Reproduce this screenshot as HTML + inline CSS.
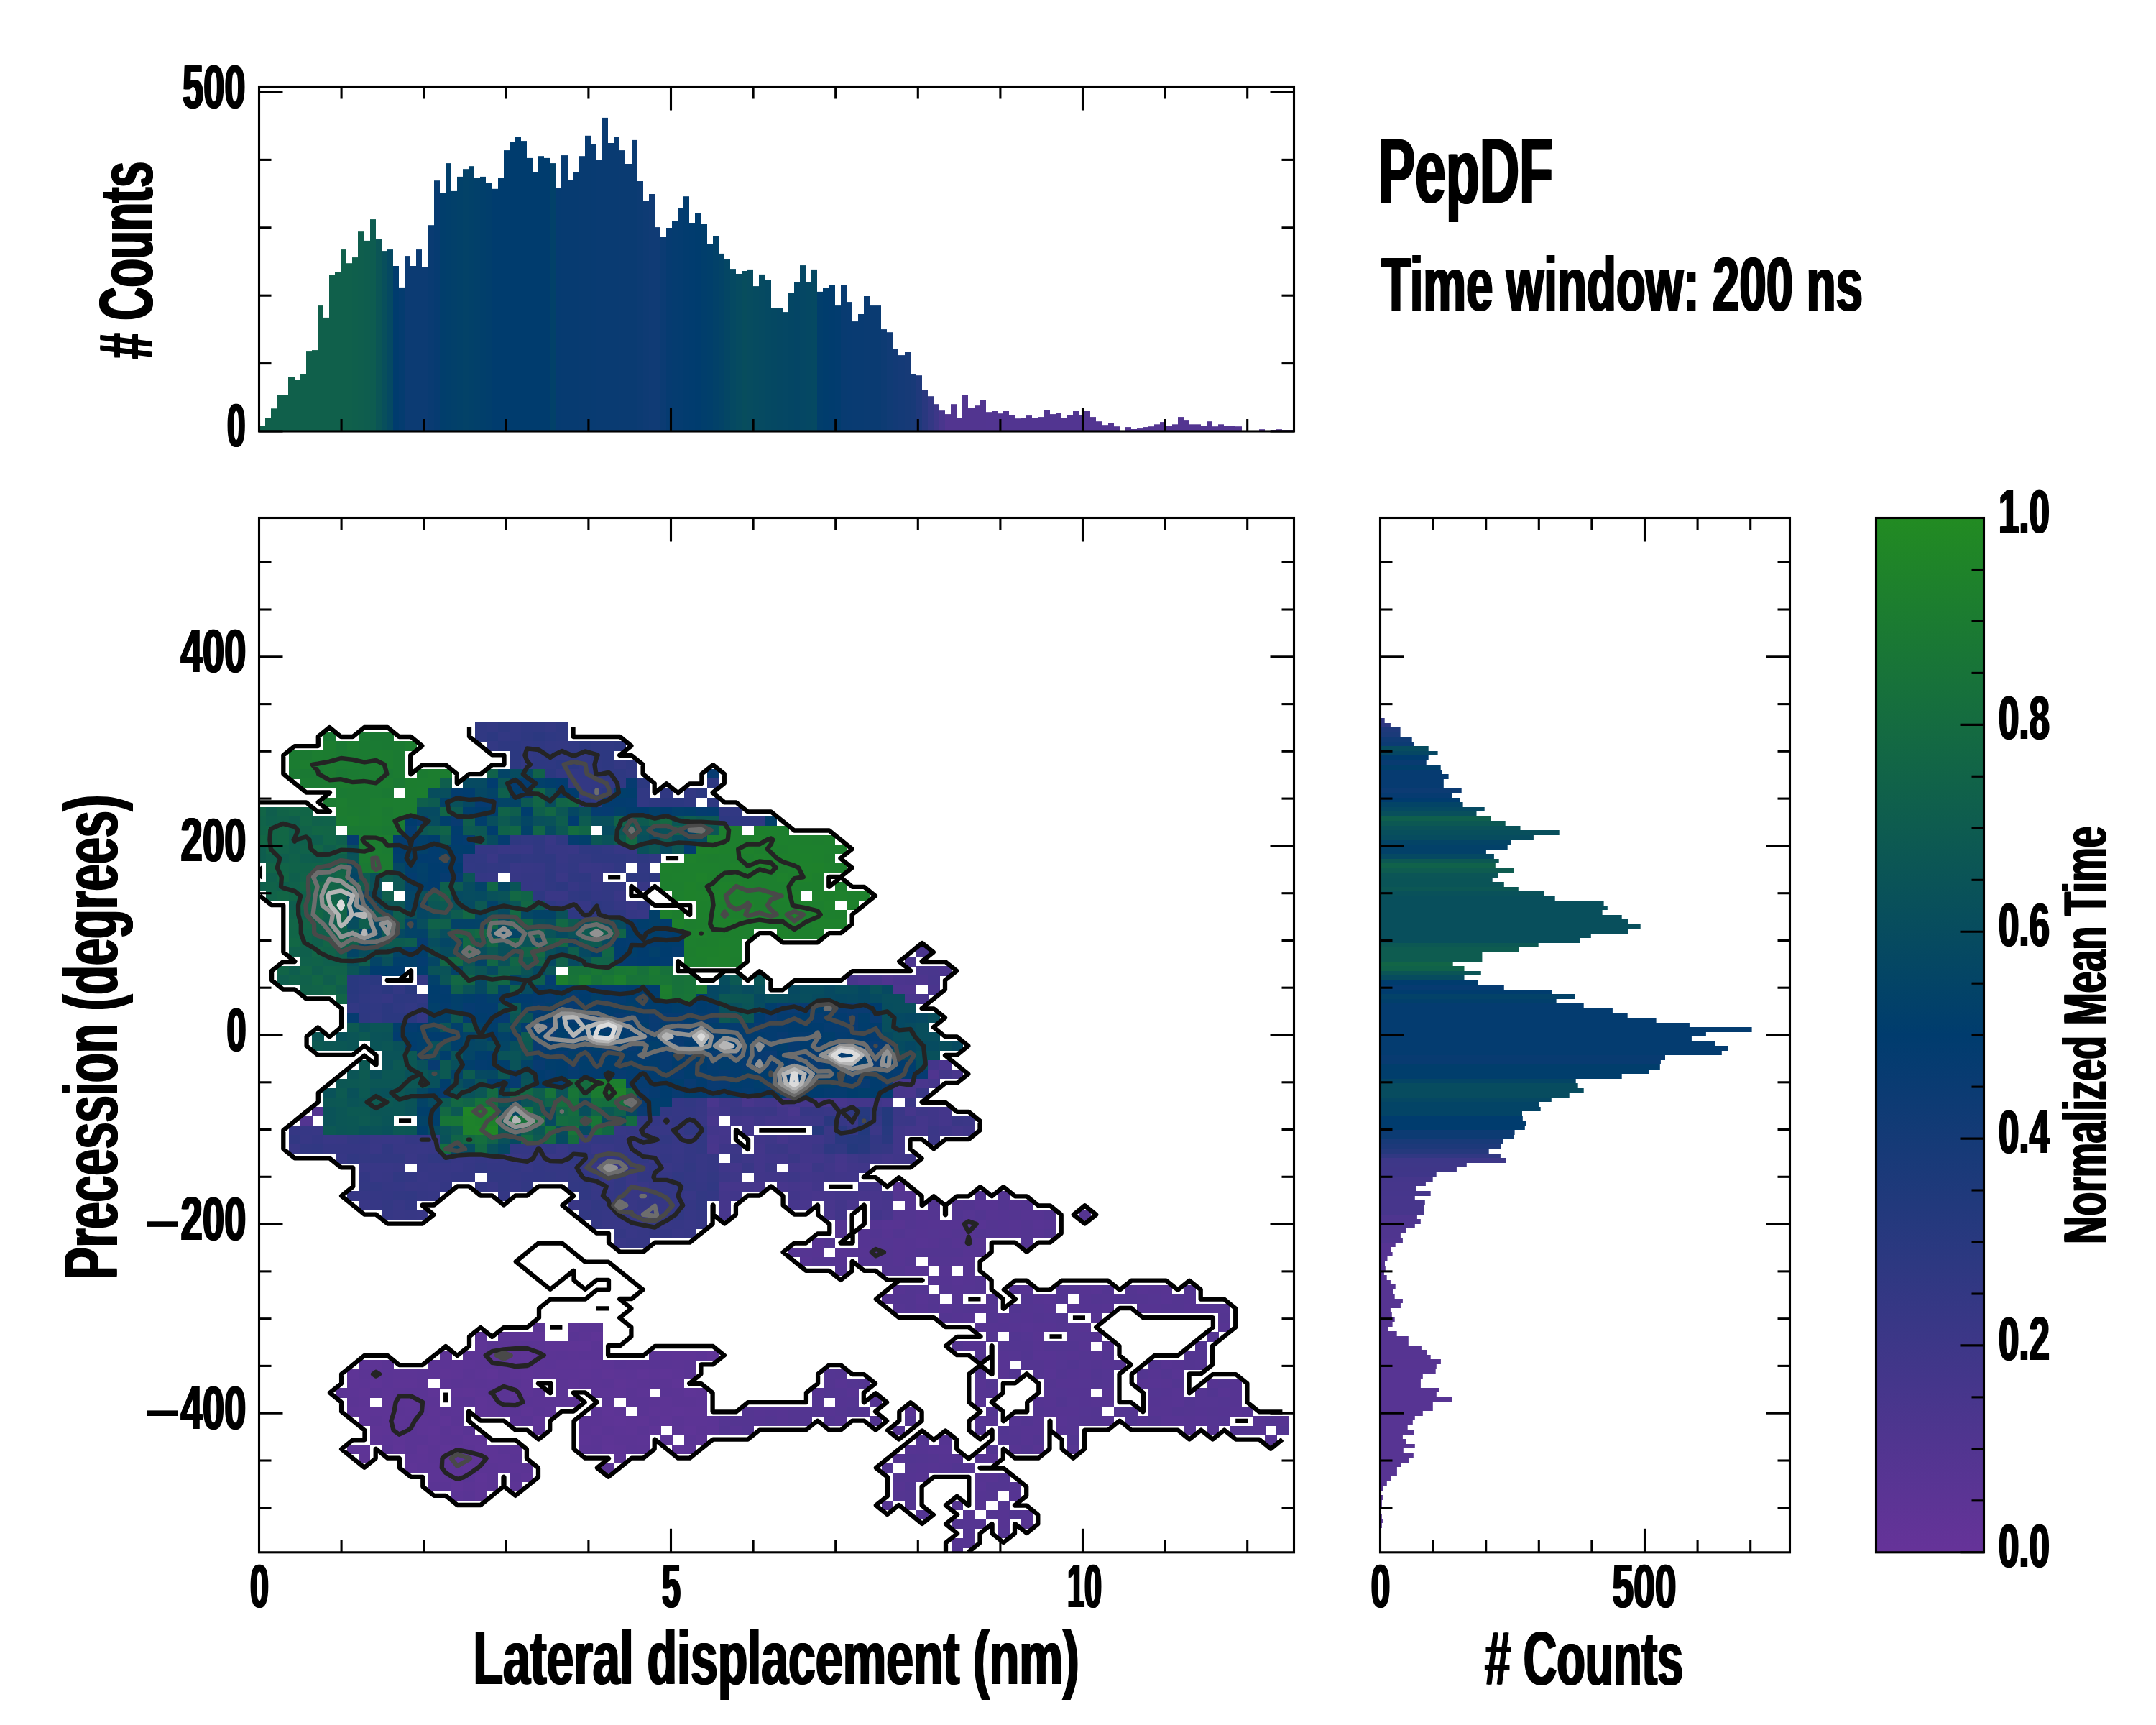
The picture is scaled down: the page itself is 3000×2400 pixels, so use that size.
<!DOCTYPE html><html><head><meta charset="utf-8"><title>PepDF</title><style>html,body{margin:0;padding:0;background:#fff}svg{display:block}text{font-family:"Liberation Sans",sans-serif;fill:#000}</style></head><body><svg width="3000" height="2400" viewBox="0 0 3000 2400"><rect width="3000" height="2400" fill="#fff"/><rect x="361" y="592.0" width="8" height="8.0" fill="#10604b"/>
<rect x="369" y="581.0" width="8" height="19.0" fill="#10604b"/>
<rect x="377" y="568.3" width="8" height="31.7" fill="#10604b"/>
<rect x="385" y="549.1" width="8" height="50.9" fill="#10604b"/>
<rect x="393" y="550.0" width="8" height="50.0" fill="#10604b"/>
<rect x="401" y="524.2" width="9" height="75.8" fill="#10604b"/>
<rect x="410" y="528.0" width="8" height="72.0" fill="#10604b"/>
<rect x="418" y="521.0" width="8" height="79.0" fill="#10604b"/>
<rect x="426" y="489.1" width="8" height="110.9" fill="#10604b"/>
<rect x="434" y="487.1" width="8" height="112.9" fill="#10604b"/>
<rect x="442" y="425.1" width="8" height="174.9" fill="#10604b"/>
<rect x="450" y="441.9" width="8" height="158.1" fill="#10604b"/>
<rect x="458" y="383.0" width="8" height="217.0" fill="#10604b"/>
<rect x="466" y="378.1" width="8" height="221.9" fill="#10604b"/>
<rect x="474" y="347.1" width="8" height="252.9" fill="#10604b"/>
<rect x="482" y="366.2" width="8" height="233.8" fill="#10604b"/>
<rect x="490" y="358.1" width="8" height="241.9" fill="#0f5f4c"/>
<rect x="498" y="322.2" width="9" height="277.8" fill="#0f5e4d"/>
<rect x="507" y="334.9" width="8" height="265.1" fill="#0e5d4e"/>
<rect x="515" y="305.1" width="8" height="294.9" fill="#0e5c50"/>
<rect x="523" y="332.9" width="8" height="267.1" fill="#0b5556"/>
<rect x="531" y="349.1" width="8" height="250.9" fill="#084f5c"/>
<rect x="539" y="347.1" width="8" height="252.9" fill="#054962"/>
<rect x="547" y="370.0" width="8" height="230.0" fill="#003c6e"/>
<rect x="555" y="399.9" width="8" height="200.1" fill="#043c70"/>
<rect x="563" y="356.1" width="8" height="243.9" fill="#0c3b73"/>
<rect x="571" y="370.0" width="8" height="230.0" fill="#0c3b73"/>
<rect x="579" y="347.1" width="8" height="252.9" fill="#0c3b73"/>
<rect x="587" y="371.2" width="8" height="228.8" fill="#0c3b73"/>
<rect x="595" y="313.2" width="9" height="286.8" fill="#093b72"/>
<rect x="604" y="251.2" width="8" height="348.8" fill="#063b71"/>
<rect x="612" y="268.8" width="8" height="331.2" fill="#013e6c"/>
<rect x="620" y="227.1" width="8" height="372.9" fill="#013f6b"/>
<rect x="628" y="265.9" width="8" height="334.1" fill="#02406a"/>
<rect x="636" y="245.9" width="8" height="354.1" fill="#024169"/>
<rect x="644" y="235.2" width="8" height="364.8" fill="#034268"/>
<rect x="652" y="231.2" width="8" height="368.8" fill="#024169"/>
<rect x="660" y="248.0" width="8" height="352.0" fill="#02406a"/>
<rect x="668" y="245.9" width="8" height="354.1" fill="#013f6b"/>
<rect x="676" y="254.1" width="8" height="345.9" fill="#013e6c"/>
<rect x="684" y="262.8" width="9" height="337.2" fill="#003c6e"/>
<rect x="693" y="248.0" width="8" height="352.0" fill="#003c6e"/>
<rect x="701" y="209.1" width="8" height="390.9" fill="#003c6e"/>
<rect x="709" y="197.0" width="8" height="403.0" fill="#003c6e"/>
<rect x="717" y="190.9" width="8" height="409.1" fill="#003c6e"/>
<rect x="725" y="196.1" width="8" height="403.9" fill="#003c6e"/>
<rect x="733" y="219.9" width="8" height="380.1" fill="#003c6e"/>
<rect x="741" y="239.9" width="8" height="360.1" fill="#003c6e"/>
<rect x="749" y="217.2" width="8" height="382.8" fill="#003c6e"/>
<rect x="757" y="219.9" width="8" height="380.1" fill="#003c6e"/>
<rect x="765" y="227.1" width="8" height="372.9" fill="#024169"/>
<rect x="773" y="261.9" width="8" height="338.1" fill="#063b71"/>
<rect x="781" y="216.1" width="9" height="383.9" fill="#073b71"/>
<rect x="790" y="250.0" width="8" height="350.0" fill="#073b71"/>
<rect x="798" y="239.0" width="8" height="361.0" fill="#073b71"/>
<rect x="806" y="217.2" width="8" height="382.8" fill="#083b71"/>
<rect x="814" y="188.8" width="8" height="411.2" fill="#083b71"/>
<rect x="822" y="201.0" width="8" height="399.0" fill="#083b72"/>
<rect x="830" y="223.0" width="8" height="377.0" fill="#093b72"/>
<rect x="838" y="163.9" width="8" height="436.1" fill="#093b72"/>
<rect x="846" y="199.0" width="8" height="401.0" fill="#093b72"/>
<rect x="854" y="190.0" width="8" height="410.0" fill="#093b72"/>
<rect x="862" y="209.1" width="8" height="390.9" fill="#0a3b72"/>
<rect x="870" y="228.0" width="9" height="372.0" fill="#0a3b72"/>
<rect x="879" y="194.9" width="8" height="405.1" fill="#0a3b72"/>
<rect x="887" y="252.0" width="8" height="348.0" fill="#0c3b73"/>
<rect x="895" y="279.9" width="8" height="320.1" fill="#0e3b74"/>
<rect x="903" y="270.0" width="8" height="330.0" fill="#103b75"/>
<rect x="911" y="316.1" width="8" height="283.9" fill="#103b75"/>
<rect x="919" y="330.0" width="8" height="270.0" fill="#0b3b73"/>
<rect x="927" y="317.0" width="8" height="283.0" fill="#063b71"/>
<rect x="935" y="307.1" width="8" height="292.9" fill="#053c70"/>
<rect x="943" y="289.1" width="8" height="310.9" fill="#043c70"/>
<rect x="951" y="273.2" width="8" height="326.8" fill="#023c6f"/>
<rect x="959" y="310.0" width="8" height="290.0" fill="#013c6f"/>
<rect x="967" y="297.0" width="9" height="303.0" fill="#003c6e"/>
<rect x="976" y="312.0" width="8" height="288.0" fill="#013e6c"/>
<rect x="984" y="339.0" width="8" height="261.0" fill="#013f6b"/>
<rect x="992" y="328.0" width="8" height="272.0" fill="#024169"/>
<rect x="1000" y="352.9" width="8" height="247.1" fill="#034367"/>
<rect x="1008" y="361.0" width="8" height="239.0" fill="#044664"/>
<rect x="1016" y="374.1" width="8" height="225.9" fill="#054962"/>
<rect x="1024" y="381.0" width="8" height="219.0" fill="#064b60"/>
<rect x="1032" y="377.0" width="8" height="223.0" fill="#074d5d"/>
<rect x="1040" y="374.9" width="8" height="225.1" fill="#074c5f"/>
<rect x="1048" y="398.1" width="8" height="201.9" fill="#064b60"/>
<rect x="1056" y="381.9" width="8" height="218.1" fill="#064a61"/>
<rect x="1064" y="390.0" width="9" height="210.0" fill="#054962"/>
<rect x="1073" y="428.0" width="8" height="172.0" fill="#054862"/>
<rect x="1081" y="428.0" width="8" height="172.0" fill="#054763"/>
<rect x="1089" y="434.1" width="8" height="165.9" fill="#054764"/>
<rect x="1097" y="407.1" width="8" height="192.9" fill="#044664"/>
<rect x="1105" y="392.0" width="8" height="208.0" fill="#044565"/>
<rect x="1113" y="369.1" width="8" height="230.9" fill="#054764"/>
<rect x="1121" y="392.0" width="8" height="208.0" fill="#054863"/>
<rect x="1129" y="374.9" width="8" height="225.1" fill="#054962"/>
<rect x="1137" y="405.9" width="8" height="194.1" fill="#013e6c"/>
<rect x="1145" y="401.0" width="8" height="199.0" fill="#003d6d"/>
<rect x="1153" y="396.1" width="9" height="203.9" fill="#013c6e"/>
<rect x="1162" y="425.1" width="8" height="174.9" fill="#023c6f"/>
<rect x="1170" y="396.1" width="8" height="203.9" fill="#083b71"/>
<rect x="1178" y="420.1" width="8" height="179.9" fill="#083b72"/>
<rect x="1186" y="447.1" width="8" height="152.9" fill="#093b72"/>
<rect x="1194" y="437.0" width="8" height="163.0" fill="#093b72"/>
<rect x="1202" y="412.0" width="8" height="188.0" fill="#0a3b72"/>
<rect x="1210" y="425.1" width="8" height="174.9" fill="#0a3b72"/>
<rect x="1218" y="425.1" width="8" height="174.9" fill="#0a3b72"/>
<rect x="1226" y="458.1" width="8" height="141.9" fill="#0d3b73"/>
<rect x="1234" y="462.2" width="8" height="137.8" fill="#103b75"/>
<rect x="1242" y="485.9" width="8" height="114.1" fill="#123a76"/>
<rect x="1250" y="494.1" width="9" height="105.9" fill="#143a77"/>
<rect x="1259" y="490.0" width="8" height="110.0" fill="#163a77"/>
<rect x="1267" y="521.0" width="8" height="79.0" fill="#183a78"/>
<rect x="1275" y="522.2" width="8" height="77.8" fill="#1f397b"/>
<rect x="1283" y="543.0" width="8" height="57.0" fill="#29387f"/>
<rect x="1291" y="551.2" width="8" height="48.8" fill="#333884"/>
<rect x="1299" y="562.2" width="8" height="37.8" fill="#3d3788"/>
<rect x="1307" y="571.2" width="8" height="28.8" fill="#49368d"/>
<rect x="1315" y="576.1" width="8" height="23.9" fill="#523590"/>
<rect x="1323" y="562.2" width="8" height="37.8" fill="#523590"/>
<rect x="1331" y="581.0" width="8" height="19.0" fill="#523590"/>
<rect x="1339" y="550.0" width="8" height="50.0" fill="#523590"/>
<rect x="1347" y="568.0" width="9" height="32.0" fill="#523590"/>
<rect x="1356" y="564.2" width="8" height="35.8" fill="#523590"/>
<rect x="1364" y="556.1" width="8" height="43.9" fill="#523590"/>
<rect x="1372" y="573.2" width="8" height="26.8" fill="#523591"/>
<rect x="1380" y="572.0" width="8" height="28.0" fill="#523591"/>
<rect x="1388" y="575.2" width="8" height="24.8" fill="#523591"/>
<rect x="1396" y="572.0" width="8" height="28.0" fill="#523591"/>
<rect x="1404" y="577.0" width="8" height="23.0" fill="#523591"/>
<rect x="1412" y="582.2" width="8" height="17.8" fill="#523591"/>
<rect x="1420" y="581.0" width="8" height="19.0" fill="#523591"/>
<rect x="1428" y="578.1" width="8" height="21.9" fill="#523591"/>
<rect x="1436" y="581.0" width="9" height="19.0" fill="#523591"/>
<rect x="1445" y="580.1" width="8" height="19.9" fill="#523591"/>
<rect x="1453" y="570.0" width="8" height="30.0" fill="#523591"/>
<rect x="1461" y="576.1" width="8" height="23.9" fill="#523591"/>
<rect x="1469" y="574.1" width="8" height="25.9" fill="#523591"/>
<rect x="1477" y="581.0" width="8" height="19.0" fill="#523591"/>
<rect x="1485" y="577.0" width="8" height="23.0" fill="#523591"/>
<rect x="1493" y="572.0" width="8" height="28.0" fill="#523591"/>
<rect x="1501" y="577.0" width="8" height="23.0" fill="#523591"/>
<rect x="1509" y="572.0" width="8" height="28.0" fill="#523591"/>
<rect x="1517" y="580.1" width="8" height="19.9" fill="#523591"/>
<rect x="1525" y="586.2" width="8" height="13.8" fill="#523591"/>
<rect x="1533" y="591.2" width="9" height="8.8" fill="#533591"/>
<rect x="1542" y="588.3" width="8" height="11.7" fill="#533591"/>
<rect x="1550" y="593.2" width="8" height="6.8" fill="#533591"/>
<rect x="1566" y="594.1" width="8" height="5.9" fill="#533591"/>
<rect x="1574" y="597.0" width="8" height="3.0" fill="#533591"/>
<rect x="1582" y="596.1" width="8" height="3.9" fill="#533591"/>
<rect x="1590" y="594.1" width="8" height="5.9" fill="#533591"/>
<rect x="1598" y="593.2" width="8" height="6.8" fill="#533591"/>
<rect x="1606" y="590.3" width="8" height="9.7" fill="#533591"/>
<rect x="1614" y="587.1" width="8" height="12.9" fill="#533591"/>
<rect x="1622" y="592.0" width="9" height="8.0" fill="#533591"/>
<rect x="1631" y="590.3" width="8" height="9.7" fill="#533591"/>
<rect x="1639" y="580.1" width="8" height="19.9" fill="#533591"/>
<rect x="1647" y="585.1" width="8" height="14.9" fill="#533591"/>
<rect x="1655" y="590.3" width="8" height="9.7" fill="#533591"/>
<rect x="1663" y="590.3" width="8" height="9.7" fill="#533591"/>
<rect x="1671" y="592.0" width="8" height="8.0" fill="#533591"/>
<rect x="1679" y="586.2" width="8" height="13.8" fill="#533591"/>
<rect x="1687" y="593.2" width="8" height="6.8" fill="#533591"/>
<rect x="1695" y="590.3" width="8" height="9.7" fill="#533591"/>
<rect x="1703" y="592.6" width="8" height="7.4" fill="#533591"/>
<rect x="1711" y="592.0" width="8" height="8.0" fill="#533591"/>
<rect x="1719" y="593.2" width="9" height="6.8" fill="#533591"/>
<rect x="1744" y="599.3" width="8" height="0.7" fill="#533591"/>
<rect x="1752" y="597.2" width="8" height="2.8" fill="#533591"/>
<rect x="1760" y="599.0" width="8" height="1.0" fill="#543591"/>
<rect x="1768" y="598.1" width="8" height="1.9" fill="#543591"/>
<rect x="1776" y="597.2" width="8" height="2.8" fill="#543591"/>
<rect x="1784" y="598.1" width="8" height="1.9" fill="#543591"/>
<rect x="1792" y="598.1" width="8" height="1.9" fill="#543591"/>
<rect x="1921" y="999" width="5.7" height="7" fill="#333884"/>
<rect x="1921" y="1006" width="13.9" height="6" fill="#2f3882"/>
<rect x="1921" y="1012" width="27.6" height="7" fill="#1f397b"/>
<rect x="1921" y="1019" width="27.6" height="6" fill="#1b3a79"/>
<rect x="1921" y="1025" width="43.7" height="7" fill="#103b75"/>
<rect x="1921" y="1032" width="46.7" height="6" fill="#0c3b73"/>
<rect x="1921" y="1038" width="66.7" height="7" fill="#074c5f"/>
<rect x="1921" y="1045" width="79.6" height="6" fill="#054763"/>
<rect x="1921" y="1051" width="66.7" height="7" fill="#003c6e"/>
<rect x="1921" y="1058" width="63.7" height="6" fill="#083b71"/>
<rect x="1921" y="1064" width="83.7" height="7" fill="#013f6b"/>
<rect x="1921" y="1071" width="85.3" height="6" fill="#063b71"/>
<rect x="1921" y="1077" width="94.6" height="7" fill="#063b71"/>
<rect x="1921" y="1084" width="87.8" height="6" fill="#063b71"/>
<rect x="1921" y="1090" width="87.8" height="7" fill="#063b71"/>
<rect x="1921" y="1097" width="112.7" height="6" fill="#0c3b73"/>
<rect x="1921" y="1103" width="99.6" height="7" fill="#063b71"/>
<rect x="1921" y="1110" width="110.5" height="6" fill="#003c6e"/>
<rect x="1921" y="1116" width="114.6" height="7" fill="#034466"/>
<rect x="1921" y="1123" width="144.7" height="6" fill="#054962"/>
<rect x="1921" y="1129" width="133.5" height="7" fill="#084f5c"/>
<rect x="1921" y="1136" width="153.8" height="6" fill="#0f5f4d"/>
<rect x="1921" y="1142" width="173.7" height="7" fill="#0c5853"/>
<rect x="1921" y="1149" width="194.5" height="6" fill="#0a5259"/>
<rect x="1921" y="1155" width="248.7" height="7" fill="#084f5c"/>
<rect x="1921" y="1162" width="212.9" height="7" fill="#074c5f"/>
<rect x="1921" y="1169" width="181.7" height="6" fill="#034466"/>
<rect x="1921" y="1175" width="176.7" height="7" fill="#024169"/>
<rect x="1921" y="1182" width="146.9" height="6" fill="#024169"/>
<rect x="1921" y="1188" width="157.9" height="7" fill="#054962"/>
<rect x="1921" y="1195" width="164.7" height="6" fill="#0c5853"/>
<rect x="1921" y="1201" width="159.8" height="7" fill="#10624a"/>
<rect x="1921" y="1208" width="185.8" height="6" fill="#0e5c50"/>
<rect x="1921" y="1214" width="163.6" height="7" fill="#0b5556"/>
<rect x="1921" y="1221" width="155.7" height="6" fill="#0a5457"/>
<rect x="1921" y="1227" width="171.8" height="7" fill="#0a5457"/>
<rect x="1921" y="1234" width="191.8" height="6" fill="#0c5754"/>
<rect x="1921" y="1240" width="227.6" height="7" fill="#09515a"/>
<rect x="1921" y="1247" width="242.7" height="6" fill="#084f5c"/>
<rect x="1921" y="1253" width="310.6" height="7" fill="#084f5c"/>
<rect x="1921" y="1260" width="315.8" height="6" fill="#084f5c"/>
<rect x="1921" y="1266" width="308.6" height="7" fill="#084f5c"/>
<rect x="1921" y="1273" width="335.7" height="6" fill="#084f5c"/>
<rect x="1921" y="1279" width="344.8" height="7" fill="#084f5c"/>
<rect x="1921" y="1286" width="361.7" height="6" fill="#084f5c"/>
<rect x="1921" y="1292" width="344.8" height="7" fill="#084f5c"/>
<rect x="1921" y="1299" width="292.8" height="6" fill="#084f5c"/>
<rect x="1921" y="1305" width="277.7" height="7" fill="#084f5c"/>
<rect x="1921" y="1312" width="219.7" height="6" fill="#0c5853"/>
<rect x="1921" y="1318" width="192.6" height="7" fill="#0e5c50"/>
<rect x="1921" y="1325" width="141.4" height="6" fill="#0e5c50"/>
<rect x="1921" y="1331" width="141.4" height="7" fill="#0e5c50"/>
<rect x="1921" y="1338" width="100.7" height="6" fill="#126546"/>
<rect x="1921" y="1344" width="116.5" height="7" fill="#10624a"/>
<rect x="1921" y="1351" width="139.8" height="6" fill="#0b5556"/>
<rect x="1921" y="1357" width="116.5" height="7" fill="#074c5f"/>
<rect x="1921" y="1364" width="135.7" height="6" fill="#003c6e"/>
<rect x="1921" y="1370" width="171.8" height="7" fill="#063b71"/>
<rect x="1921" y="1377" width="238.6" height="6" fill="#003c6e"/>
<rect x="1921" y="1383" width="270.9" height="7" fill="#034268"/>
<rect x="1921" y="1390" width="244.6" height="6" fill="#013f6b"/>
<rect x="1921" y="1396" width="282.7" height="7" fill="#043c70"/>
<rect x="1921" y="1403" width="322.9" height="7" fill="#043c70"/>
<rect x="1921" y="1410" width="343.7" height="6" fill="#043c70"/>
<rect x="1921" y="1416" width="383.6" height="7" fill="#043c70"/>
<rect x="1921" y="1423" width="429.9" height="6" fill="#043c70"/>
<rect x="1921" y="1429" width="516.6" height="7" fill="#043c70"/>
<rect x="1921" y="1436" width="452.9" height="6" fill="#043c70"/>
<rect x="1921" y="1442" width="432.9" height="7" fill="#043c70"/>
<rect x="1921" y="1449" width="465.7" height="6" fill="#043c70"/>
<rect x="1921" y="1455" width="483.0" height="7" fill="#043c70"/>
<rect x="1921" y="1462" width="474.8" height="6" fill="#043c70"/>
<rect x="1921" y="1468" width="396.0" height="7" fill="#083b71"/>
<rect x="1921" y="1475" width="389.9" height="6" fill="#083b71"/>
<rect x="1921" y="1481" width="388.8" height="7" fill="#013e6c"/>
<rect x="1921" y="1488" width="373.8" height="6" fill="#013e6c"/>
<rect x="1921" y="1494" width="335.7" height="7" fill="#013e6c"/>
<rect x="1921" y="1501" width="271.7" height="6" fill="#044565"/>
<rect x="1921" y="1507" width="274.7" height="7" fill="#074c5f"/>
<rect x="1921" y="1514" width="282.7" height="6" fill="#074c5f"/>
<rect x="1921" y="1520" width="262.7" height="7" fill="#074c5f"/>
<rect x="1921" y="1527" width="237.8" height="6" fill="#054763"/>
<rect x="1921" y="1533" width="220.0" height="7" fill="#034466"/>
<rect x="1921" y="1540" width="222.7" height="6" fill="#034466"/>
<rect x="1921" y="1546" width="197.0" height="7" fill="#034466"/>
<rect x="1921" y="1553" width="197.8" height="6" fill="#003c6e"/>
<rect x="1921" y="1559" width="202.7" height="7" fill="#003c6e"/>
<rect x="1921" y="1566" width="200.8" height="6" fill="#003c6e"/>
<rect x="1921" y="1572" width="186.6" height="7" fill="#0c3b73"/>
<rect x="1921" y="1579" width="185.8" height="6" fill="#0c3b73"/>
<rect x="1921" y="1585" width="170.7" height="7" fill="#183a78"/>
<rect x="1921" y="1592" width="167.7" height="6" fill="#1d397a"/>
<rect x="1921" y="1598" width="150.7" height="7" fill="#25397d"/>
<rect x="1921" y="1605" width="166.9" height="6" fill="#313883"/>
<rect x="1921" y="1611" width="174.8" height="7" fill="#3d3788"/>
<rect x="1921" y="1618" width="119.8" height="6" fill="#3e3788"/>
<rect x="1921" y="1624" width="105.9" height="7" fill="#3f3688"/>
<rect x="1921" y="1631" width="77.7" height="6" fill="#3f3689"/>
<rect x="1921" y="1637" width="72.7" height="7" fill="#45368b"/>
<rect x="1921" y="1644" width="62.9" height="6" fill="#46368b"/>
<rect x="1921" y="1650" width="49.8" height="7" fill="#46368b"/>
<rect x="1921" y="1657" width="69.7" height="7" fill="#46368c"/>
<rect x="1921" y="1664" width="47.8" height="6" fill="#47368c"/>
<rect x="1921" y="1670" width="61.8" height="7" fill="#47368c"/>
<rect x="1921" y="1677" width="60.7" height="6" fill="#47368c"/>
<rect x="1921" y="1683" width="60.7" height="7" fill="#47368c"/>
<rect x="1921" y="1690" width="50.9" height="6" fill="#4e358f"/>
<rect x="1921" y="1696" width="55.8" height="7" fill="#4e358f"/>
<rect x="1921" y="1703" width="47.8" height="6" fill="#4e358f"/>
<rect x="1921" y="1709" width="35.8" height="7" fill="#4f358f"/>
<rect x="1921" y="1716" width="27.9" height="6" fill="#4f358f"/>
<rect x="1921" y="1722" width="30.9" height="7" fill="#503590"/>
<rect x="1921" y="1729" width="20.7" height="6" fill="#563492"/>
<rect x="1921" y="1735" width="14.7" height="7" fill="#563492"/>
<rect x="1921" y="1742" width="16.6" height="6" fill="#563492"/>
<rect x="1921" y="1748" width="9.5" height="7" fill="#563492"/>
<rect x="1921" y="1755" width="6.0" height="6" fill="#563492"/>
<rect x="1921" y="1761" width="6.8" height="7" fill="#563492"/>
<rect x="1921" y="1768" width="4.9" height="6" fill="#563492"/>
<rect x="1921" y="1774" width="8.7" height="7" fill="#563492"/>
<rect x="1921" y="1781" width="13.9" height="6" fill="#563492"/>
<rect x="1921" y="1787" width="20.7" height="7" fill="#563492"/>
<rect x="1921" y="1794" width="17.7" height="6" fill="#563492"/>
<rect x="1921" y="1800" width="19.7" height="7" fill="#563492"/>
<rect x="1921" y="1807" width="30.9" height="6" fill="#563492"/>
<rect x="1921" y="1813" width="27.9" height="7" fill="#563492"/>
<rect x="1921" y="1820" width="13.9" height="6" fill="#563492"/>
<rect x="1921" y="1826" width="15.8" height="7" fill="#563492"/>
<rect x="1921" y="1833" width="19.7" height="6" fill="#563492"/>
<rect x="1921" y="1839" width="16.6" height="7" fill="#563492"/>
<rect x="1921" y="1846" width="10.9" height="6" fill="#563492"/>
<rect x="1921" y="1852" width="22.7" height="7" fill="#563492"/>
<rect x="1921" y="1859" width="38.8" height="6" fill="#563492"/>
<rect x="1921" y="1865" width="38.8" height="7" fill="#563492"/>
<rect x="1921" y="1872" width="56.9" height="6" fill="#563492"/>
<rect x="1921" y="1878" width="64.8" height="7" fill="#563492"/>
<rect x="1921" y="1885" width="69.7" height="6" fill="#563492"/>
<rect x="1921" y="1891" width="83.9" height="7" fill="#573492"/>
<rect x="1921" y="1898" width="77.8" height="7" fill="#573492"/>
<rect x="1921" y="1905" width="76.7" height="6" fill="#573493"/>
<rect x="1921" y="1911" width="58.8" height="7" fill="#573493"/>
<rect x="1921" y="1918" width="55.9" height="6" fill="#573493"/>
<rect x="1921" y="1924" width="55.9" height="7" fill="#573493"/>
<rect x="1921" y="1931" width="81.9" height="6" fill="#573493"/>
<rect x="1921" y="1937" width="77.8" height="7" fill="#573493"/>
<rect x="1921" y="1944" width="99.0" height="6" fill="#573493"/>
<rect x="1921" y="1950" width="72.8" height="7" fill="#573493"/>
<rect x="1921" y="1957" width="72.8" height="6" fill="#573493"/>
<rect x="1921" y="1963" width="58.8" height="7" fill="#573493"/>
<rect x="1921" y="1970" width="47.8" height="6" fill="#573493"/>
<rect x="1921" y="1976" width="44.8" height="7" fill="#573493"/>
<rect x="1921" y="1983" width="37.7" height="6" fill="#573493"/>
<rect x="1921" y="1989" width="46.8" height="7" fill="#573493"/>
<rect x="1921" y="1996" width="30.9" height="6" fill="#573493"/>
<rect x="1921" y="2002" width="35.9" height="7" fill="#573493"/>
<rect x="1921" y="2009" width="47.8" height="6" fill="#573493"/>
<rect x="1921" y="2015" width="31.8" height="7" fill="#573493"/>
<rect x="1921" y="2022" width="45.8" height="6" fill="#573493"/>
<rect x="1921" y="2028" width="39.8" height="7" fill="#573493"/>
<rect x="1921" y="2035" width="28.8" height="6" fill="#573493"/>
<rect x="1921" y="2041" width="22.9" height="7" fill="#573493"/>
<rect x="1921" y="2048" width="22.9" height="6" fill="#573493"/>
<rect x="1921" y="2054" width="14.8" height="7" fill="#573493"/>
<rect x="1921" y="2061" width="8.8" height="6" fill="#573493"/>
<rect x="1921" y="2067" width="3.9" height="7" fill="#573493"/>
<rect x="1921" y="2080" width="2.9" height="7" fill="#583493"/>
<rect x="1921" y="2087" width="1.8" height="6" fill="#583493"/>
<rect x="1921" y="2093" width="1.8" height="7" fill="#583493"/>
<rect x="1921" y="2106" width="1.8" height="7" fill="#583493"/>
<rect x="1921" y="2113" width="2.9" height="6" fill="#583493"/>
<rect x="1921" y="2119" width="1.8" height="7" fill="#583493"/>
<clipPath id="mc"><rect x="360.5" y="720.5" width="1440.0" height="1439.3000000000002"/></clipPath>
<g clip-path="url(#mc)">
<g shape-rendering="crispEdges">
<rect x="660.59" y="1005.1" width="16.57" height="13.40" fill="#303882"/>
<rect x="676.76" y="1005.1" width="16.57" height="13.40" fill="#323883"/>
<rect x="692.93" y="1005.1" width="16.57" height="13.40" fill="#2e3881"/>
<rect x="709.10" y="1005.1" width="16.57" height="13.40" fill="#323883"/>
<rect x="725.27" y="1005.1" width="16.57" height="13.40" fill="#2f3882"/>
<rect x="741.44" y="1005.1" width="16.57" height="13.40" fill="#303882"/>
<rect x="757.61" y="1005.1" width="16.57" height="13.40" fill="#333883"/>
<rect x="773.78" y="1005.1" width="16.57" height="13.40" fill="#2f3882"/>
<rect x="450.38" y="1018.1" width="16.57" height="13.50" fill="#1a7933"/>
<rect x="498.89" y="1018.1" width="16.57" height="13.50" fill="#1b7b32"/>
<rect x="515.06" y="1018.1" width="16.57" height="13.50" fill="#1a7933"/>
<rect x="531.23" y="1018.1" width="16.57" height="13.50" fill="#1a7933"/>
<rect x="660.59" y="1018.1" width="16.57" height="13.50" fill="#303882"/>
<rect x="676.76" y="1018.1" width="16.57" height="13.50" fill="#2c3881"/>
<rect x="692.93" y="1018.1" width="16.57" height="13.50" fill="#323883"/>
<rect x="709.10" y="1018.1" width="16.57" height="13.50" fill="#313883"/>
<rect x="725.27" y="1018.1" width="16.57" height="13.50" fill="#2e3881"/>
<rect x="741.44" y="1018.1" width="16.57" height="13.50" fill="#2b3880"/>
<rect x="757.61" y="1018.1" width="16.57" height="13.50" fill="#2e3882"/>
<rect x="773.78" y="1018.1" width="16.57" height="13.50" fill="#303882"/>
<rect x="450.38" y="1031.2" width="16.57" height="13.40" fill="#1c7d2f"/>
<rect x="466.55" y="1031.2" width="16.57" height="13.40" fill="#1a7933"/>
<rect x="482.72" y="1031.2" width="16.57" height="13.40" fill="#1c7d30"/>
<rect x="498.89" y="1031.2" width="16.57" height="13.40" fill="#1b7a32"/>
<rect x="515.06" y="1031.2" width="16.57" height="13.40" fill="#1a7a33"/>
<rect x="531.23" y="1031.2" width="16.57" height="13.40" fill="#1a7933"/>
<rect x="547.40" y="1031.2" width="16.57" height="13.40" fill="#1b7a32"/>
<rect x="563.57" y="1031.2" width="16.57" height="13.40" fill="#1c7d30"/>
<rect x="676.76" y="1031.2" width="16.57" height="13.40" fill="#323883"/>
<rect x="692.93" y="1031.2" width="16.57" height="13.40" fill="#2e3881"/>
<rect x="709.10" y="1031.2" width="16.57" height="13.40" fill="#2e3881"/>
<rect x="725.27" y="1031.2" width="16.57" height="13.40" fill="#303882"/>
<rect x="741.44" y="1031.2" width="16.57" height="13.40" fill="#2f3882"/>
<rect x="757.61" y="1031.2" width="16.57" height="13.40" fill="#323883"/>
<rect x="773.78" y="1031.2" width="16.57" height="13.40" fill="#333883"/>
<rect x="789.95" y="1031.2" width="16.57" height="13.40" fill="#313883"/>
<rect x="806.12" y="1031.2" width="16.57" height="13.40" fill="#2d3881"/>
<rect x="822.29" y="1031.2" width="16.57" height="13.40" fill="#303882"/>
<rect x="838.46" y="1031.2" width="16.57" height="13.40" fill="#303882"/>
<rect x="854.63" y="1031.2" width="16.57" height="13.40" fill="#2e3881"/>
<rect x="401.87" y="1044.2" width="16.57" height="13.50" fill="#1b7b31"/>
<rect x="418.04" y="1044.2" width="16.57" height="13.50" fill="#1b7a32"/>
<rect x="434.21" y="1044.2" width="16.57" height="13.50" fill="#1c7d30"/>
<rect x="450.38" y="1044.2" width="16.57" height="13.50" fill="#1c7c30"/>
<rect x="466.55" y="1044.2" width="16.57" height="13.50" fill="#1b7a32"/>
<rect x="482.72" y="1044.2" width="16.57" height="13.50" fill="#1b7c31"/>
<rect x="498.89" y="1044.2" width="16.57" height="13.50" fill="#1b7b31"/>
<rect x="515.06" y="1044.2" width="16.57" height="13.50" fill="#1c7d2f"/>
<rect x="531.23" y="1044.2" width="16.57" height="13.50" fill="#1c7c30"/>
<rect x="547.40" y="1044.2" width="16.57" height="13.50" fill="#1b7a32"/>
<rect x="709.10" y="1044.2" width="16.57" height="13.50" fill="#2b3880"/>
<rect x="725.27" y="1044.2" width="16.57" height="13.50" fill="#323883"/>
<rect x="741.44" y="1044.2" width="16.57" height="13.50" fill="#303882"/>
<rect x="757.61" y="1044.2" width="16.57" height="13.50" fill="#2d3881"/>
<rect x="773.78" y="1044.2" width="16.57" height="13.50" fill="#323883"/>
<rect x="789.95" y="1044.2" width="16.57" height="13.50" fill="#2f3882"/>
<rect x="806.12" y="1044.2" width="16.57" height="13.50" fill="#333883"/>
<rect x="822.29" y="1044.2" width="16.57" height="13.50" fill="#2e3881"/>
<rect x="838.46" y="1044.2" width="16.57" height="13.50" fill="#2d3881"/>
<rect x="401.87" y="1057.3" width="16.57" height="13.40" fill="#1b7c31"/>
<rect x="418.04" y="1057.3" width="16.57" height="13.40" fill="#1c7d2f"/>
<rect x="434.21" y="1057.3" width="16.57" height="13.40" fill="#1b7a32"/>
<rect x="450.38" y="1057.3" width="16.57" height="13.40" fill="#1c7c30"/>
<rect x="466.55" y="1057.3" width="16.57" height="13.40" fill="#1b7c31"/>
<rect x="482.72" y="1057.3" width="16.57" height="13.40" fill="#1b7c31"/>
<rect x="498.89" y="1057.3" width="16.57" height="13.40" fill="#1b7b31"/>
<rect x="515.06" y="1057.3" width="16.57" height="13.40" fill="#1c7d30"/>
<rect x="531.23" y="1057.3" width="16.57" height="13.40" fill="#1c7d2f"/>
<rect x="547.40" y="1057.3" width="16.57" height="13.40" fill="#1b7b31"/>
<rect x="709.10" y="1057.3" width="16.57" height="13.40" fill="#2e3881"/>
<rect x="725.27" y="1057.3" width="16.57" height="13.40" fill="#333883"/>
<rect x="741.44" y="1057.3" width="16.57" height="13.40" fill="#2d3881"/>
<rect x="757.61" y="1057.3" width="16.57" height="13.40" fill="#2e3881"/>
<rect x="773.78" y="1057.3" width="16.57" height="13.40" fill="#2b3880"/>
<rect x="789.95" y="1057.3" width="16.57" height="13.40" fill="#2c3881"/>
<rect x="806.12" y="1057.3" width="16.57" height="13.40" fill="#313883"/>
<rect x="822.29" y="1057.3" width="16.57" height="13.40" fill="#303882"/>
<rect x="838.46" y="1057.3" width="16.57" height="13.40" fill="#2e3881"/>
<rect x="854.63" y="1057.3" width="16.57" height="13.40" fill="#333883"/>
<rect x="870.80" y="1057.3" width="16.57" height="13.40" fill="#2f3882"/>
<rect x="401.87" y="1070.3" width="16.57" height="13.50" fill="#1b7a33"/>
<rect x="418.04" y="1070.3" width="16.57" height="13.50" fill="#1a7933"/>
<rect x="434.21" y="1070.3" width="16.57" height="13.50" fill="#1a7933"/>
<rect x="450.38" y="1070.3" width="16.57" height="13.50" fill="#1c7c30"/>
<rect x="466.55" y="1070.3" width="16.57" height="13.50" fill="#1a7933"/>
<rect x="482.72" y="1070.3" width="16.57" height="13.50" fill="#1b7a32"/>
<rect x="498.89" y="1070.3" width="16.57" height="13.50" fill="#1b7b32"/>
<rect x="515.06" y="1070.3" width="16.57" height="13.50" fill="#1c7d30"/>
<rect x="531.23" y="1070.3" width="16.57" height="13.50" fill="#1a7933"/>
<rect x="547.40" y="1070.3" width="16.57" height="13.50" fill="#1b7b31"/>
<rect x="579.74" y="1070.3" width="16.57" height="13.50" fill="#1b7b31"/>
<rect x="595.91" y="1070.3" width="16.57" height="13.50" fill="#1c7d2f"/>
<rect x="612.08" y="1070.3" width="16.57" height="13.50" fill="#1c7d30"/>
<rect x="676.76" y="1070.3" width="16.57" height="13.50" fill="#10614a"/>
<rect x="692.93" y="1070.3" width="16.57" height="13.50" fill="#034467"/>
<rect x="709.10" y="1070.3" width="16.57" height="13.50" fill="#064b60"/>
<rect x="725.27" y="1070.3" width="16.57" height="13.50" fill="#054863"/>
<rect x="741.44" y="1070.3" width="16.57" height="13.50" fill="#116249"/>
<rect x="757.61" y="1070.3" width="16.57" height="13.50" fill="#2b3880"/>
<rect x="773.78" y="1070.3" width="16.57" height="13.50" fill="#323883"/>
<rect x="789.95" y="1070.3" width="16.57" height="13.50" fill="#323883"/>
<rect x="806.12" y="1070.3" width="16.57" height="13.50" fill="#313883"/>
<rect x="822.29" y="1070.3" width="16.57" height="13.50" fill="#313883"/>
<rect x="838.46" y="1070.3" width="16.57" height="13.50" fill="#2f3882"/>
<rect x="854.63" y="1070.3" width="16.57" height="13.50" fill="#2e3881"/>
<rect x="870.80" y="1070.3" width="16.57" height="13.50" fill="#313883"/>
<rect x="983.99" y="1070.3" width="16.57" height="13.50" fill="#063b71"/>
<rect x="418.04" y="1083.4" width="16.57" height="13.40" fill="#1b7b32"/>
<rect x="434.21" y="1083.4" width="16.57" height="13.40" fill="#1b7b32"/>
<rect x="450.38" y="1083.4" width="16.57" height="13.40" fill="#1b7c31"/>
<rect x="466.55" y="1083.4" width="16.57" height="13.40" fill="#1c7d2f"/>
<rect x="482.72" y="1083.4" width="16.57" height="13.40" fill="#1c7c30"/>
<rect x="498.89" y="1083.4" width="16.57" height="13.40" fill="#1b7b31"/>
<rect x="515.06" y="1083.4" width="16.57" height="13.40" fill="#1b7c31"/>
<rect x="531.23" y="1083.4" width="16.57" height="13.40" fill="#1c7c30"/>
<rect x="547.40" y="1083.4" width="16.57" height="13.40" fill="#1a7933"/>
<rect x="563.57" y="1083.4" width="16.57" height="13.40" fill="#1c7d2f"/>
<rect x="579.74" y="1083.4" width="16.57" height="13.40" fill="#1c7d30"/>
<rect x="595.91" y="1083.4" width="16.57" height="13.40" fill="#1c7d2f"/>
<rect x="612.08" y="1083.4" width="16.57" height="13.40" fill="#0f5e4d"/>
<rect x="644.42" y="1083.4" width="16.57" height="13.40" fill="#064a61"/>
<rect x="660.59" y="1083.4" width="16.57" height="13.40" fill="#064a61"/>
<rect x="676.76" y="1083.4" width="16.57" height="13.40" fill="#013c6f"/>
<rect x="692.93" y="1083.4" width="16.57" height="13.40" fill="#0b5655"/>
<rect x="709.10" y="1083.4" width="16.57" height="13.40" fill="#043c70"/>
<rect x="725.27" y="1083.4" width="16.57" height="13.40" fill="#043c70"/>
<rect x="741.44" y="1083.4" width="16.57" height="13.40" fill="#02406a"/>
<rect x="757.61" y="1083.4" width="16.57" height="13.40" fill="#013e6c"/>
<rect x="773.78" y="1083.4" width="16.57" height="13.40" fill="#023c6f"/>
<rect x="789.95" y="1083.4" width="16.57" height="13.40" fill="#333883"/>
<rect x="806.12" y="1083.4" width="16.57" height="13.40" fill="#333883"/>
<rect x="822.29" y="1083.4" width="16.57" height="13.40" fill="#323883"/>
<rect x="838.46" y="1083.4" width="16.57" height="13.40" fill="#323883"/>
<rect x="854.63" y="1083.4" width="16.57" height="13.40" fill="#303882"/>
<rect x="870.80" y="1083.4" width="16.57" height="13.40" fill="#063b70"/>
<rect x="886.97" y="1083.4" width="16.57" height="13.40" fill="#2c3880"/>
<rect x="983.99" y="1083.4" width="16.57" height="13.40" fill="#2e3881"/>
<rect x="466.55" y="1096.4" width="16.57" height="13.50" fill="#1a7a33"/>
<rect x="482.72" y="1096.4" width="16.57" height="13.50" fill="#1b7a32"/>
<rect x="498.89" y="1096.4" width="16.57" height="13.50" fill="#1b7a32"/>
<rect x="515.06" y="1096.4" width="16.57" height="13.50" fill="#1b7b32"/>
<rect x="531.23" y="1096.4" width="16.57" height="13.50" fill="#1a7933"/>
<rect x="563.57" y="1096.4" width="16.57" height="13.50" fill="#1c7d30"/>
<rect x="579.74" y="1096.4" width="16.57" height="13.50" fill="#1c7e2f"/>
<rect x="595.91" y="1096.4" width="16.57" height="13.50" fill="#074d5d"/>
<rect x="612.08" y="1096.4" width="16.57" height="13.50" fill="#084e5d"/>
<rect x="628.25" y="1096.4" width="16.57" height="13.50" fill="#033c6f"/>
<rect x="644.42" y="1096.4" width="16.57" height="13.50" fill="#013c6f"/>
<rect x="660.59" y="1096.4" width="16.57" height="13.50" fill="#054763"/>
<rect x="676.76" y="1096.4" width="16.57" height="13.50" fill="#034367"/>
<rect x="692.93" y="1096.4" width="16.57" height="13.50" fill="#0f604c"/>
<rect x="709.10" y="1096.4" width="16.57" height="13.50" fill="#013e6c"/>
<rect x="725.27" y="1096.4" width="16.57" height="13.50" fill="#073b71"/>
<rect x="741.44" y="1096.4" width="16.57" height="13.50" fill="#126646"/>
<rect x="757.61" y="1096.4" width="16.57" height="13.50" fill="#09505a"/>
<rect x="773.78" y="1096.4" width="16.57" height="13.50" fill="#003d6d"/>
<rect x="789.95" y="1096.4" width="16.57" height="13.50" fill="#003c6e"/>
<rect x="806.12" y="1096.4" width="16.57" height="13.50" fill="#333883"/>
<rect x="822.29" y="1096.4" width="16.57" height="13.50" fill="#2f3882"/>
<rect x="838.46" y="1096.4" width="16.57" height="13.50" fill="#2b3880"/>
<rect x="854.63" y="1096.4" width="16.57" height="13.50" fill="#013f6b"/>
<rect x="870.80" y="1096.4" width="16.57" height="13.50" fill="#013e6c"/>
<rect x="886.97" y="1096.4" width="16.57" height="13.50" fill="#313883"/>
<rect x="919.31" y="1096.4" width="16.57" height="13.50" fill="#303882"/>
<rect x="951.65" y="1096.4" width="16.57" height="13.50" fill="#323883"/>
<rect x="967.82" y="1096.4" width="16.57" height="13.50" fill="#2d3881"/>
<rect x="450.38" y="1109.5" width="16.57" height="13.40" fill="#1b7b31"/>
<rect x="466.55" y="1109.5" width="16.57" height="13.40" fill="#1c7d30"/>
<rect x="482.72" y="1109.5" width="16.57" height="13.40" fill="#1b7a32"/>
<rect x="498.89" y="1109.5" width="16.57" height="13.40" fill="#1b7a32"/>
<rect x="515.06" y="1109.5" width="16.57" height="13.40" fill="#1c7d30"/>
<rect x="531.23" y="1109.5" width="16.57" height="13.40" fill="#1c7d2f"/>
<rect x="547.40" y="1109.5" width="16.57" height="13.40" fill="#1c7d30"/>
<rect x="563.57" y="1109.5" width="16.57" height="13.40" fill="#1c7d30"/>
<rect x="579.74" y="1109.5" width="16.57" height="13.40" fill="#0f5f4c"/>
<rect x="595.91" y="1109.5" width="16.57" height="13.40" fill="#0d5b50"/>
<rect x="612.08" y="1109.5" width="16.57" height="13.40" fill="#024169"/>
<rect x="628.25" y="1109.5" width="16.57" height="13.40" fill="#09505b"/>
<rect x="644.42" y="1109.5" width="16.57" height="13.40" fill="#054863"/>
<rect x="660.59" y="1109.5" width="16.57" height="13.40" fill="#063b71"/>
<rect x="676.76" y="1109.5" width="16.57" height="13.40" fill="#063b71"/>
<rect x="692.93" y="1109.5" width="16.57" height="13.40" fill="#034466"/>
<rect x="709.10" y="1109.5" width="16.57" height="13.40" fill="#034367"/>
<rect x="725.27" y="1109.5" width="16.57" height="13.40" fill="#0c5952"/>
<rect x="741.44" y="1109.5" width="16.57" height="13.40" fill="#126646"/>
<rect x="757.61" y="1109.5" width="16.57" height="13.40" fill="#074c5e"/>
<rect x="773.78" y="1109.5" width="16.57" height="13.40" fill="#126547"/>
<rect x="789.95" y="1109.5" width="16.57" height="13.40" fill="#136844"/>
<rect x="806.12" y="1109.5" width="16.57" height="13.40" fill="#2b3880"/>
<rect x="822.29" y="1109.5" width="16.57" height="13.40" fill="#303882"/>
<rect x="838.46" y="1109.5" width="16.57" height="13.40" fill="#033c6f"/>
<rect x="854.63" y="1109.5" width="16.57" height="13.40" fill="#033c6f"/>
<rect x="870.80" y="1109.5" width="16.57" height="13.40" fill="#043c70"/>
<rect x="886.97" y="1109.5" width="16.57" height="13.40" fill="#313883"/>
<rect x="903.14" y="1109.5" width="16.57" height="13.40" fill="#2e3881"/>
<rect x="919.31" y="1109.5" width="16.57" height="13.40" fill="#2c3880"/>
<rect x="935.48" y="1109.5" width="16.57" height="13.40" fill="#2c3881"/>
<rect x="951.65" y="1109.5" width="16.57" height="13.40" fill="#2f3882"/>
<rect x="983.99" y="1109.5" width="16.57" height="13.40" fill="#2e3881"/>
<rect x="353.36" y="1122.5" width="16.57" height="13.40" fill="#126547"/>
<rect x="369.53" y="1122.5" width="16.57" height="13.40" fill="#0f5e4d"/>
<rect x="385.70" y="1122.5" width="16.57" height="13.40" fill="#116348"/>
<rect x="401.87" y="1122.5" width="16.57" height="13.40" fill="#126646"/>
<rect x="418.04" y="1122.5" width="16.57" height="13.40" fill="#116547"/>
<rect x="466.55" y="1122.5" width="16.57" height="13.40" fill="#1c7c30"/>
<rect x="482.72" y="1122.5" width="16.57" height="13.40" fill="#1b7b31"/>
<rect x="498.89" y="1122.5" width="16.57" height="13.40" fill="#1b7a33"/>
<rect x="515.06" y="1122.5" width="16.57" height="13.40" fill="#1c7d30"/>
<rect x="531.23" y="1122.5" width="16.57" height="13.40" fill="#1b7a32"/>
<rect x="547.40" y="1122.5" width="16.57" height="13.40" fill="#1c7d30"/>
<rect x="563.57" y="1122.5" width="16.57" height="13.40" fill="#1c7d2f"/>
<rect x="579.74" y="1122.5" width="16.57" height="13.40" fill="#064a61"/>
<rect x="595.91" y="1122.5" width="16.57" height="13.40" fill="#064a61"/>
<rect x="612.08" y="1122.5" width="16.57" height="13.40" fill="#126646"/>
<rect x="628.25" y="1122.5" width="16.57" height="13.40" fill="#0d5a51"/>
<rect x="644.42" y="1122.5" width="16.57" height="13.40" fill="#013e6c"/>
<rect x="660.59" y="1122.5" width="16.57" height="13.40" fill="#003c6e"/>
<rect x="676.76" y="1122.5" width="16.57" height="13.40" fill="#013d6d"/>
<rect x="692.93" y="1122.5" width="16.57" height="13.40" fill="#116348"/>
<rect x="709.10" y="1122.5" width="16.57" height="13.40" fill="#0f5e4d"/>
<rect x="725.27" y="1122.5" width="16.57" height="13.40" fill="#003d6d"/>
<rect x="741.44" y="1122.5" width="16.57" height="13.40" fill="#0f5f4c"/>
<rect x="757.61" y="1122.5" width="16.57" height="13.40" fill="#136744"/>
<rect x="773.78" y="1122.5" width="16.57" height="13.40" fill="#0c5754"/>
<rect x="789.95" y="1122.5" width="16.57" height="13.40" fill="#054763"/>
<rect x="806.12" y="1122.5" width="16.57" height="13.40" fill="#095159"/>
<rect x="822.29" y="1122.5" width="16.57" height="13.40" fill="#053c70"/>
<rect x="838.46" y="1122.5" width="16.57" height="13.40" fill="#063b71"/>
<rect x="854.63" y="1122.5" width="16.57" height="13.40" fill="#02406a"/>
<rect x="870.80" y="1122.5" width="16.57" height="13.40" fill="#013d6d"/>
<rect x="886.97" y="1122.5" width="16.57" height="13.40" fill="#003c6e"/>
<rect x="903.14" y="1122.5" width="16.57" height="13.40" fill="#02406a"/>
<rect x="919.31" y="1122.5" width="16.57" height="13.40" fill="#013c6e"/>
<rect x="935.48" y="1122.5" width="16.57" height="13.40" fill="#02406b"/>
<rect x="951.65" y="1122.5" width="16.57" height="13.40" fill="#013f6b"/>
<rect x="967.82" y="1122.5" width="16.57" height="13.40" fill="#043c6f"/>
<rect x="983.99" y="1122.5" width="16.57" height="13.40" fill="#033c6f"/>
<rect x="1000.16" y="1122.5" width="16.57" height="13.40" fill="#313882"/>
<rect x="1016.33" y="1122.5" width="16.57" height="13.40" fill="#313883"/>
<rect x="353.36" y="1135.5" width="16.57" height="13.50" fill="#116349"/>
<rect x="369.53" y="1135.5" width="16.57" height="13.50" fill="#0f604c"/>
<rect x="385.70" y="1135.5" width="16.57" height="13.50" fill="#10614a"/>
<rect x="401.87" y="1135.5" width="16.57" height="13.50" fill="#0f5e4d"/>
<rect x="418.04" y="1135.5" width="16.57" height="13.50" fill="#126646"/>
<rect x="434.21" y="1135.5" width="16.57" height="13.50" fill="#10614b"/>
<rect x="450.38" y="1135.5" width="16.57" height="13.50" fill="#10624a"/>
<rect x="466.55" y="1135.5" width="16.57" height="13.50" fill="#1b7c31"/>
<rect x="482.72" y="1135.5" width="16.57" height="13.50" fill="#1c7d2f"/>
<rect x="498.89" y="1135.5" width="16.57" height="13.50" fill="#1b7b32"/>
<rect x="515.06" y="1135.5" width="16.57" height="13.50" fill="#1c7d2f"/>
<rect x="531.23" y="1135.5" width="16.57" height="13.50" fill="#1b7b31"/>
<rect x="547.40" y="1135.5" width="16.57" height="13.50" fill="#1b7b31"/>
<rect x="563.57" y="1135.5" width="16.57" height="13.50" fill="#003c6e"/>
<rect x="579.74" y="1135.5" width="16.57" height="13.50" fill="#073b71"/>
<rect x="595.91" y="1135.5" width="16.57" height="13.50" fill="#074c5f"/>
<rect x="612.08" y="1135.5" width="16.57" height="13.50" fill="#013f6b"/>
<rect x="628.25" y="1135.5" width="16.57" height="13.50" fill="#083b71"/>
<rect x="644.42" y="1135.5" width="16.57" height="13.50" fill="#0f5e4d"/>
<rect x="660.59" y="1135.5" width="16.57" height="13.50" fill="#013e6c"/>
<rect x="676.76" y="1135.5" width="16.57" height="13.50" fill="#084e5d"/>
<rect x="692.93" y="1135.5" width="16.57" height="13.50" fill="#0d5a51"/>
<rect x="709.10" y="1135.5" width="16.57" height="13.50" fill="#095259"/>
<rect x="725.27" y="1135.5" width="16.57" height="13.50" fill="#044664"/>
<rect x="741.44" y="1135.5" width="16.57" height="13.50" fill="#09505b"/>
<rect x="757.61" y="1135.5" width="16.57" height="13.50" fill="#095259"/>
<rect x="773.78" y="1135.5" width="16.57" height="13.50" fill="#0e5d4e"/>
<rect x="789.95" y="1135.5" width="16.57" height="13.50" fill="#013c6f"/>
<rect x="806.12" y="1135.5" width="16.57" height="13.50" fill="#0d5b50"/>
<rect x="822.29" y="1135.5" width="16.57" height="13.50" fill="#084e5d"/>
<rect x="838.46" y="1135.5" width="16.57" height="13.50" fill="#084f5b"/>
<rect x="854.63" y="1135.5" width="16.57" height="13.50" fill="#116448"/>
<rect x="870.80" y="1135.5" width="16.57" height="13.50" fill="#0c5952"/>
<rect x="886.97" y="1135.5" width="16.57" height="13.50" fill="#0d5b50"/>
<rect x="903.14" y="1135.5" width="16.57" height="13.50" fill="#116348"/>
<rect x="919.31" y="1135.5" width="16.57" height="13.50" fill="#146942"/>
<rect x="935.48" y="1135.5" width="16.57" height="13.50" fill="#0b5655"/>
<rect x="951.65" y="1135.5" width="16.57" height="13.50" fill="#0e5d4e"/>
<rect x="967.82" y="1135.5" width="16.57" height="13.50" fill="#0c5952"/>
<rect x="983.99" y="1135.5" width="16.57" height="13.50" fill="#0c5952"/>
<rect x="1000.16" y="1135.5" width="16.57" height="13.50" fill="#2d3881"/>
<rect x="1016.33" y="1135.5" width="16.57" height="13.50" fill="#2f3882"/>
<rect x="1032.50" y="1135.5" width="16.57" height="13.50" fill="#2f3882"/>
<rect x="1048.67" y="1135.5" width="16.57" height="13.50" fill="#2f3882"/>
<rect x="1064.84" y="1135.5" width="16.57" height="13.50" fill="#02406a"/>
<rect x="353.36" y="1148.6" width="16.57" height="13.40" fill="#116448"/>
<rect x="369.53" y="1148.6" width="16.57" height="13.40" fill="#126546"/>
<rect x="385.70" y="1148.6" width="16.57" height="13.40" fill="#126645"/>
<rect x="401.87" y="1148.6" width="16.57" height="13.40" fill="#0f604c"/>
<rect x="418.04" y="1148.6" width="16.57" height="13.40" fill="#116249"/>
<rect x="434.21" y="1148.6" width="16.57" height="13.40" fill="#126645"/>
<rect x="450.38" y="1148.6" width="16.57" height="13.40" fill="#126546"/>
<rect x="482.72" y="1148.6" width="16.57" height="13.40" fill="#1a7933"/>
<rect x="498.89" y="1148.6" width="16.57" height="13.40" fill="#1a7933"/>
<rect x="515.06" y="1148.6" width="16.57" height="13.40" fill="#1b7b31"/>
<rect x="531.23" y="1148.6" width="16.57" height="13.40" fill="#1a7933"/>
<rect x="547.40" y="1148.6" width="16.57" height="13.40" fill="#1b7a32"/>
<rect x="563.57" y="1148.6" width="16.57" height="13.40" fill="#053c70"/>
<rect x="579.74" y="1148.6" width="16.57" height="13.40" fill="#0c5854"/>
<rect x="595.91" y="1148.6" width="16.57" height="13.40" fill="#0e5d4e"/>
<rect x="612.08" y="1148.6" width="16.57" height="13.40" fill="#116348"/>
<rect x="628.25" y="1148.6" width="16.57" height="13.40" fill="#013d6d"/>
<rect x="644.42" y="1148.6" width="16.57" height="13.40" fill="#0d5a51"/>
<rect x="660.59" y="1148.6" width="16.57" height="13.40" fill="#0c5754"/>
<rect x="676.76" y="1148.6" width="16.57" height="13.40" fill="#003d6d"/>
<rect x="692.93" y="1148.6" width="16.57" height="13.40" fill="#106249"/>
<rect x="709.10" y="1148.6" width="16.57" height="13.40" fill="#126745"/>
<rect x="725.27" y="1148.6" width="16.57" height="13.40" fill="#024169"/>
<rect x="741.44" y="1148.6" width="16.57" height="13.40" fill="#126646"/>
<rect x="757.61" y="1148.6" width="16.57" height="13.40" fill="#064a61"/>
<rect x="773.78" y="1148.6" width="16.57" height="13.40" fill="#0c5853"/>
<rect x="789.95" y="1148.6" width="16.57" height="13.40" fill="#156d3f"/>
<rect x="806.12" y="1148.6" width="16.57" height="13.40" fill="#126646"/>
<rect x="838.46" y="1148.6" width="16.57" height="13.40" fill="#064b60"/>
<rect x="854.63" y="1148.6" width="16.57" height="13.40" fill="#0b5655"/>
<rect x="870.80" y="1148.6" width="16.57" height="13.40" fill="#0d5952"/>
<rect x="886.97" y="1148.6" width="16.57" height="13.40" fill="#095259"/>
<rect x="903.14" y="1148.6" width="16.57" height="13.40" fill="#074c5f"/>
<rect x="919.31" y="1148.6" width="16.57" height="13.40" fill="#09515a"/>
<rect x="935.48" y="1148.6" width="16.57" height="13.40" fill="#10624a"/>
<rect x="951.65" y="1148.6" width="16.57" height="13.40" fill="#044566"/>
<rect x="967.82" y="1148.6" width="16.57" height="13.40" fill="#0d5b51"/>
<rect x="983.99" y="1148.6" width="16.57" height="13.40" fill="#0b5655"/>
<rect x="1000.16" y="1148.6" width="16.57" height="13.40" fill="#1d7e2e"/>
<rect x="1016.33" y="1148.6" width="16.57" height="13.40" fill="#1d7f2d"/>
<rect x="1048.67" y="1148.6" width="16.57" height="13.40" fill="#1d802c"/>
<rect x="1064.84" y="1148.6" width="16.57" height="13.40" fill="#1d802d"/>
<rect x="1081.01" y="1148.6" width="16.57" height="13.40" fill="#1d7f2e"/>
<rect x="353.36" y="1161.6" width="16.57" height="13.50" fill="#126745"/>
<rect x="369.53" y="1161.6" width="16.57" height="13.50" fill="#116547"/>
<rect x="385.70" y="1161.6" width="16.57" height="13.50" fill="#126645"/>
<rect x="401.87" y="1161.6" width="16.57" height="13.50" fill="#0f5e4d"/>
<rect x="418.04" y="1161.6" width="16.57" height="13.50" fill="#0f604c"/>
<rect x="434.21" y="1161.6" width="16.57" height="13.50" fill="#0e5e4e"/>
<rect x="450.38" y="1161.6" width="16.57" height="13.50" fill="#116547"/>
<rect x="466.55" y="1161.6" width="16.57" height="13.50" fill="#0f604c"/>
<rect x="482.72" y="1161.6" width="16.57" height="13.50" fill="#053c70"/>
<rect x="498.89" y="1161.6" width="16.57" height="13.50" fill="#1b7b32"/>
<rect x="515.06" y="1161.6" width="16.57" height="13.50" fill="#1c7d2f"/>
<rect x="531.23" y="1161.6" width="16.57" height="13.50" fill="#1c7d30"/>
<rect x="547.40" y="1161.6" width="16.57" height="13.50" fill="#033c6f"/>
<rect x="563.57" y="1161.6" width="16.57" height="13.50" fill="#043c70"/>
<rect x="579.74" y="1161.6" width="16.57" height="13.50" fill="#02406a"/>
<rect x="595.91" y="1161.6" width="16.57" height="13.50" fill="#003d6d"/>
<rect x="612.08" y="1161.6" width="16.57" height="13.50" fill="#0d5952"/>
<rect x="628.25" y="1161.6" width="16.57" height="13.50" fill="#023c6f"/>
<rect x="644.42" y="1161.6" width="16.57" height="13.50" fill="#043c70"/>
<rect x="660.59" y="1161.6" width="16.57" height="13.50" fill="#0c5853"/>
<rect x="676.76" y="1161.6" width="16.57" height="13.50" fill="#074b5f"/>
<rect x="692.93" y="1161.6" width="16.57" height="13.50" fill="#053c70"/>
<rect x="709.10" y="1161.6" width="16.57" height="13.50" fill="#2e3881"/>
<rect x="725.27" y="1161.6" width="16.57" height="13.50" fill="#313883"/>
<rect x="741.44" y="1161.6" width="16.57" height="13.50" fill="#2f3882"/>
<rect x="757.61" y="1161.6" width="16.57" height="13.50" fill="#383786"/>
<rect x="773.78" y="1161.6" width="16.57" height="13.50" fill="#2f3882"/>
<rect x="789.95" y="1161.6" width="16.57" height="13.50" fill="#053c70"/>
<rect x="806.12" y="1161.6" width="16.57" height="13.50" fill="#013f6b"/>
<rect x="822.29" y="1161.6" width="16.57" height="13.50" fill="#0b5754"/>
<rect x="838.46" y="1161.6" width="16.57" height="13.50" fill="#095259"/>
<rect x="854.63" y="1161.6" width="16.57" height="13.50" fill="#0d5b51"/>
<rect x="870.80" y="1161.6" width="16.57" height="13.50" fill="#146a42"/>
<rect x="886.97" y="1161.6" width="16.57" height="13.50" fill="#084f5c"/>
<rect x="903.14" y="1161.6" width="16.57" height="13.50" fill="#064961"/>
<rect x="919.31" y="1161.6" width="16.57" height="13.50" fill="#0d5a52"/>
<rect x="935.48" y="1161.6" width="16.57" height="13.50" fill="#084e5d"/>
<rect x="951.65" y="1161.6" width="16.57" height="13.50" fill="#054862"/>
<rect x="967.82" y="1161.6" width="16.57" height="13.50" fill="#064b60"/>
<rect x="983.99" y="1161.6" width="16.57" height="13.50" fill="#1d7f2e"/>
<rect x="1000.16" y="1161.6" width="16.57" height="13.50" fill="#1d7f2e"/>
<rect x="1016.33" y="1161.6" width="16.57" height="13.50" fill="#1d7f2d"/>
<rect x="1032.50" y="1161.6" width="16.57" height="13.50" fill="#1d7f2d"/>
<rect x="1048.67" y="1161.6" width="16.57" height="13.50" fill="#1e812c"/>
<rect x="1064.84" y="1161.6" width="16.57" height="13.50" fill="#1d7f2d"/>
<rect x="1081.01" y="1161.6" width="16.57" height="13.50" fill="#1d802d"/>
<rect x="1097.18" y="1161.6" width="16.57" height="13.50" fill="#1d7f2e"/>
<rect x="1113.35" y="1161.6" width="16.57" height="13.50" fill="#1d7f2d"/>
<rect x="1129.52" y="1161.6" width="16.57" height="13.50" fill="#1d7e2e"/>
<rect x="1145.69" y="1161.6" width="16.57" height="13.50" fill="#1d7f2d"/>
<rect x="353.36" y="1174.7" width="16.57" height="13.40" fill="#0e5d4e"/>
<rect x="369.53" y="1174.7" width="16.57" height="13.40" fill="#116447"/>
<rect x="385.70" y="1174.7" width="16.57" height="13.40" fill="#116249"/>
<rect x="401.87" y="1174.7" width="16.57" height="13.40" fill="#0f5f4c"/>
<rect x="418.04" y="1174.7" width="16.57" height="13.40" fill="#10624a"/>
<rect x="434.21" y="1174.7" width="16.57" height="13.40" fill="#126646"/>
<rect x="450.38" y="1174.7" width="16.57" height="13.40" fill="#0f5e4d"/>
<rect x="466.55" y="1174.7" width="16.57" height="13.40" fill="#126547"/>
<rect x="482.72" y="1174.7" width="16.57" height="13.40" fill="#084e5c"/>
<rect x="498.89" y="1174.7" width="16.57" height="13.40" fill="#1b7b31"/>
<rect x="515.06" y="1174.7" width="16.57" height="13.40" fill="#1c7d30"/>
<rect x="531.23" y="1174.7" width="16.57" height="13.40" fill="#1b7b32"/>
<rect x="547.40" y="1174.7" width="16.57" height="13.40" fill="#003c6e"/>
<rect x="563.57" y="1174.7" width="16.57" height="13.40" fill="#013e6c"/>
<rect x="579.74" y="1174.7" width="16.57" height="13.40" fill="#02416a"/>
<rect x="595.91" y="1174.7" width="16.57" height="13.40" fill="#023c6f"/>
<rect x="612.08" y="1174.7" width="16.57" height="13.40" fill="#013f6b"/>
<rect x="628.25" y="1174.7" width="16.57" height="13.40" fill="#013e6c"/>
<rect x="644.42" y="1174.7" width="16.57" height="13.40" fill="#013d6d"/>
<rect x="660.59" y="1174.7" width="16.57" height="13.40" fill="#343784"/>
<rect x="676.76" y="1174.7" width="16.57" height="13.40" fill="#353784"/>
<rect x="692.93" y="1174.7" width="16.57" height="13.40" fill="#383786"/>
<rect x="709.10" y="1174.7" width="16.57" height="13.40" fill="#383785"/>
<rect x="725.27" y="1174.7" width="16.57" height="13.40" fill="#383786"/>
<rect x="741.44" y="1174.7" width="16.57" height="13.40" fill="#303882"/>
<rect x="757.61" y="1174.7" width="16.57" height="13.40" fill="#363785"/>
<rect x="773.78" y="1174.7" width="16.57" height="13.40" fill="#373785"/>
<rect x="789.95" y="1174.7" width="16.57" height="13.40" fill="#383786"/>
<rect x="806.12" y="1174.7" width="16.57" height="13.40" fill="#2f3882"/>
<rect x="822.29" y="1174.7" width="16.57" height="13.40" fill="#2e3882"/>
<rect x="838.46" y="1174.7" width="16.57" height="13.40" fill="#313883"/>
<rect x="854.63" y="1174.7" width="16.57" height="13.40" fill="#363785"/>
<rect x="870.80" y="1174.7" width="16.57" height="13.40" fill="#363785"/>
<rect x="886.97" y="1174.7" width="16.57" height="13.40" fill="#09505b"/>
<rect x="903.14" y="1174.7" width="16.57" height="13.40" fill="#0c5754"/>
<rect x="919.31" y="1174.7" width="16.57" height="13.40" fill="#064a60"/>
<rect x="935.48" y="1174.7" width="16.57" height="13.40" fill="#0b5655"/>
<rect x="951.65" y="1174.7" width="16.57" height="13.40" fill="#033c6f"/>
<rect x="967.82" y="1174.7" width="16.57" height="13.40" fill="#1e812b"/>
<rect x="983.99" y="1174.7" width="16.57" height="13.40" fill="#1e812b"/>
<rect x="1000.16" y="1174.7" width="16.57" height="13.40" fill="#1d802c"/>
<rect x="1016.33" y="1174.7" width="16.57" height="13.40" fill="#1d7f2d"/>
<rect x="1032.50" y="1174.7" width="16.57" height="13.40" fill="#1e812b"/>
<rect x="1048.67" y="1174.7" width="16.57" height="13.40" fill="#1d7f2d"/>
<rect x="1064.84" y="1174.7" width="16.57" height="13.40" fill="#1d7f2d"/>
<rect x="1081.01" y="1174.7" width="16.57" height="13.40" fill="#1d7e2e"/>
<rect x="1097.18" y="1174.7" width="16.57" height="13.40" fill="#1d802d"/>
<rect x="1113.35" y="1174.7" width="16.57" height="13.40" fill="#1d802d"/>
<rect x="1129.52" y="1174.7" width="16.57" height="13.40" fill="#1d802d"/>
<rect x="1145.69" y="1174.7" width="16.57" height="13.40" fill="#1d7f2e"/>
<rect x="1161.86" y="1174.7" width="16.57" height="13.40" fill="#1d802d"/>
<rect x="353.36" y="1187.7" width="16.57" height="13.50" fill="#0e5d4e"/>
<rect x="369.53" y="1187.7" width="16.57" height="13.50" fill="#0f604c"/>
<rect x="385.70" y="1187.7" width="16.57" height="13.50" fill="#0f5e4d"/>
<rect x="401.87" y="1187.7" width="16.57" height="13.50" fill="#10614a"/>
<rect x="418.04" y="1187.7" width="16.57" height="13.50" fill="#0e5e4e"/>
<rect x="434.21" y="1187.7" width="16.57" height="13.50" fill="#0e5d4e"/>
<rect x="450.38" y="1187.7" width="16.57" height="13.50" fill="#10604b"/>
<rect x="466.55" y="1187.7" width="16.57" height="13.50" fill="#0f5f4c"/>
<rect x="482.72" y="1187.7" width="16.57" height="13.50" fill="#0a5358"/>
<rect x="498.89" y="1187.7" width="16.57" height="13.50" fill="#1b7b31"/>
<rect x="515.06" y="1187.7" width="16.57" height="13.50" fill="#1c7c30"/>
<rect x="531.23" y="1187.7" width="16.57" height="13.50" fill="#1c7c30"/>
<rect x="547.40" y="1187.7" width="16.57" height="13.50" fill="#013e6c"/>
<rect x="563.57" y="1187.7" width="16.57" height="13.50" fill="#02406b"/>
<rect x="579.74" y="1187.7" width="16.57" height="13.50" fill="#013c6f"/>
<rect x="595.91" y="1187.7" width="16.57" height="13.50" fill="#023c6f"/>
<rect x="612.08" y="1187.7" width="16.57" height="13.50" fill="#02416a"/>
<rect x="628.25" y="1187.7" width="16.57" height="13.50" fill="#043c70"/>
<rect x="644.42" y="1187.7" width="16.57" height="13.50" fill="#303882"/>
<rect x="660.59" y="1187.7" width="16.57" height="13.50" fill="#313883"/>
<rect x="676.76" y="1187.7" width="16.57" height="13.50" fill="#393786"/>
<rect x="692.93" y="1187.7" width="16.57" height="13.50" fill="#2f3882"/>
<rect x="709.10" y="1187.7" width="16.57" height="13.50" fill="#2e3881"/>
<rect x="725.27" y="1187.7" width="16.57" height="13.50" fill="#313883"/>
<rect x="741.44" y="1187.7" width="16.57" height="13.50" fill="#303882"/>
<rect x="757.61" y="1187.7" width="16.57" height="13.50" fill="#2f3882"/>
<rect x="773.78" y="1187.7" width="16.57" height="13.50" fill="#373785"/>
<rect x="789.95" y="1187.7" width="16.57" height="13.50" fill="#333883"/>
<rect x="806.12" y="1187.7" width="16.57" height="13.50" fill="#333883"/>
<rect x="822.29" y="1187.7" width="16.57" height="13.50" fill="#2f3882"/>
<rect x="838.46" y="1187.7" width="16.57" height="13.50" fill="#2f3882"/>
<rect x="854.63" y="1187.7" width="16.57" height="13.50" fill="#2f3882"/>
<rect x="870.80" y="1187.7" width="16.57" height="13.50" fill="#323883"/>
<rect x="886.97" y="1187.7" width="16.57" height="13.50" fill="#2e3881"/>
<rect x="903.14" y="1187.7" width="16.57" height="13.50" fill="#313883"/>
<rect x="951.65" y="1187.7" width="16.57" height="13.50" fill="#1e812c"/>
<rect x="967.82" y="1187.7" width="16.57" height="13.50" fill="#1d7f2d"/>
<rect x="983.99" y="1187.7" width="16.57" height="13.50" fill="#1d7e2e"/>
<rect x="1000.16" y="1187.7" width="16.57" height="13.50" fill="#1d7f2e"/>
<rect x="1016.33" y="1187.7" width="16.57" height="13.50" fill="#1d7f2d"/>
<rect x="1032.50" y="1187.7" width="16.57" height="13.50" fill="#1d7f2e"/>
<rect x="1048.67" y="1187.7" width="16.57" height="13.50" fill="#1e812c"/>
<rect x="1064.84" y="1187.7" width="16.57" height="13.50" fill="#1d802c"/>
<rect x="1081.01" y="1187.7" width="16.57" height="13.50" fill="#1d802c"/>
<rect x="1097.18" y="1187.7" width="16.57" height="13.50" fill="#1d802c"/>
<rect x="1113.35" y="1187.7" width="16.57" height="13.50" fill="#1d812c"/>
<rect x="1129.52" y="1187.7" width="16.57" height="13.50" fill="#1d802d"/>
<rect x="1145.69" y="1187.7" width="16.57" height="13.50" fill="#1d7e2e"/>
<rect x="369.53" y="1200.8" width="16.57" height="13.40" fill="#126547"/>
<rect x="385.70" y="1200.8" width="16.57" height="13.40" fill="#116447"/>
<rect x="401.87" y="1200.8" width="16.57" height="13.40" fill="#106249"/>
<rect x="418.04" y="1200.8" width="16.57" height="13.40" fill="#106249"/>
<rect x="434.21" y="1200.8" width="16.57" height="13.40" fill="#116348"/>
<rect x="450.38" y="1200.8" width="16.57" height="13.40" fill="#0f5e4d"/>
<rect x="466.55" y="1200.8" width="16.57" height="13.40" fill="#116447"/>
<rect x="482.72" y="1200.8" width="16.57" height="13.40" fill="#054962"/>
<rect x="498.89" y="1200.8" width="16.57" height="13.40" fill="#1a7933"/>
<rect x="515.06" y="1200.8" width="16.57" height="13.40" fill="#1b7a32"/>
<rect x="531.23" y="1200.8" width="16.57" height="13.40" fill="#1c7c30"/>
<rect x="547.40" y="1200.8" width="16.57" height="13.40" fill="#054763"/>
<rect x="563.57" y="1200.8" width="16.57" height="13.40" fill="#013e6c"/>
<rect x="579.74" y="1200.8" width="16.57" height="13.40" fill="#02416a"/>
<rect x="595.91" y="1200.8" width="16.57" height="13.40" fill="#003c6e"/>
<rect x="612.08" y="1200.8" width="16.57" height="13.40" fill="#013c6f"/>
<rect x="628.25" y="1200.8" width="16.57" height="13.40" fill="#003c6e"/>
<rect x="644.42" y="1200.8" width="16.57" height="13.40" fill="#313883"/>
<rect x="660.59" y="1200.8" width="16.57" height="13.40" fill="#303882"/>
<rect x="676.76" y="1200.8" width="16.57" height="13.40" fill="#323883"/>
<rect x="692.93" y="1200.8" width="16.57" height="13.40" fill="#313883"/>
<rect x="709.10" y="1200.8" width="16.57" height="13.40" fill="#383786"/>
<rect x="725.27" y="1200.8" width="16.57" height="13.40" fill="#373785"/>
<rect x="741.44" y="1200.8" width="16.57" height="13.40" fill="#363785"/>
<rect x="757.61" y="1200.8" width="16.57" height="13.40" fill="#303882"/>
<rect x="773.78" y="1200.8" width="16.57" height="13.40" fill="#353785"/>
<rect x="789.95" y="1200.8" width="16.57" height="13.40" fill="#323883"/>
<rect x="806.12" y="1200.8" width="16.57" height="13.40" fill="#393786"/>
<rect x="822.29" y="1200.8" width="16.57" height="13.40" fill="#383786"/>
<rect x="838.46" y="1200.8" width="16.57" height="13.40" fill="#363785"/>
<rect x="854.63" y="1200.8" width="16.57" height="13.40" fill="#313883"/>
<rect x="886.97" y="1200.8" width="16.57" height="13.40" fill="#313883"/>
<rect x="919.31" y="1200.8" width="16.57" height="13.40" fill="#1d802c"/>
<rect x="935.48" y="1200.8" width="16.57" height="13.40" fill="#1d7f2d"/>
<rect x="951.65" y="1200.8" width="16.57" height="13.40" fill="#1d802d"/>
<rect x="967.82" y="1200.8" width="16.57" height="13.40" fill="#1d802d"/>
<rect x="983.99" y="1200.8" width="16.57" height="13.40" fill="#1d802d"/>
<rect x="1000.16" y="1200.8" width="16.57" height="13.40" fill="#1d7f2e"/>
<rect x="1016.33" y="1200.8" width="16.57" height="13.40" fill="#1e812b"/>
<rect x="1032.50" y="1200.8" width="16.57" height="13.40" fill="#1d7f2e"/>
<rect x="1048.67" y="1200.8" width="16.57" height="13.40" fill="#1e812b"/>
<rect x="1064.84" y="1200.8" width="16.57" height="13.40" fill="#1e812b"/>
<rect x="1081.01" y="1200.8" width="16.57" height="13.40" fill="#1d7e2e"/>
<rect x="1097.18" y="1200.8" width="16.57" height="13.40" fill="#1d802d"/>
<rect x="1113.35" y="1200.8" width="16.57" height="13.40" fill="#1e812c"/>
<rect x="1129.52" y="1200.8" width="16.57" height="13.40" fill="#1e812b"/>
<rect x="1145.69" y="1200.8" width="16.57" height="13.40" fill="#1d802d"/>
<rect x="1161.86" y="1200.8" width="16.57" height="13.40" fill="#1d7f2d"/>
<rect x="369.53" y="1213.8" width="16.57" height="13.50" fill="#0f5f4c"/>
<rect x="385.70" y="1213.8" width="16.57" height="13.50" fill="#126645"/>
<rect x="401.87" y="1213.8" width="16.57" height="13.50" fill="#0f5f4c"/>
<rect x="418.04" y="1213.8" width="16.57" height="13.50" fill="#116349"/>
<rect x="434.21" y="1213.8" width="16.57" height="13.50" fill="#0f5f4d"/>
<rect x="450.38" y="1213.8" width="16.57" height="13.50" fill="#106249"/>
<rect x="466.55" y="1213.8" width="16.57" height="13.50" fill="#126645"/>
<rect x="482.72" y="1213.8" width="16.57" height="13.50" fill="#044565"/>
<rect x="498.89" y="1213.8" width="16.57" height="13.50" fill="#0d5b51"/>
<rect x="515.06" y="1213.8" width="16.57" height="13.50" fill="#09515a"/>
<rect x="531.23" y="1213.8" width="16.57" height="13.50" fill="#0e5d4e"/>
<rect x="547.40" y="1213.8" width="16.57" height="13.50" fill="#0c5754"/>
<rect x="563.57" y="1213.8" width="16.57" height="13.50" fill="#033c6f"/>
<rect x="579.74" y="1213.8" width="16.57" height="13.50" fill="#02406a"/>
<rect x="595.91" y="1213.8" width="16.57" height="13.50" fill="#003c6e"/>
<rect x="612.08" y="1213.8" width="16.57" height="13.50" fill="#063b70"/>
<rect x="628.25" y="1213.8" width="16.57" height="13.50" fill="#063b71"/>
<rect x="644.42" y="1213.8" width="16.57" height="13.50" fill="#0b5556"/>
<rect x="660.59" y="1213.8" width="16.57" height="13.50" fill="#343784"/>
<rect x="676.76" y="1213.8" width="16.57" height="13.50" fill="#353785"/>
<rect x="709.10" y="1213.8" width="16.57" height="13.50" fill="#373785"/>
<rect x="725.27" y="1213.8" width="16.57" height="13.50" fill="#353784"/>
<rect x="741.44" y="1213.8" width="16.57" height="13.50" fill="#353784"/>
<rect x="757.61" y="1213.8" width="16.57" height="13.50" fill="#2f3882"/>
<rect x="773.78" y="1213.8" width="16.57" height="13.50" fill="#393786"/>
<rect x="789.95" y="1213.8" width="16.57" height="13.50" fill="#303882"/>
<rect x="806.12" y="1213.8" width="16.57" height="13.50" fill="#2f3882"/>
<rect x="822.29" y="1213.8" width="16.57" height="13.50" fill="#383785"/>
<rect x="870.80" y="1213.8" width="16.57" height="13.50" fill="#2e3881"/>
<rect x="886.97" y="1213.8" width="16.57" height="13.50" fill="#303882"/>
<rect x="903.14" y="1213.8" width="16.57" height="13.50" fill="#2e3881"/>
<rect x="919.31" y="1213.8" width="16.57" height="13.50" fill="#1d7f2d"/>
<rect x="935.48" y="1213.8" width="16.57" height="13.50" fill="#1d802d"/>
<rect x="951.65" y="1213.8" width="16.57" height="13.50" fill="#1d802d"/>
<rect x="967.82" y="1213.8" width="16.57" height="13.50" fill="#1e822b"/>
<rect x="983.99" y="1213.8" width="16.57" height="13.50" fill="#1d802c"/>
<rect x="1000.16" y="1213.8" width="16.57" height="13.50" fill="#1d7f2d"/>
<rect x="1016.33" y="1213.8" width="16.57" height="13.50" fill="#1d802d"/>
<rect x="1032.50" y="1213.8" width="16.57" height="13.50" fill="#1d7f2d"/>
<rect x="1048.67" y="1213.8" width="16.57" height="13.50" fill="#1d7f2e"/>
<rect x="1064.84" y="1213.8" width="16.57" height="13.50" fill="#1d7f2e"/>
<rect x="1081.01" y="1213.8" width="16.57" height="13.50" fill="#1e812c"/>
<rect x="1097.18" y="1213.8" width="16.57" height="13.50" fill="#1d7f2d"/>
<rect x="1113.35" y="1213.8" width="16.57" height="13.50" fill="#1e812b"/>
<rect x="1129.52" y="1213.8" width="16.57" height="13.50" fill="#1d7f2d"/>
<rect x="353.36" y="1226.9" width="16.57" height="13.40" fill="#0f604c"/>
<rect x="369.53" y="1226.9" width="16.57" height="13.40" fill="#106249"/>
<rect x="385.70" y="1226.9" width="16.57" height="13.40" fill="#0f5f4c"/>
<rect x="401.87" y="1226.9" width="16.57" height="13.40" fill="#10614b"/>
<rect x="418.04" y="1226.9" width="16.57" height="13.40" fill="#126645"/>
<rect x="434.21" y="1226.9" width="16.57" height="13.40" fill="#126646"/>
<rect x="450.38" y="1226.9" width="16.57" height="13.40" fill="#126547"/>
<rect x="466.55" y="1226.9" width="16.57" height="13.40" fill="#116348"/>
<rect x="482.72" y="1226.9" width="16.57" height="13.40" fill="#0e5e4e"/>
<rect x="498.89" y="1226.9" width="16.57" height="13.40" fill="#0f5e4d"/>
<rect x="515.06" y="1226.9" width="16.57" height="13.40" fill="#0a5259"/>
<rect x="547.40" y="1226.9" width="16.57" height="13.40" fill="#0c5754"/>
<rect x="563.57" y="1226.9" width="16.57" height="13.40" fill="#034268"/>
<rect x="579.74" y="1226.9" width="16.57" height="13.40" fill="#013e6c"/>
<rect x="595.91" y="1226.9" width="16.57" height="13.40" fill="#013c6e"/>
<rect x="612.08" y="1226.9" width="16.57" height="13.40" fill="#0f604c"/>
<rect x="628.25" y="1226.9" width="16.57" height="13.40" fill="#0d5b50"/>
<rect x="644.42" y="1226.9" width="16.57" height="13.40" fill="#074c5e"/>
<rect x="660.59" y="1226.9" width="16.57" height="13.40" fill="#034368"/>
<rect x="676.76" y="1226.9" width="16.57" height="13.40" fill="#126745"/>
<rect x="692.93" y="1226.9" width="16.57" height="13.40" fill="#044664"/>
<rect x="709.10" y="1226.9" width="16.57" height="13.40" fill="#0a5457"/>
<rect x="725.27" y="1226.9" width="16.57" height="13.40" fill="#353784"/>
<rect x="741.44" y="1226.9" width="16.57" height="13.40" fill="#353785"/>
<rect x="757.61" y="1226.9" width="16.57" height="13.40" fill="#303882"/>
<rect x="773.78" y="1226.9" width="16.57" height="13.40" fill="#2d3881"/>
<rect x="789.95" y="1226.9" width="16.57" height="13.40" fill="#363785"/>
<rect x="806.12" y="1226.9" width="16.57" height="13.40" fill="#313883"/>
<rect x="822.29" y="1226.9" width="16.57" height="13.40" fill="#353785"/>
<rect x="838.46" y="1226.9" width="16.57" height="13.40" fill="#323883"/>
<rect x="854.63" y="1226.9" width="16.57" height="13.40" fill="#343784"/>
<rect x="886.97" y="1226.9" width="16.57" height="13.40" fill="#373785"/>
<rect x="919.31" y="1226.9" width="16.57" height="13.40" fill="#1d7f2e"/>
<rect x="935.48" y="1226.9" width="16.57" height="13.40" fill="#1d7f2e"/>
<rect x="951.65" y="1226.9" width="16.57" height="13.40" fill="#1e812b"/>
<rect x="967.82" y="1226.9" width="16.57" height="13.40" fill="#1d802d"/>
<rect x="983.99" y="1226.9" width="16.57" height="13.40" fill="#1d7f2d"/>
<rect x="1000.16" y="1226.9" width="16.57" height="13.40" fill="#1e812b"/>
<rect x="1016.33" y="1226.9" width="16.57" height="13.40" fill="#1e822b"/>
<rect x="1032.50" y="1226.9" width="16.57" height="13.40" fill="#1d802d"/>
<rect x="1048.67" y="1226.9" width="16.57" height="13.40" fill="#1d7f2e"/>
<rect x="1064.84" y="1226.9" width="16.57" height="13.40" fill="#1d7f2e"/>
<rect x="1081.01" y="1226.9" width="16.57" height="13.40" fill="#1d7f2e"/>
<rect x="1097.18" y="1226.9" width="16.57" height="13.40" fill="#1d7f2d"/>
<rect x="1113.35" y="1226.9" width="16.57" height="13.40" fill="#1d7f2e"/>
<rect x="1129.52" y="1226.9" width="16.57" height="13.40" fill="#1d7f2d"/>
<rect x="1161.86" y="1226.9" width="16.57" height="13.40" fill="#1d7f2d"/>
<rect x="369.53" y="1239.9" width="16.57" height="13.40" fill="#116349"/>
<rect x="385.70" y="1239.9" width="16.57" height="13.40" fill="#126646"/>
<rect x="401.87" y="1239.9" width="16.57" height="13.40" fill="#116447"/>
<rect x="418.04" y="1239.9" width="16.57" height="13.40" fill="#10614a"/>
<rect x="434.21" y="1239.9" width="16.57" height="13.40" fill="#10614a"/>
<rect x="450.38" y="1239.9" width="16.57" height="13.40" fill="#106249"/>
<rect x="466.55" y="1239.9" width="16.57" height="13.40" fill="#10614b"/>
<rect x="482.72" y="1239.9" width="16.57" height="13.40" fill="#074b5f"/>
<rect x="498.89" y="1239.9" width="16.57" height="13.40" fill="#034368"/>
<rect x="515.06" y="1239.9" width="16.57" height="13.40" fill="#064a61"/>
<rect x="531.23" y="1239.9" width="16.57" height="13.40" fill="#0f5f4c"/>
<rect x="563.57" y="1239.9" width="16.57" height="13.40" fill="#044566"/>
<rect x="579.74" y="1239.9" width="16.57" height="13.40" fill="#09515a"/>
<rect x="595.91" y="1239.9" width="16.57" height="13.40" fill="#0d5b51"/>
<rect x="612.08" y="1239.9" width="16.57" height="13.40" fill="#116447"/>
<rect x="628.25" y="1239.9" width="16.57" height="13.40" fill="#064a61"/>
<rect x="644.42" y="1239.9" width="16.57" height="13.40" fill="#074c5f"/>
<rect x="660.59" y="1239.9" width="16.57" height="13.40" fill="#064b60"/>
<rect x="676.76" y="1239.9" width="16.57" height="13.40" fill="#09515a"/>
<rect x="692.93" y="1239.9" width="16.57" height="13.40" fill="#0a5358"/>
<rect x="709.10" y="1239.9" width="16.57" height="13.40" fill="#136844"/>
<rect x="725.27" y="1239.9" width="16.57" height="13.40" fill="#116448"/>
<rect x="741.44" y="1239.9" width="16.57" height="13.40" fill="#2e3882"/>
<rect x="757.61" y="1239.9" width="16.57" height="13.40" fill="#393786"/>
<rect x="773.78" y="1239.9" width="16.57" height="13.40" fill="#393786"/>
<rect x="789.95" y="1239.9" width="16.57" height="13.40" fill="#303882"/>
<rect x="806.12" y="1239.9" width="16.57" height="13.40" fill="#2e3881"/>
<rect x="822.29" y="1239.9" width="16.57" height="13.40" fill="#333784"/>
<rect x="838.46" y="1239.9" width="16.57" height="13.40" fill="#323883"/>
<rect x="854.63" y="1239.9" width="16.57" height="13.40" fill="#393786"/>
<rect x="935.48" y="1239.9" width="16.57" height="13.40" fill="#1d802d"/>
<rect x="951.65" y="1239.9" width="16.57" height="13.40" fill="#1e812b"/>
<rect x="967.82" y="1239.9" width="16.57" height="13.40" fill="#1e812c"/>
<rect x="983.99" y="1239.9" width="16.57" height="13.40" fill="#1e812c"/>
<rect x="1000.16" y="1239.9" width="16.57" height="13.40" fill="#1e812b"/>
<rect x="1016.33" y="1239.9" width="16.57" height="13.40" fill="#1d7f2d"/>
<rect x="1032.50" y="1239.9" width="16.57" height="13.40" fill="#1d7f2e"/>
<rect x="1048.67" y="1239.9" width="16.57" height="13.40" fill="#1d7f2e"/>
<rect x="1064.84" y="1239.9" width="16.57" height="13.40" fill="#1d802d"/>
<rect x="1081.01" y="1239.9" width="16.57" height="13.40" fill="#1d812c"/>
<rect x="1097.18" y="1239.9" width="16.57" height="13.40" fill="#1e812b"/>
<rect x="1129.52" y="1239.9" width="16.57" height="13.40" fill="#1e812c"/>
<rect x="1145.69" y="1239.9" width="16.57" height="13.40" fill="#1d802c"/>
<rect x="1161.86" y="1239.9" width="16.57" height="13.40" fill="#1e812c"/>
<rect x="1178.03" y="1239.9" width="16.57" height="13.40" fill="#1d802d"/>
<rect x="1194.20" y="1239.9" width="16.57" height="13.40" fill="#1d802c"/>
<rect x="401.87" y="1252.9" width="16.57" height="13.50" fill="#0e5e4e"/>
<rect x="418.04" y="1252.9" width="16.57" height="13.50" fill="#116547"/>
<rect x="434.21" y="1252.9" width="16.57" height="13.50" fill="#0f5f4c"/>
<rect x="450.38" y="1252.9" width="16.57" height="13.50" fill="#126646"/>
<rect x="466.55" y="1252.9" width="16.57" height="13.50" fill="#116348"/>
<rect x="482.72" y="1252.9" width="16.57" height="13.50" fill="#064a60"/>
<rect x="498.89" y="1252.9" width="16.57" height="13.50" fill="#044566"/>
<rect x="515.06" y="1252.9" width="16.57" height="13.50" fill="#054962"/>
<rect x="531.23" y="1252.9" width="16.57" height="13.50" fill="#0b5556"/>
<rect x="547.40" y="1252.9" width="16.57" height="13.50" fill="#0c5754"/>
<rect x="563.57" y="1252.9" width="16.57" height="13.50" fill="#044466"/>
<rect x="579.74" y="1252.9" width="16.57" height="13.50" fill="#034367"/>
<rect x="595.91" y="1252.9" width="16.57" height="13.50" fill="#0b5655"/>
<rect x="612.08" y="1252.9" width="16.57" height="13.50" fill="#0c5952"/>
<rect x="628.25" y="1252.9" width="16.57" height="13.50" fill="#09515a"/>
<rect x="644.42" y="1252.9" width="16.57" height="13.50" fill="#064a61"/>
<rect x="660.59" y="1252.9" width="16.57" height="13.50" fill="#0d5952"/>
<rect x="676.76" y="1252.9" width="16.57" height="13.50" fill="#024169"/>
<rect x="692.93" y="1252.9" width="16.57" height="13.50" fill="#074d5e"/>
<rect x="709.10" y="1252.9" width="16.57" height="13.50" fill="#0a5457"/>
<rect x="725.27" y="1252.9" width="16.57" height="13.50" fill="#136844"/>
<rect x="741.44" y="1252.9" width="16.57" height="13.50" fill="#0d5b50"/>
<rect x="757.61" y="1252.9" width="16.57" height="13.50" fill="#2e3882"/>
<rect x="773.78" y="1252.9" width="16.57" height="13.50" fill="#333784"/>
<rect x="789.95" y="1252.9" width="16.57" height="13.50" fill="#363785"/>
<rect x="806.12" y="1252.9" width="16.57" height="13.50" fill="#363785"/>
<rect x="822.29" y="1252.9" width="16.57" height="13.50" fill="#2d3881"/>
<rect x="838.46" y="1252.9" width="16.57" height="13.50" fill="#303882"/>
<rect x="854.63" y="1252.9" width="16.57" height="13.50" fill="#353784"/>
<rect x="870.80" y="1252.9" width="16.57" height="13.50" fill="#393786"/>
<rect x="886.97" y="1252.9" width="16.57" height="13.50" fill="#333784"/>
<rect x="967.82" y="1252.9" width="16.57" height="13.50" fill="#1d802c"/>
<rect x="983.99" y="1252.9" width="16.57" height="13.50" fill="#1d802d"/>
<rect x="1000.16" y="1252.9" width="16.57" height="13.50" fill="#1d7f2d"/>
<rect x="1016.33" y="1252.9" width="16.57" height="13.50" fill="#1d802c"/>
<rect x="1032.50" y="1252.9" width="16.57" height="13.50" fill="#1e812b"/>
<rect x="1048.67" y="1252.9" width="16.57" height="13.50" fill="#1d7f2d"/>
<rect x="1064.84" y="1252.9" width="16.57" height="13.50" fill="#1d7e2e"/>
<rect x="1081.01" y="1252.9" width="16.57" height="13.50" fill="#1d7f2d"/>
<rect x="1097.18" y="1252.9" width="16.57" height="13.50" fill="#1d802d"/>
<rect x="1113.35" y="1252.9" width="16.57" height="13.50" fill="#1d812c"/>
<rect x="1129.52" y="1252.9" width="16.57" height="13.50" fill="#1d7f2e"/>
<rect x="1145.69" y="1252.9" width="16.57" height="13.50" fill="#1e812c"/>
<rect x="1178.03" y="1252.9" width="16.57" height="13.50" fill="#1e812c"/>
<rect x="401.87" y="1266.0" width="16.57" height="13.40" fill="#106249"/>
<rect x="418.04" y="1266.0" width="16.57" height="13.40" fill="#0f5f4c"/>
<rect x="434.21" y="1266.0" width="16.57" height="13.40" fill="#126645"/>
<rect x="450.38" y="1266.0" width="16.57" height="13.40" fill="#10604b"/>
<rect x="466.55" y="1266.0" width="16.57" height="13.40" fill="#126547"/>
<rect x="482.72" y="1266.0" width="16.57" height="13.40" fill="#054862"/>
<rect x="498.89" y="1266.0" width="16.57" height="13.40" fill="#054863"/>
<rect x="515.06" y="1266.0" width="16.57" height="13.40" fill="#0c5952"/>
<rect x="531.23" y="1266.0" width="16.57" height="13.40" fill="#064a60"/>
<rect x="547.40" y="1266.0" width="16.57" height="13.40" fill="#0f5f4d"/>
<rect x="563.57" y="1266.0" width="16.57" height="13.40" fill="#09505a"/>
<rect x="579.74" y="1266.0" width="16.57" height="13.40" fill="#054764"/>
<rect x="595.91" y="1266.0" width="16.57" height="13.40" fill="#064a61"/>
<rect x="612.08" y="1266.0" width="16.57" height="13.40" fill="#095259"/>
<rect x="628.25" y="1266.0" width="16.57" height="13.40" fill="#0e5c4f"/>
<rect x="644.42" y="1266.0" width="16.57" height="13.40" fill="#136844"/>
<rect x="660.59" y="1266.0" width="16.57" height="13.40" fill="#054764"/>
<rect x="676.76" y="1266.0" width="16.57" height="13.40" fill="#09515a"/>
<rect x="692.93" y="1266.0" width="16.57" height="13.40" fill="#064961"/>
<rect x="709.10" y="1266.0" width="16.57" height="13.40" fill="#136943"/>
<rect x="725.27" y="1266.0" width="16.57" height="13.40" fill="#054764"/>
<rect x="741.44" y="1266.0" width="16.57" height="13.40" fill="#034367"/>
<rect x="757.61" y="1266.0" width="16.57" height="13.40" fill="#034367"/>
<rect x="773.78" y="1266.0" width="16.57" height="13.40" fill="#09515a"/>
<rect x="789.95" y="1266.0" width="16.57" height="13.40" fill="#2e3881"/>
<rect x="806.12" y="1266.0" width="16.57" height="13.40" fill="#2e3882"/>
<rect x="822.29" y="1266.0" width="16.57" height="13.40" fill="#303882"/>
<rect x="838.46" y="1266.0" width="16.57" height="13.40" fill="#2d3881"/>
<rect x="854.63" y="1266.0" width="16.57" height="13.40" fill="#2e3881"/>
<rect x="870.80" y="1266.0" width="16.57" height="13.40" fill="#353784"/>
<rect x="886.97" y="1266.0" width="16.57" height="13.40" fill="#373785"/>
<rect x="903.14" y="1266.0" width="16.57" height="13.40" fill="#02406a"/>
<rect x="919.31" y="1266.0" width="16.57" height="13.40" fill="#1e812c"/>
<rect x="935.48" y="1266.0" width="16.57" height="13.40" fill="#1d7e2e"/>
<rect x="967.82" y="1266.0" width="16.57" height="13.40" fill="#1d802c"/>
<rect x="983.99" y="1266.0" width="16.57" height="13.40" fill="#1d802d"/>
<rect x="1000.16" y="1266.0" width="16.57" height="13.40" fill="#1d802d"/>
<rect x="1016.33" y="1266.0" width="16.57" height="13.40" fill="#1d7f2d"/>
<rect x="1032.50" y="1266.0" width="16.57" height="13.40" fill="#1d7f2e"/>
<rect x="1048.67" y="1266.0" width="16.57" height="13.40" fill="#1d7e2e"/>
<rect x="1064.84" y="1266.0" width="16.57" height="13.40" fill="#1d7f2d"/>
<rect x="1081.01" y="1266.0" width="16.57" height="13.40" fill="#1d7f2d"/>
<rect x="1097.18" y="1266.0" width="16.57" height="13.40" fill="#1e812b"/>
<rect x="1113.35" y="1266.0" width="16.57" height="13.40" fill="#1d7f2e"/>
<rect x="1129.52" y="1266.0" width="16.57" height="13.40" fill="#1e812b"/>
<rect x="1145.69" y="1266.0" width="16.57" height="13.40" fill="#1d7f2e"/>
<rect x="1161.86" y="1266.0" width="16.57" height="13.40" fill="#1d7f2d"/>
<rect x="401.87" y="1279.0" width="16.57" height="13.50" fill="#126547"/>
<rect x="418.04" y="1279.0" width="16.57" height="13.50" fill="#126547"/>
<rect x="434.21" y="1279.0" width="16.57" height="13.50" fill="#10614a"/>
<rect x="450.38" y="1279.0" width="16.57" height="13.50" fill="#0e5e4e"/>
<rect x="466.55" y="1279.0" width="16.57" height="13.50" fill="#10624a"/>
<rect x="482.72" y="1279.0" width="16.57" height="13.50" fill="#074d5e"/>
<rect x="498.89" y="1279.0" width="16.57" height="13.50" fill="#0f5e4d"/>
<rect x="515.06" y="1279.0" width="16.57" height="13.50" fill="#054764"/>
<rect x="531.23" y="1279.0" width="16.57" height="13.50" fill="#074c5e"/>
<rect x="547.40" y="1279.0" width="16.57" height="13.50" fill="#0e5d4e"/>
<rect x="563.57" y="1279.0" width="16.57" height="13.50" fill="#024269"/>
<rect x="579.74" y="1279.0" width="16.57" height="13.50" fill="#084e5d"/>
<rect x="595.91" y="1279.0" width="16.57" height="13.50" fill="#106249"/>
<rect x="612.08" y="1279.0" width="16.57" height="13.50" fill="#10604b"/>
<rect x="628.25" y="1279.0" width="16.57" height="13.50" fill="#034268"/>
<rect x="644.42" y="1279.0" width="16.57" height="13.50" fill="#034268"/>
<rect x="660.59" y="1279.0" width="16.57" height="13.50" fill="#034367"/>
<rect x="676.76" y="1279.0" width="16.57" height="13.50" fill="#126745"/>
<rect x="692.93" y="1279.0" width="16.57" height="13.50" fill="#074b5f"/>
<rect x="709.10" y="1279.0" width="16.57" height="13.50" fill="#0f5f4c"/>
<rect x="725.27" y="1279.0" width="16.57" height="13.50" fill="#126646"/>
<rect x="741.44" y="1279.0" width="16.57" height="13.50" fill="#084f5c"/>
<rect x="757.61" y="1279.0" width="16.57" height="13.50" fill="#074c5f"/>
<rect x="773.78" y="1279.0" width="16.57" height="13.50" fill="#136844"/>
<rect x="789.95" y="1279.0" width="16.57" height="13.50" fill="#0d5a51"/>
<rect x="806.12" y="1279.0" width="16.57" height="13.50" fill="#074c5f"/>
<rect x="822.29" y="1279.0" width="16.57" height="13.50" fill="#0f5e4d"/>
<rect x="838.46" y="1279.0" width="16.57" height="13.50" fill="#084e5d"/>
<rect x="854.63" y="1279.0" width="16.57" height="13.50" fill="#074c5f"/>
<rect x="870.80" y="1279.0" width="16.57" height="13.50" fill="#063b71"/>
<rect x="886.97" y="1279.0" width="16.57" height="13.50" fill="#013e6c"/>
<rect x="903.14" y="1279.0" width="16.57" height="13.50" fill="#02406a"/>
<rect x="919.31" y="1279.0" width="16.57" height="13.50" fill="#013d6d"/>
<rect x="935.48" y="1279.0" width="16.57" height="13.50" fill="#1e812b"/>
<rect x="951.65" y="1279.0" width="16.57" height="13.50" fill="#1d7e2e"/>
<rect x="967.82" y="1279.0" width="16.57" height="13.50" fill="#1d7f2d"/>
<rect x="983.99" y="1279.0" width="16.57" height="13.50" fill="#1d802d"/>
<rect x="1000.16" y="1279.0" width="16.57" height="13.50" fill="#1e812b"/>
<rect x="1016.33" y="1279.0" width="16.57" height="13.50" fill="#1e812b"/>
<rect x="1032.50" y="1279.0" width="16.57" height="13.50" fill="#1d802d"/>
<rect x="1048.67" y="1279.0" width="16.57" height="13.50" fill="#1d7f2d"/>
<rect x="1064.84" y="1279.0" width="16.57" height="13.50" fill="#1d802d"/>
<rect x="1081.01" y="1279.0" width="16.57" height="13.50" fill="#1d802d"/>
<rect x="1097.18" y="1279.0" width="16.57" height="13.50" fill="#1e812b"/>
<rect x="1113.35" y="1279.0" width="16.57" height="13.50" fill="#1d7f2e"/>
<rect x="1129.52" y="1279.0" width="16.57" height="13.50" fill="#1e812c"/>
<rect x="1145.69" y="1279.0" width="16.57" height="13.50" fill="#1e812c"/>
<rect x="1161.86" y="1279.0" width="16.57" height="13.50" fill="#1e812c"/>
<rect x="401.87" y="1292.1" width="16.57" height="13.40" fill="#116547"/>
<rect x="418.04" y="1292.1" width="16.57" height="13.40" fill="#116349"/>
<rect x="434.21" y="1292.1" width="16.57" height="13.40" fill="#10604b"/>
<rect x="450.38" y="1292.1" width="16.57" height="13.40" fill="#10604b"/>
<rect x="466.55" y="1292.1" width="16.57" height="13.40" fill="#10614b"/>
<rect x="482.72" y="1292.1" width="16.57" height="13.40" fill="#0d5952"/>
<rect x="498.89" y="1292.1" width="16.57" height="13.40" fill="#034367"/>
<rect x="515.06" y="1292.1" width="16.57" height="13.40" fill="#054763"/>
<rect x="531.23" y="1292.1" width="16.57" height="13.40" fill="#0c5953"/>
<rect x="547.40" y="1292.1" width="16.57" height="13.40" fill="#054962"/>
<rect x="563.57" y="1292.1" width="16.57" height="13.40" fill="#034367"/>
<rect x="579.74" y="1292.1" width="16.57" height="13.40" fill="#034268"/>
<rect x="595.91" y="1292.1" width="16.57" height="13.40" fill="#0c5754"/>
<rect x="612.08" y="1292.1" width="16.57" height="13.40" fill="#084e5d"/>
<rect x="628.25" y="1292.1" width="16.57" height="13.40" fill="#136943"/>
<rect x="644.42" y="1292.1" width="16.57" height="13.40" fill="#126547"/>
<rect x="660.59" y="1292.1" width="16.57" height="13.40" fill="#146942"/>
<rect x="676.76" y="1292.1" width="16.57" height="13.40" fill="#074c5f"/>
<rect x="692.93" y="1292.1" width="16.57" height="13.40" fill="#044466"/>
<rect x="709.10" y="1292.1" width="16.57" height="13.40" fill="#044566"/>
<rect x="725.27" y="1292.1" width="16.57" height="13.40" fill="#0b5556"/>
<rect x="741.44" y="1292.1" width="16.57" height="13.40" fill="#0f5e4d"/>
<rect x="757.61" y="1292.1" width="16.57" height="13.40" fill="#0a5358"/>
<rect x="773.78" y="1292.1" width="16.57" height="13.40" fill="#064a60"/>
<rect x="789.95" y="1292.1" width="16.57" height="13.40" fill="#095259"/>
<rect x="806.12" y="1292.1" width="16.57" height="13.40" fill="#0d5a51"/>
<rect x="822.29" y="1292.1" width="16.57" height="13.40" fill="#0e5c4f"/>
<rect x="838.46" y="1292.1" width="16.57" height="13.40" fill="#0f5f4c"/>
<rect x="854.63" y="1292.1" width="16.57" height="13.40" fill="#116448"/>
<rect x="870.80" y="1292.1" width="16.57" height="13.40" fill="#013e6d"/>
<rect x="886.97" y="1292.1" width="16.57" height="13.40" fill="#053c70"/>
<rect x="903.14" y="1292.1" width="16.57" height="13.40" fill="#013f6b"/>
<rect x="919.31" y="1292.1" width="16.57" height="13.40" fill="#033c6f"/>
<rect x="935.48" y="1292.1" width="16.57" height="13.40" fill="#003d6d"/>
<rect x="951.65" y="1292.1" width="16.57" height="13.40" fill="#1d802d"/>
<rect x="967.82" y="1292.1" width="16.57" height="13.40" fill="#1e812c"/>
<rect x="983.99" y="1292.1" width="16.57" height="13.40" fill="#1d7f2e"/>
<rect x="1000.16" y="1292.1" width="16.57" height="13.40" fill="#1d7f2d"/>
<rect x="1016.33" y="1292.1" width="16.57" height="13.40" fill="#1d7f2d"/>
<rect x="1032.50" y="1292.1" width="16.57" height="13.40" fill="#1d7f2e"/>
<rect x="1081.01" y="1292.1" width="16.57" height="13.40" fill="#1e812b"/>
<rect x="1097.18" y="1292.1" width="16.57" height="13.40" fill="#1d802c"/>
<rect x="1113.35" y="1292.1" width="16.57" height="13.40" fill="#1d7f2d"/>
<rect x="1129.52" y="1292.1" width="16.57" height="13.40" fill="#1d802d"/>
<rect x="401.87" y="1305.1" width="16.57" height="13.50" fill="#126745"/>
<rect x="418.04" y="1305.1" width="16.57" height="13.50" fill="#106249"/>
<rect x="434.21" y="1305.1" width="16.57" height="13.50" fill="#0f5f4c"/>
<rect x="450.38" y="1305.1" width="16.57" height="13.50" fill="#126547"/>
<rect x="466.55" y="1305.1" width="16.57" height="13.50" fill="#116348"/>
<rect x="482.72" y="1305.1" width="16.57" height="13.50" fill="#10604b"/>
<rect x="498.89" y="1305.1" width="16.57" height="13.50" fill="#034466"/>
<rect x="515.06" y="1305.1" width="16.57" height="13.50" fill="#08505b"/>
<rect x="531.23" y="1305.1" width="16.57" height="13.50" fill="#0d5b51"/>
<rect x="547.40" y="1305.1" width="16.57" height="13.50" fill="#0d5b50"/>
<rect x="563.57" y="1305.1" width="16.57" height="13.50" fill="#0e5e4e"/>
<rect x="579.74" y="1305.1" width="16.57" height="13.50" fill="#063c70"/>
<rect x="595.91" y="1305.1" width="16.57" height="13.50" fill="#074d5e"/>
<rect x="612.08" y="1305.1" width="16.57" height="13.50" fill="#044665"/>
<rect x="628.25" y="1305.1" width="16.57" height="13.50" fill="#054962"/>
<rect x="644.42" y="1305.1" width="16.57" height="13.50" fill="#136943"/>
<rect x="660.59" y="1305.1" width="16.57" height="13.50" fill="#0c5952"/>
<rect x="676.76" y="1305.1" width="16.57" height="13.50" fill="#126745"/>
<rect x="692.93" y="1305.1" width="16.57" height="13.50" fill="#09505b"/>
<rect x="709.10" y="1305.1" width="16.57" height="13.50" fill="#116447"/>
<rect x="725.27" y="1305.1" width="16.57" height="13.50" fill="#0a5358"/>
<rect x="741.44" y="1305.1" width="16.57" height="13.50" fill="#074b5f"/>
<rect x="757.61" y="1305.1" width="16.57" height="13.50" fill="#10614b"/>
<rect x="773.78" y="1305.1" width="16.57" height="13.50" fill="#136844"/>
<rect x="789.95" y="1305.1" width="16.57" height="13.50" fill="#044565"/>
<rect x="806.12" y="1305.1" width="16.57" height="13.50" fill="#0d5952"/>
<rect x="822.29" y="1305.1" width="16.57" height="13.50" fill="#0d5a51"/>
<rect x="838.46" y="1305.1" width="16.57" height="13.50" fill="#064a61"/>
<rect x="854.63" y="1305.1" width="16.57" height="13.50" fill="#023c6f"/>
<rect x="870.80" y="1305.1" width="16.57" height="13.50" fill="#043c70"/>
<rect x="886.97" y="1305.1" width="16.57" height="13.50" fill="#043c70"/>
<rect x="903.14" y="1305.1" width="16.57" height="13.50" fill="#033c6f"/>
<rect x="919.31" y="1305.1" width="16.57" height="13.50" fill="#003d6d"/>
<rect x="935.48" y="1305.1" width="16.57" height="13.50" fill="#013d6d"/>
<rect x="951.65" y="1305.1" width="16.57" height="13.50" fill="#1d7f2e"/>
<rect x="967.82" y="1305.1" width="16.57" height="13.50" fill="#1d7e2e"/>
<rect x="983.99" y="1305.1" width="16.57" height="13.50" fill="#1d7f2d"/>
<rect x="1000.16" y="1305.1" width="16.57" height="13.50" fill="#1d812c"/>
<rect x="1016.33" y="1305.1" width="16.57" height="13.50" fill="#1d7f2e"/>
<rect x="401.87" y="1318.2" width="16.57" height="13.40" fill="#10604b"/>
<rect x="418.04" y="1318.2" width="16.57" height="13.40" fill="#0f5f4c"/>
<rect x="434.21" y="1318.2" width="16.57" height="13.40" fill="#126547"/>
<rect x="450.38" y="1318.2" width="16.57" height="13.40" fill="#116249"/>
<rect x="466.55" y="1318.2" width="16.57" height="13.40" fill="#0f5e4e"/>
<rect x="482.72" y="1318.2" width="16.57" height="13.40" fill="#034466"/>
<rect x="498.89" y="1318.2" width="16.57" height="13.40" fill="#074d5d"/>
<rect x="515.06" y="1318.2" width="16.57" height="13.40" fill="#0a5259"/>
<rect x="531.23" y="1318.2" width="16.57" height="13.40" fill="#0b5556"/>
<rect x="547.40" y="1318.2" width="16.57" height="13.40" fill="#034467"/>
<rect x="563.57" y="1318.2" width="16.57" height="13.40" fill="#043c70"/>
<rect x="579.74" y="1318.2" width="16.57" height="13.40" fill="#013e6c"/>
<rect x="595.91" y="1318.2" width="16.57" height="13.40" fill="#095259"/>
<rect x="612.08" y="1318.2" width="16.57" height="13.40" fill="#074c5e"/>
<rect x="628.25" y="1318.2" width="16.57" height="13.40" fill="#074d5d"/>
<rect x="644.42" y="1318.2" width="16.57" height="13.40" fill="#136844"/>
<rect x="660.59" y="1318.2" width="16.57" height="13.40" fill="#084e5d"/>
<rect x="676.76" y="1318.2" width="16.57" height="13.40" fill="#0c5853"/>
<rect x="692.93" y="1318.2" width="16.57" height="13.40" fill="#084f5b"/>
<rect x="709.10" y="1318.2" width="16.57" height="13.40" fill="#095259"/>
<rect x="725.27" y="1318.2" width="16.57" height="13.40" fill="#116447"/>
<rect x="741.44" y="1318.2" width="16.57" height="13.40" fill="#146a42"/>
<rect x="757.61" y="1318.2" width="16.57" height="13.40" fill="#08505b"/>
<rect x="773.78" y="1318.2" width="16.57" height="13.40" fill="#064962"/>
<rect x="789.95" y="1318.2" width="16.57" height="13.40" fill="#0f5f4d"/>
<rect x="806.12" y="1318.2" width="16.57" height="13.40" fill="#064961"/>
<rect x="822.29" y="1318.2" width="16.57" height="13.40" fill="#024169"/>
<rect x="838.46" y="1318.2" width="16.57" height="13.40" fill="#126646"/>
<rect x="854.63" y="1318.2" width="16.57" height="13.40" fill="#013c6e"/>
<rect x="870.80" y="1318.2" width="16.57" height="13.40" fill="#013f6b"/>
<rect x="886.97" y="1318.2" width="16.57" height="13.40" fill="#013c6e"/>
<rect x="903.14" y="1318.2" width="16.57" height="13.40" fill="#02406b"/>
<rect x="919.31" y="1318.2" width="16.57" height="13.40" fill="#003c6e"/>
<rect x="935.48" y="1318.2" width="16.57" height="13.40" fill="#043c70"/>
<rect x="951.65" y="1318.2" width="16.57" height="13.40" fill="#1d7e2e"/>
<rect x="967.82" y="1318.2" width="16.57" height="13.40" fill="#1d802c"/>
<rect x="983.99" y="1318.2" width="16.57" height="13.40" fill="#1d802c"/>
<rect x="1000.16" y="1318.2" width="16.57" height="13.40" fill="#1e812b"/>
<rect x="1016.33" y="1318.2" width="16.57" height="13.40" fill="#1d7f2e"/>
<rect x="1275.05" y="1318.2" width="16.57" height="13.40" fill="#4a358d"/>
<rect x="418.04" y="1331.2" width="16.57" height="13.50" fill="#10614b"/>
<rect x="434.21" y="1331.2" width="16.57" height="13.50" fill="#106249"/>
<rect x="450.38" y="1331.2" width="16.57" height="13.50" fill="#0f5f4d"/>
<rect x="466.55" y="1331.2" width="16.57" height="13.50" fill="#0f604b"/>
<rect x="482.72" y="1331.2" width="16.57" height="13.50" fill="#09515a"/>
<rect x="498.89" y="1331.2" width="16.57" height="13.50" fill="#0f5e4d"/>
<rect x="515.06" y="1331.2" width="16.57" height="13.50" fill="#044466"/>
<rect x="531.23" y="1331.2" width="16.57" height="13.50" fill="#09505b"/>
<rect x="547.40" y="1331.2" width="16.57" height="13.50" fill="#013f6b"/>
<rect x="563.57" y="1331.2" width="16.57" height="13.50" fill="#02406a"/>
<rect x="579.74" y="1331.2" width="16.57" height="13.50" fill="#043c70"/>
<rect x="595.91" y="1331.2" width="16.57" height="13.50" fill="#044664"/>
<rect x="612.08" y="1331.2" width="16.57" height="13.50" fill="#136744"/>
<rect x="628.25" y="1331.2" width="16.57" height="13.50" fill="#136943"/>
<rect x="644.42" y="1331.2" width="16.57" height="13.50" fill="#0b5556"/>
<rect x="660.59" y="1331.2" width="16.57" height="13.50" fill="#034367"/>
<rect x="676.76" y="1331.2" width="16.57" height="13.50" fill="#126745"/>
<rect x="692.93" y="1331.2" width="16.57" height="13.50" fill="#09515a"/>
<rect x="709.10" y="1331.2" width="16.57" height="13.50" fill="#126646"/>
<rect x="725.27" y="1331.2" width="16.57" height="13.50" fill="#0d5a51"/>
<rect x="741.44" y="1331.2" width="16.57" height="13.50" fill="#116349"/>
<rect x="757.61" y="1331.2" width="16.57" height="13.50" fill="#054763"/>
<rect x="773.78" y="1331.2" width="16.57" height="13.50" fill="#10614a"/>
<rect x="789.95" y="1331.2" width="16.57" height="13.50" fill="#064a61"/>
<rect x="806.12" y="1331.2" width="16.57" height="13.50" fill="#095159"/>
<rect x="822.29" y="1331.2" width="16.57" height="13.50" fill="#116448"/>
<rect x="838.46" y="1331.2" width="16.57" height="13.50" fill="#116349"/>
<rect x="854.63" y="1331.2" width="16.57" height="13.50" fill="#043c70"/>
<rect x="870.80" y="1331.2" width="16.57" height="13.50" fill="#033c6f"/>
<rect x="886.97" y="1331.2" width="16.57" height="13.50" fill="#013c6f"/>
<rect x="903.14" y="1331.2" width="16.57" height="13.50" fill="#003c6e"/>
<rect x="919.31" y="1331.2" width="16.57" height="13.50" fill="#013c6f"/>
<rect x="951.65" y="1331.2" width="16.57" height="13.50" fill="#1d7f2e"/>
<rect x="967.82" y="1331.2" width="16.57" height="13.50" fill="#1d7f2d"/>
<rect x="983.99" y="1331.2" width="16.57" height="13.50" fill="#1e812c"/>
<rect x="1000.16" y="1331.2" width="16.57" height="13.50" fill="#1e812b"/>
<rect x="1016.33" y="1331.2" width="16.57" height="13.50" fill="#1d7e2e"/>
<rect x="1258.88" y="1331.2" width="16.57" height="13.50" fill="#4b358e"/>
<rect x="385.70" y="1344.3" width="16.57" height="13.40" fill="#116447"/>
<rect x="401.87" y="1344.3" width="16.57" height="13.40" fill="#0e5e4e"/>
<rect x="418.04" y="1344.3" width="16.57" height="13.40" fill="#126546"/>
<rect x="434.21" y="1344.3" width="16.57" height="13.40" fill="#0f5e4d"/>
<rect x="450.38" y="1344.3" width="16.57" height="13.40" fill="#116349"/>
<rect x="466.55" y="1344.3" width="16.57" height="13.40" fill="#116249"/>
<rect x="482.72" y="1344.3" width="16.57" height="13.40" fill="#0b5556"/>
<rect x="498.89" y="1344.3" width="16.57" height="13.40" fill="#064a60"/>
<rect x="515.06" y="1344.3" width="16.57" height="13.40" fill="#013c6e"/>
<rect x="531.23" y="1344.3" width="16.57" height="13.40" fill="#003d6d"/>
<rect x="547.40" y="1344.3" width="16.57" height="13.40" fill="#013c6e"/>
<rect x="579.74" y="1344.3" width="16.57" height="13.40" fill="#013e6d"/>
<rect x="595.91" y="1344.3" width="16.57" height="13.40" fill="#0a5358"/>
<rect x="612.08" y="1344.3" width="16.57" height="13.40" fill="#0a5358"/>
<rect x="628.25" y="1344.3" width="16.57" height="13.40" fill="#024269"/>
<rect x="644.42" y="1344.3" width="16.57" height="13.40" fill="#0d5a51"/>
<rect x="660.59" y="1344.3" width="16.57" height="13.40" fill="#0b5556"/>
<rect x="676.76" y="1344.3" width="16.57" height="13.40" fill="#064a60"/>
<rect x="692.93" y="1344.3" width="16.57" height="13.40" fill="#10604b"/>
<rect x="709.10" y="1344.3" width="16.57" height="13.40" fill="#10614b"/>
<rect x="725.27" y="1344.3" width="16.57" height="13.40" fill="#0a5457"/>
<rect x="741.44" y="1344.3" width="16.57" height="13.40" fill="#054862"/>
<rect x="757.61" y="1344.3" width="16.57" height="13.40" fill="#0a5457"/>
<rect x="789.95" y="1344.3" width="16.57" height="13.40" fill="#17723a"/>
<rect x="806.12" y="1344.3" width="16.57" height="13.40" fill="#17723a"/>
<rect x="822.29" y="1344.3" width="16.57" height="13.40" fill="#197735"/>
<rect x="838.46" y="1344.3" width="16.57" height="13.40" fill="#17723a"/>
<rect x="854.63" y="1344.3" width="16.57" height="13.40" fill="#197735"/>
<rect x="870.80" y="1344.3" width="16.57" height="13.40" fill="#1a7834"/>
<rect x="886.97" y="1344.3" width="16.57" height="13.40" fill="#17713b"/>
<rect x="903.14" y="1344.3" width="16.57" height="13.40" fill="#1b7a32"/>
<rect x="919.31" y="1344.3" width="16.57" height="13.40" fill="#17713b"/>
<rect x="1275.05" y="1344.3" width="16.57" height="13.40" fill="#4a368d"/>
<rect x="1291.22" y="1344.3" width="16.57" height="13.40" fill="#49368d"/>
<rect x="1307.39" y="1344.3" width="16.57" height="13.40" fill="#4b358e"/>
<rect x="385.70" y="1357.3" width="16.57" height="13.40" fill="#0f5e4e"/>
<rect x="401.87" y="1357.3" width="16.57" height="13.40" fill="#106249"/>
<rect x="418.04" y="1357.3" width="16.57" height="13.40" fill="#10614b"/>
<rect x="434.21" y="1357.3" width="16.57" height="13.40" fill="#126645"/>
<rect x="450.38" y="1357.3" width="16.57" height="13.40" fill="#0f5e4d"/>
<rect x="466.55" y="1357.3" width="16.57" height="13.40" fill="#126546"/>
<rect x="482.72" y="1357.3" width="16.57" height="13.40" fill="#29387f"/>
<rect x="498.89" y="1357.3" width="16.57" height="13.40" fill="#2c3881"/>
<rect x="515.06" y="1357.3" width="16.57" height="13.40" fill="#2b3880"/>
<rect x="579.74" y="1357.3" width="16.57" height="13.40" fill="#333883"/>
<rect x="595.91" y="1357.3" width="16.57" height="13.40" fill="#02416a"/>
<rect x="612.08" y="1357.3" width="16.57" height="13.40" fill="#0b5556"/>
<rect x="628.25" y="1357.3" width="16.57" height="13.40" fill="#136844"/>
<rect x="644.42" y="1357.3" width="16.57" height="13.40" fill="#126645"/>
<rect x="660.59" y="1357.3" width="16.57" height="13.40" fill="#054863"/>
<rect x="676.76" y="1357.3" width="16.57" height="13.40" fill="#10614a"/>
<rect x="692.93" y="1357.3" width="16.57" height="13.40" fill="#126745"/>
<rect x="709.10" y="1357.3" width="16.57" height="13.40" fill="#034367"/>
<rect x="725.27" y="1357.3" width="16.57" height="13.40" fill="#084f5c"/>
<rect x="741.44" y="1357.3" width="16.57" height="13.40" fill="#0f604c"/>
<rect x="757.61" y="1357.3" width="16.57" height="13.40" fill="#043c70"/>
<rect x="773.78" y="1357.3" width="16.57" height="13.40" fill="#1d7e2e"/>
<rect x="789.95" y="1357.3" width="16.57" height="13.40" fill="#187438"/>
<rect x="806.12" y="1357.3" width="16.57" height="13.40" fill="#1c7d2f"/>
<rect x="822.29" y="1357.3" width="16.57" height="13.40" fill="#17723a"/>
<rect x="838.46" y="1357.3" width="16.57" height="13.40" fill="#1a7834"/>
<rect x="854.63" y="1357.3" width="16.57" height="13.40" fill="#1d7f2e"/>
<rect x="870.80" y="1357.3" width="16.57" height="13.40" fill="#187339"/>
<rect x="886.97" y="1357.3" width="16.57" height="13.40" fill="#187438"/>
<rect x="903.14" y="1357.3" width="16.57" height="13.40" fill="#1a7834"/>
<rect x="919.31" y="1357.3" width="16.57" height="13.40" fill="#197537"/>
<rect x="935.48" y="1357.3" width="16.57" height="13.40" fill="#17713b"/>
<rect x="951.65" y="1357.3" width="16.57" height="13.40" fill="#187339"/>
<rect x="1000.16" y="1357.3" width="16.57" height="13.40" fill="#074d5e"/>
<rect x="1016.33" y="1357.3" width="16.57" height="13.40" fill="#0c5952"/>
<rect x="1048.67" y="1357.3" width="16.57" height="13.40" fill="#0b5556"/>
<rect x="1178.03" y="1357.3" width="16.57" height="13.40" fill="#48368c"/>
<rect x="1194.20" y="1357.3" width="16.57" height="13.40" fill="#4e358f"/>
<rect x="1210.37" y="1357.3" width="16.57" height="13.40" fill="#49368d"/>
<rect x="1226.54" y="1357.3" width="16.57" height="13.40" fill="#4f358f"/>
<rect x="1242.71" y="1357.3" width="16.57" height="13.40" fill="#4b358e"/>
<rect x="1258.88" y="1357.3" width="16.57" height="13.40" fill="#4a358d"/>
<rect x="1275.05" y="1357.3" width="16.57" height="13.40" fill="#4d358e"/>
<rect x="1291.22" y="1357.3" width="16.57" height="13.40" fill="#48368d"/>
<rect x="418.04" y="1370.3" width="16.57" height="13.50" fill="#116249"/>
<rect x="434.21" y="1370.3" width="16.57" height="13.50" fill="#116349"/>
<rect x="450.38" y="1370.3" width="16.57" height="13.50" fill="#126646"/>
<rect x="466.55" y="1370.3" width="16.57" height="13.50" fill="#0f5e4d"/>
<rect x="482.72" y="1370.3" width="16.57" height="13.50" fill="#29387f"/>
<rect x="498.89" y="1370.3" width="16.57" height="13.50" fill="#2d3881"/>
<rect x="515.06" y="1370.3" width="16.57" height="13.50" fill="#303882"/>
<rect x="531.23" y="1370.3" width="16.57" height="13.50" fill="#2b3880"/>
<rect x="547.40" y="1370.3" width="16.57" height="13.50" fill="#323883"/>
<rect x="563.57" y="1370.3" width="16.57" height="13.50" fill="#29387f"/>
<rect x="595.91" y="1370.3" width="16.57" height="13.50" fill="#003d6d"/>
<rect x="612.08" y="1370.3" width="16.57" height="13.50" fill="#023c6f"/>
<rect x="628.25" y="1370.3" width="16.57" height="13.50" fill="#10604b"/>
<rect x="644.42" y="1370.3" width="16.57" height="13.50" fill="#0a5358"/>
<rect x="660.59" y="1370.3" width="16.57" height="13.50" fill="#054862"/>
<rect x="676.76" y="1370.3" width="16.57" height="13.50" fill="#0f5f4c"/>
<rect x="692.93" y="1370.3" width="16.57" height="13.50" fill="#034368"/>
<rect x="709.10" y="1370.3" width="16.57" height="13.50" fill="#116249"/>
<rect x="725.27" y="1370.3" width="16.57" height="13.50" fill="#074b5f"/>
<rect x="741.44" y="1370.3" width="16.57" height="13.50" fill="#013d6d"/>
<rect x="757.61" y="1370.3" width="16.57" height="13.50" fill="#02416a"/>
<rect x="773.78" y="1370.3" width="16.57" height="13.50" fill="#003d6d"/>
<rect x="789.95" y="1370.3" width="16.57" height="13.50" fill="#013e6d"/>
<rect x="806.12" y="1370.3" width="16.57" height="13.50" fill="#023c6f"/>
<rect x="822.29" y="1370.3" width="16.57" height="13.50" fill="#063b71"/>
<rect x="838.46" y="1370.3" width="16.57" height="13.50" fill="#063b70"/>
<rect x="854.63" y="1370.3" width="16.57" height="13.50" fill="#043c70"/>
<rect x="870.80" y="1370.3" width="16.57" height="13.50" fill="#003d6d"/>
<rect x="886.97" y="1370.3" width="16.57" height="13.50" fill="#013c6e"/>
<rect x="903.14" y="1370.3" width="16.57" height="13.50" fill="#003c6e"/>
<rect x="919.31" y="1370.3" width="16.57" height="13.50" fill="#1d7e2e"/>
<rect x="935.48" y="1370.3" width="16.57" height="13.50" fill="#17723a"/>
<rect x="951.65" y="1370.3" width="16.57" height="13.50" fill="#187438"/>
<rect x="967.82" y="1370.3" width="16.57" height="13.50" fill="#1b7a32"/>
<rect x="983.99" y="1370.3" width="16.57" height="13.50" fill="#054763"/>
<rect x="1000.16" y="1370.3" width="16.57" height="13.50" fill="#064a60"/>
<rect x="1016.33" y="1370.3" width="16.57" height="13.50" fill="#09505b"/>
<rect x="1032.50" y="1370.3" width="16.57" height="13.50" fill="#074c5f"/>
<rect x="1048.67" y="1370.3" width="16.57" height="13.50" fill="#09505b"/>
<rect x="1097.18" y="1370.3" width="16.57" height="13.50" fill="#064961"/>
<rect x="1113.35" y="1370.3" width="16.57" height="13.50" fill="#074d5e"/>
<rect x="1129.52" y="1370.3" width="16.57" height="13.50" fill="#074d5e"/>
<rect x="1145.69" y="1370.3" width="16.57" height="13.50" fill="#064961"/>
<rect x="1161.86" y="1370.3" width="16.57" height="13.50" fill="#074d5e"/>
<rect x="1178.03" y="1370.3" width="16.57" height="13.50" fill="#074c5f"/>
<rect x="1194.20" y="1370.3" width="16.57" height="13.50" fill="#054862"/>
<rect x="1210.37" y="1370.3" width="16.57" height="13.50" fill="#09505b"/>
<rect x="1226.54" y="1370.3" width="16.57" height="13.50" fill="#064961"/>
<rect x="1242.71" y="1370.3" width="16.57" height="13.50" fill="#4e358f"/>
<rect x="1258.88" y="1370.3" width="16.57" height="13.50" fill="#4f358f"/>
<rect x="1291.22" y="1370.3" width="16.57" height="13.50" fill="#4a358d"/>
<rect x="466.55" y="1383.4" width="16.57" height="13.40" fill="#126546"/>
<rect x="482.72" y="1383.4" width="16.57" height="13.40" fill="#2b3880"/>
<rect x="498.89" y="1383.4" width="16.57" height="13.40" fill="#303882"/>
<rect x="515.06" y="1383.4" width="16.57" height="13.40" fill="#323883"/>
<rect x="531.23" y="1383.4" width="16.57" height="13.40" fill="#353784"/>
<rect x="547.40" y="1383.4" width="16.57" height="13.40" fill="#2d3881"/>
<rect x="563.57" y="1383.4" width="16.57" height="13.40" fill="#2e3881"/>
<rect x="579.74" y="1383.4" width="16.57" height="13.40" fill="#313883"/>
<rect x="595.91" y="1383.4" width="16.57" height="13.40" fill="#013d6d"/>
<rect x="612.08" y="1383.4" width="16.57" height="13.40" fill="#013c6e"/>
<rect x="628.25" y="1383.4" width="16.57" height="13.40" fill="#02406a"/>
<rect x="644.42" y="1383.4" width="16.57" height="13.40" fill="#013e6c"/>
<rect x="660.59" y="1383.4" width="16.57" height="13.40" fill="#033c6f"/>
<rect x="676.76" y="1383.4" width="16.57" height="13.40" fill="#02406a"/>
<rect x="692.93" y="1383.4" width="16.57" height="13.40" fill="#063c70"/>
<rect x="709.10" y="1383.4" width="16.57" height="13.40" fill="#003c6e"/>
<rect x="725.27" y="1383.4" width="16.57" height="13.40" fill="#013c6e"/>
<rect x="741.44" y="1383.4" width="16.57" height="13.40" fill="#033c6f"/>
<rect x="757.61" y="1383.4" width="16.57" height="13.40" fill="#053c70"/>
<rect x="773.78" y="1383.4" width="16.57" height="13.40" fill="#013f6b"/>
<rect x="789.95" y="1383.4" width="16.57" height="13.40" fill="#063b71"/>
<rect x="806.12" y="1383.4" width="16.57" height="13.40" fill="#003c6e"/>
<rect x="822.29" y="1383.4" width="16.57" height="13.40" fill="#02406a"/>
<rect x="838.46" y="1383.4" width="16.57" height="13.40" fill="#043c70"/>
<rect x="854.63" y="1383.4" width="16.57" height="13.40" fill="#043c70"/>
<rect x="870.80" y="1383.4" width="16.57" height="13.40" fill="#003d6d"/>
<rect x="886.97" y="1383.4" width="16.57" height="13.40" fill="#003c6e"/>
<rect x="903.14" y="1383.4" width="16.57" height="13.40" fill="#013d6d"/>
<rect x="919.31" y="1383.4" width="16.57" height="13.40" fill="#1c7d2f"/>
<rect x="935.48" y="1383.4" width="16.57" height="13.40" fill="#187339"/>
<rect x="951.65" y="1383.4" width="16.57" height="13.40" fill="#197537"/>
<rect x="967.82" y="1383.4" width="16.57" height="13.40" fill="#023c6f"/>
<rect x="983.99" y="1383.4" width="16.57" height="13.40" fill="#054863"/>
<rect x="1000.16" y="1383.4" width="16.57" height="13.40" fill="#0c5853"/>
<rect x="1016.33" y="1383.4" width="16.57" height="13.40" fill="#0b5754"/>
<rect x="1032.50" y="1383.4" width="16.57" height="13.40" fill="#0b5655"/>
<rect x="1048.67" y="1383.4" width="16.57" height="13.40" fill="#064a60"/>
<rect x="1064.84" y="1383.4" width="16.57" height="13.40" fill="#084f5c"/>
<rect x="1081.01" y="1383.4" width="16.57" height="13.40" fill="#084e5d"/>
<rect x="1097.18" y="1383.4" width="16.57" height="13.40" fill="#074b5f"/>
<rect x="1113.35" y="1383.4" width="16.57" height="13.40" fill="#084e5d"/>
<rect x="1129.52" y="1383.4" width="16.57" height="13.40" fill="#074b5f"/>
<rect x="1145.69" y="1383.4" width="16.57" height="13.40" fill="#064961"/>
<rect x="1161.86" y="1383.4" width="16.57" height="13.40" fill="#054862"/>
<rect x="1178.03" y="1383.4" width="16.57" height="13.40" fill="#064961"/>
<rect x="1194.20" y="1383.4" width="16.57" height="13.40" fill="#054763"/>
<rect x="1210.37" y="1383.4" width="16.57" height="13.40" fill="#064a60"/>
<rect x="1226.54" y="1383.4" width="16.57" height="13.40" fill="#084e5d"/>
<rect x="1242.71" y="1383.4" width="16.57" height="13.40" fill="#084e5d"/>
<rect x="1258.88" y="1383.4" width="16.57" height="13.40" fill="#49368d"/>
<rect x="1275.05" y="1383.4" width="16.57" height="13.40" fill="#4a358d"/>
<rect x="482.72" y="1396.4" width="16.57" height="13.50" fill="#323883"/>
<rect x="498.89" y="1396.4" width="16.57" height="13.50" fill="#2e3882"/>
<rect x="515.06" y="1396.4" width="16.57" height="13.50" fill="#303882"/>
<rect x="531.23" y="1396.4" width="16.57" height="13.50" fill="#2b3880"/>
<rect x="547.40" y="1396.4" width="16.57" height="13.50" fill="#2f3882"/>
<rect x="563.57" y="1396.4" width="16.57" height="13.50" fill="#323883"/>
<rect x="579.74" y="1396.4" width="16.57" height="13.50" fill="#2d3881"/>
<rect x="595.91" y="1396.4" width="16.57" height="13.50" fill="#02406a"/>
<rect x="612.08" y="1396.4" width="16.57" height="13.50" fill="#033c6f"/>
<rect x="628.25" y="1396.4" width="16.57" height="13.50" fill="#02406b"/>
<rect x="644.42" y="1396.4" width="16.57" height="13.50" fill="#063b71"/>
<rect x="660.59" y="1396.4" width="16.57" height="13.50" fill="#033c6f"/>
<rect x="676.76" y="1396.4" width="16.57" height="13.50" fill="#033c6f"/>
<rect x="692.93" y="1396.4" width="16.57" height="13.50" fill="#095259"/>
<rect x="709.10" y="1396.4" width="16.57" height="13.50" fill="#0d5a52"/>
<rect x="725.27" y="1396.4" width="16.57" height="13.50" fill="#013e6c"/>
<rect x="741.44" y="1396.4" width="16.57" height="13.50" fill="#063c70"/>
<rect x="757.61" y="1396.4" width="16.57" height="13.50" fill="#013e6c"/>
<rect x="773.78" y="1396.4" width="16.57" height="13.50" fill="#063c70"/>
<rect x="789.95" y="1396.4" width="16.57" height="13.50" fill="#073b71"/>
<rect x="806.12" y="1396.4" width="16.57" height="13.50" fill="#013e6c"/>
<rect x="822.29" y="1396.4" width="16.57" height="13.50" fill="#013c6f"/>
<rect x="838.46" y="1396.4" width="16.57" height="13.50" fill="#003c6e"/>
<rect x="854.63" y="1396.4" width="16.57" height="13.50" fill="#013c6e"/>
<rect x="870.80" y="1396.4" width="16.57" height="13.50" fill="#013f6b"/>
<rect x="886.97" y="1396.4" width="16.57" height="13.50" fill="#033c6f"/>
<rect x="903.14" y="1396.4" width="16.57" height="13.50" fill="#013d6d"/>
<rect x="919.31" y="1396.4" width="16.57" height="13.50" fill="#003c6e"/>
<rect x="935.48" y="1396.4" width="16.57" height="13.50" fill="#013e6c"/>
<rect x="951.65" y="1396.4" width="16.57" height="13.50" fill="#043c70"/>
<rect x="967.82" y="1396.4" width="16.57" height="13.50" fill="#003c6e"/>
<rect x="983.99" y="1396.4" width="16.57" height="13.50" fill="#023c6f"/>
<rect x="1000.16" y="1396.4" width="16.57" height="13.50" fill="#084f5c"/>
<rect x="1016.33" y="1396.4" width="16.57" height="13.50" fill="#084e5d"/>
<rect x="1032.50" y="1396.4" width="16.57" height="13.50" fill="#0a5457"/>
<rect x="1048.67" y="1396.4" width="16.57" height="13.50" fill="#074b5f"/>
<rect x="1064.84" y="1396.4" width="16.57" height="13.50" fill="#013e6c"/>
<rect x="1081.01" y="1396.4" width="16.57" height="13.50" fill="#083b71"/>
<rect x="1097.18" y="1396.4" width="16.57" height="13.50" fill="#0a3b72"/>
<rect x="1113.35" y="1396.4" width="16.57" height="13.50" fill="#093b72"/>
<rect x="1129.52" y="1396.4" width="16.57" height="13.50" fill="#013e6c"/>
<rect x="1145.69" y="1396.4" width="16.57" height="13.50" fill="#053c70"/>
<rect x="1161.86" y="1396.4" width="16.57" height="13.50" fill="#083b71"/>
<rect x="1178.03" y="1396.4" width="16.57" height="13.50" fill="#0a3b72"/>
<rect x="1194.20" y="1396.4" width="16.57" height="13.50" fill="#0a3b72"/>
<rect x="1210.37" y="1396.4" width="16.57" height="13.50" fill="#003c6e"/>
<rect x="1226.54" y="1396.4" width="16.57" height="13.50" fill="#074d5e"/>
<rect x="1242.71" y="1396.4" width="16.57" height="13.50" fill="#084e5d"/>
<rect x="1258.88" y="1396.4" width="16.57" height="13.50" fill="#084e5d"/>
<rect x="482.72" y="1409.5" width="16.57" height="13.40" fill="#053c70"/>
<rect x="498.89" y="1409.5" width="16.57" height="13.40" fill="#2e3881"/>
<rect x="515.06" y="1409.5" width="16.57" height="13.40" fill="#313882"/>
<rect x="531.23" y="1409.5" width="16.57" height="13.40" fill="#2b3880"/>
<rect x="547.40" y="1409.5" width="16.57" height="13.40" fill="#2b3880"/>
<rect x="563.57" y="1409.5" width="16.57" height="13.40" fill="#2a3880"/>
<rect x="579.74" y="1409.5" width="16.57" height="13.40" fill="#343784"/>
<rect x="595.91" y="1409.5" width="16.57" height="13.40" fill="#023f6b"/>
<rect x="612.08" y="1409.5" width="16.57" height="13.40" fill="#02406a"/>
<rect x="628.25" y="1409.5" width="16.57" height="13.40" fill="#0d5952"/>
<rect x="644.42" y="1409.5" width="16.57" height="13.40" fill="#033c6f"/>
<rect x="660.59" y="1409.5" width="16.57" height="13.40" fill="#013d6d"/>
<rect x="676.76" y="1409.5" width="16.57" height="13.40" fill="#033c6f"/>
<rect x="692.93" y="1409.5" width="16.57" height="13.40" fill="#063b71"/>
<rect x="709.10" y="1409.5" width="16.57" height="13.40" fill="#0b5655"/>
<rect x="725.27" y="1409.5" width="16.57" height="13.40" fill="#0b5456"/>
<rect x="741.44" y="1409.5" width="16.57" height="13.40" fill="#013c6e"/>
<rect x="757.61" y="1409.5" width="16.57" height="13.40" fill="#013d6d"/>
<rect x="773.78" y="1409.5" width="16.57" height="13.40" fill="#013c6e"/>
<rect x="789.95" y="1409.5" width="16.57" height="13.40" fill="#063b71"/>
<rect x="806.12" y="1409.5" width="16.57" height="13.40" fill="#093b72"/>
<rect x="822.29" y="1409.5" width="16.57" height="13.40" fill="#093b72"/>
<rect x="838.46" y="1409.5" width="16.57" height="13.40" fill="#003c6e"/>
<rect x="854.63" y="1409.5" width="16.57" height="13.40" fill="#073b71"/>
<rect x="870.80" y="1409.5" width="16.57" height="13.40" fill="#063c70"/>
<rect x="886.97" y="1409.5" width="16.57" height="13.40" fill="#043c70"/>
<rect x="903.14" y="1409.5" width="16.57" height="13.40" fill="#0a3b72"/>
<rect x="919.31" y="1409.5" width="16.57" height="13.40" fill="#073b71"/>
<rect x="935.48" y="1409.5" width="16.57" height="13.40" fill="#063b71"/>
<rect x="951.65" y="1409.5" width="16.57" height="13.40" fill="#003c6e"/>
<rect x="967.82" y="1409.5" width="16.57" height="13.40" fill="#053c70"/>
<rect x="983.99" y="1409.5" width="16.57" height="13.40" fill="#063c70"/>
<rect x="1000.16" y="1409.5" width="16.57" height="13.40" fill="#0d5952"/>
<rect x="1016.33" y="1409.5" width="16.57" height="13.40" fill="#0a5259"/>
<rect x="1032.50" y="1409.5" width="16.57" height="13.40" fill="#0c5853"/>
<rect x="1048.67" y="1409.5" width="16.57" height="13.40" fill="#013c6f"/>
<rect x="1064.84" y="1409.5" width="16.57" height="13.40" fill="#0a3b72"/>
<rect x="1081.01" y="1409.5" width="16.57" height="13.40" fill="#043c70"/>
<rect x="1097.18" y="1409.5" width="16.57" height="13.40" fill="#043c70"/>
<rect x="1113.35" y="1409.5" width="16.57" height="13.40" fill="#003d6d"/>
<rect x="1129.52" y="1409.5" width="16.57" height="13.40" fill="#053c70"/>
<rect x="1145.69" y="1409.5" width="16.57" height="13.40" fill="#003c6e"/>
<rect x="1161.86" y="1409.5" width="16.57" height="13.40" fill="#033c6f"/>
<rect x="1178.03" y="1409.5" width="16.57" height="13.40" fill="#073b71"/>
<rect x="1194.20" y="1409.5" width="16.57" height="13.40" fill="#013e6c"/>
<rect x="1210.37" y="1409.5" width="16.57" height="13.40" fill="#093b72"/>
<rect x="1226.54" y="1409.5" width="16.57" height="13.40" fill="#084f5c"/>
<rect x="1242.71" y="1409.5" width="16.57" height="13.40" fill="#054962"/>
<rect x="1258.88" y="1409.5" width="16.57" height="13.40" fill="#054763"/>
<rect x="1275.05" y="1409.5" width="16.57" height="13.40" fill="#064962"/>
<rect x="1291.22" y="1409.5" width="16.57" height="13.40" fill="#084e5c"/>
<rect x="482.72" y="1422.5" width="16.57" height="13.50" fill="#0d5a51"/>
<rect x="498.89" y="1422.5" width="16.57" height="13.50" fill="#09515a"/>
<rect x="515.06" y="1422.5" width="16.57" height="13.50" fill="#0b5556"/>
<rect x="531.23" y="1422.5" width="16.57" height="13.50" fill="#0b5556"/>
<rect x="547.40" y="1422.5" width="16.57" height="13.50" fill="#013f6b"/>
<rect x="563.57" y="1422.5" width="16.57" height="13.50" fill="#043c70"/>
<rect x="579.74" y="1422.5" width="16.57" height="13.50" fill="#003c6e"/>
<rect x="595.91" y="1422.5" width="16.57" height="13.50" fill="#034367"/>
<rect x="612.08" y="1422.5" width="16.57" height="13.50" fill="#0b5556"/>
<rect x="628.25" y="1422.5" width="16.57" height="13.50" fill="#02406b"/>
<rect x="644.42" y="1422.5" width="16.57" height="13.50" fill="#0d5952"/>
<rect x="660.59" y="1422.5" width="16.57" height="13.50" fill="#02406a"/>
<rect x="676.76" y="1422.5" width="16.57" height="13.50" fill="#013e6c"/>
<rect x="692.93" y="1422.5" width="16.57" height="13.50" fill="#09505b"/>
<rect x="709.10" y="1422.5" width="16.57" height="13.50" fill="#054962"/>
<rect x="725.27" y="1422.5" width="16.57" height="13.50" fill="#033c6f"/>
<rect x="741.44" y="1422.5" width="16.57" height="13.50" fill="#013c6e"/>
<rect x="757.61" y="1422.5" width="16.57" height="13.50" fill="#093b72"/>
<rect x="773.78" y="1422.5" width="16.57" height="13.50" fill="#003d6d"/>
<rect x="789.95" y="1422.5" width="16.57" height="13.50" fill="#003c6e"/>
<rect x="806.12" y="1422.5" width="16.57" height="13.50" fill="#003d6d"/>
<rect x="822.29" y="1422.5" width="16.57" height="13.50" fill="#013c6f"/>
<rect x="838.46" y="1422.5" width="16.57" height="13.50" fill="#053c70"/>
<rect x="854.63" y="1422.5" width="16.57" height="13.50" fill="#043c70"/>
<rect x="870.80" y="1422.5" width="16.57" height="13.50" fill="#053c70"/>
<rect x="886.97" y="1422.5" width="16.57" height="13.50" fill="#013e6c"/>
<rect x="903.14" y="1422.5" width="16.57" height="13.50" fill="#093b72"/>
<rect x="919.31" y="1422.5" width="16.57" height="13.50" fill="#013e6c"/>
<rect x="935.48" y="1422.5" width="16.57" height="13.50" fill="#0a3b72"/>
<rect x="951.65" y="1422.5" width="16.57" height="13.50" fill="#073b71"/>
<rect x="967.82" y="1422.5" width="16.57" height="13.50" fill="#063b71"/>
<rect x="983.99" y="1422.5" width="16.57" height="13.50" fill="#013e6c"/>
<rect x="1000.16" y="1422.5" width="16.57" height="13.50" fill="#033c6f"/>
<rect x="1016.33" y="1422.5" width="16.57" height="13.50" fill="#053c70"/>
<rect x="1032.50" y="1422.5" width="16.57" height="13.50" fill="#013e6c"/>
<rect x="1048.67" y="1422.5" width="16.57" height="13.50" fill="#073b71"/>
<rect x="1064.84" y="1422.5" width="16.57" height="13.50" fill="#043c70"/>
<rect x="1081.01" y="1422.5" width="16.57" height="13.50" fill="#033c6f"/>
<rect x="1097.18" y="1422.5" width="16.57" height="13.50" fill="#003c6e"/>
<rect x="1113.35" y="1422.5" width="16.57" height="13.50" fill="#003c6e"/>
<rect x="1129.52" y="1422.5" width="16.57" height="13.50" fill="#013c6e"/>
<rect x="1145.69" y="1422.5" width="16.57" height="13.50" fill="#053c70"/>
<rect x="1161.86" y="1422.5" width="16.57" height="13.50" fill="#063c70"/>
<rect x="1178.03" y="1422.5" width="16.57" height="13.50" fill="#083b71"/>
<rect x="1194.20" y="1422.5" width="16.57" height="13.50" fill="#013d6d"/>
<rect x="1210.37" y="1422.5" width="16.57" height="13.50" fill="#013c6e"/>
<rect x="1226.54" y="1422.5" width="16.57" height="13.50" fill="#084e5d"/>
<rect x="1242.71" y="1422.5" width="16.57" height="13.50" fill="#054962"/>
<rect x="1258.88" y="1422.5" width="16.57" height="13.50" fill="#074b5f"/>
<rect x="1275.05" y="1422.5" width="16.57" height="13.50" fill="#084e5c"/>
<rect x="434.21" y="1435.6" width="16.57" height="13.40" fill="#0b5655"/>
<rect x="466.55" y="1435.6" width="16.57" height="13.40" fill="#095259"/>
<rect x="482.72" y="1435.6" width="16.57" height="13.40" fill="#0b5556"/>
<rect x="498.89" y="1435.6" width="16.57" height="13.40" fill="#0c5952"/>
<rect x="515.06" y="1435.6" width="16.57" height="13.40" fill="#0a5358"/>
<rect x="531.23" y="1435.6" width="16.57" height="13.40" fill="#0a5258"/>
<rect x="547.40" y="1435.6" width="16.57" height="13.40" fill="#023c6f"/>
<rect x="563.57" y="1435.6" width="16.57" height="13.40" fill="#013e6c"/>
<rect x="579.74" y="1435.6" width="16.57" height="13.40" fill="#013f6b"/>
<rect x="595.91" y="1435.6" width="16.57" height="13.40" fill="#013c6e"/>
<rect x="612.08" y="1435.6" width="16.57" height="13.40" fill="#013c6e"/>
<rect x="628.25" y="1435.6" width="16.57" height="13.40" fill="#013f6b"/>
<rect x="644.42" y="1435.6" width="16.57" height="13.40" fill="#034268"/>
<rect x="660.59" y="1435.6" width="16.57" height="13.40" fill="#064961"/>
<rect x="676.76" y="1435.6" width="16.57" height="13.40" fill="#003c6e"/>
<rect x="692.93" y="1435.6" width="16.57" height="13.40" fill="#034268"/>
<rect x="709.10" y="1435.6" width="16.57" height="13.40" fill="#003d6d"/>
<rect x="725.27" y="1435.6" width="16.57" height="13.40" fill="#0d5b51"/>
<rect x="741.44" y="1435.6" width="16.57" height="13.40" fill="#003c6e"/>
<rect x="757.61" y="1435.6" width="16.57" height="13.40" fill="#093b72"/>
<rect x="773.78" y="1435.6" width="16.57" height="13.40" fill="#013f6b"/>
<rect x="789.95" y="1435.6" width="16.57" height="13.40" fill="#093b72"/>
<rect x="806.12" y="1435.6" width="16.57" height="13.40" fill="#053c70"/>
<rect x="822.29" y="1435.6" width="16.57" height="13.40" fill="#013f6b"/>
<rect x="838.46" y="1435.6" width="16.57" height="13.40" fill="#003d6d"/>
<rect x="854.63" y="1435.6" width="16.57" height="13.40" fill="#003c6e"/>
<rect x="870.80" y="1435.6" width="16.57" height="13.40" fill="#043c70"/>
<rect x="886.97" y="1435.6" width="16.57" height="13.40" fill="#073b71"/>
<rect x="903.14" y="1435.6" width="16.57" height="13.40" fill="#013c6e"/>
<rect x="919.31" y="1435.6" width="16.57" height="13.40" fill="#093b72"/>
<rect x="935.48" y="1435.6" width="16.57" height="13.40" fill="#073b71"/>
<rect x="951.65" y="1435.6" width="16.57" height="13.40" fill="#053c70"/>
<rect x="967.82" y="1435.6" width="16.57" height="13.40" fill="#0a3b72"/>
<rect x="983.99" y="1435.6" width="16.57" height="13.40" fill="#053c70"/>
<rect x="1000.16" y="1435.6" width="16.57" height="13.40" fill="#003d6d"/>
<rect x="1016.33" y="1435.6" width="16.57" height="13.40" fill="#003c6e"/>
<rect x="1032.50" y="1435.6" width="16.57" height="13.40" fill="#033c6f"/>
<rect x="1048.67" y="1435.6" width="16.57" height="13.40" fill="#013c6e"/>
<rect x="1064.84" y="1435.6" width="16.57" height="13.40" fill="#043c70"/>
<rect x="1081.01" y="1435.6" width="16.57" height="13.40" fill="#083b71"/>
<rect x="1097.18" y="1435.6" width="16.57" height="13.40" fill="#023c6f"/>
<rect x="1113.35" y="1435.6" width="16.57" height="13.40" fill="#043c70"/>
<rect x="1129.52" y="1435.6" width="16.57" height="13.40" fill="#003c6e"/>
<rect x="1145.69" y="1435.6" width="16.57" height="13.40" fill="#013e6c"/>
<rect x="1161.86" y="1435.6" width="16.57" height="13.40" fill="#043c70"/>
<rect x="1178.03" y="1435.6" width="16.57" height="13.40" fill="#023c6f"/>
<rect x="1194.20" y="1435.6" width="16.57" height="13.40" fill="#003c6e"/>
<rect x="1210.37" y="1435.6" width="16.57" height="13.40" fill="#043c70"/>
<rect x="1226.54" y="1435.6" width="16.57" height="13.40" fill="#064961"/>
<rect x="1242.71" y="1435.6" width="16.57" height="13.40" fill="#084e5d"/>
<rect x="1258.88" y="1435.6" width="16.57" height="13.40" fill="#084f5b"/>
<rect x="1275.05" y="1435.6" width="16.57" height="13.40" fill="#084e5c"/>
<rect x="1291.22" y="1435.6" width="16.57" height="13.40" fill="#084e5d"/>
<rect x="434.21" y="1448.6" width="16.57" height="13.50" fill="#0c5952"/>
<rect x="450.38" y="1448.6" width="16.57" height="13.50" fill="#0c5754"/>
<rect x="466.55" y="1448.6" width="16.57" height="13.50" fill="#0b5754"/>
<rect x="482.72" y="1448.6" width="16.57" height="13.50" fill="#0b5556"/>
<rect x="515.06" y="1448.6" width="16.57" height="13.50" fill="#0a5457"/>
<rect x="531.23" y="1448.6" width="16.57" height="13.50" fill="#0b5655"/>
<rect x="547.40" y="1448.6" width="16.57" height="13.50" fill="#095159"/>
<rect x="563.57" y="1448.6" width="16.57" height="13.50" fill="#013c6e"/>
<rect x="579.74" y="1448.6" width="16.57" height="13.50" fill="#013f6b"/>
<rect x="595.91" y="1448.6" width="16.57" height="13.50" fill="#09515a"/>
<rect x="612.08" y="1448.6" width="16.57" height="13.50" fill="#084e5d"/>
<rect x="628.25" y="1448.6" width="16.57" height="13.50" fill="#013f6b"/>
<rect x="644.42" y="1448.6" width="16.57" height="13.50" fill="#044665"/>
<rect x="660.59" y="1448.6" width="16.57" height="13.50" fill="#054763"/>
<rect x="676.76" y="1448.6" width="16.57" height="13.50" fill="#074d5d"/>
<rect x="692.93" y="1448.6" width="16.57" height="13.50" fill="#044565"/>
<rect x="709.10" y="1448.6" width="16.57" height="13.50" fill="#084f5b"/>
<rect x="725.27" y="1448.6" width="16.57" height="13.50" fill="#0c5952"/>
<rect x="741.44" y="1448.6" width="16.57" height="13.50" fill="#083b71"/>
<rect x="757.61" y="1448.6" width="16.57" height="13.50" fill="#013c6e"/>
<rect x="773.78" y="1448.6" width="16.57" height="13.50" fill="#003d6d"/>
<rect x="789.95" y="1448.6" width="16.57" height="13.50" fill="#053c70"/>
<rect x="806.12" y="1448.6" width="16.57" height="13.50" fill="#033c6f"/>
<rect x="822.29" y="1448.6" width="16.57" height="13.50" fill="#013f6b"/>
<rect x="838.46" y="1448.6" width="16.57" height="13.50" fill="#0a3b72"/>
<rect x="854.63" y="1448.6" width="16.57" height="13.50" fill="#023c6f"/>
<rect x="870.80" y="1448.6" width="16.57" height="13.50" fill="#083b71"/>
<rect x="886.97" y="1448.6" width="16.57" height="13.50" fill="#003d6d"/>
<rect x="903.14" y="1448.6" width="16.57" height="13.50" fill="#013f6c"/>
<rect x="919.31" y="1448.6" width="16.57" height="13.50" fill="#033c6f"/>
<rect x="935.48" y="1448.6" width="16.57" height="13.50" fill="#093b72"/>
<rect x="951.65" y="1448.6" width="16.57" height="13.50" fill="#023c6f"/>
<rect x="967.82" y="1448.6" width="16.57" height="13.50" fill="#023c6f"/>
<rect x="983.99" y="1448.6" width="16.57" height="13.50" fill="#003c6e"/>
<rect x="1000.16" y="1448.6" width="16.57" height="13.50" fill="#033c6f"/>
<rect x="1016.33" y="1448.6" width="16.57" height="13.50" fill="#013c6e"/>
<rect x="1032.50" y="1448.6" width="16.57" height="13.50" fill="#013d6d"/>
<rect x="1048.67" y="1448.6" width="16.57" height="13.50" fill="#033c6f"/>
<rect x="1064.84" y="1448.6" width="16.57" height="13.50" fill="#043c70"/>
<rect x="1081.01" y="1448.6" width="16.57" height="13.50" fill="#013f6c"/>
<rect x="1097.18" y="1448.6" width="16.57" height="13.50" fill="#073b71"/>
<rect x="1113.35" y="1448.6" width="16.57" height="13.50" fill="#003c6e"/>
<rect x="1129.52" y="1448.6" width="16.57" height="13.50" fill="#053c70"/>
<rect x="1145.69" y="1448.6" width="16.57" height="13.50" fill="#003d6d"/>
<rect x="1161.86" y="1448.6" width="16.57" height="13.50" fill="#083b72"/>
<rect x="1178.03" y="1448.6" width="16.57" height="13.50" fill="#013f6b"/>
<rect x="1194.20" y="1448.6" width="16.57" height="13.50" fill="#053c70"/>
<rect x="1210.37" y="1448.6" width="16.57" height="13.50" fill="#093b72"/>
<rect x="1226.54" y="1448.6" width="16.57" height="13.50" fill="#063b71"/>
<rect x="1242.71" y="1448.6" width="16.57" height="13.50" fill="#064b60"/>
<rect x="1258.88" y="1448.6" width="16.57" height="13.50" fill="#054763"/>
<rect x="1275.05" y="1448.6" width="16.57" height="13.50" fill="#064b60"/>
<rect x="1291.22" y="1448.6" width="16.57" height="13.50" fill="#064b60"/>
<rect x="1307.39" y="1448.6" width="16.57" height="13.50" fill="#084e5d"/>
<rect x="1323.56" y="1448.6" width="16.57" height="13.50" fill="#064a60"/>
<rect x="531.23" y="1461.7" width="16.57" height="13.40" fill="#0a5358"/>
<rect x="547.40" y="1461.7" width="16.57" height="13.40" fill="#0a5358"/>
<rect x="563.57" y="1461.7" width="16.57" height="13.40" fill="#0c5853"/>
<rect x="579.74" y="1461.7" width="16.57" height="13.40" fill="#02406a"/>
<rect x="595.91" y="1461.7" width="16.57" height="13.40" fill="#064a61"/>
<rect x="612.08" y="1461.7" width="16.57" height="13.40" fill="#013e6c"/>
<rect x="628.25" y="1461.7" width="16.57" height="13.40" fill="#0a5457"/>
<rect x="644.42" y="1461.7" width="16.57" height="13.40" fill="#044566"/>
<rect x="660.59" y="1461.7" width="16.57" height="13.40" fill="#013e6c"/>
<rect x="676.76" y="1461.7" width="16.57" height="13.40" fill="#023c6f"/>
<rect x="692.93" y="1461.7" width="16.57" height="13.40" fill="#0a5358"/>
<rect x="709.10" y="1461.7" width="16.57" height="13.40" fill="#0a5457"/>
<rect x="725.27" y="1461.7" width="16.57" height="13.40" fill="#084e5d"/>
<rect x="741.44" y="1461.7" width="16.57" height="13.40" fill="#043c6f"/>
<rect x="757.61" y="1461.7" width="16.57" height="13.40" fill="#023c6f"/>
<rect x="773.78" y="1461.7" width="16.57" height="13.40" fill="#073b71"/>
<rect x="789.95" y="1461.7" width="16.57" height="13.40" fill="#013f6b"/>
<rect x="806.12" y="1461.7" width="16.57" height="13.40" fill="#053c70"/>
<rect x="822.29" y="1461.7" width="16.57" height="13.40" fill="#013c6e"/>
<rect x="838.46" y="1461.7" width="16.57" height="13.40" fill="#003d6d"/>
<rect x="854.63" y="1461.7" width="16.57" height="13.40" fill="#003d6d"/>
<rect x="870.80" y="1461.7" width="16.57" height="13.40" fill="#043c6f"/>
<rect x="886.97" y="1461.7" width="16.57" height="13.40" fill="#063b71"/>
<rect x="903.14" y="1461.7" width="16.57" height="13.40" fill="#023c6f"/>
<rect x="919.31" y="1461.7" width="16.57" height="13.40" fill="#083b72"/>
<rect x="935.48" y="1461.7" width="16.57" height="13.40" fill="#013d6d"/>
<rect x="951.65" y="1461.7" width="16.57" height="13.40" fill="#053c70"/>
<rect x="967.82" y="1461.7" width="16.57" height="13.40" fill="#013e6d"/>
<rect x="983.99" y="1461.7" width="16.57" height="13.40" fill="#063b71"/>
<rect x="1000.16" y="1461.7" width="16.57" height="13.40" fill="#053c70"/>
<rect x="1016.33" y="1461.7" width="16.57" height="13.40" fill="#073b71"/>
<rect x="1032.50" y="1461.7" width="16.57" height="13.40" fill="#043c70"/>
<rect x="1048.67" y="1461.7" width="16.57" height="13.40" fill="#083b71"/>
<rect x="1064.84" y="1461.7" width="16.57" height="13.40" fill="#0a3b72"/>
<rect x="1081.01" y="1461.7" width="16.57" height="13.40" fill="#003c6e"/>
<rect x="1097.18" y="1461.7" width="16.57" height="13.40" fill="#063b71"/>
<rect x="1113.35" y="1461.7" width="16.57" height="13.40" fill="#073b71"/>
<rect x="1129.52" y="1461.7" width="16.57" height="13.40" fill="#063b70"/>
<rect x="1145.69" y="1461.7" width="16.57" height="13.40" fill="#033c6f"/>
<rect x="1161.86" y="1461.7" width="16.57" height="13.40" fill="#043c70"/>
<rect x="1178.03" y="1461.7" width="16.57" height="13.40" fill="#013c6e"/>
<rect x="1194.20" y="1461.7" width="16.57" height="13.40" fill="#013c6e"/>
<rect x="1210.37" y="1461.7" width="16.57" height="13.40" fill="#053c70"/>
<rect x="1226.54" y="1461.7" width="16.57" height="13.40" fill="#013e6c"/>
<rect x="1242.71" y="1461.7" width="16.57" height="13.40" fill="#084f5c"/>
<rect x="1258.88" y="1461.7" width="16.57" height="13.40" fill="#054863"/>
<rect x="1275.05" y="1461.7" width="16.57" height="13.40" fill="#084f5c"/>
<rect x="1291.22" y="1461.7" width="16.57" height="13.40" fill="#08505b"/>
<rect x="498.89" y="1474.7" width="16.57" height="13.50" fill="#0c5853"/>
<rect x="531.23" y="1474.7" width="16.57" height="13.50" fill="#095259"/>
<rect x="547.40" y="1474.7" width="16.57" height="13.50" fill="#0c5853"/>
<rect x="563.57" y="1474.7" width="16.57" height="13.50" fill="#0b5754"/>
<rect x="579.74" y="1474.7" width="16.57" height="13.50" fill="#09515a"/>
<rect x="595.91" y="1474.7" width="16.57" height="13.50" fill="#083b71"/>
<rect x="612.08" y="1474.7" width="16.57" height="13.50" fill="#0d5a51"/>
<rect x="628.25" y="1474.7" width="16.57" height="13.50" fill="#084f5c"/>
<rect x="644.42" y="1474.7" width="16.57" height="13.50" fill="#013f6b"/>
<rect x="660.59" y="1474.7" width="16.57" height="13.50" fill="#033c6f"/>
<rect x="676.76" y="1474.7" width="16.57" height="13.50" fill="#013c6e"/>
<rect x="692.93" y="1474.7" width="16.57" height="13.50" fill="#013f6c"/>
<rect x="709.10" y="1474.7" width="16.57" height="13.50" fill="#0a5358"/>
<rect x="725.27" y="1474.7" width="16.57" height="13.50" fill="#034367"/>
<rect x="741.44" y="1474.7" width="16.57" height="13.50" fill="#083b71"/>
<rect x="757.61" y="1474.7" width="16.57" height="13.50" fill="#013e6c"/>
<rect x="773.78" y="1474.7" width="16.57" height="13.50" fill="#003d6d"/>
<rect x="789.95" y="1474.7" width="16.57" height="13.50" fill="#083b71"/>
<rect x="806.12" y="1474.7" width="16.57" height="13.50" fill="#013e6c"/>
<rect x="822.29" y="1474.7" width="16.57" height="13.50" fill="#023c6f"/>
<rect x="838.46" y="1474.7" width="16.57" height="13.50" fill="#003d6d"/>
<rect x="854.63" y="1474.7" width="16.57" height="13.50" fill="#013c6e"/>
<rect x="870.80" y="1474.7" width="16.57" height="13.50" fill="#013e6c"/>
<rect x="886.97" y="1474.7" width="16.57" height="13.50" fill="#003d6d"/>
<rect x="903.14" y="1474.7" width="16.57" height="13.50" fill="#013d6d"/>
<rect x="919.31" y="1474.7" width="16.57" height="13.50" fill="#073b71"/>
<rect x="935.48" y="1474.7" width="16.57" height="13.50" fill="#003c6e"/>
<rect x="951.65" y="1474.7" width="16.57" height="13.50" fill="#033c6f"/>
<rect x="967.82" y="1474.7" width="16.57" height="13.50" fill="#003c6e"/>
<rect x="983.99" y="1474.7" width="16.57" height="13.50" fill="#043c70"/>
<rect x="1000.16" y="1474.7" width="16.57" height="13.50" fill="#013e6c"/>
<rect x="1016.33" y="1474.7" width="16.57" height="13.50" fill="#023c6f"/>
<rect x="1032.50" y="1474.7" width="16.57" height="13.50" fill="#063b71"/>
<rect x="1048.67" y="1474.7" width="16.57" height="13.50" fill="#073b71"/>
<rect x="1064.84" y="1474.7" width="16.57" height="13.50" fill="#083b71"/>
<rect x="1081.01" y="1474.7" width="16.57" height="13.50" fill="#033c6f"/>
<rect x="1097.18" y="1474.7" width="16.57" height="13.50" fill="#093b72"/>
<rect x="1113.35" y="1474.7" width="16.57" height="13.50" fill="#043c6f"/>
<rect x="1129.52" y="1474.7" width="16.57" height="13.50" fill="#083b71"/>
<rect x="1145.69" y="1474.7" width="16.57" height="13.50" fill="#033c6f"/>
<rect x="1161.86" y="1474.7" width="16.57" height="13.50" fill="#033c6f"/>
<rect x="1178.03" y="1474.7" width="16.57" height="13.50" fill="#023c6f"/>
<rect x="1194.20" y="1474.7" width="16.57" height="13.50" fill="#013e6c"/>
<rect x="1210.37" y="1474.7" width="16.57" height="13.50" fill="#0a3b72"/>
<rect x="1226.54" y="1474.7" width="16.57" height="13.50" fill="#013d6d"/>
<rect x="1242.71" y="1474.7" width="16.57" height="13.50" fill="#003c6e"/>
<rect x="1258.88" y="1474.7" width="16.57" height="13.50" fill="#003d6d"/>
<rect x="1275.05" y="1474.7" width="16.57" height="13.50" fill="#074d5d"/>
<rect x="1291.22" y="1474.7" width="16.57" height="13.50" fill="#44368b"/>
<rect x="1307.39" y="1474.7" width="16.57" height="13.50" fill="#4b358e"/>
<rect x="482.72" y="1487.8" width="16.57" height="13.40" fill="#0b5556"/>
<rect x="498.89" y="1487.8" width="16.57" height="13.40" fill="#0d5a51"/>
<rect x="515.06" y="1487.8" width="16.57" height="13.40" fill="#09515a"/>
<rect x="531.23" y="1487.8" width="16.57" height="13.40" fill="#0b5754"/>
<rect x="547.40" y="1487.8" width="16.57" height="13.40" fill="#0b5754"/>
<rect x="563.57" y="1487.8" width="16.57" height="13.40" fill="#09515a"/>
<rect x="579.74" y="1487.8" width="16.57" height="13.40" fill="#0b5655"/>
<rect x="595.91" y="1487.8" width="16.57" height="13.40" fill="#08505b"/>
<rect x="612.08" y="1487.8" width="16.57" height="13.40" fill="#0c5952"/>
<rect x="628.25" y="1487.8" width="16.57" height="13.40" fill="#034268"/>
<rect x="644.42" y="1487.8" width="16.57" height="13.40" fill="#0d5b50"/>
<rect x="660.59" y="1487.8" width="16.57" height="13.40" fill="#064961"/>
<rect x="676.76" y="1487.8" width="16.57" height="13.40" fill="#054862"/>
<rect x="692.93" y="1487.8" width="16.57" height="13.40" fill="#0c5853"/>
<rect x="709.10" y="1487.8" width="16.57" height="13.40" fill="#073b71"/>
<rect x="725.27" y="1487.8" width="16.57" height="13.40" fill="#09515a"/>
<rect x="741.44" y="1487.8" width="16.57" height="13.40" fill="#013c6f"/>
<rect x="757.61" y="1487.8" width="16.57" height="13.40" fill="#053c70"/>
<rect x="773.78" y="1487.8" width="16.57" height="13.40" fill="#013e6c"/>
<rect x="789.95" y="1487.8" width="16.57" height="13.40" fill="#053c70"/>
<rect x="806.12" y="1487.8" width="16.57" height="13.40" fill="#033c6f"/>
<rect x="822.29" y="1487.8" width="16.57" height="13.40" fill="#033c6f"/>
<rect x="838.46" y="1487.8" width="16.57" height="13.40" fill="#003d6d"/>
<rect x="854.63" y="1487.8" width="16.57" height="13.40" fill="#073b71"/>
<rect x="870.80" y="1487.8" width="16.57" height="13.40" fill="#043c70"/>
<rect x="886.97" y="1487.8" width="16.57" height="13.40" fill="#043c70"/>
<rect x="903.14" y="1487.8" width="16.57" height="13.40" fill="#023c6f"/>
<rect x="919.31" y="1487.8" width="16.57" height="13.40" fill="#013d6d"/>
<rect x="935.48" y="1487.8" width="16.57" height="13.40" fill="#063b71"/>
<rect x="951.65" y="1487.8" width="16.57" height="13.40" fill="#013d6d"/>
<rect x="967.82" y="1487.8" width="16.57" height="13.40" fill="#043c70"/>
<rect x="983.99" y="1487.8" width="16.57" height="13.40" fill="#033c6f"/>
<rect x="1000.16" y="1487.8" width="16.57" height="13.40" fill="#063b71"/>
<rect x="1016.33" y="1487.8" width="16.57" height="13.40" fill="#033c6f"/>
<rect x="1032.50" y="1487.8" width="16.57" height="13.40" fill="#013f6b"/>
<rect x="1048.67" y="1487.8" width="16.57" height="13.40" fill="#013c6e"/>
<rect x="1064.84" y="1487.8" width="16.57" height="13.40" fill="#003d6d"/>
<rect x="1081.01" y="1487.8" width="16.57" height="13.40" fill="#053c70"/>
<rect x="1097.18" y="1487.8" width="16.57" height="13.40" fill="#063b70"/>
<rect x="1113.35" y="1487.8" width="16.57" height="13.40" fill="#063b70"/>
<rect x="1129.52" y="1487.8" width="16.57" height="13.40" fill="#023c6f"/>
<rect x="1145.69" y="1487.8" width="16.57" height="13.40" fill="#013c6e"/>
<rect x="1161.86" y="1487.8" width="16.57" height="13.40" fill="#003d6d"/>
<rect x="1178.03" y="1487.8" width="16.57" height="13.40" fill="#0a3b72"/>
<rect x="1194.20" y="1487.8" width="16.57" height="13.40" fill="#003c6e"/>
<rect x="1210.37" y="1487.8" width="16.57" height="13.40" fill="#013e6c"/>
<rect x="1226.54" y="1487.8" width="16.57" height="13.40" fill="#023c6f"/>
<rect x="1242.71" y="1487.8" width="16.57" height="13.40" fill="#063c70"/>
<rect x="1258.88" y="1487.8" width="16.57" height="13.40" fill="#023c6f"/>
<rect x="1275.05" y="1487.8" width="16.57" height="13.40" fill="#063b71"/>
<rect x="1291.22" y="1487.8" width="16.57" height="13.40" fill="#4f358f"/>
<rect x="1307.39" y="1487.8" width="16.57" height="13.40" fill="#43368a"/>
<rect x="1323.56" y="1487.8" width="16.57" height="13.40" fill="#48368c"/>
<rect x="466.55" y="1500.8" width="16.57" height="13.40" fill="#0c5754"/>
<rect x="482.72" y="1500.8" width="16.57" height="13.40" fill="#0c5853"/>
<rect x="498.89" y="1500.8" width="16.57" height="13.40" fill="#0d5952"/>
<rect x="515.06" y="1500.8" width="16.57" height="13.40" fill="#0b5655"/>
<rect x="531.23" y="1500.8" width="16.57" height="13.40" fill="#0b5655"/>
<rect x="547.40" y="1500.8" width="16.57" height="13.40" fill="#0b5655"/>
<rect x="563.57" y="1500.8" width="16.57" height="13.40" fill="#0c5754"/>
<rect x="579.74" y="1500.8" width="16.57" height="13.40" fill="#0b5655"/>
<rect x="595.91" y="1500.8" width="16.57" height="13.40" fill="#08505b"/>
<rect x="612.08" y="1500.8" width="16.57" height="13.40" fill="#013e6c"/>
<rect x="628.25" y="1500.8" width="16.57" height="13.40" fill="#084f5c"/>
<rect x="644.42" y="1500.8" width="16.57" height="13.40" fill="#054763"/>
<rect x="660.59" y="1500.8" width="16.57" height="13.40" fill="#0a5358"/>
<rect x="676.76" y="1500.8" width="16.57" height="13.40" fill="#033c6f"/>
<rect x="692.93" y="1500.8" width="16.57" height="13.40" fill="#003d6d"/>
<rect x="709.10" y="1500.8" width="16.57" height="13.40" fill="#063b71"/>
<rect x="725.27" y="1500.8" width="16.57" height="13.40" fill="#0a5358"/>
<rect x="741.44" y="1500.8" width="16.57" height="13.40" fill="#013e6c"/>
<rect x="757.61" y="1500.8" width="16.57" height="13.40" fill="#013c6e"/>
<rect x="773.78" y="1500.8" width="16.57" height="13.40" fill="#053c70"/>
<rect x="789.95" y="1500.8" width="16.57" height="13.40" fill="#166e3e"/>
<rect x="806.12" y="1500.8" width="16.57" height="13.40" fill="#156c3f"/>
<rect x="822.29" y="1500.8" width="16.57" height="13.40" fill="#1e822a"/>
<rect x="838.46" y="1500.8" width="16.57" height="13.40" fill="#1d7e2e"/>
<rect x="854.63" y="1500.8" width="16.57" height="13.40" fill="#1d7f2e"/>
<rect x="870.80" y="1500.8" width="16.57" height="13.40" fill="#043c70"/>
<rect x="886.97" y="1500.8" width="16.57" height="13.40" fill="#063c70"/>
<rect x="903.14" y="1500.8" width="16.57" height="13.40" fill="#043c70"/>
<rect x="919.31" y="1500.8" width="16.57" height="13.40" fill="#013c6e"/>
<rect x="935.48" y="1500.8" width="16.57" height="13.40" fill="#013e6c"/>
<rect x="951.65" y="1500.8" width="16.57" height="13.40" fill="#093b72"/>
<rect x="967.82" y="1500.8" width="16.57" height="13.40" fill="#023c6f"/>
<rect x="983.99" y="1500.8" width="16.57" height="13.40" fill="#0a3b72"/>
<rect x="1000.16" y="1500.8" width="16.57" height="13.40" fill="#093b72"/>
<rect x="1016.33" y="1500.8" width="16.57" height="13.40" fill="#003d6d"/>
<rect x="1032.50" y="1500.8" width="16.57" height="13.40" fill="#023c6f"/>
<rect x="1048.67" y="1500.8" width="16.57" height="13.40" fill="#013e6c"/>
<rect x="1064.84" y="1500.8" width="16.57" height="13.40" fill="#043c70"/>
<rect x="1081.01" y="1500.8" width="16.57" height="13.40" fill="#0a3b72"/>
<rect x="1097.18" y="1500.8" width="16.57" height="13.40" fill="#053c70"/>
<rect x="1113.35" y="1500.8" width="16.57" height="13.40" fill="#023c6f"/>
<rect x="1129.52" y="1500.8" width="16.57" height="13.40" fill="#013e6c"/>
<rect x="1145.69" y="1500.8" width="16.57" height="13.40" fill="#013f6b"/>
<rect x="1161.86" y="1500.8" width="16.57" height="13.40" fill="#033c6f"/>
<rect x="1178.03" y="1500.8" width="16.57" height="13.40" fill="#043c70"/>
<rect x="1194.20" y="1500.8" width="16.57" height="13.40" fill="#093b72"/>
<rect x="1210.37" y="1500.8" width="16.57" height="13.40" fill="#013c6e"/>
<rect x="1226.54" y="1500.8" width="16.57" height="13.40" fill="#073b71"/>
<rect x="1242.71" y="1500.8" width="16.57" height="13.40" fill="#48368c"/>
<rect x="1258.88" y="1500.8" width="16.57" height="13.40" fill="#49368d"/>
<rect x="1275.05" y="1500.8" width="16.57" height="13.40" fill="#49368d"/>
<rect x="1291.22" y="1500.8" width="16.57" height="13.40" fill="#46368c"/>
<rect x="450.38" y="1513.8" width="16.57" height="13.50" fill="#095259"/>
<rect x="466.55" y="1513.8" width="16.57" height="13.50" fill="#0d5a51"/>
<rect x="482.72" y="1513.8" width="16.57" height="13.50" fill="#095159"/>
<rect x="498.89" y="1513.8" width="16.57" height="13.50" fill="#0c5952"/>
<rect x="515.06" y="1513.8" width="16.57" height="13.50" fill="#095259"/>
<rect x="531.23" y="1513.8" width="16.57" height="13.50" fill="#09515a"/>
<rect x="547.40" y="1513.8" width="16.57" height="13.50" fill="#0c5754"/>
<rect x="563.57" y="1513.8" width="16.57" height="13.50" fill="#0a5358"/>
<rect x="579.74" y="1513.8" width="16.57" height="13.50" fill="#054863"/>
<rect x="595.91" y="1513.8" width="16.57" height="13.50" fill="#013f6b"/>
<rect x="612.08" y="1513.8" width="16.57" height="13.50" fill="#063b70"/>
<rect x="628.25" y="1513.8" width="16.57" height="13.50" fill="#0a5358"/>
<rect x="644.42" y="1513.8" width="16.57" height="13.50" fill="#09515a"/>
<rect x="660.59" y="1513.8" width="16.57" height="13.50" fill="#0b5655"/>
<rect x="676.76" y="1513.8" width="16.57" height="13.50" fill="#146a42"/>
<rect x="692.93" y="1513.8" width="16.57" height="13.50" fill="#064b60"/>
<rect x="709.10" y="1513.8" width="16.57" height="13.50" fill="#126547"/>
<rect x="725.27" y="1513.8" width="16.57" height="13.50" fill="#136943"/>
<rect x="741.44" y="1513.8" width="16.57" height="13.50" fill="#0e5d4e"/>
<rect x="757.61" y="1513.8" width="16.57" height="13.50" fill="#187339"/>
<rect x="773.78" y="1513.8" width="16.57" height="13.50" fill="#0a5358"/>
<rect x="789.95" y="1513.8" width="16.57" height="13.50" fill="#187537"/>
<rect x="806.12" y="1513.8" width="16.57" height="13.50" fill="#136943"/>
<rect x="822.29" y="1513.8" width="16.57" height="13.50" fill="#1b7b31"/>
<rect x="838.46" y="1513.8" width="16.57" height="13.50" fill="#1b7b31"/>
<rect x="854.63" y="1513.8" width="16.57" height="13.50" fill="#1f8329"/>
<rect x="870.80" y="1513.8" width="16.57" height="13.50" fill="#156e3e"/>
<rect x="886.97" y="1513.8" width="16.57" height="13.50" fill="#093b72"/>
<rect x="903.14" y="1513.8" width="16.57" height="13.50" fill="#063b70"/>
<rect x="919.31" y="1513.8" width="16.57" height="13.50" fill="#003c6e"/>
<rect x="935.48" y="1513.8" width="16.57" height="13.50" fill="#083b71"/>
<rect x="951.65" y="1513.8" width="16.57" height="13.50" fill="#013e6c"/>
<rect x="967.82" y="1513.8" width="16.57" height="13.50" fill="#033c6f"/>
<rect x="983.99" y="1513.8" width="16.57" height="13.50" fill="#093b72"/>
<rect x="1000.16" y="1513.8" width="16.57" height="13.50" fill="#053c70"/>
<rect x="1016.33" y="1513.8" width="16.57" height="13.50" fill="#023c6f"/>
<rect x="1032.50" y="1513.8" width="16.57" height="13.50" fill="#043c70"/>
<rect x="1048.67" y="1513.8" width="16.57" height="13.50" fill="#013c6e"/>
<rect x="1064.84" y="1513.8" width="16.57" height="13.50" fill="#083b71"/>
<rect x="1081.01" y="1513.8" width="16.57" height="13.50" fill="#003d6d"/>
<rect x="1097.18" y="1513.8" width="16.57" height="13.50" fill="#053c70"/>
<rect x="1113.35" y="1513.8" width="16.57" height="13.50" fill="#013c6e"/>
<rect x="1129.52" y="1513.8" width="16.57" height="13.50" fill="#013c6f"/>
<rect x="1145.69" y="1513.8" width="16.57" height="13.50" fill="#043c70"/>
<rect x="1161.86" y="1513.8" width="16.57" height="13.50" fill="#053c70"/>
<rect x="1178.03" y="1513.8" width="16.57" height="13.50" fill="#003d6d"/>
<rect x="1194.20" y="1513.8" width="16.57" height="13.50" fill="#013f6c"/>
<rect x="1210.37" y="1513.8" width="16.57" height="13.50" fill="#003d6d"/>
<rect x="1226.54" y="1513.8" width="16.57" height="13.50" fill="#023c6f"/>
<rect x="1242.71" y="1513.8" width="16.57" height="13.50" fill="#47368c"/>
<rect x="1258.88" y="1513.8" width="16.57" height="13.50" fill="#49368d"/>
<rect x="1275.05" y="1513.8" width="16.57" height="13.50" fill="#393786"/>
<rect x="450.38" y="1526.9" width="16.57" height="13.40" fill="#0c5754"/>
<rect x="466.55" y="1526.9" width="16.57" height="13.40" fill="#0c5853"/>
<rect x="482.72" y="1526.9" width="16.57" height="13.40" fill="#0a5457"/>
<rect x="498.89" y="1526.9" width="16.57" height="13.40" fill="#0b5655"/>
<rect x="515.06" y="1526.9" width="16.57" height="13.40" fill="#0d5a51"/>
<rect x="531.23" y="1526.9" width="16.57" height="13.40" fill="#0c5853"/>
<rect x="547.40" y="1526.9" width="16.57" height="13.40" fill="#0b5655"/>
<rect x="563.57" y="1526.9" width="16.57" height="13.40" fill="#0a5357"/>
<rect x="579.74" y="1526.9" width="16.57" height="13.40" fill="#034367"/>
<rect x="595.91" y="1526.9" width="16.57" height="13.40" fill="#064a61"/>
<rect x="612.08" y="1526.9" width="16.57" height="13.40" fill="#0c5952"/>
<rect x="628.25" y="1526.9" width="16.57" height="13.40" fill="#136844"/>
<rect x="644.42" y="1526.9" width="16.57" height="13.40" fill="#116448"/>
<rect x="660.59" y="1526.9" width="16.57" height="13.40" fill="#17723a"/>
<rect x="676.76" y="1526.9" width="16.57" height="13.40" fill="#156d3f"/>
<rect x="692.93" y="1526.9" width="16.57" height="13.40" fill="#0b5456"/>
<rect x="709.10" y="1526.9" width="16.57" height="13.40" fill="#054763"/>
<rect x="725.27" y="1526.9" width="16.57" height="13.40" fill="#0a5457"/>
<rect x="741.44" y="1526.9" width="16.57" height="13.40" fill="#0d5b50"/>
<rect x="757.61" y="1526.9" width="16.57" height="13.40" fill="#116349"/>
<rect x="773.78" y="1526.9" width="16.57" height="13.40" fill="#156e3e"/>
<rect x="789.95" y="1526.9" width="16.57" height="13.40" fill="#17713b"/>
<rect x="806.12" y="1526.9" width="16.57" height="13.40" fill="#064961"/>
<rect x="822.29" y="1526.9" width="16.57" height="13.40" fill="#166f3d"/>
<rect x="838.46" y="1526.9" width="16.57" height="13.40" fill="#156e3e"/>
<rect x="854.63" y="1526.9" width="16.57" height="13.40" fill="#16703c"/>
<rect x="870.80" y="1526.9" width="16.57" height="13.40" fill="#106249"/>
<rect x="886.97" y="1526.9" width="16.57" height="13.40" fill="#063b71"/>
<rect x="903.14" y="1526.9" width="16.57" height="13.40" fill="#013e6d"/>
<rect x="919.31" y="1526.9" width="16.57" height="13.40" fill="#003d6d"/>
<rect x="935.48" y="1526.9" width="16.57" height="13.40" fill="#343784"/>
<rect x="951.65" y="1526.9" width="16.57" height="13.40" fill="#323883"/>
<rect x="967.82" y="1526.9" width="16.57" height="13.40" fill="#363785"/>
<rect x="983.99" y="1526.9" width="16.57" height="13.40" fill="#49368d"/>
<rect x="1000.16" y="1526.9" width="16.57" height="13.40" fill="#3f3688"/>
<rect x="1016.33" y="1526.9" width="16.57" height="13.40" fill="#3c3787"/>
<rect x="1032.50" y="1526.9" width="16.57" height="13.40" fill="#48368c"/>
<rect x="1048.67" y="1526.9" width="16.57" height="13.40" fill="#43368a"/>
<rect x="1064.84" y="1526.9" width="16.57" height="13.40" fill="#42368a"/>
<rect x="1081.01" y="1526.9" width="16.57" height="13.40" fill="#48368c"/>
<rect x="1097.18" y="1526.9" width="16.57" height="13.40" fill="#44368b"/>
<rect x="1113.35" y="1526.9" width="16.57" height="13.40" fill="#44368b"/>
<rect x="1129.52" y="1526.9" width="16.57" height="13.40" fill="#46368b"/>
<rect x="1145.69" y="1526.9" width="16.57" height="13.40" fill="#48368c"/>
<rect x="1161.86" y="1526.9" width="16.57" height="13.40" fill="#47368c"/>
<rect x="1178.03" y="1526.9" width="16.57" height="13.40" fill="#43368a"/>
<rect x="1194.20" y="1526.9" width="16.57" height="13.40" fill="#43368a"/>
<rect x="1210.37" y="1526.9" width="16.57" height="13.40" fill="#403689"/>
<rect x="1226.54" y="1526.9" width="16.57" height="13.40" fill="#44368b"/>
<rect x="1258.88" y="1526.9" width="16.57" height="13.40" fill="#3b3787"/>
<rect x="434.21" y="1539.9" width="16.57" height="13.50" fill="#533591"/>
<rect x="450.38" y="1539.9" width="16.57" height="13.50" fill="#0a5358"/>
<rect x="466.55" y="1539.9" width="16.57" height="13.50" fill="#0b5655"/>
<rect x="482.72" y="1539.9" width="16.57" height="13.50" fill="#0c5952"/>
<rect x="498.89" y="1539.9" width="16.57" height="13.50" fill="#0c5952"/>
<rect x="515.06" y="1539.9" width="16.57" height="13.50" fill="#0b5555"/>
<rect x="531.23" y="1539.9" width="16.57" height="13.50" fill="#0b5556"/>
<rect x="547.40" y="1539.9" width="16.57" height="13.50" fill="#0b5655"/>
<rect x="563.57" y="1539.9" width="16.57" height="13.50" fill="#0a5259"/>
<rect x="579.74" y="1539.9" width="16.57" height="13.50" fill="#013f6b"/>
<rect x="595.91" y="1539.9" width="16.57" height="13.50" fill="#013f6b"/>
<rect x="612.08" y="1539.9" width="16.57" height="13.50" fill="#136843"/>
<rect x="628.25" y="1539.9" width="16.57" height="13.50" fill="#0c5853"/>
<rect x="644.42" y="1539.9" width="16.57" height="13.50" fill="#208527"/>
<rect x="660.59" y="1539.9" width="16.57" height="13.50" fill="#1f8429"/>
<rect x="676.76" y="1539.9" width="16.57" height="13.50" fill="#1f8528"/>
<rect x="692.93" y="1539.9" width="16.57" height="13.50" fill="#084e5d"/>
<rect x="709.10" y="1539.9" width="16.57" height="13.50" fill="#064961"/>
<rect x="725.27" y="1539.9" width="16.57" height="13.50" fill="#197636"/>
<rect x="741.44" y="1539.9" width="16.57" height="13.50" fill="#0c5952"/>
<rect x="757.61" y="1539.9" width="16.57" height="13.50" fill="#074c5f"/>
<rect x="773.78" y="1539.9" width="16.57" height="13.50" fill="#126547"/>
<rect x="789.95" y="1539.9" width="16.57" height="13.50" fill="#156c3f"/>
<rect x="806.12" y="1539.9" width="16.57" height="13.50" fill="#084e5c"/>
<rect x="822.29" y="1539.9" width="16.57" height="13.50" fill="#116348"/>
<rect x="838.46" y="1539.9" width="16.57" height="13.50" fill="#0c5754"/>
<rect x="854.63" y="1539.9" width="16.57" height="13.50" fill="#0f604c"/>
<rect x="870.80" y="1539.9" width="16.57" height="13.50" fill="#054862"/>
<rect x="886.97" y="1539.9" width="16.57" height="13.50" fill="#0a3b72"/>
<rect x="903.14" y="1539.9" width="16.57" height="13.50" fill="#013f6b"/>
<rect x="919.31" y="1539.9" width="16.57" height="13.50" fill="#323883"/>
<rect x="935.48" y="1539.9" width="16.57" height="13.50" fill="#353784"/>
<rect x="951.65" y="1539.9" width="16.57" height="13.50" fill="#343784"/>
<rect x="967.82" y="1539.9" width="16.57" height="13.50" fill="#373785"/>
<rect x="983.99" y="1539.9" width="16.57" height="13.50" fill="#43368a"/>
<rect x="1000.16" y="1539.9" width="16.57" height="13.50" fill="#403689"/>
<rect x="1016.33" y="1539.9" width="16.57" height="13.50" fill="#3a3786"/>
<rect x="1032.50" y="1539.9" width="16.57" height="13.50" fill="#3c3787"/>
<rect x="1048.67" y="1539.9" width="16.57" height="13.50" fill="#3b3787"/>
<rect x="1064.84" y="1539.9" width="16.57" height="13.50" fill="#3a3786"/>
<rect x="1081.01" y="1539.9" width="16.57" height="13.50" fill="#42368a"/>
<rect x="1097.18" y="1539.9" width="16.57" height="13.50" fill="#49368d"/>
<rect x="1113.35" y="1539.9" width="16.57" height="13.50" fill="#363785"/>
<rect x="1129.52" y="1539.9" width="16.57" height="13.50" fill="#373785"/>
<rect x="1145.69" y="1539.9" width="16.57" height="13.50" fill="#393786"/>
<rect x="1161.86" y="1539.9" width="16.57" height="13.50" fill="#3a3786"/>
<rect x="1178.03" y="1539.9" width="16.57" height="13.50" fill="#2e3881"/>
<rect x="1194.20" y="1539.9" width="16.57" height="13.50" fill="#26397e"/>
<rect x="1210.37" y="1539.9" width="16.57" height="13.50" fill="#303882"/>
<rect x="1226.54" y="1539.9" width="16.57" height="13.50" fill="#24397d"/>
<rect x="1242.71" y="1539.9" width="16.57" height="13.50" fill="#3a3787"/>
<rect x="1258.88" y="1539.9" width="16.57" height="13.50" fill="#45368b"/>
<rect x="1275.05" y="1539.9" width="16.57" height="13.50" fill="#3e3788"/>
<rect x="1291.22" y="1539.9" width="16.57" height="13.50" fill="#403689"/>
<rect x="1307.39" y="1539.9" width="16.57" height="13.50" fill="#44368b"/>
<rect x="418.04" y="1553.0" width="16.57" height="13.40" fill="#523591"/>
<rect x="450.38" y="1553.0" width="16.57" height="13.40" fill="#0a5358"/>
<rect x="466.55" y="1553.0" width="16.57" height="13.40" fill="#0b5655"/>
<rect x="482.72" y="1553.0" width="16.57" height="13.40" fill="#0b5754"/>
<rect x="498.89" y="1553.0" width="16.57" height="13.40" fill="#0d5a52"/>
<rect x="515.06" y="1553.0" width="16.57" height="13.40" fill="#0c5754"/>
<rect x="531.23" y="1553.0" width="16.57" height="13.40" fill="#0a5457"/>
<rect x="579.74" y="1553.0" width="16.57" height="13.40" fill="#034367"/>
<rect x="595.91" y="1553.0" width="16.57" height="13.40" fill="#013f6c"/>
<rect x="612.08" y="1553.0" width="16.57" height="13.40" fill="#187537"/>
<rect x="628.25" y="1553.0" width="16.57" height="13.40" fill="#197636"/>
<rect x="644.42" y="1553.0" width="16.57" height="13.40" fill="#1e822b"/>
<rect x="660.59" y="1553.0" width="16.57" height="13.40" fill="#1d802c"/>
<rect x="676.76" y="1553.0" width="16.57" height="13.40" fill="#1e822a"/>
<rect x="692.93" y="1553.0" width="16.57" height="13.40" fill="#0c5853"/>
<rect x="709.10" y="1553.0" width="16.57" height="13.40" fill="#17723a"/>
<rect x="725.27" y="1553.0" width="16.57" height="13.40" fill="#17723a"/>
<rect x="741.44" y="1553.0" width="16.57" height="13.40" fill="#166f3d"/>
<rect x="757.61" y="1553.0" width="16.57" height="13.40" fill="#064961"/>
<rect x="773.78" y="1553.0" width="16.57" height="13.40" fill="#156c40"/>
<rect x="789.95" y="1553.0" width="16.57" height="13.40" fill="#136943"/>
<rect x="806.12" y="1553.0" width="16.57" height="13.40" fill="#126646"/>
<rect x="822.29" y="1553.0" width="16.57" height="13.40" fill="#197636"/>
<rect x="838.46" y="1553.0" width="16.57" height="13.40" fill="#064a61"/>
<rect x="854.63" y="1553.0" width="16.57" height="13.40" fill="#084e5d"/>
<rect x="870.80" y="1553.0" width="16.57" height="13.40" fill="#146b41"/>
<rect x="886.97" y="1553.0" width="16.57" height="13.40" fill="#313883"/>
<rect x="903.14" y="1553.0" width="16.57" height="13.40" fill="#343784"/>
<rect x="919.31" y="1553.0" width="16.57" height="13.40" fill="#373785"/>
<rect x="935.48" y="1553.0" width="16.57" height="13.40" fill="#343784"/>
<rect x="951.65" y="1553.0" width="16.57" height="13.40" fill="#333883"/>
<rect x="967.82" y="1553.0" width="16.57" height="13.40" fill="#383786"/>
<rect x="983.99" y="1553.0" width="16.57" height="13.40" fill="#47368c"/>
<rect x="1016.33" y="1553.0" width="16.57" height="13.40" fill="#42368a"/>
<rect x="1032.50" y="1553.0" width="16.57" height="13.40" fill="#44368b"/>
<rect x="1048.67" y="1553.0" width="16.57" height="13.40" fill="#3f3689"/>
<rect x="1064.84" y="1553.0" width="16.57" height="13.40" fill="#43368a"/>
<rect x="1081.01" y="1553.0" width="16.57" height="13.40" fill="#42368a"/>
<rect x="1097.18" y="1553.0" width="16.57" height="13.40" fill="#44368b"/>
<rect x="1113.35" y="1553.0" width="16.57" height="13.40" fill="#3d3788"/>
<rect x="1129.52" y="1553.0" width="16.57" height="13.40" fill="#3b3787"/>
<rect x="1145.69" y="1553.0" width="16.57" height="13.40" fill="#2a3880"/>
<rect x="1161.86" y="1553.0" width="16.57" height="13.40" fill="#363785"/>
<rect x="1178.03" y="1553.0" width="16.57" height="13.40" fill="#3a3787"/>
<rect x="1194.20" y="1553.0" width="16.57" height="13.40" fill="#24397d"/>
<rect x="1210.37" y="1553.0" width="16.57" height="13.40" fill="#363785"/>
<rect x="1226.54" y="1553.0" width="16.57" height="13.40" fill="#24397d"/>
<rect x="1242.71" y="1553.0" width="16.57" height="13.40" fill="#3b3787"/>
<rect x="1258.88" y="1553.0" width="16.57" height="13.40" fill="#3a3787"/>
<rect x="1275.05" y="1553.0" width="16.57" height="13.40" fill="#44368b"/>
<rect x="1291.22" y="1553.0" width="16.57" height="13.40" fill="#403689"/>
<rect x="1307.39" y="1553.0" width="16.57" height="13.40" fill="#44368b"/>
<rect x="1323.56" y="1553.0" width="16.57" height="13.40" fill="#3a3786"/>
<rect x="1339.73" y="1553.0" width="16.57" height="13.40" fill="#3b3787"/>
<rect x="401.87" y="1566.0" width="16.57" height="13.50" fill="#353784"/>
<rect x="418.04" y="1566.0" width="16.57" height="13.50" fill="#363785"/>
<rect x="434.21" y="1566.0" width="16.57" height="13.50" fill="#373785"/>
<rect x="450.38" y="1566.0" width="16.57" height="13.50" fill="#0c5853"/>
<rect x="466.55" y="1566.0" width="16.57" height="13.50" fill="#0b5556"/>
<rect x="482.72" y="1566.0" width="16.57" height="13.50" fill="#0b5655"/>
<rect x="498.89" y="1566.0" width="16.57" height="13.50" fill="#095259"/>
<rect x="515.06" y="1566.0" width="16.57" height="13.50" fill="#0a5358"/>
<rect x="531.23" y="1566.0" width="16.57" height="13.50" fill="#09515a"/>
<rect x="547.40" y="1566.0" width="16.57" height="13.50" fill="#0c5754"/>
<rect x="563.57" y="1566.0" width="16.57" height="13.50" fill="#0b5655"/>
<rect x="579.74" y="1566.0" width="16.57" height="13.50" fill="#013e6c"/>
<rect x="595.91" y="1566.0" width="16.57" height="13.50" fill="#064a61"/>
<rect x="612.08" y="1566.0" width="16.57" height="13.50" fill="#0a5457"/>
<rect x="628.25" y="1566.0" width="16.57" height="13.50" fill="#0d5b51"/>
<rect x="644.42" y="1566.0" width="16.57" height="13.50" fill="#1e812b"/>
<rect x="660.59" y="1566.0" width="16.57" height="13.50" fill="#1e832a"/>
<rect x="676.76" y="1566.0" width="16.57" height="13.50" fill="#218825"/>
<rect x="692.93" y="1566.0" width="16.57" height="13.50" fill="#0c5754"/>
<rect x="709.10" y="1566.0" width="16.57" height="13.50" fill="#084f5c"/>
<rect x="725.27" y="1566.0" width="16.57" height="13.50" fill="#0f5e4d"/>
<rect x="741.44" y="1566.0" width="16.57" height="13.50" fill="#0b5655"/>
<rect x="757.61" y="1566.0" width="16.57" height="13.50" fill="#17723a"/>
<rect x="773.78" y="1566.0" width="16.57" height="13.50" fill="#074c5e"/>
<rect x="789.95" y="1566.0" width="16.57" height="13.50" fill="#197537"/>
<rect x="806.12" y="1566.0" width="16.57" height="13.50" fill="#064a61"/>
<rect x="822.29" y="1566.0" width="16.57" height="13.50" fill="#17713b"/>
<rect x="838.46" y="1566.0" width="16.57" height="13.50" fill="#126745"/>
<rect x="854.63" y="1566.0" width="16.57" height="13.50" fill="#373785"/>
<rect x="870.80" y="1566.0" width="16.57" height="13.50" fill="#353784"/>
<rect x="886.97" y="1566.0" width="16.57" height="13.50" fill="#373785"/>
<rect x="903.14" y="1566.0" width="16.57" height="13.50" fill="#373785"/>
<rect x="919.31" y="1566.0" width="16.57" height="13.50" fill="#373785"/>
<rect x="935.48" y="1566.0" width="16.57" height="13.50" fill="#363785"/>
<rect x="951.65" y="1566.0" width="16.57" height="13.50" fill="#313883"/>
<rect x="967.82" y="1566.0" width="16.57" height="13.50" fill="#313883"/>
<rect x="983.99" y="1566.0" width="16.57" height="13.50" fill="#42368a"/>
<rect x="1000.16" y="1566.0" width="16.57" height="13.50" fill="#44368b"/>
<rect x="1032.50" y="1566.0" width="16.57" height="13.50" fill="#42368a"/>
<rect x="1129.52" y="1566.0" width="16.57" height="13.50" fill="#25397e"/>
<rect x="1145.69" y="1566.0" width="16.57" height="13.50" fill="#3a3786"/>
<rect x="1161.86" y="1566.0" width="16.57" height="13.50" fill="#29387f"/>
<rect x="1178.03" y="1566.0" width="16.57" height="13.50" fill="#343784"/>
<rect x="1194.20" y="1566.0" width="16.57" height="13.50" fill="#23397d"/>
<rect x="1210.37" y="1566.0" width="16.57" height="13.50" fill="#3b3787"/>
<rect x="1226.54" y="1566.0" width="16.57" height="13.50" fill="#27397f"/>
<rect x="1242.71" y="1566.0" width="16.57" height="13.50" fill="#413689"/>
<rect x="1258.88" y="1566.0" width="16.57" height="13.50" fill="#44368b"/>
<rect x="1275.05" y="1566.0" width="16.57" height="13.50" fill="#45368b"/>
<rect x="1291.22" y="1566.0" width="16.57" height="13.50" fill="#3b3787"/>
<rect x="1307.39" y="1566.0" width="16.57" height="13.50" fill="#3f3689"/>
<rect x="1323.56" y="1566.0" width="16.57" height="13.50" fill="#43368a"/>
<rect x="1339.73" y="1566.0" width="16.57" height="13.50" fill="#403689"/>
<rect x="401.87" y="1579.1" width="16.57" height="13.40" fill="#323883"/>
<rect x="418.04" y="1579.1" width="16.57" height="13.40" fill="#373785"/>
<rect x="434.21" y="1579.1" width="16.57" height="13.40" fill="#343784"/>
<rect x="450.38" y="1579.1" width="16.57" height="13.40" fill="#383786"/>
<rect x="466.55" y="1579.1" width="16.57" height="13.40" fill="#383785"/>
<rect x="482.72" y="1579.1" width="16.57" height="13.40" fill="#333883"/>
<rect x="498.89" y="1579.1" width="16.57" height="13.40" fill="#333784"/>
<rect x="515.06" y="1579.1" width="16.57" height="13.40" fill="#383785"/>
<rect x="531.23" y="1579.1" width="16.57" height="13.40" fill="#383786"/>
<rect x="547.40" y="1579.1" width="16.57" height="13.40" fill="#383786"/>
<rect x="563.57" y="1579.1" width="16.57" height="13.40" fill="#343784"/>
<rect x="579.74" y="1579.1" width="16.57" height="13.40" fill="#353784"/>
<rect x="595.91" y="1579.1" width="16.57" height="13.40" fill="#373785"/>
<rect x="612.08" y="1579.1" width="16.57" height="13.40" fill="#09515a"/>
<rect x="628.25" y="1579.1" width="16.57" height="13.40" fill="#116447"/>
<rect x="644.42" y="1579.1" width="16.57" height="13.40" fill="#136943"/>
<rect x="660.59" y="1579.1" width="16.57" height="13.40" fill="#156e3e"/>
<rect x="676.76" y="1579.1" width="16.57" height="13.40" fill="#116349"/>
<rect x="692.93" y="1579.1" width="16.57" height="13.40" fill="#09515a"/>
<rect x="709.10" y="1579.1" width="16.57" height="13.40" fill="#064a60"/>
<rect x="725.27" y="1579.1" width="16.57" height="13.40" fill="#146a42"/>
<rect x="741.44" y="1579.1" width="16.57" height="13.40" fill="#0d5a51"/>
<rect x="757.61" y="1579.1" width="16.57" height="13.40" fill="#136942"/>
<rect x="773.78" y="1579.1" width="16.57" height="13.40" fill="#064a61"/>
<rect x="789.95" y="1579.1" width="16.57" height="13.40" fill="#156d3e"/>
<rect x="806.12" y="1579.1" width="16.57" height="13.40" fill="#363785"/>
<rect x="822.29" y="1579.1" width="16.57" height="13.40" fill="#323883"/>
<rect x="838.46" y="1579.1" width="16.57" height="13.40" fill="#323883"/>
<rect x="854.63" y="1579.1" width="16.57" height="13.40" fill="#353784"/>
<rect x="870.80" y="1579.1" width="16.57" height="13.40" fill="#393786"/>
<rect x="886.97" y="1579.1" width="16.57" height="13.40" fill="#323883"/>
<rect x="903.14" y="1579.1" width="16.57" height="13.40" fill="#353784"/>
<rect x="919.31" y="1579.1" width="16.57" height="13.40" fill="#323883"/>
<rect x="935.48" y="1579.1" width="16.57" height="13.40" fill="#373785"/>
<rect x="951.65" y="1579.1" width="16.57" height="13.40" fill="#383785"/>
<rect x="967.82" y="1579.1" width="16.57" height="13.40" fill="#323883"/>
<rect x="983.99" y="1579.1" width="16.57" height="13.40" fill="#46368c"/>
<rect x="1000.16" y="1579.1" width="16.57" height="13.40" fill="#43368a"/>
<rect x="1048.67" y="1579.1" width="16.57" height="13.40" fill="#413689"/>
<rect x="1064.84" y="1579.1" width="16.57" height="13.40" fill="#3e3788"/>
<rect x="1081.01" y="1579.1" width="16.57" height="13.40" fill="#45368b"/>
<rect x="1097.18" y="1579.1" width="16.57" height="13.40" fill="#3f3689"/>
<rect x="1113.35" y="1579.1" width="16.57" height="13.40" fill="#403689"/>
<rect x="1129.52" y="1579.1" width="16.57" height="13.40" fill="#3f3689"/>
<rect x="1145.69" y="1579.1" width="16.57" height="13.40" fill="#383786"/>
<rect x="1161.86" y="1579.1" width="16.57" height="13.40" fill="#2a3880"/>
<rect x="1178.03" y="1579.1" width="16.57" height="13.40" fill="#27397f"/>
<rect x="1194.20" y="1579.1" width="16.57" height="13.40" fill="#26397e"/>
<rect x="1210.37" y="1579.1" width="16.57" height="13.40" fill="#333784"/>
<rect x="1226.54" y="1579.1" width="16.57" height="13.40" fill="#2a3880"/>
<rect x="1242.71" y="1579.1" width="16.57" height="13.40" fill="#413689"/>
<rect x="1291.22" y="1579.1" width="16.57" height="13.40" fill="#3c3787"/>
<rect x="401.87" y="1592.1" width="16.57" height="13.50" fill="#393786"/>
<rect x="418.04" y="1592.1" width="16.57" height="13.50" fill="#323883"/>
<rect x="434.21" y="1592.1" width="16.57" height="13.50" fill="#313883"/>
<rect x="450.38" y="1592.1" width="16.57" height="13.50" fill="#353784"/>
<rect x="466.55" y="1592.1" width="16.57" height="13.50" fill="#353784"/>
<rect x="482.72" y="1592.1" width="16.57" height="13.50" fill="#353784"/>
<rect x="498.89" y="1592.1" width="16.57" height="13.50" fill="#353784"/>
<rect x="515.06" y="1592.1" width="16.57" height="13.50" fill="#393786"/>
<rect x="531.23" y="1592.1" width="16.57" height="13.50" fill="#313883"/>
<rect x="547.40" y="1592.1" width="16.57" height="13.50" fill="#373785"/>
<rect x="563.57" y="1592.1" width="16.57" height="13.50" fill="#383785"/>
<rect x="579.74" y="1592.1" width="16.57" height="13.50" fill="#383786"/>
<rect x="595.91" y="1592.1" width="16.57" height="13.50" fill="#373785"/>
<rect x="612.08" y="1592.1" width="16.57" height="13.50" fill="#156e3e"/>
<rect x="628.25" y="1592.1" width="16.57" height="13.50" fill="#054862"/>
<rect x="644.42" y="1592.1" width="16.57" height="13.50" fill="#074c5f"/>
<rect x="660.59" y="1592.1" width="16.57" height="13.50" fill="#136843"/>
<rect x="676.76" y="1592.1" width="16.57" height="13.50" fill="#09505a"/>
<rect x="692.93" y="1592.1" width="16.57" height="13.50" fill="#054863"/>
<rect x="709.10" y="1592.1" width="16.57" height="13.50" fill="#343784"/>
<rect x="725.27" y="1592.1" width="16.57" height="13.50" fill="#343784"/>
<rect x="741.44" y="1592.1" width="16.57" height="13.50" fill="#353784"/>
<rect x="757.61" y="1592.1" width="16.57" height="13.50" fill="#333784"/>
<rect x="773.78" y="1592.1" width="16.57" height="13.50" fill="#383786"/>
<rect x="789.95" y="1592.1" width="16.57" height="13.50" fill="#323883"/>
<rect x="806.12" y="1592.1" width="16.57" height="13.50" fill="#333784"/>
<rect x="822.29" y="1592.1" width="16.57" height="13.50" fill="#393786"/>
<rect x="838.46" y="1592.1" width="16.57" height="13.50" fill="#383786"/>
<rect x="854.63" y="1592.1" width="16.57" height="13.50" fill="#353784"/>
<rect x="870.80" y="1592.1" width="16.57" height="13.50" fill="#353784"/>
<rect x="886.97" y="1592.1" width="16.57" height="13.50" fill="#373785"/>
<rect x="903.14" y="1592.1" width="16.57" height="13.50" fill="#383786"/>
<rect x="919.31" y="1592.1" width="16.57" height="13.50" fill="#363785"/>
<rect x="935.48" y="1592.1" width="16.57" height="13.50" fill="#383786"/>
<rect x="951.65" y="1592.1" width="16.57" height="13.50" fill="#343784"/>
<rect x="967.82" y="1592.1" width="16.57" height="13.50" fill="#323883"/>
<rect x="983.99" y="1592.1" width="16.57" height="13.50" fill="#48368c"/>
<rect x="1000.16" y="1592.1" width="16.57" height="13.50" fill="#3e3688"/>
<rect x="1016.33" y="1592.1" width="16.57" height="13.50" fill="#3c3787"/>
<rect x="1048.67" y="1592.1" width="16.57" height="13.50" fill="#43368a"/>
<rect x="1064.84" y="1592.1" width="16.57" height="13.50" fill="#3b3787"/>
<rect x="1081.01" y="1592.1" width="16.57" height="13.50" fill="#3a3786"/>
<rect x="1097.18" y="1592.1" width="16.57" height="13.50" fill="#413689"/>
<rect x="1113.35" y="1592.1" width="16.57" height="13.50" fill="#403689"/>
<rect x="1129.52" y="1592.1" width="16.57" height="13.50" fill="#3b3787"/>
<rect x="1145.69" y="1592.1" width="16.57" height="13.50" fill="#2e3882"/>
<rect x="1161.86" y="1592.1" width="16.57" height="13.50" fill="#313883"/>
<rect x="1178.03" y="1592.1" width="16.57" height="13.50" fill="#24397d"/>
<rect x="1194.20" y="1592.1" width="16.57" height="13.50" fill="#28387f"/>
<rect x="1210.37" y="1592.1" width="16.57" height="13.50" fill="#333883"/>
<rect x="1226.54" y="1592.1" width="16.57" height="13.50" fill="#353784"/>
<rect x="1242.71" y="1592.1" width="16.57" height="13.50" fill="#41368a"/>
<rect x="466.55" y="1605.2" width="16.57" height="13.40" fill="#363785"/>
<rect x="482.72" y="1605.2" width="16.57" height="13.40" fill="#313883"/>
<rect x="498.89" y="1605.2" width="16.57" height="13.40" fill="#333883"/>
<rect x="515.06" y="1605.2" width="16.57" height="13.40" fill="#323883"/>
<rect x="531.23" y="1605.2" width="16.57" height="13.40" fill="#323883"/>
<rect x="547.40" y="1605.2" width="16.57" height="13.40" fill="#323883"/>
<rect x="563.57" y="1605.2" width="16.57" height="13.40" fill="#393786"/>
<rect x="579.74" y="1605.2" width="16.57" height="13.40" fill="#353784"/>
<rect x="595.91" y="1605.2" width="16.57" height="13.40" fill="#313883"/>
<rect x="612.08" y="1605.2" width="16.57" height="13.40" fill="#313883"/>
<rect x="628.25" y="1605.2" width="16.57" height="13.40" fill="#373785"/>
<rect x="644.42" y="1605.2" width="16.57" height="13.40" fill="#363785"/>
<rect x="660.59" y="1605.2" width="16.57" height="13.40" fill="#343784"/>
<rect x="676.76" y="1605.2" width="16.57" height="13.40" fill="#363785"/>
<rect x="692.93" y="1605.2" width="16.57" height="13.40" fill="#353784"/>
<rect x="709.10" y="1605.2" width="16.57" height="13.40" fill="#393786"/>
<rect x="725.27" y="1605.2" width="16.57" height="13.40" fill="#363785"/>
<rect x="741.44" y="1605.2" width="16.57" height="13.40" fill="#353784"/>
<rect x="757.61" y="1605.2" width="16.57" height="13.40" fill="#393786"/>
<rect x="773.78" y="1605.2" width="16.57" height="13.40" fill="#383786"/>
<rect x="789.95" y="1605.2" width="16.57" height="13.40" fill="#313883"/>
<rect x="806.12" y="1605.2" width="16.57" height="13.40" fill="#333883"/>
<rect x="822.29" y="1605.2" width="16.57" height="13.40" fill="#313883"/>
<rect x="838.46" y="1605.2" width="16.57" height="13.40" fill="#343784"/>
<rect x="854.63" y="1605.2" width="16.57" height="13.40" fill="#333883"/>
<rect x="870.80" y="1605.2" width="16.57" height="13.40" fill="#323883"/>
<rect x="886.97" y="1605.2" width="16.57" height="13.40" fill="#323883"/>
<rect x="903.14" y="1605.2" width="16.57" height="13.40" fill="#393786"/>
<rect x="919.31" y="1605.2" width="16.57" height="13.40" fill="#343784"/>
<rect x="935.48" y="1605.2" width="16.57" height="13.40" fill="#373785"/>
<rect x="951.65" y="1605.2" width="16.57" height="13.40" fill="#343784"/>
<rect x="967.82" y="1605.2" width="16.57" height="13.40" fill="#373785"/>
<rect x="983.99" y="1605.2" width="16.57" height="13.40" fill="#353784"/>
<rect x="1016.33" y="1605.2" width="16.57" height="13.40" fill="#3a3786"/>
<rect x="1032.50" y="1605.2" width="16.57" height="13.40" fill="#3e3788"/>
<rect x="1048.67" y="1605.2" width="16.57" height="13.40" fill="#42368a"/>
<rect x="1064.84" y="1605.2" width="16.57" height="13.40" fill="#3f3689"/>
<rect x="1081.01" y="1605.2" width="16.57" height="13.40" fill="#403689"/>
<rect x="1097.18" y="1605.2" width="16.57" height="13.40" fill="#3a3786"/>
<rect x="1113.35" y="1605.2" width="16.57" height="13.40" fill="#42368a"/>
<rect x="1129.52" y="1605.2" width="16.57" height="13.40" fill="#42368a"/>
<rect x="1145.69" y="1605.2" width="16.57" height="13.40" fill="#3d3788"/>
<rect x="1161.86" y="1605.2" width="16.57" height="13.40" fill="#44368b"/>
<rect x="1178.03" y="1605.2" width="16.57" height="13.40" fill="#3e3788"/>
<rect x="1194.20" y="1605.2" width="16.57" height="13.40" fill="#3a3786"/>
<rect x="1210.37" y="1605.2" width="16.57" height="13.40" fill="#3f3689"/>
<rect x="1226.54" y="1605.2" width="16.57" height="13.40" fill="#42368a"/>
<rect x="1242.71" y="1605.2" width="16.57" height="13.40" fill="#403689"/>
<rect x="1258.88" y="1605.2" width="16.57" height="13.40" fill="#3f3688"/>
<rect x="498.89" y="1618.2" width="16.57" height="13.40" fill="#383786"/>
<rect x="515.06" y="1618.2" width="16.57" height="13.40" fill="#383786"/>
<rect x="531.23" y="1618.2" width="16.57" height="13.40" fill="#383786"/>
<rect x="547.40" y="1618.2" width="16.57" height="13.40" fill="#373785"/>
<rect x="579.74" y="1618.2" width="16.57" height="13.40" fill="#363785"/>
<rect x="595.91" y="1618.2" width="16.57" height="13.40" fill="#373785"/>
<rect x="612.08" y="1618.2" width="16.57" height="13.40" fill="#373785"/>
<rect x="628.25" y="1618.2" width="16.57" height="13.40" fill="#383786"/>
<rect x="644.42" y="1618.2" width="16.57" height="13.40" fill="#353784"/>
<rect x="660.59" y="1618.2" width="16.57" height="13.40" fill="#323883"/>
<rect x="676.76" y="1618.2" width="16.57" height="13.40" fill="#343784"/>
<rect x="692.93" y="1618.2" width="16.57" height="13.40" fill="#343784"/>
<rect x="709.10" y="1618.2" width="16.57" height="13.40" fill="#343784"/>
<rect x="725.27" y="1618.2" width="16.57" height="13.40" fill="#373785"/>
<rect x="741.44" y="1618.2" width="16.57" height="13.40" fill="#333784"/>
<rect x="757.61" y="1618.2" width="16.57" height="13.40" fill="#353784"/>
<rect x="773.78" y="1618.2" width="16.57" height="13.40" fill="#353784"/>
<rect x="789.95" y="1618.2" width="16.57" height="13.40" fill="#343784"/>
<rect x="806.12" y="1618.2" width="16.57" height="13.40" fill="#353784"/>
<rect x="822.29" y="1618.2" width="16.57" height="13.40" fill="#373785"/>
<rect x="838.46" y="1618.2" width="16.57" height="13.40" fill="#373785"/>
<rect x="854.63" y="1618.2" width="16.57" height="13.40" fill="#373785"/>
<rect x="870.80" y="1618.2" width="16.57" height="13.40" fill="#353784"/>
<rect x="886.97" y="1618.2" width="16.57" height="13.40" fill="#363785"/>
<rect x="903.14" y="1618.2" width="16.57" height="13.40" fill="#343784"/>
<rect x="919.31" y="1618.2" width="16.57" height="13.40" fill="#393786"/>
<rect x="935.48" y="1618.2" width="16.57" height="13.40" fill="#363785"/>
<rect x="951.65" y="1618.2" width="16.57" height="13.40" fill="#323883"/>
<rect x="967.82" y="1618.2" width="16.57" height="13.40" fill="#373785"/>
<rect x="983.99" y="1618.2" width="16.57" height="13.40" fill="#353784"/>
<rect x="1000.16" y="1618.2" width="16.57" height="13.40" fill="#3f3689"/>
<rect x="1016.33" y="1618.2" width="16.57" height="13.40" fill="#42368a"/>
<rect x="1032.50" y="1618.2" width="16.57" height="13.40" fill="#393786"/>
<rect x="1048.67" y="1618.2" width="16.57" height="13.40" fill="#42368a"/>
<rect x="1064.84" y="1618.2" width="16.57" height="13.40" fill="#3c3787"/>
<rect x="1097.18" y="1618.2" width="16.57" height="13.40" fill="#43368a"/>
<rect x="1113.35" y="1618.2" width="16.57" height="13.40" fill="#45368b"/>
<rect x="1129.52" y="1618.2" width="16.57" height="13.40" fill="#3b3787"/>
<rect x="1145.69" y="1618.2" width="16.57" height="13.40" fill="#403689"/>
<rect x="1161.86" y="1618.2" width="16.57" height="13.40" fill="#45368b"/>
<rect x="1178.03" y="1618.2" width="16.57" height="13.40" fill="#413689"/>
<rect x="1194.20" y="1618.2" width="16.57" height="13.40" fill="#403689"/>
<rect x="498.89" y="1631.2" width="16.57" height="13.50" fill="#333784"/>
<rect x="515.06" y="1631.2" width="16.57" height="13.50" fill="#383786"/>
<rect x="531.23" y="1631.2" width="16.57" height="13.50" fill="#373785"/>
<rect x="547.40" y="1631.2" width="16.57" height="13.50" fill="#313883"/>
<rect x="563.57" y="1631.2" width="16.57" height="13.50" fill="#333784"/>
<rect x="579.74" y="1631.2" width="16.57" height="13.50" fill="#383786"/>
<rect x="595.91" y="1631.2" width="16.57" height="13.50" fill="#363785"/>
<rect x="612.08" y="1631.2" width="16.57" height="13.50" fill="#363785"/>
<rect x="628.25" y="1631.2" width="16.57" height="13.50" fill="#343784"/>
<rect x="644.42" y="1631.2" width="16.57" height="13.50" fill="#343784"/>
<rect x="676.76" y="1631.2" width="16.57" height="13.50" fill="#323883"/>
<rect x="692.93" y="1631.2" width="16.57" height="13.50" fill="#323883"/>
<rect x="709.10" y="1631.2" width="16.57" height="13.50" fill="#353784"/>
<rect x="725.27" y="1631.2" width="16.57" height="13.50" fill="#333784"/>
<rect x="741.44" y="1631.2" width="16.57" height="13.50" fill="#333784"/>
<rect x="757.61" y="1631.2" width="16.57" height="13.50" fill="#333883"/>
<rect x="773.78" y="1631.2" width="16.57" height="13.50" fill="#353784"/>
<rect x="789.95" y="1631.2" width="16.57" height="13.50" fill="#333883"/>
<rect x="806.12" y="1631.2" width="16.57" height="13.50" fill="#333784"/>
<rect x="822.29" y="1631.2" width="16.57" height="13.50" fill="#323883"/>
<rect x="838.46" y="1631.2" width="16.57" height="13.50" fill="#383786"/>
<rect x="854.63" y="1631.2" width="16.57" height="13.50" fill="#323883"/>
<rect x="870.80" y="1631.2" width="16.57" height="13.50" fill="#393786"/>
<rect x="886.97" y="1631.2" width="16.57" height="13.50" fill="#333883"/>
<rect x="903.14" y="1631.2" width="16.57" height="13.50" fill="#343784"/>
<rect x="919.31" y="1631.2" width="16.57" height="13.50" fill="#353784"/>
<rect x="935.48" y="1631.2" width="16.57" height="13.50" fill="#313883"/>
<rect x="951.65" y="1631.2" width="16.57" height="13.50" fill="#343784"/>
<rect x="967.82" y="1631.2" width="16.57" height="13.50" fill="#363785"/>
<rect x="983.99" y="1631.2" width="16.57" height="13.50" fill="#333883"/>
<rect x="1000.16" y="1631.2" width="16.57" height="13.50" fill="#3b3787"/>
<rect x="1016.33" y="1631.2" width="16.57" height="13.50" fill="#3e3788"/>
<rect x="1048.67" y="1631.2" width="16.57" height="13.50" fill="#413689"/>
<rect x="1064.84" y="1631.2" width="16.57" height="13.50" fill="#403689"/>
<rect x="1081.01" y="1631.2" width="16.57" height="13.50" fill="#403689"/>
<rect x="1097.18" y="1631.2" width="16.57" height="13.50" fill="#3d3788"/>
<rect x="1113.35" y="1631.2" width="16.57" height="13.50" fill="#42368a"/>
<rect x="1129.52" y="1631.2" width="16.57" height="13.50" fill="#413689"/>
<rect x="1145.69" y="1631.2" width="16.57" height="13.50" fill="#3f3688"/>
<rect x="1161.86" y="1631.2" width="16.57" height="13.50" fill="#413689"/>
<rect x="1178.03" y="1631.2" width="16.57" height="13.50" fill="#41368a"/>
<rect x="498.89" y="1644.3" width="16.57" height="13.40" fill="#333883"/>
<rect x="515.06" y="1644.3" width="16.57" height="13.40" fill="#323883"/>
<rect x="531.23" y="1644.3" width="16.57" height="13.40" fill="#353784"/>
<rect x="547.40" y="1644.3" width="16.57" height="13.40" fill="#353785"/>
<rect x="563.57" y="1644.3" width="16.57" height="13.40" fill="#383785"/>
<rect x="579.74" y="1644.3" width="16.57" height="13.40" fill="#373785"/>
<rect x="595.91" y="1644.3" width="16.57" height="13.40" fill="#383786"/>
<rect x="612.08" y="1644.3" width="16.57" height="13.40" fill="#343784"/>
<rect x="660.59" y="1644.3" width="16.57" height="13.40" fill="#343784"/>
<rect x="676.76" y="1644.3" width="16.57" height="13.40" fill="#383786"/>
<rect x="692.93" y="1644.3" width="16.57" height="13.40" fill="#323883"/>
<rect x="709.10" y="1644.3" width="16.57" height="13.40" fill="#363785"/>
<rect x="725.27" y="1644.3" width="16.57" height="13.40" fill="#323883"/>
<rect x="789.95" y="1644.3" width="16.57" height="13.40" fill="#323883"/>
<rect x="806.12" y="1644.3" width="16.57" height="13.40" fill="#313883"/>
<rect x="822.29" y="1644.3" width="16.57" height="13.40" fill="#373785"/>
<rect x="838.46" y="1644.3" width="16.57" height="13.40" fill="#363785"/>
<rect x="854.63" y="1644.3" width="16.57" height="13.40" fill="#323883"/>
<rect x="870.80" y="1644.3" width="16.57" height="13.40" fill="#393786"/>
<rect x="886.97" y="1644.3" width="16.57" height="13.40" fill="#393786"/>
<rect x="903.14" y="1644.3" width="16.57" height="13.40" fill="#353784"/>
<rect x="919.31" y="1644.3" width="16.57" height="13.40" fill="#353784"/>
<rect x="935.48" y="1644.3" width="16.57" height="13.40" fill="#323883"/>
<rect x="951.65" y="1644.3" width="16.57" height="13.40" fill="#333883"/>
<rect x="967.82" y="1644.3" width="16.57" height="13.40" fill="#353784"/>
<rect x="983.99" y="1644.3" width="16.57" height="13.40" fill="#313883"/>
<rect x="1000.16" y="1644.3" width="16.57" height="13.40" fill="#45368b"/>
<rect x="1016.33" y="1644.3" width="16.57" height="13.40" fill="#45368b"/>
<rect x="1032.50" y="1644.3" width="16.57" height="13.40" fill="#44368b"/>
<rect x="1048.67" y="1644.3" width="16.57" height="13.40" fill="#46368c"/>
<rect x="1081.01" y="1644.3" width="16.57" height="13.40" fill="#47368c"/>
<rect x="1097.18" y="1644.3" width="16.57" height="13.40" fill="#45368b"/>
<rect x="1113.35" y="1644.3" width="16.57" height="13.40" fill="#47368c"/>
<rect x="1129.52" y="1644.3" width="16.57" height="13.40" fill="#42368a"/>
<rect x="1194.20" y="1644.3" width="16.57" height="13.40" fill="#44368b"/>
<rect x="1210.37" y="1644.3" width="16.57" height="13.40" fill="#45368b"/>
<rect x="1242.71" y="1644.3" width="16.57" height="13.40" fill="#573493"/>
<rect x="482.72" y="1657.3" width="16.57" height="13.50" fill="#363785"/>
<rect x="498.89" y="1657.3" width="16.57" height="13.50" fill="#363785"/>
<rect x="515.06" y="1657.3" width="16.57" height="13.50" fill="#353784"/>
<rect x="531.23" y="1657.3" width="16.57" height="13.50" fill="#343784"/>
<rect x="547.40" y="1657.3" width="16.57" height="13.50" fill="#323883"/>
<rect x="563.57" y="1657.3" width="16.57" height="13.50" fill="#313883"/>
<rect x="579.74" y="1657.3" width="16.57" height="13.50" fill="#353784"/>
<rect x="595.91" y="1657.3" width="16.57" height="13.50" fill="#363785"/>
<rect x="692.93" y="1657.3" width="16.57" height="13.50" fill="#343784"/>
<rect x="806.12" y="1657.3" width="16.57" height="13.50" fill="#313883"/>
<rect x="822.29" y="1657.3" width="16.57" height="13.50" fill="#363785"/>
<rect x="838.46" y="1657.3" width="16.57" height="13.50" fill="#353784"/>
<rect x="854.63" y="1657.3" width="16.57" height="13.50" fill="#323883"/>
<rect x="870.80" y="1657.3" width="16.57" height="13.50" fill="#383785"/>
<rect x="886.97" y="1657.3" width="16.57" height="13.50" fill="#373785"/>
<rect x="903.14" y="1657.3" width="16.57" height="13.50" fill="#313883"/>
<rect x="919.31" y="1657.3" width="16.57" height="13.50" fill="#323883"/>
<rect x="935.48" y="1657.3" width="16.57" height="13.50" fill="#353784"/>
<rect x="951.65" y="1657.3" width="16.57" height="13.50" fill="#383786"/>
<rect x="967.82" y="1657.3" width="16.57" height="13.50" fill="#323883"/>
<rect x="983.99" y="1657.3" width="16.57" height="13.50" fill="#333784"/>
<rect x="1000.16" y="1657.3" width="16.57" height="13.50" fill="#43368a"/>
<rect x="1016.33" y="1657.3" width="16.57" height="13.50" fill="#41368a"/>
<rect x="1097.18" y="1657.3" width="16.57" height="13.50" fill="#42368a"/>
<rect x="1113.35" y="1657.3" width="16.57" height="13.50" fill="#46368c"/>
<rect x="1129.52" y="1657.3" width="16.57" height="13.50" fill="#48368c"/>
<rect x="1145.69" y="1657.3" width="16.57" height="13.50" fill="#47368c"/>
<rect x="1161.86" y="1657.3" width="16.57" height="13.50" fill="#45368b"/>
<rect x="1178.03" y="1657.3" width="16.57" height="13.50" fill="#45368b"/>
<rect x="1194.20" y="1657.3" width="16.57" height="13.50" fill="#48368c"/>
<rect x="1210.37" y="1657.3" width="16.57" height="13.50" fill="#48368c"/>
<rect x="1226.54" y="1657.3" width="16.57" height="13.50" fill="#44368b"/>
<rect x="1242.71" y="1657.3" width="16.57" height="13.50" fill="#543591"/>
<rect x="1258.88" y="1657.3" width="16.57" height="13.50" fill="#553492"/>
<rect x="1355.90" y="1657.3" width="16.57" height="13.50" fill="#523591"/>
<rect x="1388.24" y="1657.3" width="16.57" height="13.50" fill="#543591"/>
<rect x="498.89" y="1670.4" width="16.57" height="13.40" fill="#393786"/>
<rect x="515.06" y="1670.4" width="16.57" height="13.40" fill="#363785"/>
<rect x="531.23" y="1670.4" width="16.57" height="13.40" fill="#333883"/>
<rect x="547.40" y="1670.4" width="16.57" height="13.40" fill="#373785"/>
<rect x="563.57" y="1670.4" width="16.57" height="13.40" fill="#333784"/>
<rect x="789.95" y="1670.4" width="16.57" height="13.40" fill="#393786"/>
<rect x="806.12" y="1670.4" width="16.57" height="13.40" fill="#373785"/>
<rect x="822.29" y="1670.4" width="16.57" height="13.40" fill="#323883"/>
<rect x="838.46" y="1670.4" width="16.57" height="13.40" fill="#343784"/>
<rect x="854.63" y="1670.4" width="16.57" height="13.40" fill="#343784"/>
<rect x="870.80" y="1670.4" width="16.57" height="13.40" fill="#383785"/>
<rect x="886.97" y="1670.4" width="16.57" height="13.40" fill="#353784"/>
<rect x="903.14" y="1670.4" width="16.57" height="13.40" fill="#353784"/>
<rect x="919.31" y="1670.4" width="16.57" height="13.40" fill="#373785"/>
<rect x="935.48" y="1670.4" width="16.57" height="13.40" fill="#343784"/>
<rect x="951.65" y="1670.4" width="16.57" height="13.40" fill="#353784"/>
<rect x="967.82" y="1670.4" width="16.57" height="13.40" fill="#313883"/>
<rect x="1000.16" y="1670.4" width="16.57" height="13.40" fill="#45368b"/>
<rect x="1097.18" y="1670.4" width="16.57" height="13.40" fill="#46368c"/>
<rect x="1113.35" y="1670.4" width="16.57" height="13.40" fill="#48368d"/>
<rect x="1145.69" y="1670.4" width="16.57" height="13.40" fill="#48368c"/>
<rect x="1161.86" y="1670.4" width="16.57" height="13.40" fill="#43368a"/>
<rect x="1178.03" y="1670.4" width="16.57" height="13.40" fill="#49368d"/>
<rect x="1210.37" y="1670.4" width="16.57" height="13.40" fill="#49368d"/>
<rect x="1226.54" y="1670.4" width="16.57" height="13.40" fill="#48368c"/>
<rect x="1258.88" y="1670.4" width="16.57" height="13.40" fill="#553592"/>
<rect x="1291.22" y="1670.4" width="16.57" height="13.40" fill="#533591"/>
<rect x="1323.56" y="1670.4" width="16.57" height="13.40" fill="#543591"/>
<rect x="1339.73" y="1670.4" width="16.57" height="13.40" fill="#533591"/>
<rect x="1355.90" y="1670.4" width="16.57" height="13.40" fill="#573493"/>
<rect x="1372.07" y="1670.4" width="16.57" height="13.40" fill="#573493"/>
<rect x="1388.24" y="1670.4" width="16.57" height="13.40" fill="#533591"/>
<rect x="1404.41" y="1670.4" width="16.57" height="13.40" fill="#563492"/>
<rect x="1420.58" y="1670.4" width="16.57" height="13.40" fill="#543591"/>
<rect x="531.23" y="1683.4" width="16.57" height="13.50" fill="#363785"/>
<rect x="547.40" y="1683.4" width="16.57" height="13.50" fill="#383785"/>
<rect x="563.57" y="1683.4" width="16.57" height="13.50" fill="#373785"/>
<rect x="579.74" y="1683.4" width="16.57" height="13.50" fill="#383786"/>
<rect x="806.12" y="1683.4" width="16.57" height="13.50" fill="#323883"/>
<rect x="822.29" y="1683.4" width="16.57" height="13.50" fill="#343784"/>
<rect x="838.46" y="1683.4" width="16.57" height="13.50" fill="#363785"/>
<rect x="854.63" y="1683.4" width="16.57" height="13.50" fill="#353785"/>
<rect x="870.80" y="1683.4" width="16.57" height="13.50" fill="#363785"/>
<rect x="886.97" y="1683.4" width="16.57" height="13.50" fill="#393786"/>
<rect x="903.14" y="1683.4" width="16.57" height="13.50" fill="#323883"/>
<rect x="919.31" y="1683.4" width="16.57" height="13.50" fill="#343784"/>
<rect x="935.48" y="1683.4" width="16.57" height="13.50" fill="#313883"/>
<rect x="951.65" y="1683.4" width="16.57" height="13.50" fill="#363785"/>
<rect x="967.82" y="1683.4" width="16.57" height="13.50" fill="#343784"/>
<rect x="1000.16" y="1683.4" width="16.57" height="13.50" fill="#47368c"/>
<rect x="1145.69" y="1683.4" width="16.57" height="13.50" fill="#49368d"/>
<rect x="1161.86" y="1683.4" width="16.57" height="13.50" fill="#42368a"/>
<rect x="1210.37" y="1683.4" width="16.57" height="13.50" fill="#42368a"/>
<rect x="1226.54" y="1683.4" width="16.57" height="13.50" fill="#47368c"/>
<rect x="1242.71" y="1683.4" width="16.57" height="13.50" fill="#533591"/>
<rect x="1258.88" y="1683.4" width="16.57" height="13.50" fill="#533591"/>
<rect x="1275.05" y="1683.4" width="16.57" height="13.50" fill="#563492"/>
<rect x="1291.22" y="1683.4" width="16.57" height="13.50" fill="#543591"/>
<rect x="1323.56" y="1683.4" width="16.57" height="13.50" fill="#523591"/>
<rect x="1339.73" y="1683.4" width="16.57" height="13.50" fill="#553592"/>
<rect x="1355.90" y="1683.4" width="16.57" height="13.50" fill="#523591"/>
<rect x="1372.07" y="1683.4" width="16.57" height="13.50" fill="#563492"/>
<rect x="1388.24" y="1683.4" width="16.57" height="13.50" fill="#553492"/>
<rect x="1404.41" y="1683.4" width="16.57" height="13.50" fill="#543591"/>
<rect x="1420.58" y="1683.4" width="16.57" height="13.50" fill="#563492"/>
<rect x="1436.75" y="1683.4" width="16.57" height="13.50" fill="#563492"/>
<rect x="1452.92" y="1683.4" width="16.57" height="13.50" fill="#533591"/>
<rect x="1501.43" y="1683.4" width="16.57" height="13.50" fill="#553592"/>
<rect x="822.29" y="1696.5" width="16.57" height="13.40" fill="#343784"/>
<rect x="838.46" y="1696.5" width="16.57" height="13.40" fill="#383785"/>
<rect x="854.63" y="1696.5" width="16.57" height="13.40" fill="#383786"/>
<rect x="870.80" y="1696.5" width="16.57" height="13.40" fill="#373785"/>
<rect x="886.97" y="1696.5" width="16.57" height="13.40" fill="#383786"/>
<rect x="903.14" y="1696.5" width="16.57" height="13.40" fill="#333784"/>
<rect x="919.31" y="1696.5" width="16.57" height="13.40" fill="#373785"/>
<rect x="935.48" y="1696.5" width="16.57" height="13.40" fill="#363785"/>
<rect x="951.65" y="1696.5" width="16.57" height="13.40" fill="#383786"/>
<rect x="967.82" y="1696.5" width="16.57" height="13.40" fill="#363785"/>
<rect x="1161.86" y="1696.5" width="16.57" height="13.40" fill="#553492"/>
<rect x="1210.37" y="1696.5" width="16.57" height="13.40" fill="#553492"/>
<rect x="1226.54" y="1696.5" width="16.57" height="13.40" fill="#573493"/>
<rect x="1242.71" y="1696.5" width="16.57" height="13.40" fill="#573492"/>
<rect x="1258.88" y="1696.5" width="16.57" height="13.40" fill="#533591"/>
<rect x="1275.05" y="1696.5" width="16.57" height="13.40" fill="#553492"/>
<rect x="1291.22" y="1696.5" width="16.57" height="13.40" fill="#563492"/>
<rect x="1307.39" y="1696.5" width="16.57" height="13.40" fill="#563492"/>
<rect x="1323.56" y="1696.5" width="16.57" height="13.40" fill="#563492"/>
<rect x="1339.73" y="1696.5" width="16.57" height="13.40" fill="#563492"/>
<rect x="1355.90" y="1696.5" width="16.57" height="13.40" fill="#573493"/>
<rect x="1372.07" y="1696.5" width="16.57" height="13.40" fill="#543591"/>
<rect x="1388.24" y="1696.5" width="16.57" height="13.40" fill="#553492"/>
<rect x="1404.41" y="1696.5" width="16.57" height="13.40" fill="#563492"/>
<rect x="1420.58" y="1696.5" width="16.57" height="13.40" fill="#543591"/>
<rect x="1436.75" y="1696.5" width="16.57" height="13.40" fill="#573493"/>
<rect x="1452.92" y="1696.5" width="16.57" height="13.40" fill="#563492"/>
<rect x="854.63" y="1709.5" width="16.57" height="13.50" fill="#343784"/>
<rect x="870.80" y="1709.5" width="16.57" height="13.50" fill="#383786"/>
<rect x="886.97" y="1709.5" width="16.57" height="13.50" fill="#363785"/>
<rect x="903.14" y="1709.5" width="16.57" height="13.50" fill="#343784"/>
<rect x="919.31" y="1709.5" width="16.57" height="13.50" fill="#343784"/>
<rect x="935.48" y="1709.5" width="16.57" height="13.50" fill="#383786"/>
<rect x="951.65" y="1709.5" width="16.57" height="13.50" fill="#373785"/>
<rect x="1161.86" y="1709.5" width="16.57" height="13.50" fill="#543591"/>
<rect x="1194.20" y="1709.5" width="16.57" height="13.50" fill="#553492"/>
<rect x="1210.37" y="1709.5" width="16.57" height="13.50" fill="#523591"/>
<rect x="1226.54" y="1709.5" width="16.57" height="13.50" fill="#563492"/>
<rect x="1242.71" y="1709.5" width="16.57" height="13.50" fill="#523591"/>
<rect x="1258.88" y="1709.5" width="16.57" height="13.50" fill="#553592"/>
<rect x="1275.05" y="1709.5" width="16.57" height="13.50" fill="#563492"/>
<rect x="1291.22" y="1709.5" width="16.57" height="13.50" fill="#553592"/>
<rect x="1307.39" y="1709.5" width="16.57" height="13.50" fill="#563492"/>
<rect x="1323.56" y="1709.5" width="16.57" height="13.50" fill="#543591"/>
<rect x="1339.73" y="1709.5" width="16.57" height="13.50" fill="#563492"/>
<rect x="1355.90" y="1709.5" width="16.57" height="13.50" fill="#533591"/>
<rect x="1372.07" y="1709.5" width="16.57" height="13.50" fill="#543592"/>
<rect x="1388.24" y="1709.5" width="16.57" height="13.50" fill="#553492"/>
<rect x="1404.41" y="1709.5" width="16.57" height="13.50" fill="#563492"/>
<rect x="1420.58" y="1709.5" width="16.57" height="13.50" fill="#543591"/>
<rect x="1436.75" y="1709.5" width="16.57" height="13.50" fill="#563492"/>
<rect x="1452.92" y="1709.5" width="16.57" height="13.50" fill="#533591"/>
<rect x="854.63" y="1722.6" width="16.57" height="13.40" fill="#383786"/>
<rect x="870.80" y="1722.6" width="16.57" height="13.40" fill="#363785"/>
<rect x="886.97" y="1722.6" width="16.57" height="13.40" fill="#363785"/>
<rect x="1129.52" y="1722.6" width="16.57" height="13.40" fill="#563492"/>
<rect x="1145.69" y="1722.6" width="16.57" height="13.40" fill="#533591"/>
<rect x="1194.20" y="1722.6" width="16.57" height="13.40" fill="#553492"/>
<rect x="1210.37" y="1722.6" width="16.57" height="13.40" fill="#543591"/>
<rect x="1226.54" y="1722.6" width="16.57" height="13.40" fill="#543592"/>
<rect x="1242.71" y="1722.6" width="16.57" height="13.40" fill="#563492"/>
<rect x="1258.88" y="1722.6" width="16.57" height="13.40" fill="#553492"/>
<rect x="1275.05" y="1722.6" width="16.57" height="13.40" fill="#573493"/>
<rect x="1291.22" y="1722.6" width="16.57" height="13.40" fill="#563492"/>
<rect x="1307.39" y="1722.6" width="16.57" height="13.40" fill="#533591"/>
<rect x="1323.56" y="1722.6" width="16.57" height="13.40" fill="#563492"/>
<rect x="1339.73" y="1722.6" width="16.57" height="13.40" fill="#543591"/>
<rect x="1355.90" y="1722.6" width="16.57" height="13.40" fill="#573492"/>
<rect x="1420.58" y="1722.6" width="16.57" height="13.40" fill="#543592"/>
<rect x="1097.18" y="1735.6" width="16.57" height="13.50" fill="#553492"/>
<rect x="1113.35" y="1735.6" width="16.57" height="13.50" fill="#553592"/>
<rect x="1129.52" y="1735.6" width="16.57" height="13.50" fill="#563492"/>
<rect x="1161.86" y="1735.6" width="16.57" height="13.50" fill="#573493"/>
<rect x="1178.03" y="1735.6" width="16.57" height="13.50" fill="#563492"/>
<rect x="1194.20" y="1735.6" width="16.57" height="13.50" fill="#563492"/>
<rect x="1210.37" y="1735.6" width="16.57" height="13.50" fill="#563492"/>
<rect x="1226.54" y="1735.6" width="16.57" height="13.50" fill="#543591"/>
<rect x="1242.71" y="1735.6" width="16.57" height="13.50" fill="#563492"/>
<rect x="1258.88" y="1735.6" width="16.57" height="13.50" fill="#553492"/>
<rect x="1275.05" y="1735.6" width="16.57" height="13.50" fill="#533591"/>
<rect x="1291.22" y="1735.6" width="16.57" height="13.50" fill="#533591"/>
<rect x="1307.39" y="1735.6" width="16.57" height="13.50" fill="#533591"/>
<rect x="1323.56" y="1735.6" width="16.57" height="13.50" fill="#533591"/>
<rect x="1339.73" y="1735.6" width="16.57" height="13.50" fill="#563492"/>
<rect x="1355.90" y="1735.6" width="16.57" height="13.50" fill="#563492"/>
<rect x="1113.35" y="1748.7" width="16.57" height="13.40" fill="#573493"/>
<rect x="1129.52" y="1748.7" width="16.57" height="13.40" fill="#543591"/>
<rect x="1145.69" y="1748.7" width="16.57" height="13.40" fill="#543591"/>
<rect x="1161.86" y="1748.7" width="16.57" height="13.40" fill="#553492"/>
<rect x="1194.20" y="1748.7" width="16.57" height="13.40" fill="#553492"/>
<rect x="1210.37" y="1748.7" width="16.57" height="13.40" fill="#543591"/>
<rect x="1226.54" y="1748.7" width="16.57" height="13.40" fill="#543591"/>
<rect x="1242.71" y="1748.7" width="16.57" height="13.40" fill="#563492"/>
<rect x="1258.88" y="1748.7" width="16.57" height="13.40" fill="#533591"/>
<rect x="1291.22" y="1748.7" width="16.57" height="13.40" fill="#553492"/>
<rect x="1307.39" y="1748.7" width="16.57" height="13.40" fill="#543591"/>
<rect x="1323.56" y="1748.7" width="16.57" height="13.40" fill="#563492"/>
<rect x="1339.73" y="1748.7" width="16.57" height="13.40" fill="#573492"/>
<rect x="1161.86" y="1761.7" width="16.57" height="13.40" fill="#533591"/>
<rect x="1226.54" y="1761.7" width="16.57" height="13.40" fill="#543591"/>
<rect x="1242.71" y="1761.7" width="16.57" height="13.40" fill="#543591"/>
<rect x="1258.88" y="1761.7" width="16.57" height="13.40" fill="#573493"/>
<rect x="1275.05" y="1761.7" width="16.57" height="13.40" fill="#573493"/>
<rect x="1307.39" y="1761.7" width="16.57" height="13.40" fill="#563492"/>
<rect x="1339.73" y="1761.7" width="16.57" height="13.40" fill="#563492"/>
<rect x="1291.22" y="1774.7" width="16.57" height="13.50" fill="#563492"/>
<rect x="1307.39" y="1774.7" width="16.57" height="13.50" fill="#553492"/>
<rect x="1323.56" y="1774.7" width="16.57" height="13.50" fill="#573493"/>
<rect x="1339.73" y="1774.7" width="16.57" height="13.50" fill="#563492"/>
<rect x="1355.90" y="1774.7" width="16.57" height="13.50" fill="#543591"/>
<rect x="1242.71" y="1787.8" width="16.57" height="13.40" fill="#563492"/>
<rect x="1258.88" y="1787.8" width="16.57" height="13.40" fill="#533591"/>
<rect x="1275.05" y="1787.8" width="16.57" height="13.40" fill="#543592"/>
<rect x="1307.39" y="1787.8" width="16.57" height="13.40" fill="#543591"/>
<rect x="1323.56" y="1787.8" width="16.57" height="13.40" fill="#563492"/>
<rect x="1339.73" y="1787.8" width="16.57" height="13.40" fill="#553592"/>
<rect x="1355.90" y="1787.8" width="16.57" height="13.40" fill="#543591"/>
<rect x="1404.41" y="1787.8" width="16.57" height="13.40" fill="#553492"/>
<rect x="1420.58" y="1787.8" width="16.57" height="13.40" fill="#573493"/>
<rect x="1469.09" y="1787.8" width="16.57" height="13.40" fill="#533591"/>
<rect x="1485.26" y="1787.8" width="16.57" height="13.40" fill="#533591"/>
<rect x="1501.43" y="1787.8" width="16.57" height="13.40" fill="#563492"/>
<rect x="1517.60" y="1787.8" width="16.57" height="13.40" fill="#573493"/>
<rect x="1533.77" y="1787.8" width="16.57" height="13.40" fill="#533591"/>
<rect x="1566.11" y="1787.8" width="16.57" height="13.40" fill="#543591"/>
<rect x="1582.28" y="1787.8" width="16.57" height="13.40" fill="#573493"/>
<rect x="1598.45" y="1787.8" width="16.57" height="13.40" fill="#563492"/>
<rect x="1614.62" y="1787.8" width="16.57" height="13.40" fill="#573492"/>
<rect x="1646.96" y="1787.8" width="16.57" height="13.40" fill="#533591"/>
<rect x="1226.54" y="1800.8" width="16.57" height="13.50" fill="#563492"/>
<rect x="1242.71" y="1800.8" width="16.57" height="13.50" fill="#533591"/>
<rect x="1258.88" y="1800.8" width="16.57" height="13.50" fill="#533591"/>
<rect x="1275.05" y="1800.8" width="16.57" height="13.50" fill="#573493"/>
<rect x="1291.22" y="1800.8" width="16.57" height="13.50" fill="#543591"/>
<rect x="1323.56" y="1800.8" width="16.57" height="13.50" fill="#553492"/>
<rect x="1372.07" y="1800.8" width="16.57" height="13.50" fill="#533591"/>
<rect x="1420.58" y="1800.8" width="16.57" height="13.50" fill="#533591"/>
<rect x="1436.75" y="1800.8" width="16.57" height="13.50" fill="#563492"/>
<rect x="1452.92" y="1800.8" width="16.57" height="13.50" fill="#573493"/>
<rect x="1469.09" y="1800.8" width="16.57" height="13.50" fill="#523591"/>
<rect x="1501.43" y="1800.8" width="16.57" height="13.50" fill="#553492"/>
<rect x="1517.60" y="1800.8" width="16.57" height="13.50" fill="#533591"/>
<rect x="1533.77" y="1800.8" width="16.57" height="13.50" fill="#543591"/>
<rect x="1549.94" y="1800.8" width="16.57" height="13.50" fill="#533591"/>
<rect x="1566.11" y="1800.8" width="16.57" height="13.50" fill="#533591"/>
<rect x="1582.28" y="1800.8" width="16.57" height="13.50" fill="#543591"/>
<rect x="1598.45" y="1800.8" width="16.57" height="13.50" fill="#553592"/>
<rect x="1614.62" y="1800.8" width="16.57" height="13.50" fill="#573493"/>
<rect x="1630.79" y="1800.8" width="16.57" height="13.50" fill="#543591"/>
<rect x="1646.96" y="1800.8" width="16.57" height="13.50" fill="#553492"/>
<rect x="1242.71" y="1813.9" width="16.57" height="13.40" fill="#553592"/>
<rect x="1258.88" y="1813.9" width="16.57" height="13.40" fill="#533591"/>
<rect x="1275.05" y="1813.9" width="16.57" height="13.40" fill="#563492"/>
<rect x="1291.22" y="1813.9" width="16.57" height="13.40" fill="#533591"/>
<rect x="1307.39" y="1813.9" width="16.57" height="13.40" fill="#573493"/>
<rect x="1323.56" y="1813.9" width="16.57" height="13.40" fill="#543591"/>
<rect x="1339.73" y="1813.9" width="16.57" height="13.40" fill="#533591"/>
<rect x="1355.90" y="1813.9" width="16.57" height="13.40" fill="#563492"/>
<rect x="1372.07" y="1813.9" width="16.57" height="13.40" fill="#543592"/>
<rect x="1404.41" y="1813.9" width="16.57" height="13.40" fill="#523591"/>
<rect x="1420.58" y="1813.9" width="16.57" height="13.40" fill="#543591"/>
<rect x="1436.75" y="1813.9" width="16.57" height="13.40" fill="#543592"/>
<rect x="1452.92" y="1813.9" width="16.57" height="13.40" fill="#563492"/>
<rect x="1485.26" y="1813.9" width="16.57" height="13.40" fill="#573493"/>
<rect x="1501.43" y="1813.9" width="16.57" height="13.40" fill="#553492"/>
<rect x="1517.60" y="1813.9" width="16.57" height="13.40" fill="#553492"/>
<rect x="1533.77" y="1813.9" width="16.57" height="13.40" fill="#563492"/>
<rect x="1582.28" y="1813.9" width="16.57" height="13.40" fill="#563492"/>
<rect x="1598.45" y="1813.9" width="16.57" height="13.40" fill="#563492"/>
<rect x="1614.62" y="1813.9" width="16.57" height="13.40" fill="#543591"/>
<rect x="1630.79" y="1813.9" width="16.57" height="13.40" fill="#543591"/>
<rect x="1646.96" y="1813.9" width="16.57" height="13.40" fill="#563492"/>
<rect x="1663.13" y="1813.9" width="16.57" height="13.40" fill="#563492"/>
<rect x="1679.30" y="1813.9" width="16.57" height="13.40" fill="#553592"/>
<rect x="1695.47" y="1813.9" width="16.57" height="13.40" fill="#553592"/>
<rect x="1307.39" y="1826.9" width="16.57" height="13.50" fill="#533591"/>
<rect x="1323.56" y="1826.9" width="16.57" height="13.50" fill="#553492"/>
<rect x="1339.73" y="1826.9" width="16.57" height="13.50" fill="#563492"/>
<rect x="1372.07" y="1826.9" width="16.57" height="13.50" fill="#533591"/>
<rect x="1388.24" y="1826.9" width="16.57" height="13.50" fill="#563492"/>
<rect x="1404.41" y="1826.9" width="16.57" height="13.50" fill="#543592"/>
<rect x="1420.58" y="1826.9" width="16.57" height="13.50" fill="#553492"/>
<rect x="1436.75" y="1826.9" width="16.57" height="13.50" fill="#533591"/>
<rect x="1452.92" y="1826.9" width="16.57" height="13.50" fill="#543592"/>
<rect x="1469.09" y="1826.9" width="16.57" height="13.50" fill="#533591"/>
<rect x="1517.60" y="1826.9" width="16.57" height="13.50" fill="#563492"/>
<rect x="1695.47" y="1826.9" width="16.57" height="13.50" fill="#543591"/>
<rect x="741.44" y="1840.0" width="16.57" height="13.40" fill="#5b3494"/>
<rect x="789.95" y="1840.0" width="16.57" height="13.40" fill="#5c3495"/>
<rect x="806.12" y="1840.0" width="16.57" height="13.40" fill="#5a3494"/>
<rect x="822.29" y="1840.0" width="16.57" height="13.40" fill="#5a3494"/>
<rect x="1355.90" y="1840.0" width="16.57" height="13.40" fill="#573492"/>
<rect x="1372.07" y="1840.0" width="16.57" height="13.40" fill="#563492"/>
<rect x="1388.24" y="1840.0" width="16.57" height="13.40" fill="#553492"/>
<rect x="1404.41" y="1840.0" width="16.57" height="13.40" fill="#563492"/>
<rect x="1420.58" y="1840.0" width="16.57" height="13.40" fill="#573493"/>
<rect x="1436.75" y="1840.0" width="16.57" height="13.40" fill="#563492"/>
<rect x="1452.92" y="1840.0" width="16.57" height="13.40" fill="#563492"/>
<rect x="1469.09" y="1840.0" width="16.57" height="13.40" fill="#543591"/>
<rect x="1485.26" y="1840.0" width="16.57" height="13.40" fill="#553592"/>
<rect x="1501.43" y="1840.0" width="16.57" height="13.40" fill="#573492"/>
<rect x="1695.47" y="1840.0" width="16.57" height="13.40" fill="#563492"/>
<rect x="660.59" y="1853.0" width="16.57" height="13.50" fill="#5c3495"/>
<rect x="692.93" y="1853.0" width="16.57" height="13.50" fill="#5c3495"/>
<rect x="709.10" y="1853.0" width="16.57" height="13.50" fill="#5d3495"/>
<rect x="725.27" y="1853.0" width="16.57" height="13.50" fill="#5e3496"/>
<rect x="741.44" y="1853.0" width="16.57" height="13.50" fill="#5e3496"/>
<rect x="789.95" y="1853.0" width="16.57" height="13.50" fill="#593494"/>
<rect x="806.12" y="1853.0" width="16.57" height="13.50" fill="#5b3494"/>
<rect x="822.29" y="1853.0" width="16.57" height="13.50" fill="#5e3496"/>
<rect x="1372.07" y="1853.0" width="16.57" height="13.50" fill="#543591"/>
<rect x="1404.41" y="1853.0" width="16.57" height="13.50" fill="#523591"/>
<rect x="1420.58" y="1853.0" width="16.57" height="13.50" fill="#543592"/>
<rect x="1436.75" y="1853.0" width="16.57" height="13.50" fill="#573492"/>
<rect x="1485.26" y="1853.0" width="16.57" height="13.50" fill="#553592"/>
<rect x="1501.43" y="1853.0" width="16.57" height="13.50" fill="#553592"/>
<rect x="1517.60" y="1853.0" width="16.57" height="13.50" fill="#563492"/>
<rect x="1679.30" y="1853.0" width="16.57" height="13.50" fill="#543592"/>
<rect x="660.59" y="1866.1" width="16.57" height="13.40" fill="#5e3496"/>
<rect x="676.76" y="1866.1" width="16.57" height="13.40" fill="#5a3494"/>
<rect x="692.93" y="1866.1" width="16.57" height="13.40" fill="#5b3494"/>
<rect x="709.10" y="1866.1" width="16.57" height="13.40" fill="#5b3494"/>
<rect x="725.27" y="1866.1" width="16.57" height="13.40" fill="#5a3494"/>
<rect x="741.44" y="1866.1" width="16.57" height="13.40" fill="#5b3494"/>
<rect x="757.61" y="1866.1" width="16.57" height="13.40" fill="#5d3495"/>
<rect x="773.78" y="1866.1" width="16.57" height="13.40" fill="#5d3495"/>
<rect x="789.95" y="1866.1" width="16.57" height="13.40" fill="#5e3495"/>
<rect x="806.12" y="1866.1" width="16.57" height="13.40" fill="#5e3496"/>
<rect x="822.29" y="1866.1" width="16.57" height="13.40" fill="#5a3494"/>
<rect x="1323.56" y="1866.1" width="16.57" height="13.40" fill="#533591"/>
<rect x="1339.73" y="1866.1" width="16.57" height="13.40" fill="#563492"/>
<rect x="1355.90" y="1866.1" width="16.57" height="13.40" fill="#563492"/>
<rect x="1388.24" y="1866.1" width="16.57" height="13.40" fill="#543591"/>
<rect x="1404.41" y="1866.1" width="16.57" height="13.40" fill="#533591"/>
<rect x="1420.58" y="1866.1" width="16.57" height="13.40" fill="#533591"/>
<rect x="1436.75" y="1866.1" width="16.57" height="13.40" fill="#563492"/>
<rect x="1452.92" y="1866.1" width="16.57" height="13.40" fill="#533591"/>
<rect x="1469.09" y="1866.1" width="16.57" height="13.40" fill="#533591"/>
<rect x="1485.26" y="1866.1" width="16.57" height="13.40" fill="#533591"/>
<rect x="1501.43" y="1866.1" width="16.57" height="13.40" fill="#563492"/>
<rect x="1533.77" y="1866.1" width="16.57" height="13.40" fill="#563492"/>
<rect x="1663.13" y="1866.1" width="16.57" height="13.40" fill="#533591"/>
<rect x="612.08" y="1879.1" width="16.57" height="13.50" fill="#5d3495"/>
<rect x="644.42" y="1879.1" width="16.57" height="13.50" fill="#5c3495"/>
<rect x="660.59" y="1879.1" width="16.57" height="13.50" fill="#5c3495"/>
<rect x="676.76" y="1879.1" width="16.57" height="13.50" fill="#5c3495"/>
<rect x="692.93" y="1879.1" width="16.57" height="13.50" fill="#5a3494"/>
<rect x="709.10" y="1879.1" width="16.57" height="13.50" fill="#5d3495"/>
<rect x="725.27" y="1879.1" width="16.57" height="13.50" fill="#5e3496"/>
<rect x="741.44" y="1879.1" width="16.57" height="13.50" fill="#5b3495"/>
<rect x="757.61" y="1879.1" width="16.57" height="13.50" fill="#5b3494"/>
<rect x="773.78" y="1879.1" width="16.57" height="13.50" fill="#5a3494"/>
<rect x="789.95" y="1879.1" width="16.57" height="13.50" fill="#5b3494"/>
<rect x="806.12" y="1879.1" width="16.57" height="13.50" fill="#5a3494"/>
<rect x="822.29" y="1879.1" width="16.57" height="13.50" fill="#5a3494"/>
<rect x="903.14" y="1879.1" width="16.57" height="13.50" fill="#5c3495"/>
<rect x="919.31" y="1879.1" width="16.57" height="13.50" fill="#5c3495"/>
<rect x="935.48" y="1879.1" width="16.57" height="13.50" fill="#5d3495"/>
<rect x="951.65" y="1879.1" width="16.57" height="13.50" fill="#5d3495"/>
<rect x="967.82" y="1879.1" width="16.57" height="13.50" fill="#5b3495"/>
<rect x="983.99" y="1879.1" width="16.57" height="13.50" fill="#5e3496"/>
<rect x="1355.90" y="1879.1" width="16.57" height="13.50" fill="#543591"/>
<rect x="1388.24" y="1879.1" width="16.57" height="13.50" fill="#563492"/>
<rect x="1404.41" y="1879.1" width="16.57" height="13.50" fill="#553592"/>
<rect x="1420.58" y="1879.1" width="16.57" height="13.50" fill="#523591"/>
<rect x="1436.75" y="1879.1" width="16.57" height="13.50" fill="#573493"/>
<rect x="1452.92" y="1879.1" width="16.57" height="13.50" fill="#573493"/>
<rect x="1469.09" y="1879.1" width="16.57" height="13.50" fill="#553592"/>
<rect x="1485.26" y="1879.1" width="16.57" height="13.50" fill="#563492"/>
<rect x="1501.43" y="1879.1" width="16.57" height="13.50" fill="#543591"/>
<rect x="1517.60" y="1879.1" width="16.57" height="13.50" fill="#573493"/>
<rect x="1533.77" y="1879.1" width="16.57" height="13.50" fill="#533591"/>
<rect x="1646.96" y="1879.1" width="16.57" height="13.50" fill="#533591"/>
<rect x="1663.13" y="1879.1" width="16.57" height="13.50" fill="#533591"/>
<rect x="498.89" y="1892.2" width="16.57" height="13.40" fill="#5c3495"/>
<rect x="515.06" y="1892.2" width="16.57" height="13.40" fill="#5d3495"/>
<rect x="531.23" y="1892.2" width="16.57" height="13.40" fill="#5b3494"/>
<rect x="595.91" y="1892.2" width="16.57" height="13.40" fill="#5c3495"/>
<rect x="612.08" y="1892.2" width="16.57" height="13.40" fill="#5c3495"/>
<rect x="628.25" y="1892.2" width="16.57" height="13.40" fill="#5d3495"/>
<rect x="644.42" y="1892.2" width="16.57" height="13.40" fill="#5c3495"/>
<rect x="660.59" y="1892.2" width="16.57" height="13.40" fill="#5b3494"/>
<rect x="676.76" y="1892.2" width="16.57" height="13.40" fill="#5a3494"/>
<rect x="692.93" y="1892.2" width="16.57" height="13.40" fill="#5a3494"/>
<rect x="709.10" y="1892.2" width="16.57" height="13.40" fill="#5d3495"/>
<rect x="725.27" y="1892.2" width="16.57" height="13.40" fill="#5d3495"/>
<rect x="741.44" y="1892.2" width="16.57" height="13.40" fill="#5c3495"/>
<rect x="757.61" y="1892.2" width="16.57" height="13.40" fill="#5b3495"/>
<rect x="773.78" y="1892.2" width="16.57" height="13.40" fill="#5d3495"/>
<rect x="789.95" y="1892.2" width="16.57" height="13.40" fill="#5d3495"/>
<rect x="806.12" y="1892.2" width="16.57" height="13.40" fill="#5e3496"/>
<rect x="822.29" y="1892.2" width="16.57" height="13.40" fill="#5d3495"/>
<rect x="838.46" y="1892.2" width="16.57" height="13.40" fill="#5c3495"/>
<rect x="854.63" y="1892.2" width="16.57" height="13.40" fill="#593494"/>
<rect x="870.80" y="1892.2" width="16.57" height="13.40" fill="#5a3494"/>
<rect x="886.97" y="1892.2" width="16.57" height="13.40" fill="#5a3494"/>
<rect x="903.14" y="1892.2" width="16.57" height="13.40" fill="#593494"/>
<rect x="919.31" y="1892.2" width="16.57" height="13.40" fill="#5a3494"/>
<rect x="935.48" y="1892.2" width="16.57" height="13.40" fill="#5b3494"/>
<rect x="951.65" y="1892.2" width="16.57" height="13.40" fill="#5a3494"/>
<rect x="1388.24" y="1892.2" width="16.57" height="13.40" fill="#573493"/>
<rect x="1420.58" y="1892.2" width="16.57" height="13.40" fill="#543591"/>
<rect x="1436.75" y="1892.2" width="16.57" height="13.40" fill="#543591"/>
<rect x="1452.92" y="1892.2" width="16.57" height="13.40" fill="#563492"/>
<rect x="1469.09" y="1892.2" width="16.57" height="13.40" fill="#543592"/>
<rect x="1485.26" y="1892.2" width="16.57" height="13.40" fill="#523591"/>
<rect x="1501.43" y="1892.2" width="16.57" height="13.40" fill="#553592"/>
<rect x="1517.60" y="1892.2" width="16.57" height="13.40" fill="#543591"/>
<rect x="1533.77" y="1892.2" width="16.57" height="13.40" fill="#563492"/>
<rect x="1549.94" y="1892.2" width="16.57" height="13.40" fill="#553492"/>
<rect x="1598.45" y="1892.2" width="16.57" height="13.40" fill="#533591"/>
<rect x="1614.62" y="1892.2" width="16.57" height="13.40" fill="#573493"/>
<rect x="1630.79" y="1892.2" width="16.57" height="13.40" fill="#563492"/>
<rect x="1646.96" y="1892.2" width="16.57" height="13.40" fill="#543591"/>
<rect x="1663.13" y="1892.2" width="16.57" height="13.40" fill="#553592"/>
<rect x="482.72" y="1905.2" width="16.57" height="13.40" fill="#5e3496"/>
<rect x="498.89" y="1905.2" width="16.57" height="13.40" fill="#5b3494"/>
<rect x="515.06" y="1905.2" width="16.57" height="13.40" fill="#5c3495"/>
<rect x="531.23" y="1905.2" width="16.57" height="13.40" fill="#5b3495"/>
<rect x="547.40" y="1905.2" width="16.57" height="13.40" fill="#5c3495"/>
<rect x="563.57" y="1905.2" width="16.57" height="13.40" fill="#5c3495"/>
<rect x="579.74" y="1905.2" width="16.57" height="13.40" fill="#5b3495"/>
<rect x="595.91" y="1905.2" width="16.57" height="13.40" fill="#5c3495"/>
<rect x="612.08" y="1905.2" width="16.57" height="13.40" fill="#5e3495"/>
<rect x="628.25" y="1905.2" width="16.57" height="13.40" fill="#5d3495"/>
<rect x="644.42" y="1905.2" width="16.57" height="13.40" fill="#5a3494"/>
<rect x="660.59" y="1905.2" width="16.57" height="13.40" fill="#5c3495"/>
<rect x="676.76" y="1905.2" width="16.57" height="13.40" fill="#5e3496"/>
<rect x="692.93" y="1905.2" width="16.57" height="13.40" fill="#5a3494"/>
<rect x="709.10" y="1905.2" width="16.57" height="13.40" fill="#5d3495"/>
<rect x="725.27" y="1905.2" width="16.57" height="13.40" fill="#5e3496"/>
<rect x="741.44" y="1905.2" width="16.57" height="13.40" fill="#5c3495"/>
<rect x="757.61" y="1905.2" width="16.57" height="13.40" fill="#5d3495"/>
<rect x="773.78" y="1905.2" width="16.57" height="13.40" fill="#5c3495"/>
<rect x="789.95" y="1905.2" width="16.57" height="13.40" fill="#5c3495"/>
<rect x="806.12" y="1905.2" width="16.57" height="13.40" fill="#5d3495"/>
<rect x="822.29" y="1905.2" width="16.57" height="13.40" fill="#5b3495"/>
<rect x="838.46" y="1905.2" width="16.57" height="13.40" fill="#5e3495"/>
<rect x="854.63" y="1905.2" width="16.57" height="13.40" fill="#5c3495"/>
<rect x="870.80" y="1905.2" width="16.57" height="13.40" fill="#5b3495"/>
<rect x="886.97" y="1905.2" width="16.57" height="13.40" fill="#5e3496"/>
<rect x="903.14" y="1905.2" width="16.57" height="13.40" fill="#5c3495"/>
<rect x="919.31" y="1905.2" width="16.57" height="13.40" fill="#5e3496"/>
<rect x="935.48" y="1905.2" width="16.57" height="13.40" fill="#5c3495"/>
<rect x="951.65" y="1905.2" width="16.57" height="13.40" fill="#5a3494"/>
<rect x="1145.69" y="1905.2" width="16.57" height="13.40" fill="#543592"/>
<rect x="1161.86" y="1905.2" width="16.57" height="13.40" fill="#543591"/>
<rect x="1355.90" y="1905.2" width="16.57" height="13.40" fill="#533591"/>
<rect x="1388.24" y="1905.2" width="16.57" height="13.40" fill="#573492"/>
<rect x="1404.41" y="1905.2" width="16.57" height="13.40" fill="#523591"/>
<rect x="1436.75" y="1905.2" width="16.57" height="13.40" fill="#543591"/>
<rect x="1452.92" y="1905.2" width="16.57" height="13.40" fill="#573493"/>
<rect x="1469.09" y="1905.2" width="16.57" height="13.40" fill="#533591"/>
<rect x="1485.26" y="1905.2" width="16.57" height="13.40" fill="#553492"/>
<rect x="1501.43" y="1905.2" width="16.57" height="13.40" fill="#563492"/>
<rect x="1517.60" y="1905.2" width="16.57" height="13.40" fill="#523591"/>
<rect x="1533.77" y="1905.2" width="16.57" height="13.40" fill="#543592"/>
<rect x="1582.28" y="1905.2" width="16.57" height="13.40" fill="#533591"/>
<rect x="1598.45" y="1905.2" width="16.57" height="13.40" fill="#563492"/>
<rect x="1614.62" y="1905.2" width="16.57" height="13.40" fill="#533591"/>
<rect x="1630.79" y="1905.2" width="16.57" height="13.40" fill="#573493"/>
<rect x="482.72" y="1918.2" width="16.57" height="13.50" fill="#5d3495"/>
<rect x="498.89" y="1918.2" width="16.57" height="13.50" fill="#5c3495"/>
<rect x="515.06" y="1918.2" width="16.57" height="13.50" fill="#5e3496"/>
<rect x="531.23" y="1918.2" width="16.57" height="13.50" fill="#5b3495"/>
<rect x="547.40" y="1918.2" width="16.57" height="13.50" fill="#5d3495"/>
<rect x="563.57" y="1918.2" width="16.57" height="13.50" fill="#5d3495"/>
<rect x="579.74" y="1918.2" width="16.57" height="13.50" fill="#5b3494"/>
<rect x="612.08" y="1918.2" width="16.57" height="13.50" fill="#5c3495"/>
<rect x="628.25" y="1918.2" width="16.57" height="13.50" fill="#5a3494"/>
<rect x="644.42" y="1918.2" width="16.57" height="13.50" fill="#5b3494"/>
<rect x="660.59" y="1918.2" width="16.57" height="13.50" fill="#5a3494"/>
<rect x="676.76" y="1918.2" width="16.57" height="13.50" fill="#5b3495"/>
<rect x="692.93" y="1918.2" width="16.57" height="13.50" fill="#5a3494"/>
<rect x="709.10" y="1918.2" width="16.57" height="13.50" fill="#5a3494"/>
<rect x="725.27" y="1918.2" width="16.57" height="13.50" fill="#5d3495"/>
<rect x="773.78" y="1918.2" width="16.57" height="13.50" fill="#5b3494"/>
<rect x="789.95" y="1918.2" width="16.57" height="13.50" fill="#5d3495"/>
<rect x="806.12" y="1918.2" width="16.57" height="13.50" fill="#5b3494"/>
<rect x="822.29" y="1918.2" width="16.57" height="13.50" fill="#5b3494"/>
<rect x="838.46" y="1918.2" width="16.57" height="13.50" fill="#5a3494"/>
<rect x="854.63" y="1918.2" width="16.57" height="13.50" fill="#5e3495"/>
<rect x="870.80" y="1918.2" width="16.57" height="13.50" fill="#5c3495"/>
<rect x="886.97" y="1918.2" width="16.57" height="13.50" fill="#5b3494"/>
<rect x="903.14" y="1918.2" width="16.57" height="13.50" fill="#5a3494"/>
<rect x="919.31" y="1918.2" width="16.57" height="13.50" fill="#5b3494"/>
<rect x="935.48" y="1918.2" width="16.57" height="13.50" fill="#5e3496"/>
<rect x="1145.69" y="1918.2" width="16.57" height="13.50" fill="#543591"/>
<rect x="1161.86" y="1918.2" width="16.57" height="13.50" fill="#573493"/>
<rect x="1178.03" y="1918.2" width="16.57" height="13.50" fill="#543592"/>
<rect x="1194.20" y="1918.2" width="16.57" height="13.50" fill="#533591"/>
<rect x="1355.90" y="1918.2" width="16.57" height="13.50" fill="#573492"/>
<rect x="1372.07" y="1918.2" width="16.57" height="13.50" fill="#533591"/>
<rect x="1452.92" y="1918.2" width="16.57" height="13.50" fill="#543591"/>
<rect x="1469.09" y="1918.2" width="16.57" height="13.50" fill="#563492"/>
<rect x="1485.26" y="1918.2" width="16.57" height="13.50" fill="#563492"/>
<rect x="1501.43" y="1918.2" width="16.57" height="13.50" fill="#553592"/>
<rect x="1517.60" y="1918.2" width="16.57" height="13.50" fill="#533591"/>
<rect x="1533.77" y="1918.2" width="16.57" height="13.50" fill="#543592"/>
<rect x="1582.28" y="1918.2" width="16.57" height="13.50" fill="#573492"/>
<rect x="1598.45" y="1918.2" width="16.57" height="13.50" fill="#573493"/>
<rect x="1614.62" y="1918.2" width="16.57" height="13.50" fill="#573492"/>
<rect x="1630.79" y="1918.2" width="16.57" height="13.50" fill="#533591"/>
<rect x="1679.30" y="1918.2" width="16.57" height="13.50" fill="#563492"/>
<rect x="1695.47" y="1918.2" width="16.57" height="13.50" fill="#543592"/>
<rect x="1711.64" y="1918.2" width="16.57" height="13.50" fill="#563492"/>
<rect x="466.55" y="1931.3" width="16.57" height="13.40" fill="#5b3494"/>
<rect x="482.72" y="1931.3" width="16.57" height="13.40" fill="#5c3495"/>
<rect x="498.89" y="1931.3" width="16.57" height="13.40" fill="#5e3495"/>
<rect x="515.06" y="1931.3" width="16.57" height="13.40" fill="#5a3494"/>
<rect x="531.23" y="1931.3" width="16.57" height="13.40" fill="#5c3495"/>
<rect x="547.40" y="1931.3" width="16.57" height="13.40" fill="#5b3494"/>
<rect x="563.57" y="1931.3" width="16.57" height="13.40" fill="#5a3494"/>
<rect x="579.74" y="1931.3" width="16.57" height="13.40" fill="#5a3494"/>
<rect x="595.91" y="1931.3" width="16.57" height="13.40" fill="#5e3496"/>
<rect x="628.25" y="1931.3" width="16.57" height="13.40" fill="#5d3495"/>
<rect x="644.42" y="1931.3" width="16.57" height="13.40" fill="#5e3495"/>
<rect x="660.59" y="1931.3" width="16.57" height="13.40" fill="#5c3495"/>
<rect x="676.76" y="1931.3" width="16.57" height="13.40" fill="#5a3494"/>
<rect x="692.93" y="1931.3" width="16.57" height="13.40" fill="#5a3494"/>
<rect x="709.10" y="1931.3" width="16.57" height="13.40" fill="#5e3496"/>
<rect x="725.27" y="1931.3" width="16.57" height="13.40" fill="#5d3495"/>
<rect x="741.44" y="1931.3" width="16.57" height="13.40" fill="#5a3494"/>
<rect x="773.78" y="1931.3" width="16.57" height="13.40" fill="#5b3494"/>
<rect x="822.29" y="1931.3" width="16.57" height="13.40" fill="#5c3495"/>
<rect x="838.46" y="1931.3" width="16.57" height="13.40" fill="#5c3495"/>
<rect x="854.63" y="1931.3" width="16.57" height="13.40" fill="#5d3495"/>
<rect x="870.80" y="1931.3" width="16.57" height="13.40" fill="#5a3494"/>
<rect x="886.97" y="1931.3" width="16.57" height="13.40" fill="#5c3495"/>
<rect x="919.31" y="1931.3" width="16.57" height="13.40" fill="#5a3494"/>
<rect x="935.48" y="1931.3" width="16.57" height="13.40" fill="#5b3494"/>
<rect x="951.65" y="1931.3" width="16.57" height="13.40" fill="#5e3496"/>
<rect x="967.82" y="1931.3" width="16.57" height="13.40" fill="#5d3495"/>
<rect x="1129.52" y="1931.3" width="16.57" height="13.40" fill="#563492"/>
<rect x="1145.69" y="1931.3" width="16.57" height="13.40" fill="#533591"/>
<rect x="1161.86" y="1931.3" width="16.57" height="13.40" fill="#543592"/>
<rect x="1178.03" y="1931.3" width="16.57" height="13.40" fill="#573493"/>
<rect x="1355.90" y="1931.3" width="16.57" height="13.40" fill="#563492"/>
<rect x="1372.07" y="1931.3" width="16.57" height="13.40" fill="#553492"/>
<rect x="1452.92" y="1931.3" width="16.57" height="13.40" fill="#553592"/>
<rect x="1469.09" y="1931.3" width="16.57" height="13.40" fill="#543592"/>
<rect x="1485.26" y="1931.3" width="16.57" height="13.40" fill="#553492"/>
<rect x="1501.43" y="1931.3" width="16.57" height="13.40" fill="#553492"/>
<rect x="1533.77" y="1931.3" width="16.57" height="13.40" fill="#573493"/>
<rect x="1598.45" y="1931.3" width="16.57" height="13.40" fill="#543592"/>
<rect x="1614.62" y="1931.3" width="16.57" height="13.40" fill="#553492"/>
<rect x="1630.79" y="1931.3" width="16.57" height="13.40" fill="#573493"/>
<rect x="1663.13" y="1931.3" width="16.57" height="13.40" fill="#553592"/>
<rect x="1679.30" y="1931.3" width="16.57" height="13.40" fill="#523591"/>
<rect x="1695.47" y="1931.3" width="16.57" height="13.40" fill="#573493"/>
<rect x="1711.64" y="1931.3" width="16.57" height="13.40" fill="#563492"/>
<rect x="482.72" y="1944.3" width="16.57" height="13.50" fill="#5b3494"/>
<rect x="498.89" y="1944.3" width="16.57" height="13.50" fill="#5d3495"/>
<rect x="531.23" y="1944.3" width="16.57" height="13.50" fill="#5d3495"/>
<rect x="547.40" y="1944.3" width="16.57" height="13.50" fill="#5c3495"/>
<rect x="563.57" y="1944.3" width="16.57" height="13.50" fill="#5d3495"/>
<rect x="579.74" y="1944.3" width="16.57" height="13.50" fill="#5b3495"/>
<rect x="595.91" y="1944.3" width="16.57" height="13.50" fill="#5c3495"/>
<rect x="628.25" y="1944.3" width="16.57" height="13.50" fill="#5a3494"/>
<rect x="644.42" y="1944.3" width="16.57" height="13.50" fill="#593494"/>
<rect x="660.59" y="1944.3" width="16.57" height="13.50" fill="#5e3496"/>
<rect x="676.76" y="1944.3" width="16.57" height="13.50" fill="#5c3495"/>
<rect x="692.93" y="1944.3" width="16.57" height="13.50" fill="#5a3494"/>
<rect x="709.10" y="1944.3" width="16.57" height="13.50" fill="#5a3494"/>
<rect x="725.27" y="1944.3" width="16.57" height="13.50" fill="#5a3494"/>
<rect x="741.44" y="1944.3" width="16.57" height="13.50" fill="#5b3494"/>
<rect x="757.61" y="1944.3" width="16.57" height="13.50" fill="#5b3494"/>
<rect x="773.78" y="1944.3" width="16.57" height="13.50" fill="#5c3495"/>
<rect x="789.95" y="1944.3" width="16.57" height="13.50" fill="#5d3495"/>
<rect x="838.46" y="1944.3" width="16.57" height="13.50" fill="#5a3494"/>
<rect x="870.80" y="1944.3" width="16.57" height="13.50" fill="#5a3494"/>
<rect x="886.97" y="1944.3" width="16.57" height="13.50" fill="#5a3494"/>
<rect x="903.14" y="1944.3" width="16.57" height="13.50" fill="#5b3494"/>
<rect x="919.31" y="1944.3" width="16.57" height="13.50" fill="#5d3495"/>
<rect x="935.48" y="1944.3" width="16.57" height="13.50" fill="#5b3494"/>
<rect x="951.65" y="1944.3" width="16.57" height="13.50" fill="#5b3494"/>
<rect x="967.82" y="1944.3" width="16.57" height="13.50" fill="#5c3495"/>
<rect x="1129.52" y="1944.3" width="16.57" height="13.50" fill="#543591"/>
<rect x="1161.86" y="1944.3" width="16.57" height="13.50" fill="#553492"/>
<rect x="1178.03" y="1944.3" width="16.57" height="13.50" fill="#543592"/>
<rect x="1210.37" y="1944.3" width="16.57" height="13.50" fill="#553492"/>
<rect x="1355.90" y="1944.3" width="16.57" height="13.50" fill="#573493"/>
<rect x="1436.75" y="1944.3" width="16.57" height="13.50" fill="#553492"/>
<rect x="1452.92" y="1944.3" width="16.57" height="13.50" fill="#563492"/>
<rect x="1469.09" y="1944.3" width="16.57" height="13.50" fill="#523591"/>
<rect x="1485.26" y="1944.3" width="16.57" height="13.50" fill="#553592"/>
<rect x="1501.43" y="1944.3" width="16.57" height="13.50" fill="#553492"/>
<rect x="1517.60" y="1944.3" width="16.57" height="13.50" fill="#563492"/>
<rect x="1533.77" y="1944.3" width="16.57" height="13.50" fill="#563492"/>
<rect x="1598.45" y="1944.3" width="16.57" height="13.50" fill="#553492"/>
<rect x="1614.62" y="1944.3" width="16.57" height="13.50" fill="#563492"/>
<rect x="1630.79" y="1944.3" width="16.57" height="13.50" fill="#573493"/>
<rect x="1646.96" y="1944.3" width="16.57" height="13.50" fill="#533591"/>
<rect x="1663.13" y="1944.3" width="16.57" height="13.50" fill="#553592"/>
<rect x="1679.30" y="1944.3" width="16.57" height="13.50" fill="#553592"/>
<rect x="1695.47" y="1944.3" width="16.57" height="13.50" fill="#543592"/>
<rect x="1711.64" y="1944.3" width="16.57" height="13.50" fill="#563492"/>
<rect x="482.72" y="1957.4" width="16.57" height="13.40" fill="#5d3495"/>
<rect x="498.89" y="1957.4" width="16.57" height="13.40" fill="#5e3496"/>
<rect x="515.06" y="1957.4" width="16.57" height="13.40" fill="#5d3495"/>
<rect x="531.23" y="1957.4" width="16.57" height="13.40" fill="#5d3495"/>
<rect x="547.40" y="1957.4" width="16.57" height="13.40" fill="#5b3494"/>
<rect x="563.57" y="1957.4" width="16.57" height="13.40" fill="#5c3495"/>
<rect x="579.74" y="1957.4" width="16.57" height="13.40" fill="#5a3494"/>
<rect x="595.91" y="1957.4" width="16.57" height="13.40" fill="#5d3495"/>
<rect x="612.08" y="1957.4" width="16.57" height="13.40" fill="#5a3494"/>
<rect x="628.25" y="1957.4" width="16.57" height="13.40" fill="#5b3495"/>
<rect x="660.59" y="1957.4" width="16.57" height="13.40" fill="#5e3496"/>
<rect x="676.76" y="1957.4" width="16.57" height="13.40" fill="#5d3495"/>
<rect x="692.93" y="1957.4" width="16.57" height="13.40" fill="#5b3495"/>
<rect x="709.10" y="1957.4" width="16.57" height="13.40" fill="#593494"/>
<rect x="725.27" y="1957.4" width="16.57" height="13.40" fill="#5d3495"/>
<rect x="741.44" y="1957.4" width="16.57" height="13.40" fill="#5a3494"/>
<rect x="757.61" y="1957.4" width="16.57" height="13.40" fill="#5c3495"/>
<rect x="822.29" y="1957.4" width="16.57" height="13.40" fill="#5a3494"/>
<rect x="838.46" y="1957.4" width="16.57" height="13.40" fill="#5e3496"/>
<rect x="854.63" y="1957.4" width="16.57" height="13.40" fill="#5c3495"/>
<rect x="886.97" y="1957.4" width="16.57" height="13.40" fill="#5a3494"/>
<rect x="903.14" y="1957.4" width="16.57" height="13.40" fill="#5d3495"/>
<rect x="919.31" y="1957.4" width="16.57" height="13.40" fill="#5d3495"/>
<rect x="935.48" y="1957.4" width="16.57" height="13.40" fill="#5e3496"/>
<rect x="951.65" y="1957.4" width="16.57" height="13.40" fill="#5d3495"/>
<rect x="967.82" y="1957.4" width="16.57" height="13.40" fill="#5d3495"/>
<rect x="1032.50" y="1957.4" width="16.57" height="13.40" fill="#543591"/>
<rect x="1048.67" y="1957.4" width="16.57" height="13.40" fill="#563492"/>
<rect x="1064.84" y="1957.4" width="16.57" height="13.40" fill="#553492"/>
<rect x="1081.01" y="1957.4" width="16.57" height="13.40" fill="#563492"/>
<rect x="1097.18" y="1957.4" width="16.57" height="13.40" fill="#543591"/>
<rect x="1113.35" y="1957.4" width="16.57" height="13.40" fill="#533591"/>
<rect x="1129.52" y="1957.4" width="16.57" height="13.40" fill="#543591"/>
<rect x="1145.69" y="1957.4" width="16.57" height="13.40" fill="#563492"/>
<rect x="1161.86" y="1957.4" width="16.57" height="13.40" fill="#543591"/>
<rect x="1178.03" y="1957.4" width="16.57" height="13.40" fill="#523591"/>
<rect x="1194.20" y="1957.4" width="16.57" height="13.40" fill="#543591"/>
<rect x="1258.88" y="1957.4" width="16.57" height="13.40" fill="#573493"/>
<rect x="1372.07" y="1957.4" width="16.57" height="13.40" fill="#533591"/>
<rect x="1436.75" y="1957.4" width="16.57" height="13.40" fill="#533591"/>
<rect x="1452.92" y="1957.4" width="16.57" height="13.40" fill="#553492"/>
<rect x="1469.09" y="1957.4" width="16.57" height="13.40" fill="#563492"/>
<rect x="1485.26" y="1957.4" width="16.57" height="13.40" fill="#563492"/>
<rect x="1501.43" y="1957.4" width="16.57" height="13.40" fill="#543592"/>
<rect x="1517.60" y="1957.4" width="16.57" height="13.40" fill="#533591"/>
<rect x="1549.94" y="1957.4" width="16.57" height="13.40" fill="#543591"/>
<rect x="1566.11" y="1957.4" width="16.57" height="13.40" fill="#533591"/>
<rect x="1598.45" y="1957.4" width="16.57" height="13.40" fill="#563492"/>
<rect x="1614.62" y="1957.4" width="16.57" height="13.40" fill="#563492"/>
<rect x="1630.79" y="1957.4" width="16.57" height="13.40" fill="#533591"/>
<rect x="1646.96" y="1957.4" width="16.57" height="13.40" fill="#543591"/>
<rect x="1663.13" y="1957.4" width="16.57" height="13.40" fill="#553492"/>
<rect x="1679.30" y="1957.4" width="16.57" height="13.40" fill="#543591"/>
<rect x="1695.47" y="1957.4" width="16.57" height="13.40" fill="#553492"/>
<rect x="1711.64" y="1957.4" width="16.57" height="13.40" fill="#573493"/>
<rect x="1727.81" y="1957.4" width="16.57" height="13.40" fill="#553492"/>
<rect x="498.89" y="1970.4" width="16.57" height="13.50" fill="#5e3496"/>
<rect x="515.06" y="1970.4" width="16.57" height="13.50" fill="#5b3494"/>
<rect x="531.23" y="1970.4" width="16.57" height="13.50" fill="#5d3495"/>
<rect x="547.40" y="1970.4" width="16.57" height="13.50" fill="#5c3495"/>
<rect x="563.57" y="1970.4" width="16.57" height="13.50" fill="#5b3494"/>
<rect x="579.74" y="1970.4" width="16.57" height="13.50" fill="#5d3495"/>
<rect x="595.91" y="1970.4" width="16.57" height="13.50" fill="#5c3495"/>
<rect x="612.08" y="1970.4" width="16.57" height="13.50" fill="#5e3496"/>
<rect x="628.25" y="1970.4" width="16.57" height="13.50" fill="#5a3494"/>
<rect x="709.10" y="1970.4" width="16.57" height="13.50" fill="#5b3495"/>
<rect x="725.27" y="1970.4" width="16.57" height="13.50" fill="#593494"/>
<rect x="741.44" y="1970.4" width="16.57" height="13.50" fill="#5e3496"/>
<rect x="806.12" y="1970.4" width="16.57" height="13.50" fill="#5b3494"/>
<rect x="822.29" y="1970.4" width="16.57" height="13.50" fill="#5b3494"/>
<rect x="838.46" y="1970.4" width="16.57" height="13.50" fill="#5d3495"/>
<rect x="854.63" y="1970.4" width="16.57" height="13.50" fill="#5e3496"/>
<rect x="870.80" y="1970.4" width="16.57" height="13.50" fill="#5d3495"/>
<rect x="886.97" y="1970.4" width="16.57" height="13.50" fill="#5e3495"/>
<rect x="903.14" y="1970.4" width="16.57" height="13.50" fill="#5a3494"/>
<rect x="919.31" y="1970.4" width="16.57" height="13.50" fill="#5e3496"/>
<rect x="935.48" y="1970.4" width="16.57" height="13.50" fill="#5a3494"/>
<rect x="951.65" y="1970.4" width="16.57" height="13.50" fill="#5c3495"/>
<rect x="967.82" y="1970.4" width="16.57" height="13.50" fill="#5c3495"/>
<rect x="983.99" y="1970.4" width="16.57" height="13.50" fill="#5b3495"/>
<rect x="1000.16" y="1970.4" width="16.57" height="13.50" fill="#543592"/>
<rect x="1016.33" y="1970.4" width="16.57" height="13.50" fill="#543591"/>
<rect x="1032.50" y="1970.4" width="16.57" height="13.50" fill="#543591"/>
<rect x="1048.67" y="1970.4" width="16.57" height="13.50" fill="#553492"/>
<rect x="1064.84" y="1970.4" width="16.57" height="13.50" fill="#533591"/>
<rect x="1081.01" y="1970.4" width="16.57" height="13.50" fill="#563492"/>
<rect x="1097.18" y="1970.4" width="16.57" height="13.50" fill="#543591"/>
<rect x="1113.35" y="1970.4" width="16.57" height="13.50" fill="#533591"/>
<rect x="1145.69" y="1970.4" width="16.57" height="13.50" fill="#533591"/>
<rect x="1161.86" y="1970.4" width="16.57" height="13.50" fill="#563492"/>
<rect x="1210.37" y="1970.4" width="16.57" height="13.50" fill="#533591"/>
<rect x="1258.88" y="1970.4" width="16.57" height="13.50" fill="#523591"/>
<rect x="1355.90" y="1970.4" width="16.57" height="13.50" fill="#553592"/>
<rect x="1372.07" y="1970.4" width="16.57" height="13.50" fill="#563492"/>
<rect x="1404.41" y="1970.4" width="16.57" height="13.50" fill="#553592"/>
<rect x="1420.58" y="1970.4" width="16.57" height="13.50" fill="#533591"/>
<rect x="1436.75" y="1970.4" width="16.57" height="13.50" fill="#563492"/>
<rect x="1469.09" y="1970.4" width="16.57" height="13.50" fill="#573493"/>
<rect x="1485.26" y="1970.4" width="16.57" height="13.50" fill="#553592"/>
<rect x="1501.43" y="1970.4" width="16.57" height="13.50" fill="#543591"/>
<rect x="1517.60" y="1970.4" width="16.57" height="13.50" fill="#533591"/>
<rect x="1533.77" y="1970.4" width="16.57" height="13.50" fill="#553492"/>
<rect x="1566.11" y="1970.4" width="16.57" height="13.50" fill="#523591"/>
<rect x="1582.28" y="1970.4" width="16.57" height="13.50" fill="#563492"/>
<rect x="1598.45" y="1970.4" width="16.57" height="13.50" fill="#533591"/>
<rect x="1614.62" y="1970.4" width="16.57" height="13.50" fill="#573493"/>
<rect x="1630.79" y="1970.4" width="16.57" height="13.50" fill="#573493"/>
<rect x="1646.96" y="1970.4" width="16.57" height="13.50" fill="#563492"/>
<rect x="1663.13" y="1970.4" width="16.57" height="13.50" fill="#573493"/>
<rect x="1679.30" y="1970.4" width="16.57" height="13.50" fill="#553592"/>
<rect x="1695.47" y="1970.4" width="16.57" height="13.50" fill="#543592"/>
<rect x="1743.98" y="1970.4" width="16.57" height="13.50" fill="#563492"/>
<rect x="1760.15" y="1970.4" width="16.57" height="13.50" fill="#533591"/>
<rect x="1776.32" y="1970.4" width="16.57" height="13.50" fill="#553492"/>
<rect x="515.06" y="1983.5" width="16.57" height="13.40" fill="#5e3495"/>
<rect x="531.23" y="1983.5" width="16.57" height="13.40" fill="#5d3495"/>
<rect x="547.40" y="1983.5" width="16.57" height="13.40" fill="#5b3494"/>
<rect x="563.57" y="1983.5" width="16.57" height="13.40" fill="#5a3494"/>
<rect x="579.74" y="1983.5" width="16.57" height="13.40" fill="#5d3495"/>
<rect x="595.91" y="1983.5" width="16.57" height="13.40" fill="#5e3496"/>
<rect x="612.08" y="1983.5" width="16.57" height="13.40" fill="#5a3494"/>
<rect x="628.25" y="1983.5" width="16.57" height="13.40" fill="#5d3495"/>
<rect x="644.42" y="1983.5" width="16.57" height="13.40" fill="#593494"/>
<rect x="741.44" y="1983.5" width="16.57" height="13.40" fill="#5c3495"/>
<rect x="806.12" y="1983.5" width="16.57" height="13.40" fill="#5b3494"/>
<rect x="822.29" y="1983.5" width="16.57" height="13.40" fill="#5d3495"/>
<rect x="838.46" y="1983.5" width="16.57" height="13.40" fill="#5a3494"/>
<rect x="854.63" y="1983.5" width="16.57" height="13.40" fill="#5c3495"/>
<rect x="870.80" y="1983.5" width="16.57" height="13.40" fill="#5d3495"/>
<rect x="886.97" y="1983.5" width="16.57" height="13.40" fill="#5a3494"/>
<rect x="903.14" y="1983.5" width="16.57" height="13.40" fill="#5e3496"/>
<rect x="935.48" y="1983.5" width="16.57" height="13.40" fill="#5b3494"/>
<rect x="951.65" y="1983.5" width="16.57" height="13.40" fill="#5e3496"/>
<rect x="967.82" y="1983.5" width="16.57" height="13.40" fill="#5b3494"/>
<rect x="983.99" y="1983.5" width="16.57" height="13.40" fill="#5c3495"/>
<rect x="1000.16" y="1983.5" width="16.57" height="13.40" fill="#533591"/>
<rect x="1016.33" y="1983.5" width="16.57" height="13.40" fill="#573493"/>
<rect x="1032.50" y="1983.5" width="16.57" height="13.40" fill="#543592"/>
<rect x="1242.71" y="1983.5" width="16.57" height="13.40" fill="#553492"/>
<rect x="1355.90" y="1983.5" width="16.57" height="13.40" fill="#533591"/>
<rect x="1388.24" y="1983.5" width="16.57" height="13.40" fill="#523591"/>
<rect x="1404.41" y="1983.5" width="16.57" height="13.40" fill="#543591"/>
<rect x="1420.58" y="1983.5" width="16.57" height="13.40" fill="#563492"/>
<rect x="1436.75" y="1983.5" width="16.57" height="13.40" fill="#563492"/>
<rect x="1469.09" y="1983.5" width="16.57" height="13.40" fill="#563492"/>
<rect x="1485.26" y="1983.5" width="16.57" height="13.40" fill="#553592"/>
<rect x="1646.96" y="1983.5" width="16.57" height="13.40" fill="#563492"/>
<rect x="1679.30" y="1983.5" width="16.57" height="13.40" fill="#563492"/>
<rect x="1711.64" y="1983.5" width="16.57" height="13.40" fill="#533591"/>
<rect x="1727.81" y="1983.5" width="16.57" height="13.40" fill="#543591"/>
<rect x="1743.98" y="1983.5" width="16.57" height="13.40" fill="#563492"/>
<rect x="1776.32" y="1983.5" width="16.57" height="13.40" fill="#523591"/>
<rect x="515.06" y="1996.5" width="16.57" height="13.50" fill="#5d3495"/>
<rect x="531.23" y="1996.5" width="16.57" height="13.50" fill="#5b3495"/>
<rect x="547.40" y="1996.5" width="16.57" height="13.50" fill="#5d3495"/>
<rect x="563.57" y="1996.5" width="16.57" height="13.50" fill="#5a3494"/>
<rect x="579.74" y="1996.5" width="16.57" height="13.50" fill="#5a3494"/>
<rect x="595.91" y="1996.5" width="16.57" height="13.50" fill="#5d3495"/>
<rect x="612.08" y="1996.5" width="16.57" height="13.50" fill="#5b3494"/>
<rect x="628.25" y="1996.5" width="16.57" height="13.50" fill="#5a3494"/>
<rect x="644.42" y="1996.5" width="16.57" height="13.50" fill="#5d3495"/>
<rect x="660.59" y="1996.5" width="16.57" height="13.50" fill="#5d3495"/>
<rect x="806.12" y="1996.5" width="16.57" height="13.50" fill="#5c3495"/>
<rect x="822.29" y="1996.5" width="16.57" height="13.50" fill="#5a3494"/>
<rect x="838.46" y="1996.5" width="16.57" height="13.50" fill="#5d3495"/>
<rect x="854.63" y="1996.5" width="16.57" height="13.50" fill="#5b3494"/>
<rect x="870.80" y="1996.5" width="16.57" height="13.50" fill="#5b3494"/>
<rect x="886.97" y="1996.5" width="16.57" height="13.50" fill="#5c3495"/>
<rect x="919.31" y="1996.5" width="16.57" height="13.50" fill="#5b3495"/>
<rect x="951.65" y="1996.5" width="16.57" height="13.50" fill="#5a3494"/>
<rect x="967.82" y="1996.5" width="16.57" height="13.50" fill="#5d3495"/>
<rect x="1275.05" y="1996.5" width="16.57" height="13.50" fill="#533591"/>
<rect x="1307.39" y="1996.5" width="16.57" height="13.50" fill="#553492"/>
<rect x="1388.24" y="1996.5" width="16.57" height="13.50" fill="#533591"/>
<rect x="1404.41" y="1996.5" width="16.57" height="13.50" fill="#533591"/>
<rect x="1420.58" y="1996.5" width="16.57" height="13.50" fill="#563492"/>
<rect x="1436.75" y="1996.5" width="16.57" height="13.50" fill="#533591"/>
<rect x="1485.26" y="1996.5" width="16.57" height="13.50" fill="#523591"/>
<rect x="1760.15" y="1996.5" width="16.57" height="13.50" fill="#563492"/>
<rect x="482.72" y="2009.6" width="16.57" height="13.40" fill="#5e3496"/>
<rect x="498.89" y="2009.6" width="16.57" height="13.40" fill="#5e3496"/>
<rect x="531.23" y="2009.6" width="16.57" height="13.40" fill="#593494"/>
<rect x="547.40" y="2009.6" width="16.57" height="13.40" fill="#5e3496"/>
<rect x="563.57" y="2009.6" width="16.57" height="13.40" fill="#5a3494"/>
<rect x="579.74" y="2009.6" width="16.57" height="13.40" fill="#5e3495"/>
<rect x="595.91" y="2009.6" width="16.57" height="13.40" fill="#5b3494"/>
<rect x="612.08" y="2009.6" width="16.57" height="13.40" fill="#5e3496"/>
<rect x="628.25" y="2009.6" width="16.57" height="13.40" fill="#5d3495"/>
<rect x="644.42" y="2009.6" width="16.57" height="13.40" fill="#5b3494"/>
<rect x="660.59" y="2009.6" width="16.57" height="13.40" fill="#5e3496"/>
<rect x="676.76" y="2009.6" width="16.57" height="13.40" fill="#5d3495"/>
<rect x="692.93" y="2009.6" width="16.57" height="13.40" fill="#5a3494"/>
<rect x="709.10" y="2009.6" width="16.57" height="13.40" fill="#5b3494"/>
<rect x="806.12" y="2009.6" width="16.57" height="13.40" fill="#5a3494"/>
<rect x="822.29" y="2009.6" width="16.57" height="13.40" fill="#593494"/>
<rect x="838.46" y="2009.6" width="16.57" height="13.40" fill="#5e3496"/>
<rect x="854.63" y="2009.6" width="16.57" height="13.40" fill="#5d3495"/>
<rect x="870.80" y="2009.6" width="16.57" height="13.40" fill="#5a3494"/>
<rect x="886.97" y="2009.6" width="16.57" height="13.40" fill="#5b3494"/>
<rect x="935.48" y="2009.6" width="16.57" height="13.40" fill="#5e3496"/>
<rect x="951.65" y="2009.6" width="16.57" height="13.40" fill="#5c3495"/>
<rect x="1258.88" y="2009.6" width="16.57" height="13.40" fill="#563492"/>
<rect x="1275.05" y="2009.6" width="16.57" height="13.40" fill="#553492"/>
<rect x="1291.22" y="2009.6" width="16.57" height="13.40" fill="#573493"/>
<rect x="1307.39" y="2009.6" width="16.57" height="13.40" fill="#573493"/>
<rect x="1372.07" y="2009.6" width="16.57" height="13.40" fill="#523591"/>
<rect x="1404.41" y="2009.6" width="16.57" height="13.40" fill="#563492"/>
<rect x="1420.58" y="2009.6" width="16.57" height="13.40" fill="#533591"/>
<rect x="1436.75" y="2009.6" width="16.57" height="13.40" fill="#573492"/>
<rect x="1485.26" y="2009.6" width="16.57" height="13.40" fill="#553592"/>
<rect x="498.89" y="2022.6" width="16.57" height="13.40" fill="#5e3495"/>
<rect x="563.57" y="2022.6" width="16.57" height="13.40" fill="#5c3495"/>
<rect x="579.74" y="2022.6" width="16.57" height="13.40" fill="#5d3495"/>
<rect x="595.91" y="2022.6" width="16.57" height="13.40" fill="#5b3494"/>
<rect x="612.08" y="2022.6" width="16.57" height="13.40" fill="#5e3495"/>
<rect x="628.25" y="2022.6" width="16.57" height="13.40" fill="#5b3494"/>
<rect x="644.42" y="2022.6" width="16.57" height="13.40" fill="#5c3495"/>
<rect x="660.59" y="2022.6" width="16.57" height="13.40" fill="#5e3496"/>
<rect x="676.76" y="2022.6" width="16.57" height="13.40" fill="#5d3495"/>
<rect x="692.93" y="2022.6" width="16.57" height="13.40" fill="#5c3495"/>
<rect x="709.10" y="2022.6" width="16.57" height="13.40" fill="#5a3494"/>
<rect x="854.63" y="2022.6" width="16.57" height="13.40" fill="#5d3495"/>
<rect x="1242.71" y="2022.6" width="16.57" height="13.40" fill="#563492"/>
<rect x="1258.88" y="2022.6" width="16.57" height="13.40" fill="#523591"/>
<rect x="1275.05" y="2022.6" width="16.57" height="13.40" fill="#533591"/>
<rect x="1291.22" y="2022.6" width="16.57" height="13.40" fill="#543591"/>
<rect x="1307.39" y="2022.6" width="16.57" height="13.40" fill="#563492"/>
<rect x="1323.56" y="2022.6" width="16.57" height="13.40" fill="#563492"/>
<rect x="1355.90" y="2022.6" width="16.57" height="13.40" fill="#563492"/>
<rect x="1372.07" y="2022.6" width="16.57" height="13.40" fill="#573493"/>
<rect x="563.57" y="2035.6" width="16.57" height="13.50" fill="#5e3496"/>
<rect x="579.74" y="2035.6" width="16.57" height="13.50" fill="#5c3495"/>
<rect x="595.91" y="2035.6" width="16.57" height="13.50" fill="#5c3495"/>
<rect x="612.08" y="2035.6" width="16.57" height="13.50" fill="#5c3495"/>
<rect x="628.25" y="2035.6" width="16.57" height="13.50" fill="#5c3495"/>
<rect x="644.42" y="2035.6" width="16.57" height="13.50" fill="#5e3496"/>
<rect x="660.59" y="2035.6" width="16.57" height="13.50" fill="#5b3494"/>
<rect x="676.76" y="2035.6" width="16.57" height="13.50" fill="#5b3494"/>
<rect x="692.93" y="2035.6" width="16.57" height="13.50" fill="#5c3495"/>
<rect x="709.10" y="2035.6" width="16.57" height="13.50" fill="#5c3495"/>
<rect x="725.27" y="2035.6" width="16.57" height="13.50" fill="#5b3494"/>
<rect x="838.46" y="2035.6" width="16.57" height="13.50" fill="#593494"/>
<rect x="1226.54" y="2035.6" width="16.57" height="13.50" fill="#533591"/>
<rect x="1258.88" y="2035.6" width="16.57" height="13.50" fill="#543591"/>
<rect x="1275.05" y="2035.6" width="16.57" height="13.50" fill="#553492"/>
<rect x="1291.22" y="2035.6" width="16.57" height="13.50" fill="#563492"/>
<rect x="1307.39" y="2035.6" width="16.57" height="13.50" fill="#553492"/>
<rect x="1323.56" y="2035.6" width="16.57" height="13.50" fill="#523591"/>
<rect x="1339.73" y="2035.6" width="16.57" height="13.50" fill="#553492"/>
<rect x="595.91" y="2048.7" width="16.57" height="13.40" fill="#5c3495"/>
<rect x="612.08" y="2048.7" width="16.57" height="13.40" fill="#5c3495"/>
<rect x="628.25" y="2048.7" width="16.57" height="13.40" fill="#5e3495"/>
<rect x="644.42" y="2048.7" width="16.57" height="13.40" fill="#593494"/>
<rect x="660.59" y="2048.7" width="16.57" height="13.40" fill="#5e3496"/>
<rect x="676.76" y="2048.7" width="16.57" height="13.40" fill="#5b3494"/>
<rect x="709.10" y="2048.7" width="16.57" height="13.40" fill="#5a3494"/>
<rect x="725.27" y="2048.7" width="16.57" height="13.40" fill="#5d3495"/>
<rect x="1242.71" y="2048.7" width="16.57" height="13.40" fill="#543591"/>
<rect x="1258.88" y="2048.7" width="16.57" height="13.40" fill="#553492"/>
<rect x="1275.05" y="2048.7" width="16.57" height="13.40" fill="#563492"/>
<rect x="1355.90" y="2048.7" width="16.57" height="13.40" fill="#563492"/>
<rect x="1372.07" y="2048.7" width="16.57" height="13.40" fill="#573492"/>
<rect x="1388.24" y="2048.7" width="16.57" height="13.40" fill="#533591"/>
<rect x="595.91" y="2061.7" width="16.57" height="13.50" fill="#5a3494"/>
<rect x="612.08" y="2061.7" width="16.57" height="13.50" fill="#5a3494"/>
<rect x="628.25" y="2061.7" width="16.57" height="13.50" fill="#5e3496"/>
<rect x="644.42" y="2061.7" width="16.57" height="13.50" fill="#5b3494"/>
<rect x="660.59" y="2061.7" width="16.57" height="13.50" fill="#5d3495"/>
<rect x="676.76" y="2061.7" width="16.57" height="13.50" fill="#5b3494"/>
<rect x="709.10" y="2061.7" width="16.57" height="13.50" fill="#5c3495"/>
<rect x="1242.71" y="2061.7" width="16.57" height="13.50" fill="#563492"/>
<rect x="1258.88" y="2061.7" width="16.57" height="13.50" fill="#523591"/>
<rect x="1355.90" y="2061.7" width="16.57" height="13.50" fill="#573493"/>
<rect x="1372.07" y="2061.7" width="16.57" height="13.50" fill="#533591"/>
<rect x="1388.24" y="2061.7" width="16.57" height="13.50" fill="#533591"/>
<rect x="1404.41" y="2061.7" width="16.57" height="13.50" fill="#553592"/>
<rect x="628.25" y="2074.8" width="16.57" height="13.40" fill="#5b3495"/>
<rect x="644.42" y="2074.8" width="16.57" height="13.40" fill="#593494"/>
<rect x="660.59" y="2074.8" width="16.57" height="13.40" fill="#5d3495"/>
<rect x="1242.71" y="2074.8" width="16.57" height="13.40" fill="#543591"/>
<rect x="1258.88" y="2074.8" width="16.57" height="13.40" fill="#533591"/>
<rect x="1355.90" y="2074.8" width="16.57" height="13.40" fill="#553492"/>
<rect x="1372.07" y="2074.8" width="16.57" height="13.40" fill="#543591"/>
<rect x="1404.41" y="2074.8" width="16.57" height="13.40" fill="#553492"/>
<rect x="1226.54" y="2087.8" width="16.57" height="13.50" fill="#553592"/>
<rect x="1258.88" y="2087.8" width="16.57" height="13.50" fill="#543591"/>
<rect x="1323.56" y="2087.8" width="16.57" height="13.50" fill="#543591"/>
<rect x="1355.90" y="2087.8" width="16.57" height="13.50" fill="#563492"/>
<rect x="1388.24" y="2087.8" width="16.57" height="13.50" fill="#543591"/>
<rect x="1275.05" y="2100.9" width="16.57" height="13.40" fill="#543592"/>
<rect x="1339.73" y="2100.9" width="16.57" height="13.40" fill="#563492"/>
<rect x="1372.07" y="2100.9" width="16.57" height="13.40" fill="#543591"/>
<rect x="1388.24" y="2100.9" width="16.57" height="13.40" fill="#563492"/>
<rect x="1404.41" y="2100.9" width="16.57" height="13.40" fill="#533591"/>
<rect x="1420.58" y="2100.9" width="16.57" height="13.40" fill="#553592"/>
<rect x="1323.56" y="2113.9" width="16.57" height="13.50" fill="#543591"/>
<rect x="1339.73" y="2113.9" width="16.57" height="13.50" fill="#553592"/>
<rect x="1355.90" y="2113.9" width="16.57" height="13.50" fill="#553592"/>
<rect x="1388.24" y="2113.9" width="16.57" height="13.50" fill="#563492"/>
<rect x="1420.58" y="2113.9" width="16.57" height="13.50" fill="#563492"/>
<rect x="1339.73" y="2127.0" width="16.57" height="13.40" fill="#533591"/>
<rect x="1388.24" y="2127.0" width="16.57" height="13.40" fill="#553592"/>
<rect x="1323.56" y="2140.0" width="16.57" height="13.50" fill="#553592"/>
<rect x="1339.73" y="2140.0" width="16.57" height="13.50" fill="#553592"/>
<rect x="1323.56" y="2153.1" width="16.57" height="13.40" fill="#533591"/>
</g>
<path d="M653.0,1011.6 L653.0,1024.7 L668.7,1037.3 L669.2,1037.7 L684.8,1050.4 L701.0,1050.4 L701.5,1050.7 L701.5,1063.8 L701.0,1064.2 L684.8,1064.2 L669.2,1076.8 L668.7,1077.2 L652.5,1077.2 L636.8,1089.9 L636.3,1090.3 L635.8,1089.9 L635.8,1076.8 L620.2,1064.2 L604.0,1064.2 L587.8,1064.2 L572.1,1076.8 L571.7,1077.2 L571.2,1076.8 L571.2,1063.8 L571.2,1050.7 L571.7,1050.4 L587.3,1037.7 L571.7,1025.0 L555.5,1025.0 L555.0,1024.7 L539.3,1012.0 L523.1,1012.0 L507.0,1012.0 L491.3,1024.7 L490.8,1025.0 L474.6,1025.0 L474.1,1024.7 L458.5,1012.0 L442.8,1024.7 L442.8,1037.7 L442.3,1038.1 L426.1,1038.1 L410.0,1038.1 L394.3,1050.7 L394.3,1063.8 L394.3,1076.8 L410.0,1089.5 L410.4,1089.9 L426.1,1102.5 L442.3,1102.5 L458.5,1102.5 L459.0,1102.9 L458.5,1103.3 L442.8,1116.0 L458.5,1128.6 L459.0,1129.0 L458.5,1129.4 L442.3,1129.4 L441.8,1129.0 L426.1,1116.4 L410.0,1116.4 L393.8,1116.4 L377.6,1116.4 L361.4,1116.4 M1784.4,1964.3 L1768.2,1964.3 L1752.1,1964.3 L1751.6,1963.9 L1735.9,1951.2 L1735.4,1950.9 L1735.4,1937.8 L1735.4,1924.8 L1719.7,1912.1 L1703.6,1912.1 L1687.4,1912.1 L1671.7,1924.8 L1671.2,1925.2 L1655.5,1937.8 L1655.0,1938.2 L1654.6,1937.8 L1654.6,1924.8 L1654.6,1911.7 L1655.0,1911.3 L1671.2,1911.3 L1686.9,1898.7 L1686.9,1885.6 L1686.9,1872.6 L1687.4,1872.2 L1703.1,1859.5 L1703.6,1859.1 L1719.2,1846.5 L1719.2,1833.4 L1719.2,1820.4 L1703.6,1807.7 L1687.4,1807.7 L1671.2,1807.7 L1670.7,1807.4 L1670.7,1794.3 L1655.0,1781.7 L1639.4,1794.3 L1638.9,1794.7 L1638.4,1794.3 L1622.7,1781.7 L1606.5,1781.7 L1590.4,1781.7 L1574.2,1781.7 L1558.5,1794.3 L1558.0,1794.7 L1557.5,1794.3 L1541.9,1781.7 L1525.7,1781.7 L1509.5,1781.7 L1493.3,1781.7 L1477.2,1781.7 L1461.5,1794.3 L1461.0,1794.7 L1444.8,1794.7 L1444.3,1794.3 L1428.7,1781.7 L1412.5,1781.7 L1396.8,1794.3 L1412.5,1807.0 L1413.0,1807.4 L1412.5,1807.7 L1396.8,1820.4 L1396.3,1820.8 L1395.8,1820.4 L1395.8,1807.4 L1380.2,1794.7 L1379.7,1794.3 L1379.7,1781.3 L1364.0,1768.6 L1363.5,1768.2 L1363.5,1755.2 L1364.0,1754.8 L1379.7,1742.1 L1379.7,1729.1 L1380.2,1728.7 L1396.3,1728.7 L1412.5,1728.7 L1413.0,1729.1 L1428.7,1741.7 L1444.3,1729.1 L1444.8,1728.7 L1461.0,1728.7 L1476.7,1716.0 L1476.7,1703.0 L1476.7,1690.0 L1461.0,1677.3 L1444.8,1677.3 L1444.3,1676.9 L1428.7,1664.3 L1412.5,1664.3 L1412.0,1663.9 L1396.3,1651.2 L1380.6,1663.9 L1380.2,1664.3 L1379.7,1663.9 L1364.0,1651.2 L1348.3,1663.9 L1347.8,1664.3 L1331.6,1664.3 L1316.0,1676.9 L1316.0,1690.0 L1315.5,1690.3 L1315.0,1690.0 L1315.0,1676.9 L1299.3,1664.3 L1283.6,1676.9 L1283.1,1677.3 L1282.6,1676.9 L1282.6,1663.9 L1267.0,1651.2 L1266.5,1650.8 L1250.8,1638.2 L1235.1,1650.8 L1234.6,1651.2 L1234.1,1650.8 L1218.5,1638.2 L1202.3,1638.2 L1201.8,1637.8 L1202.3,1637.4 L1218.0,1624.7 L1218.5,1624.3 L1234.6,1624.3 L1250.8,1624.3 L1267.0,1624.3 L1282.6,1611.7 L1267.0,1599.0 L1266.5,1598.6 L1266.5,1585.6 L1267.0,1585.2 L1283.1,1585.2 L1283.6,1585.6 L1299.3,1598.2 L1315.0,1585.6 L1315.5,1585.2 L1331.6,1585.2 L1347.8,1585.2 L1363.5,1572.5 L1363.5,1559.5 L1347.8,1546.8 L1331.6,1546.8 L1331.2,1546.5 L1315.5,1533.8 L1299.3,1533.8 L1283.1,1533.8 L1282.6,1533.4 L1283.1,1533.0 L1298.8,1520.4 L1299.3,1520.0 L1315.0,1507.3 L1315.5,1506.9 L1331.6,1506.9 L1347.3,1494.3 L1331.6,1481.6 L1331.2,1481.2 L1315.5,1468.6 L1315.0,1468.2 L1315.5,1467.8 L1331.6,1467.8 L1347.3,1455.1 L1331.6,1442.5 L1315.5,1442.5 L1315.0,1442.1 L1299.3,1429.4 L1298.8,1429.1 L1299.3,1428.7 L1315.0,1416.0 L1299.3,1403.4 L1283.1,1403.4 L1282.6,1403.0 L1283.1,1402.6 L1298.8,1389.9 L1299.3,1389.5 L1315.0,1376.9 L1315.0,1363.8 L1315.5,1363.4 L1331.2,1350.8 L1315.5,1338.1 L1299.3,1338.1 L1283.1,1338.1 L1282.6,1337.7 L1283.1,1337.3 L1298.8,1324.7 L1283.1,1312.0 L1267.5,1324.7 L1267.0,1325.1 L1251.3,1337.7 L1267.0,1350.4 L1267.5,1350.8 L1267.0,1351.2 L1250.8,1351.2 L1234.6,1351.2 L1218.5,1351.2 L1202.3,1351.2 L1186.1,1351.2 L1170.4,1363.8 L1169.9,1364.2 L1153.8,1364.2 L1137.6,1364.2 L1121.4,1364.2 L1105.3,1364.2 L1089.6,1376.9 L1089.1,1377.3 L1072.9,1377.3 L1072.4,1376.9 L1072.4,1363.8 L1056.8,1351.2 L1041.1,1363.8 L1040.6,1364.2 L1040.1,1363.8 L1024.4,1351.2 L1008.2,1351.2 L992.6,1363.8 L992.1,1364.2 L975.9,1364.2 L975.4,1363.8 L959.7,1351.2 L943.6,1351.2 L943.1,1350.8 L943.1,1337.7 L943.6,1337.3 L944.1,1337.7 L959.7,1350.4 L975.9,1350.4 L992.1,1350.4 L1008.2,1350.4 L1024.4,1350.4 L1040.1,1337.7 L1040.1,1324.7 L1040.1,1311.6 L1040.6,1311.3 L1056.3,1298.6 L1056.8,1298.2 L1072.9,1298.2 L1073.4,1298.6 L1089.1,1311.3 L1105.3,1311.3 L1121.4,1311.3 L1137.6,1311.3 L1153.3,1298.6 L1153.8,1298.2 L1169.9,1298.2 L1185.6,1285.6 L1185.6,1272.5 L1186.1,1272.1 L1201.8,1259.5 L1202.3,1259.1 L1218.0,1246.4 L1202.3,1233.8 L1186.1,1233.8 L1185.6,1233.4 L1169.9,1220.7 L1154.3,1233.4 L1153.8,1233.8 L1153.3,1233.4 L1153.3,1220.3 L1153.8,1219.9 L1169.9,1219.9 L1185.6,1207.3 L1169.9,1194.6 L1169.5,1194.2 L1169.9,1193.9 L1185.6,1181.2 L1169.9,1168.5 L1169.5,1168.2 L1153.8,1155.5 L1137.6,1155.5 L1121.4,1155.5 L1105.3,1155.5 L1104.8,1155.1 L1089.1,1142.5 L1088.6,1142.1 L1072.9,1129.4 L1056.8,1129.4 L1040.6,1129.4 L1040.1,1129.0 L1024.4,1116.4 L1008.2,1116.4 L1007.8,1116.0 L992.1,1103.3 L991.6,1102.9 L992.1,1102.5 L1007.8,1089.9 L1007.8,1076.8 L992.1,1064.2 L976.4,1076.8 L976.4,1089.9 L975.9,1090.3 L959.7,1090.3 L944.1,1102.9 L943.6,1103.3 L943.1,1102.9 L927.4,1090.3 L911.7,1102.9 L911.2,1103.3 L910.7,1102.9 L910.7,1089.9 L895.1,1077.2 L894.6,1076.8 L894.6,1063.8 L878.9,1051.1 L862.7,1051.1 L862.2,1050.7 L862.7,1050.4 L878.4,1037.7 L862.7,1025.0 L846.5,1025.0 L830.4,1025.0 L814.2,1025.0 L798.0,1025.0 L797.5,1024.7 L797.5,1011.6 M926.9,1194.2 L944.1,1194.2 M361.4,1206.9 L361.9,1207.3 L361.9,1220.3 L361.4,1220.7 M846.1,1220.3 L863.2,1220.3 M878.9,1233.0 L878.4,1233.4 L878.4,1246.4 L878.9,1246.8 L895.1,1246.8 L910.7,1259.5 L911.2,1259.9 L927.4,1259.9 L943.6,1259.9 L959.2,1272.5 L959.7,1272.9 L960.2,1272.5 L960.2,1259.5 L959.7,1259.1 L943.6,1259.1 L927.9,1246.4 L927.4,1246.0 L911.7,1233.4 L911.2,1233.0 L910.7,1233.4 L895.1,1246.0 L879.4,1233.4 Z M361.4,1246.0 L361.9,1246.4 L377.6,1259.1 L393.8,1259.1 L394.3,1259.5 L394.3,1272.5 L394.3,1285.6 L394.3,1298.6 L394.3,1311.6 L394.3,1324.7 L410.0,1337.3 L410.4,1337.7 L410.0,1338.1 L393.8,1338.1 L378.1,1350.8 L378.1,1363.8 L393.8,1376.5 L410.0,1376.5 L410.4,1376.9 L426.1,1389.5 L442.3,1389.5 L458.5,1389.5 L459.0,1389.9 L474.6,1402.6 L475.1,1403.0 L475.1,1416.0 L475.1,1429.1 L474.6,1429.4 L459.0,1442.1 L458.5,1442.5 L458.0,1442.1 L442.3,1429.4 L426.6,1442.1 L426.6,1455.1 L442.3,1467.8 L458.5,1467.8 L474.6,1467.8 L490.8,1467.8 L506.5,1455.1 L507.0,1454.8 L507.5,1455.1 L523.1,1467.8 L523.6,1468.2 L523.6,1481.2 L523.1,1481.6 L522.7,1481.2 L507.0,1468.6 L491.3,1481.2 L490.8,1481.6 L475.1,1494.3 L474.6,1494.7 L459.0,1507.3 L458.5,1507.7 L442.8,1520.4 L442.8,1533.4 L442.3,1533.8 L426.6,1546.5 L426.1,1546.8 L410.4,1559.5 L410.0,1559.9 L394.3,1572.5 L394.3,1585.6 L394.3,1598.6 L410.0,1611.3 L426.1,1611.3 L442.3,1611.3 L458.5,1611.3 L459.0,1611.7 L474.6,1624.3 L490.8,1624.3 L491.3,1624.7 L491.3,1637.8 L491.3,1650.8 L490.8,1651.2 L475.1,1663.9 L490.8,1676.5 L491.3,1676.9 L507.0,1689.6 L523.1,1689.6 L523.6,1690.0 L539.3,1702.6 L555.5,1702.6 L571.7,1702.6 L587.8,1702.6 L603.5,1690.0 L587.8,1677.3 L587.3,1676.9 L587.8,1676.5 L604.0,1676.5 L619.7,1663.9 L620.2,1663.5 L635.8,1650.8 L636.3,1650.4 L652.5,1650.4 L653.0,1650.8 L668.7,1663.5 L684.8,1663.5 L685.3,1663.9 L701.0,1676.5 L716.7,1663.9 L717.2,1663.5 L733.4,1663.5 L749.0,1650.8 L749.5,1650.4 L765.7,1650.4 L781.9,1650.4 L782.4,1650.8 L798.0,1663.5 L798.5,1663.9 L798.0,1664.3 L782.4,1676.9 L798.0,1689.6 L798.5,1690.0 L814.2,1702.6 L814.7,1703.0 L830.4,1715.7 L846.5,1715.7 L847.0,1716.0 L847.0,1729.1 L862.7,1741.7 L878.9,1741.7 L895.1,1741.7 L910.7,1729.1 L911.2,1728.7 L927.4,1728.7 L943.6,1728.7 L959.7,1728.7 L975.4,1716.0 L975.9,1715.7 L991.6,1703.0 L991.6,1690.0 L991.6,1676.9 L992.1,1676.5 L992.6,1676.9 L992.6,1690.0 L1008.2,1702.6 L1023.9,1690.0 L1023.9,1676.9 L1024.4,1676.5 L1040.1,1663.9 L1040.6,1663.5 L1056.8,1663.5 L1072.4,1650.8 L1072.9,1650.4 L1073.4,1650.8 L1089.1,1663.5 L1089.6,1663.9 L1089.6,1676.9 L1105.3,1689.6 L1121.4,1689.6 L1137.1,1676.9 L1137.6,1676.5 L1138.1,1676.9 L1138.1,1690.0 L1153.8,1702.6 L1154.3,1703.0 L1154.3,1716.0 L1153.8,1716.4 L1137.6,1716.4 L1121.9,1729.1 L1121.4,1729.5 L1105.3,1729.5 L1089.6,1742.1 L1105.3,1754.8 L1105.8,1755.2 L1121.4,1767.8 L1137.6,1767.8 L1153.8,1767.8 L1154.3,1768.2 L1169.9,1780.9 L1185.6,1768.2 L1185.6,1755.2 L1186.1,1754.8 L1186.6,1755.2 L1202.3,1767.8 L1218.5,1767.8 L1218.9,1768.2 L1234.6,1780.9 L1250.8,1780.9 L1267.0,1780.9 L1283.1,1780.9 L1283.6,1781.3 L1283.1,1781.7 L1267.0,1781.7 L1250.8,1781.7 L1235.1,1794.3 L1234.6,1794.7 L1218.9,1807.4 L1234.6,1820.0 L1235.1,1820.4 L1250.8,1833.1 L1267.0,1833.1 L1283.1,1833.1 L1299.3,1833.1 L1299.8,1833.4 L1315.5,1846.1 L1331.6,1846.1 L1347.8,1846.1 L1348.3,1846.5 L1364.0,1859.1 L1364.5,1859.5 L1364.0,1859.9 L1347.8,1859.9 L1331.6,1859.9 L1316.0,1872.6 L1331.6,1885.2 L1347.8,1885.2 L1348.3,1885.6 L1364.0,1898.3 L1379.7,1885.6 L1379.7,1872.6 L1380.2,1872.2 L1380.6,1872.6 L1380.6,1885.6 L1380.6,1898.7 L1380.6,1911.7 L1380.2,1912.1 L1379.7,1911.7 L1364.0,1899.1 L1348.3,1911.7 L1348.3,1924.8 L1348.3,1937.8 L1348.3,1950.9 L1364.0,1963.5 L1364.5,1963.9 L1364.0,1964.3 L1348.3,1976.9 L1348.3,1990.0 L1364.0,2002.6 L1379.7,1990.0 L1380.2,1989.6 L1380.6,1990.0 L1380.6,2003.0 L1380.2,2003.4 L1364.5,2016.1 L1364.0,2016.5 L1348.3,2029.1 L1347.8,2029.5 L1347.3,2029.1 L1331.6,2016.5 L1331.2,2016.1 L1331.2,2003.0 L1315.5,1990.4 L1299.8,2003.0 L1299.3,2003.4 L1298.8,2003.0 L1283.1,1990.4 L1267.5,2003.0 L1267.0,2003.4 L1251.3,2016.1 L1250.8,2016.5 L1235.1,2029.1 L1234.6,2029.5 L1218.9,2042.2 L1234.6,2054.8 L1235.1,2055.2 L1235.1,2068.3 L1235.1,2081.3 L1234.6,2081.7 L1218.9,2094.3 L1234.6,2107.0 L1250.3,2094.3 L1250.8,2094.0 L1251.3,2094.3 L1267.0,2107.0 L1267.5,2107.4 L1283.1,2120.0 L1298.8,2107.4 L1283.1,2094.7 L1282.6,2094.3 L1282.6,2081.3 L1282.6,2068.3 L1283.1,2067.9 L1298.8,2055.2 L1299.3,2054.8 L1315.5,2054.8 L1331.6,2054.8 L1347.8,2054.8 L1348.3,2055.2 L1348.3,2068.3 L1348.3,2081.3 L1348.3,2094.3 L1347.8,2094.7 L1347.3,2094.3 L1331.6,2081.7 L1316.0,2094.3 L1331.6,2107.0 L1332.1,2107.4 L1331.6,2107.8 L1316.0,2120.4 L1331.6,2133.1 L1332.1,2133.5 L1331.6,2133.9 L1316.0,2146.5 L1316.0,2159.6 M571.2,1350.8 L571.7,1350.4 L572.1,1350.8 L572.1,1363.8 L571.7,1364.2 L555.5,1364.2 L539.3,1364.2 L538.8,1363.8 L539.3,1363.4 L555.5,1363.4 Z M555.0,1559.5 L572.1,1559.5 M1024.4,1572.2 L1023.9,1572.5 L1023.9,1585.6 L1024.4,1586.0 L1040.1,1598.6 L1040.6,1599.0 L1041.1,1598.6 L1041.1,1585.6 L1040.6,1585.2 L1024.9,1572.5 Z M1056.3,1572.5 L1121.9,1572.5 M1153.3,1650.8 L1186.6,1650.8 M1201.8,1676.9 L1202.3,1676.5 L1202.8,1676.9 L1202.8,1690.0 L1202.8,1703.0 L1202.3,1703.4 L1186.6,1716.0 L1186.6,1729.1 L1186.1,1729.5 L1169.9,1729.5 L1169.5,1729.1 L1169.9,1728.7 L1185.6,1716.0 L1185.6,1703.0 L1185.6,1690.0 L1186.1,1689.6 Z M1509.5,1677.3 L1493.8,1690.0 L1509.5,1702.6 L1525.2,1690.0 Z M749.5,1729.5 L733.8,1742.1 L733.4,1742.5 L717.7,1755.2 L733.4,1767.8 L733.8,1768.2 L749.5,1780.9 L750.0,1781.3 L765.7,1793.9 L781.4,1781.3 L781.9,1780.9 L797.5,1768.2 L798.0,1767.8 L798.5,1768.2 L798.5,1781.3 L814.2,1793.9 L829.9,1781.3 L830.4,1780.9 L846.5,1780.9 L847.0,1781.3 L847.0,1794.3 L846.5,1794.7 L830.4,1794.7 L814.7,1807.4 L814.2,1807.7 L798.0,1807.7 L781.9,1807.7 L765.7,1807.7 L750.0,1820.4 L750.0,1833.4 L749.5,1833.8 L733.8,1846.5 L733.4,1846.9 L717.2,1846.9 L701.0,1846.9 L685.3,1859.5 L684.8,1859.9 L684.4,1859.5 L668.7,1846.9 L653.0,1859.5 L653.0,1872.6 L652.5,1873.0 L636.8,1885.6 L636.3,1886.0 L635.8,1885.6 L620.2,1873.0 L604.5,1885.6 L604.0,1886.0 L588.3,1898.7 L587.8,1899.1 L571.7,1899.1 L555.5,1899.1 L555.0,1898.7 L539.3,1886.0 L523.1,1886.0 L507.0,1886.0 L491.3,1898.7 L490.8,1899.1 L475.1,1911.7 L475.1,1924.8 L474.6,1925.2 L459.0,1937.8 L474.6,1950.5 L475.1,1950.9 L475.1,1963.9 L490.8,1976.6 L491.3,1976.9 L507.0,1989.6 L507.5,1990.0 L507.5,2003.0 L507.0,2003.4 L490.8,2003.4 L475.1,2016.1 L490.8,2028.7 L491.3,2029.1 L507.0,2041.8 L522.7,2029.1 L522.7,2016.1 L523.1,2015.7 L523.6,2016.1 L539.3,2028.7 L555.5,2028.7 L556.0,2029.1 L556.0,2042.2 L571.7,2054.8 L587.8,2054.8 L588.3,2055.2 L588.3,2068.3 L604.0,2080.9 L620.2,2080.9 L620.7,2081.3 L636.3,2094.0 L652.5,2094.0 L668.7,2094.0 L684.4,2081.3 L684.8,2080.9 L700.5,2068.3 L700.5,2055.2 L701.0,2054.8 L701.5,2055.2 L701.5,2068.3 L717.2,2080.9 L732.9,2068.3 L733.4,2067.9 L749.0,2055.2 L749.0,2042.2 L733.4,2029.5 L732.9,2029.1 L732.9,2016.1 L717.2,2003.4 L701.0,2003.4 L684.8,2003.4 L684.4,2003.0 L668.7,1990.4 L668.2,1990.0 L652.5,1977.3 L652.0,1976.9 L652.0,1963.9 L652.5,1963.5 L653.0,1963.9 L668.7,1976.6 L684.8,1976.6 L701.0,1976.6 L701.5,1976.9 L717.2,1989.6 L733.4,1989.6 L733.8,1990.0 L749.5,2002.6 L765.2,1990.0 L765.2,1976.9 L765.7,1976.6 L781.4,1963.9 L781.9,1963.5 L798.0,1963.5 L813.7,1950.9 L798.0,1938.2 L797.5,1937.8 L798.0,1937.4 L814.2,1937.4 L814.7,1937.8 L830.4,1950.5 L830.9,1950.9 L830.4,1951.2 L814.7,1963.9 L814.2,1964.3 L798.5,1976.9 L798.5,1990.0 L798.5,2003.0 L798.5,2016.1 L814.2,2028.7 L830.4,2028.7 L846.5,2028.7 L847.0,2029.1 L846.5,2029.5 L830.9,2042.2 L846.5,2054.8 L862.2,2042.2 L862.7,2041.8 L878.4,2029.1 L878.9,2028.7 L895.1,2028.7 L910.7,2016.1 L910.7,2003.0 L911.2,2002.6 L911.7,2003.0 L927.4,2015.7 L927.9,2016.1 L943.6,2028.7 L959.7,2028.7 L975.4,2016.1 L975.9,2015.7 L991.6,2003.0 L992.1,2002.6 L1008.2,2002.6 L1024.4,2002.6 L1040.6,2002.6 L1056.3,1990.0 L1056.8,1989.6 L1072.9,1989.6 L1089.1,1989.6 L1105.3,1989.6 L1121.4,1989.6 L1137.1,1976.9 L1137.6,1976.6 L1138.1,1976.9 L1153.8,1989.6 L1169.9,1989.6 L1185.6,1976.9 L1186.1,1976.6 L1202.3,1976.6 L1202.8,1976.9 L1218.5,1989.6 L1234.1,1976.9 L1218.5,1964.3 L1218.0,1963.9 L1218.5,1963.5 L1234.1,1950.9 L1218.5,1938.2 L1202.8,1950.9 L1202.3,1951.2 L1201.8,1950.9 L1201.8,1937.8 L1202.3,1937.4 L1218.0,1924.8 L1202.3,1912.1 L1186.1,1912.1 L1185.6,1911.7 L1169.9,1899.1 L1153.8,1899.1 L1138.1,1911.7 L1138.1,1924.8 L1137.6,1925.2 L1121.9,1937.8 L1121.9,1950.9 L1121.4,1951.2 L1105.3,1951.2 L1089.1,1951.2 L1072.9,1951.2 L1056.8,1951.2 L1040.6,1951.2 L1024.9,1963.9 L1024.4,1964.3 L1008.2,1964.3 L992.1,1964.3 L991.6,1963.9 L991.6,1950.9 L991.6,1937.8 L975.9,1925.2 L959.7,1925.2 L959.2,1924.8 L959.7,1924.4 L975.4,1911.7 L975.4,1898.7 L975.9,1898.3 L992.1,1898.3 L1007.8,1885.6 L992.1,1873.0 L975.9,1873.0 L959.7,1873.0 L943.6,1873.0 L927.4,1873.0 L911.2,1873.0 L895.5,1885.6 L895.1,1886.0 L878.9,1886.0 L862.7,1886.0 L846.5,1886.0 L846.1,1885.6 L846.1,1872.6 L846.5,1872.2 L862.7,1872.2 L878.4,1859.5 L878.4,1846.5 L862.7,1833.8 L862.2,1833.4 L862.7,1833.1 L878.4,1820.4 L862.7,1807.7 L862.2,1807.4 L862.7,1807.0 L878.9,1807.0 L894.6,1794.3 L878.9,1781.7 L878.4,1781.3 L862.7,1768.6 L862.2,1768.2 L846.5,1755.6 L830.4,1755.6 L814.2,1755.6 L813.7,1755.2 L798.0,1742.5 L797.5,1742.1 L781.9,1729.5 L765.7,1729.5 Z M1347.3,1807.4 L1364.5,1807.4 M829.9,1820.4 L847.0,1820.4 M1557.5,1820.4 L1558.0,1820.0 L1574.2,1820.0 L1574.7,1820.4 L1590.4,1833.1 L1606.5,1833.1 L1622.7,1833.1 L1638.9,1833.1 L1655.0,1833.1 L1671.2,1833.1 L1687.4,1833.1 L1687.9,1833.4 L1687.9,1846.5 L1687.4,1846.9 L1671.7,1859.5 L1671.2,1859.9 L1655.5,1872.6 L1655.0,1873.0 L1639.4,1885.6 L1638.9,1886.0 L1622.7,1886.0 L1606.5,1886.0 L1590.9,1898.7 L1590.4,1899.1 L1574.7,1911.7 L1574.7,1924.8 L1590.4,1937.4 L1590.9,1937.8 L1590.9,1950.9 L1590.9,1963.9 L1590.4,1964.3 L1589.9,1963.9 L1574.2,1951.2 L1558.0,1951.2 L1557.5,1950.9 L1557.5,1937.8 L1557.5,1924.8 L1557.5,1911.7 L1558.0,1911.3 L1573.7,1898.7 L1558.0,1886.0 L1557.5,1885.6 L1557.5,1872.6 L1541.9,1859.9 L1541.4,1859.5 L1525.7,1846.9 L1525.2,1846.5 L1525.7,1846.1 L1541.4,1833.4 L1541.9,1833.1 Z M1492.9,1833.4 L1510.0,1833.4 M765.2,1846.5 L782.4,1846.5 M1460.5,1859.5 L1477.7,1859.5 M1428.7,1911.3 L1428.2,1911.7 L1412.5,1924.4 L1396.3,1924.4 L1395.8,1924.8 L1395.8,1937.8 L1380.2,1950.5 L1379.7,1950.9 L1380.2,1951.2 L1395.8,1963.9 L1395.8,1976.9 L1396.3,1977.3 L1396.8,1976.9 L1412.5,1964.3 L1428.7,1964.3 L1429.2,1963.9 L1429.2,1950.9 L1444.8,1938.2 L1445.3,1937.8 L1445.3,1924.8 L1444.8,1924.4 L1429.2,1911.7 Z M749.0,1924.8 L749.5,1924.4 L765.7,1924.4 L766.2,1924.8 L766.2,1937.8 L765.7,1938.2 L765.2,1937.8 L749.5,1925.2 Z M620.2,1937.4 L620.2,1951.2 M1267.0,1951.2 L1251.3,1963.9 L1251.3,1976.9 L1250.8,1977.3 L1235.1,1990.0 L1250.8,2002.6 L1266.5,1990.0 L1267.0,1989.6 L1282.6,1976.9 L1282.6,1963.9 Z M1347.3,2159.6 L1347.8,2159.2 L1363.5,2146.5 L1363.5,2133.5 L1364.0,2133.1 L1379.7,2120.4 L1380.2,2120.0 L1380.6,2120.4 L1380.6,2133.5 L1396.3,2146.1 L1412.0,2133.5 L1412.0,2120.4 L1412.5,2120.0 L1413.0,2120.4 L1428.7,2133.1 L1444.3,2120.4 L1444.3,2107.4 L1428.7,2094.7 L1412.5,2094.7 L1412.0,2094.3 L1412.5,2094.0 L1428.2,2081.3 L1428.2,2068.3 L1412.5,2055.6 L1412.0,2055.2 L1396.3,2042.6 L1380.2,2042.6 L1364.0,2042.6 L1363.5,2042.2 L1364.0,2041.8 L1380.2,2041.8 L1395.8,2029.1 L1395.8,2016.1 L1396.3,2015.7 L1396.8,2016.1 L1412.5,2028.7 L1428.7,2028.7 L1444.8,2028.7 L1460.5,2016.1 L1460.5,2003.0 L1460.5,1990.0 L1460.5,1976.9 L1461.0,1976.6 L1461.5,1976.9 L1461.5,1990.0 L1477.2,2002.6 L1477.7,2003.0 L1477.7,2016.1 L1493.3,2028.7 L1509.0,2016.1 L1509.0,2003.0 L1509.0,1990.0 L1509.5,1989.6 L1525.7,1989.6 L1541.9,1989.6 L1557.5,1976.9 L1558.0,1976.6 L1558.5,1976.9 L1574.2,1989.6 L1590.4,1989.6 L1606.5,1989.6 L1622.7,1989.6 L1638.9,1989.6 L1639.4,1990.0 L1655.0,2002.6 L1670.7,1990.0 L1671.2,1989.6 L1671.7,1990.0 L1687.4,2002.6 L1703.1,1990.0 L1703.6,1989.6 L1704.0,1990.0 L1719.7,2002.6 L1735.9,2002.6 L1752.1,2002.6 L1752.6,2003.0 L1768.2,2015.7 L1783.9,2003.0 L1784.4,2002.6 M1719.2,1976.9 L1736.4,1976.9" fill="none" stroke="#000" stroke-width="6.3" stroke-linejoin="round" stroke-linecap="butt"/>
<path d="M733.4,1041.4 L730.3,1050.7 L733.4,1058.9 L738.0,1063.8 L733.4,1067.6 L727.8,1076.8 L733.4,1081.6 L745.2,1089.9 L733.4,1101.7 L723.6,1089.9 L717.2,1085.0 L706.1,1089.9 L711.8,1102.9 L717.2,1109.9 L733.4,1103.9 L749.5,1104.7 L765.7,1114.5 L777.0,1102.9 L781.9,1095.4 L784.2,1102.9 L798.0,1112.3 L806.5,1116.0 L814.2,1119.7 L830.4,1120.1 L837.2,1116.0 L846.5,1112.9 L860.9,1102.9 L859.0,1089.9 L849.9,1076.8 L846.5,1074.8 L837.3,1076.8 L830.4,1077.4 L829.4,1076.8 L827.4,1063.8 L830.4,1053.0 L831.6,1050.7 L830.4,1050.0 L814.2,1045.3 L801.4,1050.7 L798.0,1051.9 L795.2,1050.7 L781.9,1045.0 L770.0,1050.7 L765.7,1054.0 L761.1,1050.7 L749.5,1043.1 Z M442.3,1062.6 L434.5,1063.8 L442.3,1072.9 L443.1,1076.8 L458.5,1085.3 L474.6,1084.2 L490.8,1088.2 L507.0,1087.0 L523.1,1089.4 L538.3,1076.8 L534.9,1063.8 L523.1,1057.9 L507.0,1060.5 L490.8,1056.9 L474.6,1055.0 L458.5,1059.5 Z M636.3,1110.5 L622.1,1116.0 L624.8,1129.0 L636.3,1135.9 L652.5,1136.7 L668.7,1133.3 L684.8,1129.8 L686.2,1129.0 L687.5,1116.0 L684.8,1114.8 L668.7,1112.0 L652.5,1112.9 Z M555.5,1139.6 L549.5,1142.1 L555.5,1154.4 L555.8,1155.1 L569.6,1168.2 L571.7,1176.6 L573.1,1168.2 L585.1,1155.1 L587.8,1149.8 L596.4,1142.1 L587.8,1139.0 L571.7,1134.5 Z M878.9,1134.3 L864.1,1142.1 L862.7,1147.1 L858.8,1155.1 L858.0,1168.2 L862.7,1172.5 L878.9,1179.7 L895.1,1174.1 L911.2,1170.7 L927.4,1174.8 L943.6,1172.5 L959.7,1173.1 L975.9,1174.7 L992.1,1176.0 L1008.2,1171.2 L1012.8,1168.2 L1014.1,1155.1 L1008.2,1145.5 L992.1,1144.7 L975.9,1143.7 L959.7,1143.5 L947.0,1142.1 L943.6,1141.2 L927.4,1135.2 L911.2,1138.6 L895.1,1134.2 Z M377.6,1152.8 L376.3,1155.1 L375.4,1168.2 L376.8,1181.2 L377.6,1182.3 L389.4,1194.2 L385.8,1207.3 L391.9,1220.3 L391.0,1233.4 L393.8,1235.2 L410.0,1239.8 L418.2,1246.4 L415.0,1259.5 L415.2,1272.5 L418.8,1285.6 L418.8,1298.6 L423.6,1311.6 L426.1,1312.8 L442.3,1322.6 L443.3,1324.7 L458.5,1332.0 L474.6,1336.6 L490.8,1337.2 L507.0,1335.7 L523.1,1325.0 L527.9,1324.7 L539.3,1324.4 L555.5,1320.1 L561.7,1324.7 L571.7,1328.5 L580.4,1324.7 L587.8,1317.3 L601.8,1324.7 L604.0,1326.5 L620.2,1334.0 L624.4,1337.7 L636.3,1348.6 L639.4,1350.8 L651.9,1363.8 L653.5,1363.8 L668.7,1359.3 L684.8,1362.6 L701.0,1360.7 L717.2,1361.7 L731.3,1363.8 L725.9,1376.9 L717.2,1382.2 L701.0,1386.4 L697.7,1389.9 L701.0,1394.3 L717.2,1402.8 L701.0,1406.8 L685.0,1416.0 L675.3,1429.1 L668.7,1440.3 L662.2,1429.1 L658.3,1416.0 L652.5,1411.8 L636.3,1409.1 L620.2,1406.3 L604.0,1412.9 L587.8,1404.3 L571.7,1411.1 L564.9,1416.0 L560.8,1429.1 L560.8,1442.1 L569.4,1455.1 L563.5,1468.2 L566.3,1481.2 L571.7,1487.6 L585.3,1494.3 L571.7,1500.1 L564.0,1507.3 L555.5,1515.7 L544.4,1520.4 L555.5,1529.7 L571.7,1525.2 L587.8,1525.2 L604.0,1524.5 L612.6,1533.4 L604.0,1542.2 L600.9,1546.5 L598.5,1559.5 L601.1,1572.5 L604.0,1584.0 L606.2,1585.6 L608.8,1598.6 L620.2,1610.8 L636.3,1607.7 L652.5,1606.5 L668.7,1606.4 L684.8,1608.7 L701.0,1609.7 L708.3,1611.7 L717.2,1613.7 L733.4,1616.0 L741.9,1611.7 L748.4,1598.6 L749.5,1598.3 L750.8,1598.6 L758.3,1611.7 L765.7,1615.2 L781.9,1615.5 L791.5,1611.7 L798.0,1605.6 L814.2,1607.0 L814.9,1611.7 L814.2,1612.4 L802.5,1624.7 L810.6,1637.8 L814.2,1640.4 L830.4,1643.7 L843.7,1650.8 L838.9,1663.9 L846.5,1670.1 L848.2,1676.9 L860.6,1690.0 L862.7,1691.5 L878.9,1701.1 L887.3,1703.0 L895.1,1704.7 L911.2,1707.6 L918.6,1703.0 L927.4,1698.3 L939.8,1690.0 L943.6,1684.9 L950.2,1676.9 L943.6,1664.3 L943.6,1663.3 L948.0,1650.8 L943.6,1646.8 L927.4,1641.8 L911.2,1641.8 L909.4,1637.8 L911.2,1631.6 L920.6,1624.7 L911.8,1611.7 L911.2,1611.2 L895.1,1609.2 L879.2,1598.6 L878.9,1598.1 L874.9,1585.6 L878.9,1583.2 L886.2,1585.6 L895.1,1589.7 L911.2,1586.6 L914.6,1585.6 L911.2,1584.5 L895.1,1578.2 L892.3,1572.5 L895.1,1569.8 L904.6,1559.5 L903.4,1546.5 L902.9,1533.4 L895.1,1526.3 L887.8,1520.4 L878.9,1507.5 L891.8,1494.3 L895.1,1493.4 L897.2,1494.3 L906.5,1507.3 L911.2,1508.7 L920.2,1507.3 L927.4,1506.9 L928.6,1507.3 L943.6,1513.6 L959.7,1518.0 L975.9,1515.3 L988.4,1520.4 L992.1,1521.5 L998.6,1520.4 L1008.2,1517.8 L1014.7,1520.4 L1024.4,1522.1 L1040.6,1525.3 L1056.8,1524.0 L1067.4,1520.4 L1072.9,1519.1 L1074.9,1520.4 L1088.5,1533.4 L1089.1,1533.8 L1091.7,1533.4 L1105.3,1533.0 L1121.4,1527.2 L1134.0,1533.4 L1137.6,1538.6 L1148.5,1533.4 L1153.8,1532.3 L1157.4,1533.4 L1167.7,1546.5 L1164.0,1559.5 L1163.1,1572.5 L1169.9,1576.6 L1186.1,1574.3 L1189.9,1572.5 L1202.3,1567.9 L1216.1,1559.5 L1216.2,1546.5 L1218.5,1538.3 L1219.5,1533.4 L1224.5,1520.4 L1234.6,1514.9 L1250.8,1507.3 L1267.0,1509.6 L1270.0,1507.3 L1273.1,1494.3 L1283.1,1487.3 L1287.7,1481.2 L1286.4,1468.2 L1285.1,1455.1 L1283.1,1453.3 L1273.1,1442.1 L1267.0,1431.9 L1250.8,1433.3 L1243.3,1429.1 L1244.5,1416.0 L1234.6,1407.3 L1218.5,1410.6 L1213.9,1403.0 L1202.3,1398.0 L1186.1,1401.0 L1169.9,1399.0 L1153.8,1392.0 L1137.6,1392.6 L1123.0,1403.0 L1121.4,1406.2 L1112.7,1403.0 L1105.3,1400.4 L1089.3,1403.0 L1072.9,1409.4 L1056.8,1404.5 L1040.6,1408.3 L1024.4,1404.2 L1018.1,1403.0 L1008.2,1398.6 L992.1,1393.2 L983.5,1389.9 L975.9,1387.8 L969.1,1389.9 L959.7,1397.6 L943.6,1391.5 L927.4,1393.6 L911.2,1391.7 L909.9,1389.9 L897.5,1376.9 L895.1,1373.1 L890.6,1376.9 L878.9,1381.5 L862.7,1383.1 L846.5,1381.3 L830.4,1379.2 L821.3,1376.9 L814.2,1374.0 L798.0,1374.9 L792.6,1376.9 L781.9,1382.4 L765.7,1379.1 L749.5,1381.0 L744.8,1376.9 L734.6,1363.8 L749.5,1357.4 L754.3,1350.8 L762.1,1337.7 L765.7,1332.2 L781.9,1328.4 L798.0,1331.4 L812.2,1337.7 L814.2,1342.2 L830.4,1344.9 L846.5,1346.0 L859.7,1337.7 L862.7,1336.9 L875.9,1324.7 L878.9,1314.8 L895.1,1315.4 L898.8,1311.6 L911.2,1307.0 L927.4,1308.1 L943.6,1306.9 L958.9,1298.6 L943.6,1295.0 L927.4,1291.9 L911.2,1291.7 L898.9,1298.6 L895.1,1307.1 L886.5,1298.6 L879.1,1285.6 L862.7,1276.5 L846.5,1276.4 L834.0,1272.5 L830.4,1260.4 L820.4,1272.5 L814.2,1273.3 L811.8,1272.5 L801.1,1259.5 L798.0,1258.3 L795.3,1259.5 L781.9,1264.6 L765.7,1263.4 L758.1,1259.5 L749.5,1255.2 L744.6,1259.5 L733.4,1266.0 L717.2,1263.5 L701.0,1260.3 L684.8,1264.3 L668.7,1270.1 L652.5,1266.4 L641.6,1259.5 L636.3,1254.7 L632.5,1246.4 L627.2,1233.4 L631.8,1220.3 L627.0,1207.3 L631.3,1194.2 L624.7,1181.2 L620.2,1178.1 L604.0,1173.7 L587.8,1179.8 L576.4,1181.2 L577.6,1194.2 L571.7,1203.6 L565.7,1194.2 L570.0,1181.2 L555.5,1175.9 L539.3,1176.5 L532.8,1168.2 L523.1,1165.7 L507.0,1165.4 L504.5,1168.2 L507.0,1171.9 L519.0,1181.2 L507.0,1184.6 L490.8,1183.2 L474.6,1182.7 L458.5,1188.5 L442.3,1189.4 L432.5,1181.2 L430.4,1168.2 L426.1,1164.4 L412.1,1168.2 L410.0,1170.6 L408.6,1168.2 L410.0,1166.5 L414.7,1155.1 L410.0,1150.2 L393.8,1145.9 Z M652.5,1167.9 L668.7,1171.0 L671.3,1168.2 L668.7,1166.0 Z M1072.9,1166.4 L1067.8,1168.2 L1056.8,1174.5 L1040.6,1174.4 L1027.2,1181.2 L1028.5,1194.2 L1040.6,1204.8 L1056.8,1198.3 L1072.9,1200.3 L1079.6,1207.3 L1072.9,1213.7 L1056.8,1209.4 L1040.6,1219.6 L1024.4,1213.2 L1008.2,1214.7 L1000.5,1220.3 L992.1,1228.8 L983.8,1233.4 L991.0,1246.4 L992.1,1255.8 L992.6,1259.5 L992.1,1261.1 L990.1,1272.5 L988.2,1285.6 L992.1,1292.9 L1008.2,1294.1 L1024.4,1287.8 L1028.9,1285.6 L1040.6,1282.4 L1056.8,1279.7 L1072.9,1282.1 L1089.1,1281.9 L1093.5,1285.6 L1105.3,1293.0 L1117.4,1285.6 L1121.4,1282.6 L1137.6,1275.9 L1141.7,1272.5 L1137.6,1267.3 L1121.4,1263.4 L1105.3,1260.4 L1102.9,1259.5 L1099.5,1246.4 L1097.5,1233.4 L1105.3,1222.0 L1117.7,1220.3 L1111.0,1207.3 L1105.3,1204.2 L1089.1,1199.0 L1081.2,1194.2 L1072.9,1186.3 L1067.7,1181.2 L1072.9,1174.4 L1075.2,1168.2 Z M525.7,1220.3 L539.3,1213.3 L555.5,1215.3 L561.9,1220.3 L571.7,1226.6 L586.5,1233.4 L580.5,1246.4 L577.9,1259.5 L573.7,1272.5 L571.7,1273.0 L570.7,1272.5 L555.5,1264.3 L539.3,1262.6 L535.4,1259.5 L523.1,1249.8 L520.1,1246.4 L523.1,1234.9 L523.7,1233.4 Z M975.5,1298.6 L975.9,1298.6 M684.8,1438.8 L672.7,1442.1 L668.7,1442.7 L652.5,1443.0 L648.4,1455.1 L636.5,1468.2 L643.9,1481.2 L636.3,1492.7 L635.4,1494.3 L634.6,1507.3 L620.2,1520.2 L636.3,1526.6 L642.5,1520.4 L652.5,1517.5 L668.7,1508.5 L684.8,1512.0 L698.6,1507.3 L701.0,1505.8 L703.5,1507.3 L701.0,1510.4 L697.1,1520.4 L701.0,1522.1 L717.2,1521.6 L720.4,1520.4 L733.4,1512.8 L747.1,1507.3 L744.3,1494.3 L733.4,1486.8 L717.4,1494.3 L701.0,1489.8 L688.0,1481.2 L687.8,1468.2 L693.7,1455.1 L686.1,1442.1 Z M842.9,1494.3 L846.5,1492.4 L852.4,1494.3 L846.5,1502.0 Z M587.8,1499.7 L585.0,1507.3 L587.8,1510.5 L595.2,1507.3 Z M757.4,1507.3 L765.7,1504.2 L781.9,1499.9 L793.7,1507.3 L781.9,1512.9 L765.7,1510.2 Z M802.8,1507.3 L814.2,1498.1 L830.4,1505.6 L837.2,1507.3 L830.4,1508.1 L815.5,1520.4 L814.2,1521.1 L812.9,1520.4 Z M846.5,1509.6 L841.7,1520.4 L846.5,1528.6 L855.1,1520.4 Z M523.1,1525.0 L510.6,1533.4 L523.1,1542.0 L538.4,1533.4 Z M1171.2,1546.5 L1186.1,1540.1 L1193.9,1546.5 L1186.6,1559.5 L1186.1,1561.6 L1185.0,1559.5 Z M927.4,1557.9 L926.0,1559.5 L927.4,1561.4 L928.8,1559.5 Z M959.7,1557.5 L955.4,1559.5 L943.6,1569.0 L937.0,1572.5 L943.6,1579.7 L948.5,1585.6 L959.7,1588.5 L966.3,1585.6 L975.9,1573.9 L976.7,1572.5 L975.9,1570.2 L966.3,1559.5 Z M586.9,1585.6 L596.5,1585.6 M651.7,1585.6 L654.1,1585.6 M1347.8,1699.2 L1341.7,1703.0 L1347.8,1714.0 L1358.6,1703.0 Z M1347.8,1720.6 L1345.7,1729.1 L1347.8,1730.5 L1349.8,1729.1 Z M1218.5,1737.9 L1212.9,1742.1 L1218.5,1747.3 L1229.9,1742.1 Z M684.8,1880.2 L675.7,1885.6 L684.8,1895.9 L701.0,1898.1 L705.4,1898.7 L717.2,1901.2 L733.4,1900.0 L736.8,1898.7 L749.5,1889.9 L756.8,1885.6 L749.5,1881.7 L733.4,1875.9 L717.2,1876.1 L701.0,1877.3 Z M523.1,1908.8 L519.0,1911.7 L523.1,1914.6 L527.9,1911.7 Z M684.8,1937.4 L682.7,1937.8 L684.8,1938.4 L693.7,1950.9 L701.0,1954.5 L717.2,1955.1 L727.4,1950.9 L721.5,1937.8 L717.2,1934.1 L701.0,1928.9 Z M555.5,1942.4 L550.7,1950.9 L548.4,1963.9 L544.3,1976.9 L547.6,1990.0 L555.5,1995.7 L567.7,1990.0 L571.7,1987.0 L577.0,1976.9 L586.9,1963.9 L587.8,1953.5 L588.1,1950.9 L571.7,1942.4 Z M620.2,2025.0 L615.4,2029.1 L614.8,2042.2 L620.2,2049.1 L630.3,2055.2 L636.3,2057.9 L645.2,2055.2 L652.5,2051.0 L665.0,2042.2 L668.7,2038.9 L676.6,2029.1 L668.7,2024.6 L652.5,2020.4 L636.3,2017.1 Z" fill="none" stroke="#242424" stroke-width="6.3" stroke-linejoin="round" stroke-linecap="round"/>
<path d="M798.0,1060.0 L784.6,1063.8 L792.0,1076.8 L798.0,1085.8 L800.4,1089.9 L809.5,1102.9 L814.2,1104.6 L830.4,1110.6 L846.5,1104.6 L848.9,1102.9 L846.5,1095.8 L844.0,1089.9 L830.4,1084.0 L816.7,1076.8 L814.5,1063.8 L814.2,1063.1 Z M878.9,1141.0 L876.8,1142.1 L869.4,1155.1 L878.9,1165.7 L890.1,1155.1 L883.4,1142.1 Z M911.2,1149.2 L902.5,1155.1 L911.2,1160.9 L927.4,1164.4 L942.5,1155.1 L927.4,1148.8 Z M959.7,1149.2 L943.9,1155.1 L959.7,1164.2 L975.9,1164.0 L989.6,1155.1 L975.9,1148.8 Z M523.1,1193.5 L518.4,1194.2 L519.3,1207.3 L523.1,1209.9 L527.9,1207.3 L525.0,1194.2 Z M620.2,1190.9 L614.0,1194.2 L620.2,1197.8 L622.7,1194.2 Z M442.3,1207.0 L429.2,1220.3 L428.9,1233.4 L429.6,1246.4 L426.1,1257.2 L425.3,1259.5 L426.1,1268.4 L426.5,1272.5 L437.1,1285.6 L437.2,1298.6 L442.3,1301.8 L458.5,1307.2 L462.0,1311.6 L474.6,1324.5 L490.8,1317.4 L507.0,1319.4 L523.1,1317.9 L535.6,1311.6 L539.3,1310.1 L553.2,1298.6 L553.6,1285.6 L539.3,1273.0 L535.5,1272.5 L523.1,1262.8 L521.5,1259.5 L510.2,1246.4 L511.0,1233.4 L507.0,1224.9 L502.5,1220.3 L499.9,1207.3 L490.8,1199.4 L474.6,1197.0 L458.5,1204.0 Z M1024.4,1233.0 L1009.8,1246.4 L1014.3,1259.5 L1024.4,1265.4 L1038.0,1259.5 L1040.6,1255.9 L1043.2,1259.5 L1040.6,1264.6 L1037.4,1272.5 L1040.6,1274.0 L1048.5,1272.5 L1056.8,1269.5 L1063.2,1272.5 L1072.9,1274.6 L1080.7,1272.5 L1072.9,1265.8 L1068.1,1259.5 L1072.9,1251.5 L1087.6,1246.4 L1072.9,1242.1 L1056.8,1237.2 L1040.6,1239.2 L1025.5,1233.4 Z M604.0,1237.6 L594.2,1246.4 L587.8,1258.6 L587.5,1259.5 L587.8,1260.2 L604.0,1268.1 L620.2,1269.8 L628.1,1259.5 L620.2,1248.5 L617.7,1246.4 Z M1008.2,1268.5 L1005.7,1272.5 L1008.2,1274.7 L1011.2,1272.5 Z M1105.3,1268.2 L1094.9,1272.5 L1105.3,1281.3 L1118.2,1272.5 Z M571.7,1285.1 L570.0,1285.6 L571.7,1288.4 L572.6,1285.6 Z M684.8,1275.7 L671.4,1285.6 L670.2,1298.6 L673.4,1311.6 L668.7,1315.6 L659.6,1311.6 L652.5,1300.2 L649.8,1298.6 L636.3,1296.2 L625.5,1298.6 L636.3,1308.2 L639.7,1311.6 L636.3,1316.8 L633.3,1324.7 L636.3,1327.4 L652.5,1337.6 L668.7,1331.6 L684.8,1331.1 L701.0,1334.0 L713.0,1324.7 L717.2,1322.8 L725.9,1324.7 L724.3,1337.7 L733.4,1347.1 L747.2,1337.7 L740.8,1324.7 L749.5,1322.6 L765.7,1317.9 L780.1,1311.6 L781.9,1308.9 L798.0,1308.9 L802.9,1311.6 L814.2,1316.5 L830.4,1323.2 L846.5,1315.3 L851.0,1311.6 L859.6,1298.6 L853.2,1285.6 L846.5,1282.6 L830.4,1278.6 L814.2,1280.0 L806.1,1285.6 L798.0,1292.4 L781.9,1293.6 L765.7,1289.5 L749.5,1289.2 L733.4,1290.8 L726.9,1285.6 L717.2,1276.2 L701.0,1275.4 Z M798.0,1388.3 L795.2,1389.9 L781.9,1395.3 L767.6,1403.0 L765.7,1403.9 L757.0,1403.0 L749.5,1401.6 L741.9,1403.0 L733.4,1404.4 L722.8,1416.0 L717.2,1423.6 L712.9,1429.1 L717.2,1438.2 L721.7,1442.1 L726.6,1455.1 L733.4,1466.5 L749.5,1464.3 L755.1,1468.2 L765.7,1470.9 L781.9,1469.3 L798.0,1481.2 L805.7,1468.2 L814.2,1464.0 L819.1,1468.2 L827.2,1481.2 L830.4,1484.0 L835.3,1481.2 L840.2,1468.2 L846.5,1464.3 L862.7,1466.4 L866.4,1468.2 L862.7,1476.1 L858.1,1481.2 L862.7,1483.4 L869.7,1481.2 L878.9,1478.6 L883.0,1481.2 L895.1,1485.9 L911.2,1486.9 L920.7,1494.3 L927.4,1496.5 L931.3,1494.3 L943.6,1486.4 L952.5,1481.2 L959.7,1474.6 L967.8,1468.2 L975.9,1466.8 L978.8,1468.2 L975.9,1476.9 L970.6,1481.2 L970.0,1494.3 L975.9,1495.5 L992.1,1500.8 L1008.2,1500.2 L1024.4,1503.2 L1040.6,1496.3 L1056.8,1499.9 L1067.1,1507.3 L1072.9,1510.6 L1088.5,1520.4 L1089.1,1520.9 L1105.3,1528.1 L1118.0,1520.4 L1121.4,1518.2 L1136.1,1507.3 L1137.6,1505.5 L1153.8,1505.2 L1167.6,1507.3 L1169.9,1508.3 L1186.1,1511.7 L1194.3,1507.3 L1200.8,1494.3 L1202.3,1493.7 L1213.8,1494.3 L1218.5,1494.9 L1234.6,1505.3 L1250.8,1499.2 L1258.0,1494.3 L1262.8,1481.2 L1267.0,1476.5 L1271.8,1468.2 L1267.0,1464.1 L1259.4,1468.2 L1250.8,1473.5 L1248.8,1468.2 L1246.6,1455.1 L1234.6,1446.9 L1226.0,1442.1 L1218.5,1431.1 L1202.3,1438.2 L1186.1,1436.5 L1184.7,1429.1 L1169.9,1423.0 L1153.8,1417.6 L1150.0,1416.0 L1153.8,1414.7 L1163.4,1403.0 L1153.8,1397.2 L1137.6,1398.4 L1131.2,1403.0 L1129.7,1416.0 L1121.4,1424.5 L1105.3,1417.1 L1089.1,1423.5 L1072.9,1423.4 L1057.4,1429.1 L1056.8,1429.4 L1040.6,1435.8 L1037.3,1429.1 L1029.6,1416.0 L1024.4,1413.2 L1008.2,1412.5 L992.1,1412.5 L979.9,1416.0 L975.9,1416.4 L973.6,1416.0 L959.7,1412.3 L950.3,1416.0 L943.6,1418.1 L927.4,1418.2 L922.8,1416.0 L911.2,1407.2 L895.1,1407.3 L878.9,1403.0 L862.7,1400.8 L846.5,1396.4 L830.4,1394.1 L814.2,1402.7 L800.2,1389.9 Z M895.1,1385.8 L887.5,1389.9 L895.1,1396.3 L899.4,1389.9 Z M1186.1,1415.4 L1184.5,1416.0 L1186.1,1423.4 L1187.1,1416.0 Z M587.8,1428.8 L587.8,1430.2 L591.4,1442.1 L599.6,1455.1 L587.8,1465.0 L583.5,1468.2 L587.8,1471.4 L604.0,1468.4 L610.5,1455.1 L620.2,1448.3 L636.3,1443.5 L637.5,1442.1 L636.3,1436.6 L620.2,1432.2 L616.1,1429.1 L604.0,1425.7 Z M1218.4,1455.1 L1218.5,1455.1 M939.9,1468.2 L943.6,1467.3 L949.9,1468.2 L943.6,1472.6 Z M603.6,1493.8 L605.4,1493.8 M1072.4,1492.5 L1072.4,1495.6 M1167.2,1494.3 L1169.9,1492.6 L1173.3,1494.3 L1169.9,1505.4 Z M684.8,1529.3 L678.6,1533.4 L684.8,1537.0 L694.2,1546.5 L684.8,1554.8 L678.1,1559.5 L670.3,1572.5 L684.8,1583.0 L701.0,1579.7 L717.2,1582.2 L727.9,1585.6 L733.4,1590.6 L749.5,1590.0 L757.5,1585.6 L765.7,1576.4 L777.6,1572.5 L781.9,1571.0 L798.0,1569.3 L803.2,1572.5 L811.9,1585.6 L814.2,1586.7 L819.0,1585.6 L825.9,1572.5 L830.4,1568.0 L846.5,1563.5 L862.7,1562.7 L868.7,1559.5 L862.7,1556.8 L846.5,1555.1 L836.4,1546.5 L830.4,1542.5 L814.2,1533.4 L798.0,1543.7 L790.6,1533.4 L781.9,1527.3 L773.0,1533.4 L768.9,1546.5 L765.7,1555.2 L756.2,1546.5 L752.1,1533.4 L749.5,1532.2 L733.4,1525.2 L717.2,1529.2 L701.0,1531.3 Z M862.7,1528.5 L857.1,1533.4 L862.7,1540.7 L878.9,1544.7 L890.5,1533.4 L878.9,1524.0 Z M668.7,1539.3 L659.4,1546.5 L668.7,1552.7 L675.4,1546.5 Z M809.8,1559.5 L814.2,1555.6 L820.9,1559.5 L814.2,1564.0 Z M1202.3,1559.5 L1202.3,1559.5 M620.2,1598.6 L636.3,1601.1 L647.2,1598.6 L636.3,1589.4 Z M830.4,1608.3 L829.1,1611.7 L816.4,1624.7 L830.4,1631.3 L843.1,1637.8 L846.5,1639.7 L851.6,1637.8 L862.7,1635.7 L878.9,1629.8 L895.1,1626.5 L895.3,1624.7 L878.9,1620.4 L870.2,1611.7 L862.7,1606.6 L846.5,1605.2 Z M878.9,1651.0 L866.7,1663.9 L862.7,1665.1 L853.3,1676.9 L862.7,1685.7 L878.9,1686.8 L879.9,1690.0 L895.1,1697.0 L911.2,1698.7 L924.9,1690.0 L927.4,1686.8 L936.0,1676.9 L927.4,1666.6 L922.6,1663.9 L911.2,1658.8 L895.1,1654.5 Z M701.0,1882.2 L690.7,1885.6 L701.0,1890.7 L710.7,1885.6 Z M636.3,2023.4 L627.8,2029.1 L636.3,2039.7 L652.5,2030.4 L653.9,2029.1 L652.5,2028.6 Z" fill="none" stroke="#494949" stroke-width="6.3" stroke-linejoin="round" stroke-linecap="round"/>
<path d="M830.4,1099.7 L830.4,1103.2 M878.9,1152.9 L877.5,1155.1 L878.9,1156.7 L880.5,1155.1 Z M959.7,1155.0 L975.9,1156.7 L978.3,1155.1 L975.9,1154.0 Z M474.6,1205.5 L471.2,1207.3 L458.5,1213.4 L442.3,1214.1 L436.1,1220.3 L441.7,1233.4 L438.6,1246.4 L437.2,1259.5 L435.5,1272.5 L442.3,1279.1 L449.9,1285.6 L458.5,1296.3 L460.4,1298.6 L470.5,1311.6 L474.6,1315.9 L480.9,1311.6 L490.8,1305.8 L507.0,1311.2 L523.1,1310.4 L539.3,1304.4 L546.2,1298.6 L547.9,1285.6 L539.3,1278.0 L523.1,1279.6 L519.1,1272.5 L507.0,1259.9 L506.2,1259.5 L502.9,1246.4 L498.7,1233.4 L490.8,1226.3 L483.4,1220.3 L486.6,1207.3 Z M684.8,1284.1 L682.9,1285.6 L679.9,1298.6 L684.8,1309.4 L701.0,1307.9 L709.8,1311.6 L717.2,1315.9 L724.2,1311.6 L730.5,1298.6 L717.2,1288.1 L714.2,1285.6 L701.0,1283.3 Z M749.5,1297.0 L737.1,1298.6 L743.1,1311.6 L749.5,1315.4 L758.6,1311.6 L753.7,1298.6 Z M814.2,1289.2 L804.0,1298.6 L814.2,1304.6 L830.4,1307.4 L846.5,1303.0 L850.3,1298.6 L846.5,1292.9 L830.4,1286.1 Z M652.5,1318.1 L645.2,1324.7 L652.5,1330.1 L665.6,1324.7 Z M1148.9,1403.2 L1154.6,1403.2 M765.7,1412.7 L757.6,1416.0 L749.5,1418.8 L734.5,1429.1 L742.0,1442.1 L749.5,1447.8 L762.2,1455.1 L765.7,1457.8 L774.2,1455.1 L781.9,1453.9 L792.9,1455.1 L798.0,1456.5 L801.5,1455.1 L814.2,1452.4 L830.4,1454.7 L838.3,1455.1 L846.5,1456.2 L862.7,1459.4 L871.6,1455.1 L878.9,1452.0 L895.1,1452.0 L899.7,1455.1 L895.1,1466.4 L890.5,1468.2 L895.1,1469.9 L896.5,1468.2 L911.2,1463.0 L927.4,1458.5 L943.6,1463.0 L959.7,1464.6 L975.9,1462.7 L987.6,1468.2 L992.1,1476.3 L1003.4,1468.2 L1008.2,1467.1 L1014.2,1468.2 L1024.4,1475.7 L1033.4,1468.2 L1036.2,1455.1 L1029.6,1442.1 L1024.4,1436.8 L1008.2,1435.1 L992.1,1434.2 L985.6,1429.1 L975.9,1424.0 L959.7,1428.0 L943.6,1426.9 L927.4,1429.0 L911.2,1440.0 L895.1,1431.9 L890.8,1429.1 L882.1,1416.0 L878.9,1415.6 L878.4,1416.0 L862.7,1420.1 L846.5,1416.0 L830.4,1409.4 L814.2,1408.7 L798.0,1406.8 L781.9,1404.2 Z M1137.6,1436.6 L1131.7,1442.1 L1121.4,1445.3 L1105.3,1446.2 L1089.1,1448.3 L1072.9,1453.1 L1056.8,1445.1 L1046.0,1455.1 L1046.7,1468.2 L1041.2,1481.2 L1056.8,1490.6 L1066.9,1481.2 L1072.9,1471.0 L1087.7,1481.2 L1078.7,1494.3 L1077.9,1507.3 L1089.1,1515.1 L1099.3,1520.4 L1105.3,1523.1 L1109.9,1520.4 L1121.4,1513.0 L1129.1,1507.3 L1137.6,1497.3 L1153.8,1497.2 L1157.4,1494.3 L1153.8,1490.1 L1137.6,1490.5 L1125.2,1481.2 L1121.4,1477.1 L1105.3,1470.7 L1091.0,1468.2 L1105.3,1466.2 L1121.4,1462.9 L1128.5,1468.2 L1137.6,1474.1 L1153.8,1477.0 L1161.3,1481.2 L1169.9,1486.6 L1185.6,1494.3 L1186.1,1495.0 L1186.7,1494.3 L1202.3,1488.6 L1218.5,1486.9 L1234.6,1489.6 L1246.4,1481.2 L1243.3,1468.2 L1234.6,1455.5 L1222.3,1468.2 L1218.5,1473.5 L1214.6,1468.2 L1205.4,1455.1 L1202.3,1452.3 L1186.1,1449.0 L1169.9,1448.4 L1153.8,1452.9 L1150.0,1455.1 L1137.6,1460.9 L1131.0,1455.1 L1137.6,1444.9 L1140.2,1442.1 Z M878.9,1529.9 L870.6,1533.4 L878.9,1537.6 L883.2,1533.4 Z M717.2,1536.0 L705.3,1546.5 L701.0,1552.2 L692.4,1559.5 L701.0,1567.8 L709.4,1572.5 L717.2,1575.5 L730.5,1572.5 L733.4,1571.9 L749.5,1564.0 L754.2,1559.5 L749.5,1555.5 L733.4,1549.5 L729.7,1546.5 Z M781.8,1546.5 L781.9,1546.5 M846.5,1615.6 L834.1,1624.7 L846.5,1633.0 L862.7,1629.3 L870.7,1624.7 L862.7,1617.4 Z M892.6,1664.1 L896.9,1664.1 M862.7,1671.5 L858.3,1676.9 L862.7,1681.0 L871.2,1676.9 Z M895.1,1689.8 L911.2,1691.8 L914.1,1690.0 L911.2,1677.8 Z" fill="none" stroke="#6d6d6d" stroke-width="6.3" stroke-linejoin="round" stroke-linecap="round"/>
<path d="M458.5,1222.9 L452.8,1233.4 L447.5,1246.4 L448.6,1259.5 L458.5,1267.5 L462.9,1272.5 L460.6,1285.6 L471.3,1298.6 L474.6,1303.5 L489.2,1298.6 L490.8,1297.8 L491.3,1298.6 L507.0,1305.2 L522.2,1298.6 L517.2,1285.6 L513.3,1272.5 L507.0,1266.0 L495.7,1259.5 L497.0,1246.4 L490.8,1236.7 L484.0,1233.4 L474.6,1225.9 Z M539.3,1283.0 L530.5,1285.6 L539.3,1298.6 L542.2,1285.6 Z M701.0,1291.5 L690.8,1298.6 L701.0,1302.9 L709.8,1298.6 Z M830.4,1295.2 L823.8,1298.6 L830.4,1301.0 L836.5,1298.6 Z M781.9,1410.3 L772.1,1416.0 L773.3,1429.1 L765.7,1435.9 L759.3,1442.1 L765.7,1445.5 L781.9,1447.1 L798.0,1448.5 L814.2,1443.7 L830.4,1450.8 L846.5,1451.9 L862.7,1449.2 L878.9,1445.7 L895.1,1443.2 L897.0,1442.1 L895.1,1441.0 L878.9,1431.2 L877.3,1429.1 L862.7,1424.5 L846.5,1419.1 L830.4,1418.1 L821.1,1416.0 L814.2,1414.6 L798.0,1411.0 Z M749.5,1426.4 L745.7,1429.1 L749.5,1434.8 L758.1,1429.1 Z M927.4,1434.2 L917.4,1442.1 L927.4,1450.3 L935.9,1455.1 L943.6,1458.7 L959.7,1459.2 L975.9,1458.6 L987.3,1455.1 L990.1,1442.1 L975.9,1430.7 L959.7,1440.2 L943.6,1438.2 Z M1008.2,1444.1 L995.1,1455.1 L1008.2,1462.4 L1024.4,1462.3 L1029.5,1455.1 L1024.4,1447.7 Z M1056.8,1452.9 L1054.3,1455.1 L1056.8,1460.0 L1060.5,1455.1 Z M1153.8,1462.8 L1142.6,1468.2 L1153.8,1471.5 L1169.9,1480.9 L1172.1,1481.2 L1186.1,1487.0 L1202.3,1483.6 L1212.4,1481.2 L1206.9,1468.2 L1202.3,1462.4 L1186.1,1455.7 L1169.9,1455.3 Z M1234.6,1463.4 L1230.0,1468.2 L1227.1,1481.2 L1234.6,1482.8 L1236.9,1481.2 L1237.9,1468.2 Z M1056.8,1477.0 L1053.8,1481.2 L1056.8,1483.0 L1058.7,1481.2 Z M1089.1,1487.9 L1084.2,1494.3 L1085.9,1507.3 L1089.1,1509.5 L1105.3,1518.5 L1121.4,1507.8 L1122.1,1507.3 L1130.7,1494.3 L1121.4,1487.3 L1105.3,1483.0 Z M717.2,1541.9 L712.0,1546.5 L703.2,1559.5 L717.2,1568.2 L733.4,1564.6 L741.7,1559.5 L733.4,1555.4 L722.7,1546.5 Z M846.5,1621.8 L842.5,1624.7 L846.5,1627.4 L856.7,1624.7 Z" fill="none" stroke="#929292" stroke-width="6.3" stroke-linejoin="round" stroke-linecap="round"/>
<path d="M458.5,1242.3 L456.4,1246.4 L458.5,1255.6 L459.6,1259.5 L470.7,1272.5 L472.6,1285.6 L474.6,1288.2 L479.2,1285.6 L489.7,1272.5 L486.0,1259.5 L490.8,1247.1 L491.0,1246.4 L474.6,1239.4 Z M507.0,1272.0 L495.9,1272.5 L507.0,1275.5 L507.5,1272.5 Z M507.0,1295.0 L505.5,1298.6 L507.0,1299.2 L508.4,1298.6 Z M798.0,1415.2 L785.3,1416.0 L788.3,1429.1 L798.0,1440.7 L812.1,1429.1 L801.3,1416.0 Z M830.4,1424.5 L817.0,1429.1 L820.5,1442.1 L830.4,1447.0 L846.5,1448.3 L858.9,1442.1 L862.7,1430.2 L863.4,1429.1 L862.7,1428.8 L846.5,1422.2 Z M927.4,1439.4 L924.0,1442.1 L927.4,1444.9 L934.4,1442.1 Z M975.9,1435.6 L966.0,1442.1 L975.9,1453.7 L984.0,1442.1 Z M1008.2,1451.3 L1003.7,1455.1 L1008.2,1457.7 L1019.2,1455.1 Z M1169.9,1458.3 L1155.6,1468.2 L1169.9,1477.9 L1186.1,1479.8 L1199.6,1468.2 L1186.1,1459.9 Z M1105.3,1488.2 L1090.6,1494.3 L1093.7,1507.3 L1105.3,1514.1 L1115.4,1507.3 L1119.5,1494.3 Z M717.2,1554.9 L715.6,1559.5 L717.2,1560.5 L721.8,1559.5 Z" fill="none" stroke="#b6b6b6" stroke-width="6.3" stroke-linejoin="round" stroke-linecap="round"/>
<path d="M474.6,1254.5 L471.7,1259.5 L474.6,1263.8 L476.9,1259.5 Z M846.5,1425.2 L833.4,1429.1 L830.4,1435.6 L828.2,1442.1 L830.4,1443.2 L846.5,1444.6 L851.6,1442.1 L855.7,1429.1 Z M975.9,1440.4 L973.4,1442.1 L975.9,1445.0 L978.0,1442.1 Z M1169.9,1461.3 L1159.9,1468.2 L1169.9,1475.0 L1186.1,1473.9 L1192.8,1468.2 L1186.1,1464.1 Z M1105.3,1493.3 L1103.0,1494.3 L1101.2,1507.3 L1105.3,1509.7 L1108.8,1507.3 L1107.5,1494.3 Z" fill="none" stroke="#dbdbdb" stroke-width="6.3" stroke-linejoin="round" stroke-linecap="round"/>
</g>
<defs><linearGradient id="cb" x1="0" y1="1" x2="0" y2="0"><stop offset="0" stop-color="#663399"/><stop offset="0.5" stop-color="#003c6e"/><stop offset="1" stop-color="#228b22"/></linearGradient></defs>
<rect x="2610.5" y="720.5" width="150.0" height="1439.3000000000002" fill="url(#cb)"/>
<line x1="2760.5" y1="2159.8" x2="2727.5" y2="2159.8" stroke="#000" stroke-width="3.1"/>
<line x1="2760.5" y1="2087.8" x2="2743.5" y2="2087.8" stroke="#000" stroke-width="3.1"/>
<line x1="2760.5" y1="2015.9" x2="2743.5" y2="2015.9" stroke="#000" stroke-width="3.1"/>
<line x1="2760.5" y1="1943.9" x2="2743.5" y2="1943.9" stroke="#000" stroke-width="3.1"/>
<line x1="2760.5" y1="1871.9" x2="2727.5" y2="1871.9" stroke="#000" stroke-width="3.1"/>
<line x1="2760.5" y1="1800.0" x2="2743.5" y2="1800.0" stroke="#000" stroke-width="3.1"/>
<line x1="2760.5" y1="1728.0" x2="2743.5" y2="1728.0" stroke="#000" stroke-width="3.1"/>
<line x1="2760.5" y1="1656.0" x2="2743.5" y2="1656.0" stroke="#000" stroke-width="3.1"/>
<line x1="2760.5" y1="1584.1" x2="2727.5" y2="1584.1" stroke="#000" stroke-width="3.1"/>
<line x1="2760.5" y1="1512.1" x2="2743.5" y2="1512.1" stroke="#000" stroke-width="3.1"/>
<line x1="2760.5" y1="1440.2" x2="2743.5" y2="1440.2" stroke="#000" stroke-width="3.1"/>
<line x1="2760.5" y1="1368.2" x2="2743.5" y2="1368.2" stroke="#000" stroke-width="3.1"/>
<line x1="2760.5" y1="1296.2" x2="2727.5" y2="1296.2" stroke="#000" stroke-width="3.1"/>
<line x1="2760.5" y1="1224.3" x2="2743.5" y2="1224.3" stroke="#000" stroke-width="3.1"/>
<line x1="2760.5" y1="1152.3" x2="2743.5" y2="1152.3" stroke="#000" stroke-width="3.1"/>
<line x1="2760.5" y1="1080.3" x2="2743.5" y2="1080.3" stroke="#000" stroke-width="3.1"/>
<line x1="2760.5" y1="1008.4" x2="2727.5" y2="1008.4" stroke="#000" stroke-width="3.1"/>
<line x1="2760.5" y1="936.4" x2="2743.5" y2="936.4" stroke="#000" stroke-width="3.1"/>
<line x1="2760.5" y1="864.4" x2="2743.5" y2="864.4" stroke="#000" stroke-width="3.1"/>
<line x1="2760.5" y1="792.5" x2="2743.5" y2="792.5" stroke="#000" stroke-width="3.1"/>
<line x1="2760.5" y1="720.5" x2="2727.5" y2="720.5" stroke="#000" stroke-width="3.1"/>
<rect x="2610.5" y="720.5" width="150.0" height="1439.3000000000002" fill="none" stroke="#000" stroke-width="3.1"/>
<line x1="475.1" y1="600.0" x2="475.1" y2="583.0" stroke="#000" stroke-width="3.1"/>
<line x1="475.1" y1="120.5" x2="475.1" y2="137.5" stroke="#000" stroke-width="3.1"/>
<line x1="589.7" y1="600.0" x2="589.7" y2="583.0" stroke="#000" stroke-width="3.1"/>
<line x1="589.7" y1="120.5" x2="589.7" y2="137.5" stroke="#000" stroke-width="3.1"/>
<line x1="704.3" y1="600.0" x2="704.3" y2="583.0" stroke="#000" stroke-width="3.1"/>
<line x1="704.3" y1="120.5" x2="704.3" y2="137.5" stroke="#000" stroke-width="3.1"/>
<line x1="818.9" y1="600.0" x2="818.9" y2="583.0" stroke="#000" stroke-width="3.1"/>
<line x1="818.9" y1="120.5" x2="818.9" y2="137.5" stroke="#000" stroke-width="3.1"/>
<line x1="1048.1" y1="600.0" x2="1048.1" y2="583.0" stroke="#000" stroke-width="3.1"/>
<line x1="1048.1" y1="120.5" x2="1048.1" y2="137.5" stroke="#000" stroke-width="3.1"/>
<line x1="1162.7" y1="600.0" x2="1162.7" y2="583.0" stroke="#000" stroke-width="3.1"/>
<line x1="1162.7" y1="120.5" x2="1162.7" y2="137.5" stroke="#000" stroke-width="3.1"/>
<line x1="1277.3" y1="600.0" x2="1277.3" y2="583.0" stroke="#000" stroke-width="3.1"/>
<line x1="1277.3" y1="120.5" x2="1277.3" y2="137.5" stroke="#000" stroke-width="3.1"/>
<line x1="1391.9" y1="600.0" x2="1391.9" y2="583.0" stroke="#000" stroke-width="3.1"/>
<line x1="1391.9" y1="120.5" x2="1391.9" y2="137.5" stroke="#000" stroke-width="3.1"/>
<line x1="1621.1" y1="600.0" x2="1621.1" y2="583.0" stroke="#000" stroke-width="3.1"/>
<line x1="1621.1" y1="120.5" x2="1621.1" y2="137.5" stroke="#000" stroke-width="3.1"/>
<line x1="1735.7" y1="600.0" x2="1735.7" y2="583.0" stroke="#000" stroke-width="3.1"/>
<line x1="1735.7" y1="120.5" x2="1735.7" y2="137.5" stroke="#000" stroke-width="3.1"/>
<line x1="933.5" y1="600.0" x2="933.5" y2="567.0" stroke="#000" stroke-width="3.1"/>
<line x1="933.5" y1="120.5" x2="933.5" y2="153.5" stroke="#000" stroke-width="3.1"/>
<line x1="1506.5" y1="600.0" x2="1506.5" y2="567.0" stroke="#000" stroke-width="3.1"/>
<line x1="1506.5" y1="120.5" x2="1506.5" y2="153.5" stroke="#000" stroke-width="3.1"/>
<line x1="360.5" y1="505.6" x2="377.5" y2="505.6" stroke="#000" stroke-width="3.1"/>
<line x1="1800.5" y1="505.6" x2="1783.5" y2="505.6" stroke="#000" stroke-width="3.1"/>
<line x1="360.5" y1="411.2" x2="377.5" y2="411.2" stroke="#000" stroke-width="3.1"/>
<line x1="1800.5" y1="411.2" x2="1783.5" y2="411.2" stroke="#000" stroke-width="3.1"/>
<line x1="360.5" y1="316.8" x2="377.5" y2="316.8" stroke="#000" stroke-width="3.1"/>
<line x1="1800.5" y1="316.8" x2="1783.5" y2="316.8" stroke="#000" stroke-width="3.1"/>
<line x1="360.5" y1="222.4" x2="377.5" y2="222.4" stroke="#000" stroke-width="3.1"/>
<line x1="1800.5" y1="222.4" x2="1783.5" y2="222.4" stroke="#000" stroke-width="3.1"/>
<line x1="360.5" y1="600.0" x2="393.5" y2="600.0" stroke="#000" stroke-width="3.1"/>
<line x1="1800.5" y1="600.0" x2="1767.5" y2="600.0" stroke="#000" stroke-width="3.1"/>
<line x1="360.5" y1="128.0" x2="393.5" y2="128.0" stroke="#000" stroke-width="3.1"/>
<line x1="1800.5" y1="128.0" x2="1767.5" y2="128.0" stroke="#000" stroke-width="3.1"/>
<rect x="360.5" y="120.5" width="1440.0" height="479.5" fill="none" stroke="#000" stroke-width="3.1"/>
<line x1="475.1" y1="2159.8" x2="475.1" y2="2142.8" stroke="#000" stroke-width="3.1"/>
<line x1="475.1" y1="720.5" x2="475.1" y2="737.5" stroke="#000" stroke-width="3.1"/>
<line x1="589.7" y1="2159.8" x2="589.7" y2="2142.8" stroke="#000" stroke-width="3.1"/>
<line x1="589.7" y1="720.5" x2="589.7" y2="737.5" stroke="#000" stroke-width="3.1"/>
<line x1="704.3" y1="2159.8" x2="704.3" y2="2142.8" stroke="#000" stroke-width="3.1"/>
<line x1="704.3" y1="720.5" x2="704.3" y2="737.5" stroke="#000" stroke-width="3.1"/>
<line x1="818.9" y1="2159.8" x2="818.9" y2="2142.8" stroke="#000" stroke-width="3.1"/>
<line x1="818.9" y1="720.5" x2="818.9" y2="737.5" stroke="#000" stroke-width="3.1"/>
<line x1="1048.1" y1="2159.8" x2="1048.1" y2="2142.8" stroke="#000" stroke-width="3.1"/>
<line x1="1048.1" y1="720.5" x2="1048.1" y2="737.5" stroke="#000" stroke-width="3.1"/>
<line x1="1162.7" y1="2159.8" x2="1162.7" y2="2142.8" stroke="#000" stroke-width="3.1"/>
<line x1="1162.7" y1="720.5" x2="1162.7" y2="737.5" stroke="#000" stroke-width="3.1"/>
<line x1="1277.3" y1="2159.8" x2="1277.3" y2="2142.8" stroke="#000" stroke-width="3.1"/>
<line x1="1277.3" y1="720.5" x2="1277.3" y2="737.5" stroke="#000" stroke-width="3.1"/>
<line x1="1391.9" y1="2159.8" x2="1391.9" y2="2142.8" stroke="#000" stroke-width="3.1"/>
<line x1="1391.9" y1="720.5" x2="1391.9" y2="737.5" stroke="#000" stroke-width="3.1"/>
<line x1="1621.1" y1="2159.8" x2="1621.1" y2="2142.8" stroke="#000" stroke-width="3.1"/>
<line x1="1621.1" y1="720.5" x2="1621.1" y2="737.5" stroke="#000" stroke-width="3.1"/>
<line x1="1735.7" y1="2159.8" x2="1735.7" y2="2142.8" stroke="#000" stroke-width="3.1"/>
<line x1="1735.7" y1="720.5" x2="1735.7" y2="737.5" stroke="#000" stroke-width="3.1"/>
<line x1="933.5" y1="2159.8" x2="933.5" y2="2126.8" stroke="#000" stroke-width="3.1"/>
<line x1="933.5" y1="720.5" x2="933.5" y2="753.5" stroke="#000" stroke-width="3.1"/>
<line x1="1506.5" y1="2159.8" x2="1506.5" y2="2126.8" stroke="#000" stroke-width="3.1"/>
<line x1="1506.5" y1="720.5" x2="1506.5" y2="753.5" stroke="#000" stroke-width="3.1"/>
<line x1="360.5" y1="2097.8" x2="377.5" y2="2097.8" stroke="#000" stroke-width="3.1"/>
<line x1="1800.5" y1="2097.8" x2="1783.5" y2="2097.8" stroke="#000" stroke-width="3.1"/>
<line x1="360.5" y1="2032.0" x2="377.5" y2="2032.0" stroke="#000" stroke-width="3.1"/>
<line x1="1800.5" y1="2032.0" x2="1783.5" y2="2032.0" stroke="#000" stroke-width="3.1"/>
<line x1="360.5" y1="1900.4" x2="377.5" y2="1900.4" stroke="#000" stroke-width="3.1"/>
<line x1="1800.5" y1="1900.4" x2="1783.5" y2="1900.4" stroke="#000" stroke-width="3.1"/>
<line x1="360.5" y1="1834.7" x2="377.5" y2="1834.7" stroke="#000" stroke-width="3.1"/>
<line x1="1800.5" y1="1834.7" x2="1783.5" y2="1834.7" stroke="#000" stroke-width="3.1"/>
<line x1="360.5" y1="1768.9" x2="377.5" y2="1768.9" stroke="#000" stroke-width="3.1"/>
<line x1="1800.5" y1="1768.9" x2="1783.5" y2="1768.9" stroke="#000" stroke-width="3.1"/>
<line x1="360.5" y1="1637.3" x2="377.5" y2="1637.3" stroke="#000" stroke-width="3.1"/>
<line x1="1800.5" y1="1637.3" x2="1783.5" y2="1637.3" stroke="#000" stroke-width="3.1"/>
<line x1="360.5" y1="1571.5" x2="377.5" y2="1571.5" stroke="#000" stroke-width="3.1"/>
<line x1="1800.5" y1="1571.5" x2="1783.5" y2="1571.5" stroke="#000" stroke-width="3.1"/>
<line x1="360.5" y1="1505.8" x2="377.5" y2="1505.8" stroke="#000" stroke-width="3.1"/>
<line x1="1800.5" y1="1505.8" x2="1783.5" y2="1505.8" stroke="#000" stroke-width="3.1"/>
<line x1="360.5" y1="1374.2" x2="377.5" y2="1374.2" stroke="#000" stroke-width="3.1"/>
<line x1="1800.5" y1="1374.2" x2="1783.5" y2="1374.2" stroke="#000" stroke-width="3.1"/>
<line x1="360.5" y1="1308.5" x2="377.5" y2="1308.5" stroke="#000" stroke-width="3.1"/>
<line x1="1800.5" y1="1308.5" x2="1783.5" y2="1308.5" stroke="#000" stroke-width="3.1"/>
<line x1="360.5" y1="1242.7" x2="377.5" y2="1242.7" stroke="#000" stroke-width="3.1"/>
<line x1="1800.5" y1="1242.7" x2="1783.5" y2="1242.7" stroke="#000" stroke-width="3.1"/>
<line x1="360.5" y1="1111.1" x2="377.5" y2="1111.1" stroke="#000" stroke-width="3.1"/>
<line x1="1800.5" y1="1111.1" x2="1783.5" y2="1111.1" stroke="#000" stroke-width="3.1"/>
<line x1="360.5" y1="1045.3" x2="377.5" y2="1045.3" stroke="#000" stroke-width="3.1"/>
<line x1="1800.5" y1="1045.3" x2="1783.5" y2="1045.3" stroke="#000" stroke-width="3.1"/>
<line x1="360.5" y1="979.6" x2="377.5" y2="979.6" stroke="#000" stroke-width="3.1"/>
<line x1="1800.5" y1="979.6" x2="1783.5" y2="979.6" stroke="#000" stroke-width="3.1"/>
<line x1="360.5" y1="848.0" x2="377.5" y2="848.0" stroke="#000" stroke-width="3.1"/>
<line x1="1800.5" y1="848.0" x2="1783.5" y2="848.0" stroke="#000" stroke-width="3.1"/>
<line x1="360.5" y1="782.2" x2="377.5" y2="782.2" stroke="#000" stroke-width="3.1"/>
<line x1="1800.5" y1="782.2" x2="1783.5" y2="782.2" stroke="#000" stroke-width="3.1"/>
<line x1="360.5" y1="1966.2" x2="393.5" y2="1966.2" stroke="#000" stroke-width="3.1"/>
<line x1="1800.5" y1="1966.2" x2="1767.5" y2="1966.2" stroke="#000" stroke-width="3.1"/>
<line x1="360.5" y1="1703.1" x2="393.5" y2="1703.1" stroke="#000" stroke-width="3.1"/>
<line x1="1800.5" y1="1703.1" x2="1767.5" y2="1703.1" stroke="#000" stroke-width="3.1"/>
<line x1="360.5" y1="1440.0" x2="393.5" y2="1440.0" stroke="#000" stroke-width="3.1"/>
<line x1="1800.5" y1="1440.0" x2="1767.5" y2="1440.0" stroke="#000" stroke-width="3.1"/>
<line x1="360.5" y1="1176.9" x2="393.5" y2="1176.9" stroke="#000" stroke-width="3.1"/>
<line x1="1800.5" y1="1176.9" x2="1767.5" y2="1176.9" stroke="#000" stroke-width="3.1"/>
<line x1="360.5" y1="913.8" x2="393.5" y2="913.8" stroke="#000" stroke-width="3.1"/>
<line x1="1800.5" y1="913.8" x2="1767.5" y2="913.8" stroke="#000" stroke-width="3.1"/>
<rect x="360.5" y="720.5" width="1440.0" height="1439.3000000000002" fill="none" stroke="#000" stroke-width="3.1"/>
<line x1="1994.1" y1="2159.8" x2="1994.1" y2="2142.8" stroke="#000" stroke-width="3.1"/>
<line x1="1994.1" y1="720.5" x2="1994.1" y2="737.5" stroke="#000" stroke-width="3.1"/>
<line x1="2067.7" y1="2159.8" x2="2067.7" y2="2142.8" stroke="#000" stroke-width="3.1"/>
<line x1="2067.7" y1="720.5" x2="2067.7" y2="737.5" stroke="#000" stroke-width="3.1"/>
<line x1="2141.3" y1="2159.8" x2="2141.3" y2="2142.8" stroke="#000" stroke-width="3.1"/>
<line x1="2141.3" y1="720.5" x2="2141.3" y2="737.5" stroke="#000" stroke-width="3.1"/>
<line x1="2214.9" y1="2159.8" x2="2214.9" y2="2142.8" stroke="#000" stroke-width="3.1"/>
<line x1="2214.9" y1="720.5" x2="2214.9" y2="737.5" stroke="#000" stroke-width="3.1"/>
<line x1="2362.1" y1="2159.8" x2="2362.1" y2="2142.8" stroke="#000" stroke-width="3.1"/>
<line x1="2362.1" y1="720.5" x2="2362.1" y2="737.5" stroke="#000" stroke-width="3.1"/>
<line x1="2435.7" y1="2159.8" x2="2435.7" y2="2142.8" stroke="#000" stroke-width="3.1"/>
<line x1="2435.7" y1="720.5" x2="2435.7" y2="737.5" stroke="#000" stroke-width="3.1"/>
<line x1="2288.5" y1="2159.8" x2="2288.5" y2="2126.8" stroke="#000" stroke-width="3.1"/>
<line x1="2288.5" y1="720.5" x2="2288.5" y2="753.5" stroke="#000" stroke-width="3.1"/>
<line x1="1920.5" y1="2097.8" x2="1937.5" y2="2097.8" stroke="#000" stroke-width="3.1"/>
<line x1="2490.5" y1="2097.8" x2="2473.5" y2="2097.8" stroke="#000" stroke-width="3.1"/>
<line x1="1920.5" y1="2032.0" x2="1937.5" y2="2032.0" stroke="#000" stroke-width="3.1"/>
<line x1="2490.5" y1="2032.0" x2="2473.5" y2="2032.0" stroke="#000" stroke-width="3.1"/>
<line x1="1920.5" y1="1900.4" x2="1937.5" y2="1900.4" stroke="#000" stroke-width="3.1"/>
<line x1="2490.5" y1="1900.4" x2="2473.5" y2="1900.4" stroke="#000" stroke-width="3.1"/>
<line x1="1920.5" y1="1834.7" x2="1937.5" y2="1834.7" stroke="#000" stroke-width="3.1"/>
<line x1="2490.5" y1="1834.7" x2="2473.5" y2="1834.7" stroke="#000" stroke-width="3.1"/>
<line x1="1920.5" y1="1768.9" x2="1937.5" y2="1768.9" stroke="#000" stroke-width="3.1"/>
<line x1="2490.5" y1="1768.9" x2="2473.5" y2="1768.9" stroke="#000" stroke-width="3.1"/>
<line x1="1920.5" y1="1637.3" x2="1937.5" y2="1637.3" stroke="#000" stroke-width="3.1"/>
<line x1="2490.5" y1="1637.3" x2="2473.5" y2="1637.3" stroke="#000" stroke-width="3.1"/>
<line x1="1920.5" y1="1571.5" x2="1937.5" y2="1571.5" stroke="#000" stroke-width="3.1"/>
<line x1="2490.5" y1="1571.5" x2="2473.5" y2="1571.5" stroke="#000" stroke-width="3.1"/>
<line x1="1920.5" y1="1505.8" x2="1937.5" y2="1505.8" stroke="#000" stroke-width="3.1"/>
<line x1="2490.5" y1="1505.8" x2="2473.5" y2="1505.8" stroke="#000" stroke-width="3.1"/>
<line x1="1920.5" y1="1374.2" x2="1937.5" y2="1374.2" stroke="#000" stroke-width="3.1"/>
<line x1="2490.5" y1="1374.2" x2="2473.5" y2="1374.2" stroke="#000" stroke-width="3.1"/>
<line x1="1920.5" y1="1308.5" x2="1937.5" y2="1308.5" stroke="#000" stroke-width="3.1"/>
<line x1="2490.5" y1="1308.5" x2="2473.5" y2="1308.5" stroke="#000" stroke-width="3.1"/>
<line x1="1920.5" y1="1242.7" x2="1937.5" y2="1242.7" stroke="#000" stroke-width="3.1"/>
<line x1="2490.5" y1="1242.7" x2="2473.5" y2="1242.7" stroke="#000" stroke-width="3.1"/>
<line x1="1920.5" y1="1111.1" x2="1937.5" y2="1111.1" stroke="#000" stroke-width="3.1"/>
<line x1="2490.5" y1="1111.1" x2="2473.5" y2="1111.1" stroke="#000" stroke-width="3.1"/>
<line x1="1920.5" y1="1045.3" x2="1937.5" y2="1045.3" stroke="#000" stroke-width="3.1"/>
<line x1="2490.5" y1="1045.3" x2="2473.5" y2="1045.3" stroke="#000" stroke-width="3.1"/>
<line x1="1920.5" y1="979.6" x2="1937.5" y2="979.6" stroke="#000" stroke-width="3.1"/>
<line x1="2490.5" y1="979.6" x2="2473.5" y2="979.6" stroke="#000" stroke-width="3.1"/>
<line x1="1920.5" y1="848.0" x2="1937.5" y2="848.0" stroke="#000" stroke-width="3.1"/>
<line x1="2490.5" y1="848.0" x2="2473.5" y2="848.0" stroke="#000" stroke-width="3.1"/>
<line x1="1920.5" y1="782.2" x2="1937.5" y2="782.2" stroke="#000" stroke-width="3.1"/>
<line x1="2490.5" y1="782.2" x2="2473.5" y2="782.2" stroke="#000" stroke-width="3.1"/>
<line x1="1920.5" y1="1966.2" x2="1953.5" y2="1966.2" stroke="#000" stroke-width="3.1"/>
<line x1="2490.5" y1="1966.2" x2="2457.5" y2="1966.2" stroke="#000" stroke-width="3.1"/>
<line x1="1920.5" y1="1703.1" x2="1953.5" y2="1703.1" stroke="#000" stroke-width="3.1"/>
<line x1="2490.5" y1="1703.1" x2="2457.5" y2="1703.1" stroke="#000" stroke-width="3.1"/>
<line x1="1920.5" y1="1440.0" x2="1953.5" y2="1440.0" stroke="#000" stroke-width="3.1"/>
<line x1="2490.5" y1="1440.0" x2="2457.5" y2="1440.0" stroke="#000" stroke-width="3.1"/>
<line x1="1920.5" y1="1176.9" x2="1953.5" y2="1176.9" stroke="#000" stroke-width="3.1"/>
<line x1="2490.5" y1="1176.9" x2="2457.5" y2="1176.9" stroke="#000" stroke-width="3.1"/>
<line x1="1920.5" y1="913.8" x2="1953.5" y2="913.8" stroke="#000" stroke-width="3.1"/>
<line x1="2490.5" y1="913.8" x2="2457.5" y2="913.8" stroke="#000" stroke-width="3.1"/>
<rect x="1920.5" y="720.5" width="570.0" height="1439.3000000000002" fill="none" stroke="#000" stroke-width="3.1"/>
<text x="340.35" y="149.5" font-size="85" text-anchor="end" font-weight="bold" textLength="87.5" lengthAdjust="spacingAndGlyphs">500</text>
<text x="341.50" y="149.5" font-size="85" text-anchor="end" font-weight="bold" textLength="87.5" lengthAdjust="spacingAndGlyphs">500</text>
<text x="342.65" y="149.5" font-size="85" text-anchor="end" font-weight="bold" textLength="87.5" lengthAdjust="spacingAndGlyphs">500</text>
<text x="340.35" y="620.5" font-size="85" text-anchor="end" font-weight="bold" textLength="25.5" lengthAdjust="spacingAndGlyphs">0</text>
<text x="341.50" y="620.5" font-size="85" text-anchor="end" font-weight="bold" textLength="25.5" lengthAdjust="spacingAndGlyphs">0</text>
<text x="342.65" y="620.5" font-size="85" text-anchor="end" font-weight="bold" textLength="25.5" lengthAdjust="spacingAndGlyphs">0</text>
<text x="210.20" y="362.0" font-size="106" text-anchor="middle" font-weight="bold" textLength="274.0" lengthAdjust="spacingAndGlyphs" transform="rotate(-90 211.5 362.0)"># Counts</text>
<text x="211.50" y="362.0" font-size="106" text-anchor="middle" font-weight="bold" textLength="274.0" lengthAdjust="spacingAndGlyphs" transform="rotate(-90 211.5 362.0)"># Counts</text>
<text x="212.80" y="362.0" font-size="106" text-anchor="middle" font-weight="bold" textLength="274.0" lengthAdjust="spacingAndGlyphs" transform="rotate(-90 211.5 362.0)"># Counts</text>
<text x="341.35" y="935.3" font-size="85" text-anchor="end" font-weight="bold" textLength="91.0" lengthAdjust="spacingAndGlyphs">400</text>
<text x="342.50" y="935.3" font-size="85" text-anchor="end" font-weight="bold" textLength="91.0" lengthAdjust="spacingAndGlyphs">400</text>
<text x="343.65" y="935.3" font-size="85" text-anchor="end" font-weight="bold" textLength="91.0" lengthAdjust="spacingAndGlyphs">400</text>
<text x="341.35" y="1198.4" font-size="85" text-anchor="end" font-weight="bold" textLength="91.0" lengthAdjust="spacingAndGlyphs">200</text>
<text x="342.50" y="1198.4" font-size="85" text-anchor="end" font-weight="bold" textLength="91.0" lengthAdjust="spacingAndGlyphs">200</text>
<text x="343.65" y="1198.4" font-size="85" text-anchor="end" font-weight="bold" textLength="91.0" lengthAdjust="spacingAndGlyphs">200</text>
<text x="341.35" y="1461.5" font-size="85" text-anchor="end" font-weight="bold" textLength="27.0" lengthAdjust="spacingAndGlyphs">0</text>
<text x="342.50" y="1461.5" font-size="85" text-anchor="end" font-weight="bold" textLength="27.0" lengthAdjust="spacingAndGlyphs">0</text>
<text x="343.65" y="1461.5" font-size="85" text-anchor="end" font-weight="bold" textLength="27.0" lengthAdjust="spacingAndGlyphs">0</text>
<text x="341.35" y="1724.6" font-size="85" text-anchor="end" font-weight="bold" textLength="91.0" lengthAdjust="spacingAndGlyphs">200</text>
<text x="342.50" y="1724.6" font-size="85" text-anchor="end" font-weight="bold" textLength="91.0" lengthAdjust="spacingAndGlyphs">200</text>
<text x="343.65" y="1724.6" font-size="85" text-anchor="end" font-weight="bold" textLength="91.0" lengthAdjust="spacingAndGlyphs">200</text>
<rect x="205" y="1699.3" width="42" height="7.6" fill="#000"/>
<text x="341.35" y="1987.7" font-size="85" text-anchor="end" font-weight="bold" textLength="91.0" lengthAdjust="spacingAndGlyphs">400</text>
<text x="342.50" y="1987.7" font-size="85" text-anchor="end" font-weight="bold" textLength="91.0" lengthAdjust="spacingAndGlyphs">400</text>
<text x="343.65" y="1987.7" font-size="85" text-anchor="end" font-weight="bold" textLength="91.0" lengthAdjust="spacingAndGlyphs">400</text>
<rect x="205" y="1962.4" width="42" height="7.6" fill="#000"/>
<text x="161.40" y="1443.0" font-size="106" text-anchor="middle" font-weight="bold" textLength="674.0" lengthAdjust="spacingAndGlyphs" transform="rotate(-90 162.7 1443.0)">Precession (degrees)</text>
<text x="162.70" y="1443.0" font-size="106" text-anchor="middle" font-weight="bold" textLength="674.0" lengthAdjust="spacingAndGlyphs" transform="rotate(-90 162.7 1443.0)">Precession (degrees)</text>
<text x="164.00" y="1443.0" font-size="106" text-anchor="middle" font-weight="bold" textLength="674.0" lengthAdjust="spacingAndGlyphs" transform="rotate(-90 162.7 1443.0)">Precession (degrees)</text>
<text x="359.85" y="2236.0" font-size="85" text-anchor="middle" font-weight="bold" textLength="26.0" lengthAdjust="spacingAndGlyphs">0</text>
<text x="361.00" y="2236.0" font-size="85" text-anchor="middle" font-weight="bold" textLength="26.0" lengthAdjust="spacingAndGlyphs">0</text>
<text x="362.15" y="2236.0" font-size="85" text-anchor="middle" font-weight="bold" textLength="26.0" lengthAdjust="spacingAndGlyphs">0</text>
<text x="932.85" y="2236.0" font-size="85" text-anchor="middle" font-weight="bold" textLength="26.0" lengthAdjust="spacingAndGlyphs">5</text>
<text x="934.00" y="2236.0" font-size="85" text-anchor="middle" font-weight="bold" textLength="26.0" lengthAdjust="spacingAndGlyphs">5</text>
<text x="935.15" y="2236.0" font-size="85" text-anchor="middle" font-weight="bold" textLength="26.0" lengthAdjust="spacingAndGlyphs">5</text>
<text x="1507.85" y="2236.0" font-size="85" text-anchor="middle" font-weight="bold" textLength="48.0" lengthAdjust="spacingAndGlyphs">10</text>
<text x="1509.00" y="2236.0" font-size="85" text-anchor="middle" font-weight="bold" textLength="48.0" lengthAdjust="spacingAndGlyphs">10</text>
<text x="1510.15" y="2236.0" font-size="85" text-anchor="middle" font-weight="bold" textLength="48.0" lengthAdjust="spacingAndGlyphs">10</text>
<text x="1078.70" y="2342.6" font-size="106" text-anchor="middle" font-weight="bold" textLength="843.0" lengthAdjust="spacingAndGlyphs">Lateral displacement (nm)</text>
<text x="1080.00" y="2342.6" font-size="106" text-anchor="middle" font-weight="bold" textLength="843.0" lengthAdjust="spacingAndGlyphs">Lateral displacement (nm)</text>
<text x="1081.30" y="2342.6" font-size="106" text-anchor="middle" font-weight="bold" textLength="843.0" lengthAdjust="spacingAndGlyphs">Lateral displacement (nm)</text>
<text x="1919.85" y="2236.0" font-size="85" text-anchor="middle" font-weight="bold" textLength="26.5" lengthAdjust="spacingAndGlyphs">0</text>
<text x="1921.00" y="2236.0" font-size="85" text-anchor="middle" font-weight="bold" textLength="26.5" lengthAdjust="spacingAndGlyphs">0</text>
<text x="1922.15" y="2236.0" font-size="85" text-anchor="middle" font-weight="bold" textLength="26.5" lengthAdjust="spacingAndGlyphs">0</text>
<text x="2286.85" y="2236.0" font-size="85" text-anchor="middle" font-weight="bold" textLength="89.0" lengthAdjust="spacingAndGlyphs">500</text>
<text x="2288.00" y="2236.0" font-size="85" text-anchor="middle" font-weight="bold" textLength="89.0" lengthAdjust="spacingAndGlyphs">500</text>
<text x="2289.15" y="2236.0" font-size="85" text-anchor="middle" font-weight="bold" textLength="89.0" lengthAdjust="spacingAndGlyphs">500</text>
<text x="2202.70" y="2344.0" font-size="106" text-anchor="middle" font-weight="bold" textLength="276.0" lengthAdjust="spacingAndGlyphs"># Counts</text>
<text x="2204.00" y="2344.0" font-size="106" text-anchor="middle" font-weight="bold" textLength="276.0" lengthAdjust="spacingAndGlyphs"># Counts</text>
<text x="2205.30" y="2344.0" font-size="106" text-anchor="middle" font-weight="bold" textLength="276.0" lengthAdjust="spacingAndGlyphs"># Counts</text>
<text x="2779.85" y="2179.8" font-size="85" text-anchor="start" font-weight="bold" textLength="71.0" lengthAdjust="spacingAndGlyphs">0.0</text>
<text x="2781.00" y="2179.8" font-size="85" text-anchor="start" font-weight="bold" textLength="71.0" lengthAdjust="spacingAndGlyphs">0.0</text>
<text x="2782.15" y="2179.8" font-size="85" text-anchor="start" font-weight="bold" textLength="71.0" lengthAdjust="spacingAndGlyphs">0.0</text>
<text x="2779.85" y="1891.9" font-size="85" text-anchor="start" font-weight="bold" textLength="71.0" lengthAdjust="spacingAndGlyphs">0.2</text>
<text x="2781.00" y="1891.9" font-size="85" text-anchor="start" font-weight="bold" textLength="71.0" lengthAdjust="spacingAndGlyphs">0.2</text>
<text x="2782.15" y="1891.9" font-size="85" text-anchor="start" font-weight="bold" textLength="71.0" lengthAdjust="spacingAndGlyphs">0.2</text>
<text x="2779.85" y="1604.1" font-size="85" text-anchor="start" font-weight="bold" textLength="71.0" lengthAdjust="spacingAndGlyphs">0.4</text>
<text x="2781.00" y="1604.1" font-size="85" text-anchor="start" font-weight="bold" textLength="71.0" lengthAdjust="spacingAndGlyphs">0.4</text>
<text x="2782.15" y="1604.1" font-size="85" text-anchor="start" font-weight="bold" textLength="71.0" lengthAdjust="spacingAndGlyphs">0.4</text>
<text x="2779.85" y="1316.2" font-size="85" text-anchor="start" font-weight="bold" textLength="71.0" lengthAdjust="spacingAndGlyphs">0.6</text>
<text x="2781.00" y="1316.2" font-size="85" text-anchor="start" font-weight="bold" textLength="71.0" lengthAdjust="spacingAndGlyphs">0.6</text>
<text x="2782.15" y="1316.2" font-size="85" text-anchor="start" font-weight="bold" textLength="71.0" lengthAdjust="spacingAndGlyphs">0.6</text>
<text x="2779.85" y="1028.4" font-size="85" text-anchor="start" font-weight="bold" textLength="71.0" lengthAdjust="spacingAndGlyphs">0.8</text>
<text x="2781.00" y="1028.4" font-size="85" text-anchor="start" font-weight="bold" textLength="71.0" lengthAdjust="spacingAndGlyphs">0.8</text>
<text x="2782.15" y="1028.4" font-size="85" text-anchor="start" font-weight="bold" textLength="71.0" lengthAdjust="spacingAndGlyphs">0.8</text>
<text x="2779.85" y="740.5" font-size="85" text-anchor="start" font-weight="bold" textLength="71.0" lengthAdjust="spacingAndGlyphs">1.0</text>
<text x="2781.00" y="740.5" font-size="85" text-anchor="start" font-weight="bold" textLength="71.0" lengthAdjust="spacingAndGlyphs">1.0</text>
<text x="2782.15" y="740.5" font-size="85" text-anchor="start" font-weight="bold" textLength="71.0" lengthAdjust="spacingAndGlyphs">1.0</text>
<text x="2928.35" y="1440.0" font-size="83" text-anchor="middle" font-weight="bold" textLength="581.0" lengthAdjust="spacingAndGlyphs" transform="rotate(-90 2929.5 1440.0)">Normalized Mean Time</text>
<text x="2929.50" y="1440.0" font-size="83" text-anchor="middle" font-weight="bold" textLength="581.0" lengthAdjust="spacingAndGlyphs" transform="rotate(-90 2929.5 1440.0)">Normalized Mean Time</text>
<text x="2930.65" y="1440.0" font-size="83" text-anchor="middle" font-weight="bold" textLength="581.0" lengthAdjust="spacingAndGlyphs" transform="rotate(-90 2929.5 1440.0)">Normalized Mean Time</text>
<text x="1916.70" y="282.0" font-size="128" text-anchor="start" font-weight="bold" textLength="243.0" lengthAdjust="spacingAndGlyphs">PepDF</text>
<text x="1918.00" y="282.0" font-size="128" text-anchor="start" font-weight="bold" textLength="243.0" lengthAdjust="spacingAndGlyphs">PepDF</text>
<text x="1919.30" y="282.0" font-size="128" text-anchor="start" font-weight="bold" textLength="243.0" lengthAdjust="spacingAndGlyphs">PepDF</text>
<text x="1920.70" y="432.0" font-size="105" text-anchor="start" font-weight="bold" textLength="670.0" lengthAdjust="spacingAndGlyphs">Time window: 200 ns</text>
<text x="1922.00" y="432.0" font-size="105" text-anchor="start" font-weight="bold" textLength="670.0" lengthAdjust="spacingAndGlyphs">Time window: 200 ns</text>
<text x="1923.30" y="432.0" font-size="105" text-anchor="start" font-weight="bold" textLength="670.0" lengthAdjust="spacingAndGlyphs">Time window: 200 ns</text></svg></body></html>
